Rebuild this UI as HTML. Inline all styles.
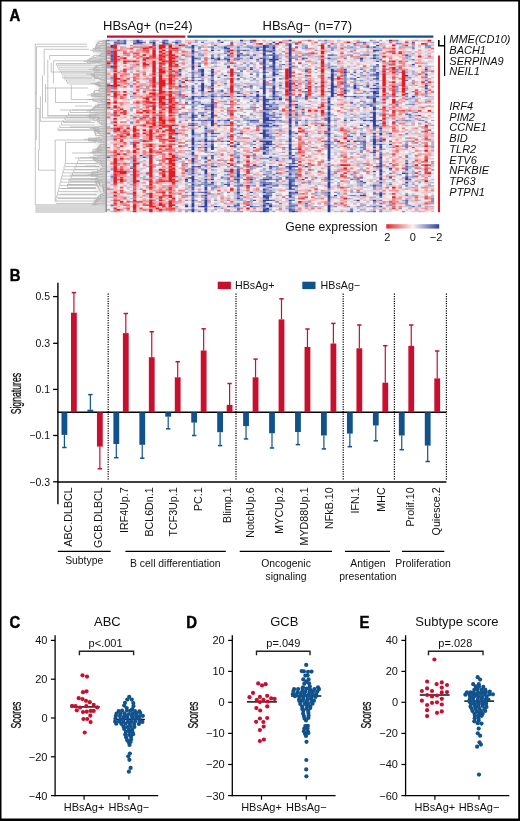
<!DOCTYPE html>
<html><head><meta charset="utf-8"><style>
html,body{margin:0;padding:0;background:#fff;}
svg{display:block;font-family:"Liberation Sans", sans-serif;will-change:transform;}
</style></head><body>
<svg width="520" height="821" viewBox="0 0 520 821">
<path d="M0 0H520V821H0Z M1.5 1.5V818.6H518.2V1.5Z" fill="#000" fill-rule="evenodd"/>
<text x="9.4" y="20.6" font-size="16" font-weight="bold" fill="#000" stroke="#000" stroke-width="0.45" transform="translate(9.4 20.6) scale(0.93 1) translate(-9.4 -20.6)">A</text>
<text x="9.7" y="281.1" font-size="16" font-weight="bold" fill="#000" stroke="#000" stroke-width="0.45" transform="translate(9.7 281.1) scale(0.93 1) translate(-9.7 -281.1)">B</text>
<text x="9.4" y="628.3" font-size="16" font-weight="bold" fill="#000" stroke="#000" stroke-width="0.45" transform="translate(9.4 628.3) scale(0.93 1) translate(-9.4 -628.3)">C</text>
<text x="186.2" y="628.0" font-size="16" font-weight="bold" fill="#000" stroke="#000" stroke-width="0.45" transform="translate(186.2 628.0) scale(0.93 1) translate(-186.2 -628.0)">D</text>
<text x="359.6" y="628.0" font-size="16" font-weight="bold" fill="#000" stroke="#000" stroke-width="0.45" transform="translate(359.6 628.0) scale(0.93 1) translate(-359.6 -628.0)">E</text>
<g stroke="#b2b2b2" stroke-width="0.75" fill="none"><path d="M35.3 44.2L35.3 204.8M36.5 46.7L36.5 93.8M36.3 93.4L36.3 140.0M44.2 49.3L44.2 75.5M42.5 75.5L42.5 117.9M49.7 55.5L49.7 59.6M47.8 59.6L47.8 116.0M53.4 60.8L53.4 83.2M51.2 63.0L51.2 72.0M40.4 96.3L40.4 121.3M39.3 108.3L39.3 150.0M55.5 88.0L55.5 102.5M71.3 85.0L71.3 99.6M55.2 140.0L55.2 202.0M65.6 142.4L65.6 163.5M38.5 150.0L38.5 170.2M45.5 84.0L45.5 102.5M34.8 44.2L87.0 44.2M36.5 46.7L87.0 46.7M44.2 49.3L89.0 49.3M49.7 55.5L90.0 55.5M53.4 60.8L91.0 60.8M56.4 63.8L91.0 63.8M71.3 99.6L91.0 99.6M55.5 102.5L88.0 102.5M47.3 115.5L91.0 115.5M47.3 117.0L91.0 117.0M42.0 117.9L91.0 117.9M40.4 121.3L91.0 121.3M55.2 140.0L96.0 140.0M65.6 142.4L96.0 142.4M38.5 170.2L55.2 170.2M67.0 184.6L96.0 184.6M62.0 188.5L96.0 188.5M60.0 194.2L96.0 194.2M58.0 198.6L96.0 198.6M56.0 203.4L96.0 203.4M35.3 204.8L98.0 204.8M45.5 88.0L88.0 88.0M35.3 93.4L36.5 93.4M36.3 108.3L39.3 108.3M38.5 150.0L39.3 150.0M58.0 130.0L94.0 130.0M70.0 127.0L94.0 127.0M60.0 110.0L92.0 110.0M75.0 106.0L92.0 106.0M72.0 153.0L96.0 153.0M75.0 158.0L96.0 158.0M70.0 175.0L96.0 175.0M68.0 180.0L96.0 180.0M85.0 166.0L96.0 166.0M51.2 72.0L92.0 72.0M62.0 78.0L92.0 78.0M56.4 63.8L95.4 63.8M56.4 63.8L56.4 65.8M57.7 65.8L97.3 65.8M57.7 65.8L57.7 67.8M58.9 67.8L96.2 67.8M58.9 67.8L58.9 69.9M60.2 69.9L97.6 69.9M60.2 69.9L60.2 71.9M61.4 71.9L97.8 71.9M61.4 71.9L61.4 73.9M62.7 73.9L94.4 73.9M62.7 73.9L62.7 75.9M64.0 75.9L94.1 75.9M64.0 75.9L64.0 77.9M65.2 77.9L99.0 77.9M65.2 77.9L65.2 80.0M66.5 80.0L95.6 80.0M66.5 80.0L66.5 82.0M67.7 82.0L95.4 82.0M67.7 82.0L67.7 84.0M69.0 84.0L100.0 84.0M56.0 201.0L96.8 201.0M56.0 201.0L56.0 197.9M56.8 197.9L99.0 197.9M56.8 197.9L56.8 194.8M57.6 194.8L96.9 194.8M57.6 194.8L57.6 191.6M58.4 191.6L97.8 191.6M58.4 191.6L58.4 188.5M59.2 188.5L94.9 188.5M59.2 188.5L59.2 185.4M60.0 185.4L97.8 185.4M60.0 185.4L60.0 182.2M60.8 182.2L99.2 182.2M60.8 182.2L60.8 179.1M61.6 179.1L97.1 179.1M61.6 179.1L61.6 176.0M62.4 176.0L98.4 176.0M62.4 176.0L62.4 172.9M63.2 172.9L98.0 172.9M63.2 172.9L63.2 169.8M64.0 169.8L94.4 169.8M64.0 169.8L64.0 166.6M64.8 166.6L98.5 166.6M64.8 166.6L64.8 163.5M65.6 163.5L97.5 163.5M67.5 187.5L95.8 187.5M67.5 187.5L67.5 184.5M68.8 184.5L94.2 184.5M68.8 184.5L68.8 181.5M70.0 181.5L99.2 181.5M70.0 181.5L70.0 178.6M71.2 178.6L96.8 178.6M71.2 178.6L71.2 175.6M72.5 175.6L98.3 175.6M72.5 175.6L72.5 172.6M73.8 172.6L99.3 172.6M73.8 172.6L73.8 169.6M75.0 169.6L98.3 169.6M75.0 169.6L75.0 166.6M76.2 166.6L99.5 166.6M76.2 166.6L76.2 163.7M77.5 163.7L96.4 163.7M77.5 163.7L77.5 160.7M78.8 160.7L98.8 160.7M78.8 160.7L78.8 157.7M80.0 157.7L96.7 157.7M58.0 130.0L99.6 130.0M58.0 130.0L58.0 127.5M59.8 127.5L99.3 127.5M59.8 127.5L59.8 125.0M61.5 125.0L94.6 125.0M61.5 125.0L61.5 122.5M63.2 122.5L94.8 122.5M63.2 122.5L63.2 120.0M65.0 120.0L95.3 120.0M65.0 120.0L65.0 117.5M66.8 117.5L99.8 117.5M66.8 117.5L66.8 115.0M68.5 115.0L96.6 115.0M68.5 115.0L68.5 112.5M70.2 112.5L97.8 112.5M70.2 112.5L70.2 110.0M72.0 110.0L95.8 110.0M103.0 40.6L103.0 42.2M103.0 40.6L105.0 40.6M103.0 42.2L105.0 42.2M98.7 41.4L98.7 43.8M98.7 41.4L103.0 41.4M98.7 43.8L105.0 43.8M97.3 42.6L97.3 45.4M97.3 42.6L98.7 42.6M97.3 45.4L105.0 45.4M96.5 44.0L96.5 47.0M96.5 44.0L97.3 44.0M96.5 47.0L105.0 47.0M95.8 45.5L95.8 48.6M95.8 45.5L96.5 45.5M95.8 48.6L105.0 48.6M95.3 47.0L95.3 50.2M95.3 47.0L95.8 47.0M95.3 50.2L105.0 50.2M93.0 48.6L93.0 51.8M93.0 48.6L95.3 48.6M93.0 51.8L105.0 51.8M89.7 50.2L93.0 50.2M94.3 49.2L100.7 45.4M94.6 49.5L100.5 47.0M93.0 50.2L101.1 50.2M101.8 53.4L101.8 55.0M101.8 53.4L105.0 53.4M101.8 55.0L105.0 55.0M100.0 54.2L100.0 56.6M100.0 54.2L101.8 54.2M100.0 56.6L105.0 56.6M93.8 55.4L93.8 58.2M93.8 55.4L100.0 55.4M93.8 58.2L105.0 58.2M91.8 56.8L91.8 59.8M91.8 56.8L93.8 56.8M91.8 59.8L105.0 59.8M89.3 58.3L89.3 61.3M89.3 58.3L91.8 58.3M89.3 61.3L105.0 61.3M87.5 59.8L87.5 62.9M87.5 59.8L89.3 59.8M87.5 62.9L105.0 62.9M83.7 61.4L87.5 61.4M88.9 60.1L101.7 55.0M89.7 61.1L101.8 59.8M88.5 61.4L102.9 61.3M87.9 61.7L100.6 62.9M102.3 64.5L102.3 66.1M102.3 64.5L105.0 64.5M102.3 66.1L105.0 66.1M96.0 65.3L96.0 67.7M96.0 65.3L102.3 65.3M96.0 67.7L105.0 67.7M95.8 66.5L95.8 69.3M95.8 66.5L96.0 66.5M95.8 69.3L105.0 69.3M93.2 67.9L93.2 70.9M93.2 67.9L95.8 67.9M93.2 70.9L105.0 70.9M88.5 69.4L93.2 69.4M94.1 68.5L101.5 64.5M94.4 69.4L99.8 69.3M93.4 69.7L100.1 70.9M103.8 80.5L103.8 78.9M103.8 80.5L105.0 80.5M103.8 78.9L105.0 78.9M100.9 79.7L100.9 77.3M100.9 79.7L103.8 79.7M100.9 77.3L105.0 77.3M94.4 78.5L94.4 75.7M94.4 78.5L100.9 78.5M94.4 75.7L105.0 75.7M94.1 77.1L94.1 74.1M94.1 77.1L94.4 77.1M94.1 74.1L105.0 74.1M93.9 75.6L93.9 72.5M93.9 75.6L94.1 75.6M93.9 72.5L105.0 72.5M86.5 74.1L93.9 74.1M91.3 75.4L102.5 80.5M90.6 74.7L99.3 77.3M91.0 74.1L100.6 74.1M99.8 86.9L99.8 85.3M99.8 86.9L105.0 86.9M99.8 85.3L105.0 85.3M98.4 86.1L98.4 83.7M98.4 86.1L99.8 86.1M98.4 83.7L105.0 83.7M97.0 84.9L97.0 82.1M97.0 84.9L98.4 84.9M97.0 82.1L105.0 82.1M90.7 83.5L97.0 83.5M94.6 84.2L101.5 86.9M94.6 83.9L101.5 85.3M95.4 83.2L100.1 82.1M99.5 88.5L99.5 90.1M99.5 88.5L105.0 88.5M99.5 90.1L105.0 90.1M99.1 89.3L99.1 91.7M99.1 89.3L99.5 89.3M99.1 91.7L105.0 91.7M94.6 90.5L94.6 93.3M94.6 90.5L99.1 90.5M94.6 93.3L105.0 93.3M93.8 91.9L93.8 94.9M93.8 91.9L94.6 91.9M93.8 94.9L105.0 94.9M91.4 93.4L91.4 96.5M91.4 93.4L93.8 93.4M91.4 96.5L105.0 96.5M87.0 94.9L91.4 94.9M92.4 94.6L99.2 93.3M92.2 94.9L102.1 94.9M90.8 95.2L99.9 96.5M101.8 102.9L101.8 101.3M101.8 102.9L105.0 102.9M101.8 101.3L105.0 101.3M101.3 102.1L101.3 99.7M101.3 102.1L101.8 102.1M101.3 99.7L105.0 99.7M92.8 100.9L92.8 98.1M92.8 100.9L101.3 100.9M92.8 98.1L105.0 98.1M87.2 99.5L92.8 99.5M92.7 100.1L100.4 102.9M90.6 99.5L101.8 99.7M97.8 104.5L97.8 106.0M97.8 104.5L105.0 104.5M97.8 106.0L105.0 106.0M95.6 105.2L95.6 107.6M95.6 105.2L97.8 105.2M95.6 107.6L105.0 107.6M93.9 106.4L93.9 109.2M93.9 106.4L95.6 106.4M93.9 109.2L105.0 109.2M92.6 107.8L92.6 110.8M92.6 107.8L93.9 107.8M92.6 110.8L105.0 110.8M90.2 109.3L90.2 112.4M90.2 109.3L92.6 109.3M90.2 112.4L105.0 112.4M86.7 110.9L90.2 110.9M92.2 109.6L100.5 104.5M91.4 109.9L99.1 106.0M91.1 110.6L100.0 109.2M102.5 125.2L102.5 123.6M102.5 125.2L105.0 125.2M102.5 123.6L105.0 123.6M101.1 124.4L101.1 122.0M101.1 124.4L102.5 124.4M101.1 122.0L105.0 122.0M99.3 123.2L99.3 120.4M99.3 123.2L101.1 123.2M99.3 120.4L105.0 120.4M97.7 121.8L97.7 118.8M97.7 121.8L99.3 121.8M97.7 118.8L105.0 118.8M93.1 120.3L93.1 117.2M93.1 120.3L97.7 120.3M93.1 117.2L105.0 117.2M89.8 118.8L89.8 115.6M89.8 118.8L93.1 118.8M89.8 115.6L105.0 115.6M89.4 117.2L89.4 114.0M89.4 117.2L89.8 117.2M89.4 114.0L105.0 114.0M85.7 115.6L89.4 115.6M88.8 116.6L100.0 120.4M89.6 116.3L100.3 118.8M90.0 115.9L99.2 117.2M89.5 115.3L99.6 114.0M102.7 136.4L102.7 134.8M102.7 136.4L105.0 136.4M102.7 134.8L105.0 134.8M95.6 135.6L95.6 133.2M95.6 135.6L102.7 135.6M95.6 133.2L105.0 133.2M95.2 134.4L95.2 131.6M95.2 134.4L95.6 134.4M95.2 131.6L105.0 131.6M95.0 133.0L95.0 130.0M95.0 133.0L95.2 133.0M95.0 130.0L105.0 130.0M93.9 131.5L93.9 128.4M93.9 131.5L95.0 131.5M93.9 128.4L105.0 128.4M93.9 129.9L93.9 126.8M93.9 129.9L93.9 129.9M93.9 126.8L105.0 126.8M89.5 128.4L93.9 128.4M95.3 129.7L101.0 134.8M93.7 129.3L100.0 133.2M94.3 129.0L100.9 131.6M93.5 128.7L99.7 130.0M103.6 142.8L103.6 141.2M103.6 142.8L105.0 142.8M103.6 141.2L105.0 141.2M101.5 142.0L101.5 139.6M101.5 142.0L103.6 142.0M101.5 139.6L105.0 139.6M88.5 140.8L88.5 138.0M88.5 140.8L101.5 140.8M88.5 138.0L105.0 138.0M84.0 139.4L88.5 139.4M87.9 140.0L101.7 142.8M88.9 139.7L100.7 141.2M87.6 139.4L101.7 139.6M88.7 139.1L100.1 138.0M99.9 144.4L99.9 146.0M99.9 144.4L105.0 144.4M99.9 146.0L105.0 146.0M99.8 145.2L99.8 147.6M99.8 145.2L99.9 145.2M99.8 147.6L105.0 147.6M98.7 146.4L98.7 149.1M98.7 146.4L99.8 146.4M98.7 149.1L105.0 149.1M97.7 147.7L97.7 150.7M97.7 147.7L98.7 147.7M97.7 150.7L105.0 150.7M92.9 149.2L92.9 152.3M92.9 149.2L97.7 149.2M92.9 152.3L105.0 152.3M92.9 150.8L92.9 153.9M92.9 150.8L92.9 150.8M92.9 153.9L105.0 153.9M89.4 152.4L92.9 152.4M94.2 151.1L100.0 146.0M95.2 151.4L101.3 147.6M93.0 151.7L101.9 149.1M94.8 152.0L102.1 150.7M92.4 152.4L101.7 152.3M102.7 166.7L102.7 165.1M102.7 166.7L105.0 166.7M102.7 165.1L105.0 165.1M101.8 165.9L101.8 163.5M101.8 165.9L102.7 165.9M101.8 163.5L105.0 163.5M101.6 164.7L101.6 161.9M101.6 164.7L101.8 164.7M101.6 161.9L105.0 161.9M100.1 163.3L100.1 160.3M100.1 163.3L101.6 163.3M100.1 160.3L105.0 160.3M100.1 161.8L100.1 158.7M100.1 161.8L100.1 161.8M100.1 158.7L105.0 158.7M97.7 160.3L97.7 157.1M97.7 160.3L100.1 160.3M97.7 157.1L105.0 157.1M93.8 158.7L93.8 155.5M93.8 158.7L97.7 158.7M93.8 155.5L105.0 155.5M89.3 157.1L93.8 157.1M92.6 158.7L100.6 165.1M92.8 158.4L99.9 163.5M92.6 158.1L102.6 161.9M92.4 157.4L99.6 158.7M94.9 157.1L100.3 157.1M100.9 168.3L100.9 169.9M100.9 168.3L105.0 168.3M100.9 169.9L105.0 169.9M100.2 169.1L100.2 171.5M100.2 169.1L100.9 169.1M100.2 171.5L105.0 171.5M97.5 170.3L97.5 173.1M97.5 170.3L100.2 170.3M97.5 173.1L105.0 173.1M92.1 171.7L92.1 174.7M92.1 171.7L97.5 171.7M92.1 174.7L105.0 174.7M91.1 173.2L91.1 176.3M91.1 173.2L92.1 173.2M91.1 176.3L105.0 176.3M87.6 174.7L91.1 174.7M91.6 174.1L100.7 171.5M91.2 174.7L102.0 174.7M103.7 192.2L103.7 190.6M103.7 192.2L105.0 192.2M103.7 190.6L105.0 190.6M103.6 191.4L103.6 189.1M103.6 191.4L103.7 191.4M103.6 189.1L105.0 189.1M103.4 190.3L103.4 187.5M103.4 190.3L103.6 190.3M103.4 187.5L105.0 187.5M103.3 188.9L103.3 185.9M103.3 188.9L103.4 188.9M103.3 185.9L105.0 185.9M102.4 187.4L102.4 184.3M102.4 187.4L103.3 187.4M102.4 184.3L105.0 184.3M99.8 185.8L99.8 182.7M99.8 185.8L102.4 185.8M99.8 182.7L105.0 182.7M99.4 184.2L99.4 181.1M99.4 184.2L99.8 184.2M99.4 181.1L105.0 181.1M97.5 182.7L97.5 179.5M97.5 182.7L99.4 182.7M97.5 179.5L105.0 179.5M96.0 181.1L96.0 177.9M96.0 181.1L97.5 181.1M96.0 177.9L105.0 177.9M90.5 179.5L96.0 179.5M95.2 182.0L100.7 192.2M94.7 181.1L99.4 187.5M95.0 180.8L101.1 185.9M96.1 179.8L102.5 181.1M95.1 179.2L99.3 177.9M102.2 193.8L102.2 195.4M102.2 193.8L105.0 193.8M102.2 195.4L105.0 195.4M100.3 194.6L100.3 197.0M100.3 194.6L102.2 194.6M100.3 197.0L105.0 197.0M98.8 195.8L98.8 198.6M98.8 195.8L100.3 195.8M98.8 198.6L105.0 198.6M97.5 197.2L97.5 200.2M97.5 197.2L98.8 197.2M97.5 200.2L105.0 200.2M96.7 198.7L96.7 201.8M96.7 198.7L97.5 198.7M96.7 201.8L105.0 201.8M95.2 200.3L95.2 203.4M95.2 200.3L96.7 200.3M95.2 203.4L105.0 203.4M94.9 201.8L94.9 205.0M94.9 201.8L95.2 201.8M94.9 205.0L105.0 205.0M94.2 203.4L94.2 206.6M94.2 203.4L94.9 203.4M94.2 206.6L105.0 206.6M91.8 205.0L91.8 208.2M91.8 205.0L94.2 205.0M91.8 208.2L105.0 208.2M88.5 206.6L91.8 206.6M92.0 204.1L101.6 193.8M93.9 204.4L102.4 195.4M93.3 205.0L101.1 198.6M93.0 206.0L100.1 203.4M93.7 206.6L99.2 206.6M92.2 206.9L102.1 208.2M94.8 211.4L94.8 209.8M94.8 211.4L105.0 211.4M94.8 209.8L105.0 209.8M89.2 210.6L94.8 210.6M94.9 210.8L99.9 211.4M94.1 210.4L100.3 209.8"/></g><defs><linearGradient id="dg" x1="0" x2="1" y1="0" y2="0"><stop offset="0" stop-color="#999" stop-opacity="0"/><stop offset="1" stop-color="#999" stop-opacity="0.4"/></linearGradient></defs><rect x="93" y="39.8" width="12.4" height="172.4" fill="url(#dg)"/><rect x="35.3" y="205.6" width="69.5" height="7" fill="#d9d9d9"/><path d="M35.3 205.8H104.6M35.3 208.4H104.6M35.3 210.6H104.6M35.3 212.5H104.6" stroke="#cfcfcf" stroke-width="0.7"/><rect x="105.4" y="39.8" width="1.6" height="172.4" fill="#8e8e8e"/>
<defs><filter id="hb" x="-2%" y="-2%" width="104%" height="104%"><feGaussianBlur stdDeviation="0.35"/></filter><clipPath id="hc"><rect x="107.0" y="39.8" width="327.2" height="172.4"/></clipPath></defs><g clip-path="url(#hc)"><g filter="url(#hb)"><g transform="translate(107.0 39.8) scale(3.23960 1.59630)"><rect x="-1" y="-1" width="103" height="110" fill="rgb(246, 232, 233)"/><path fill="#2e40a0" d="M1 3h1.06v2.1h-1.06zM1 7h1.06v1.1h-1.06zM1 16h1.06v1.1h-1.06zM1 28h1.06v1.1h-1.06zM8 2h1.06v1.1h-1.06zM9 -1h1.06v3.1h-1.06zM10 1h1.06v1.1h-1.06zM10 72h1.06v1.1h-1.06zM14 1h1.06v2.1h-1.06zM17 1h1.06v1.1h-1.06zM18 2h1.06v1.1h-1.06zM21 1h1.06v1.1h-1.06zM21 58h1.06v1.1h-1.06zM22 3h1.06v1.1h-1.06zM22 18h1.06v1.1h-1.06zM22 21h1.06v1.1h-1.06zM24 25h1.06v1.1h-1.06zM24 87h1.06v1.1h-1.06zM24 104h1.06v1.1h-1.06zM25 86h1.06v1.1h-1.06zM26 3h1.06v2.1h-1.06zM26 6h1.06v2.1h-1.06zM26 10h1.06v5.1h-1.06zM26 16h1.06v2.1h-1.06zM26 25h1.06v1.1h-1.06zM26 30h1.06v1.1h-1.06zM26 32h1.06v1.1h-1.06zM26 35h1.06v2.1h-1.06zM26 39h1.06v1.1h-1.06zM26 47h1.06v2.1h-1.06zM26 50h1.06v1.1h-1.06zM26 53h1.06v1.1h-1.06zM26 56h1.06v4.1h-1.06zM26 61h1.06v5.1h-1.06zM26 67h1.06v2.1h-1.06zM26 70h1.06v2.1h-1.06zM26 74h1.06v3.1h-1.06zM26 79h1.06v1.1h-1.06zM26 81h1.06v1.1h-1.06zM26 85h1.06v4.1h-1.06zM26 90h1.06v1.1h-1.06zM26 93h1.06v1.1h-1.06zM26 95h1.06v3.1h-1.06zM26 100h1.06v1.1h-1.06zM26 102h1.06v3.1h-1.06zM26 106h1.06v3.1h-1.06zM28 16h1.06v1.1h-1.06zM29 18h1.06v2.1h-1.06zM29 21h1.06v2.1h-1.06zM29 27h1.06v5.1h-1.06zM29 35h1.06v1.1h-1.06zM29 40h1.06v1.1h-1.06zM29 47h1.06v1.1h-1.06zM29 104h1.06v1.1h-1.06zM30 50h1.06v1.1h-1.06zM30 55h1.06v1.1h-1.06zM30 58h1.06v1.1h-1.06zM30 62h1.06v2.1h-1.06zM30 65h1.06v1.1h-1.06zM30 67h1.06v1.1h-1.06zM30 74h1.06v1.1h-1.06zM30 76h1.06v1.1h-1.06zM30 81h1.06v3.1h-1.06zM30 87h1.06v1.1h-1.06zM30 92h1.06v2.1h-1.06zM30 95h1.06v1.1h-1.06zM30 97h1.06v1.1h-1.06zM30 100h1.06v5.1h-1.06zM30 106h1.06v1.1h-1.06zM31 32h1.06v1.1h-1.06zM32 6h1.06v1.1h-1.06zM32 11h1.06v1.1h-1.06zM32 18h1.06v1.1h-1.06zM32 20h1.06v1.1h-1.06zM32 22h1.06v1.1h-1.06zM32 25h1.06v1.1h-1.06zM32 28h1.06v1.1h-1.06zM32 30h1.06v1.1h-1.06zM32 35h1.06v1.1h-1.06zM32 37h1.06v1.1h-1.06zM32 40h1.06v4.1h-1.06zM32 45h1.06v4.1h-1.06zM32 50h1.06v4.1h-1.06zM32 58h1.06v1.1h-1.06zM32 63h1.06v1.1h-1.06zM32 66h1.06v3.1h-1.06zM32 84h1.06v1.1h-1.06zM32 87h1.06v1.1h-1.06zM32 89h1.06v1.1h-1.06zM33 104h1.06v1.1h-1.06zM34 11h1.06v2.1h-1.06zM35 1h1.06v1.1h-1.06zM36 4h1.06v1.1h-1.06zM37 5h1.06v1.1h-1.06zM37 7h1.06v1.1h-1.06zM37 9h1.06v1.1h-1.06zM37 12h1.06v1.1h-1.06zM37 35h1.06v1.1h-1.06zM37 50h1.06v1.1h-1.06zM37 63h1.06v1.1h-1.06zM37 77h1.06v1.1h-1.06zM40 9h1.06v1.1h-1.06zM40 24h1.06v1.1h-1.06zM40 35h1.06v1.1h-1.06zM40 65h1.06v1.1h-1.06zM40 81h1.06v1.1h-1.06zM40 84h1.06v2.1h-1.06zM40 87h1.06v1.1h-1.06zM40 95h1.06v1.1h-1.06zM40 99h1.06v1.1h-1.06zM40 103h1.06v1.1h-1.06zM41 -1h1.06v2.1h-1.06zM41 97h1.06v1.1h-1.06zM42 35h1.06v1.1h-1.06zM44 18h1.06v1.1h-1.06zM44 87h1.06v1.1h-1.06zM44 95h1.06v1.1h-1.06zM44 104h1.06v1.1h-1.06zM45 67h1.06v1.1h-1.06zM46 5h1.06v1.1h-1.06zM46 32h1.06v1.1h-1.06zM46 34h1.06v2.1h-1.06zM47 58h1.06v1.1h-1.06zM47 63h1.06v1.1h-1.06zM48 3h1.06v4.1h-1.06zM48 8h1.06v2.1h-1.06zM48 12h1.06v3.1h-1.06zM48 16h1.06v3.1h-1.06zM48 20h1.06v1.1h-1.06zM48 22h1.06v2.1h-1.06zM48 25h1.06v9.1h-1.06zM48 35h1.06v9.1h-1.06zM48 45h1.06v7.1h-1.06zM48 53h1.06v2.1h-1.06zM48 56h1.06v5.1h-1.06zM48 63h1.06v1.1h-1.06zM48 65h1.06v1.1h-1.06zM48 67h1.06v2.1h-1.06zM48 70h1.06v2.1h-1.06zM48 87h1.06v1.1h-1.06zM48 90h1.06v2.1h-1.06zM48 93h1.06v1.1h-1.06zM48 95h1.06v1.1h-1.06zM48 97h1.06v2.1h-1.06zM48 100h1.06v1.1h-1.06zM48 103h1.06v1.1h-1.06zM48 106h1.06v3.1h-1.06zM49 4h1.06v1.1h-1.06zM49 37h1.06v1.1h-1.06zM49 40h1.06v1.1h-1.06zM49 43h1.06v1.1h-1.06zM49 46h1.06v1.1h-1.06zM49 49h1.06v2.1h-1.06zM49 53h1.06v1.1h-1.06zM49 59h1.06v1.1h-1.06zM49 63h1.06v3.1h-1.06zM49 67h1.06v1.1h-1.06zM49 87h1.06v1.1h-1.06zM49 98h1.06v1.1h-1.06zM49 100h1.06v1.1h-1.06zM49 102h1.06v1.1h-1.06zM49 105h1.06v1.1h-1.06zM50 2h1.06v1.1h-1.06zM50 7h1.06v1.1h-1.06zM50 9h1.06v1.1h-1.06zM50 12h1.06v1.1h-1.06zM50 41h1.06v1.1h-1.06zM50 50h1.06v1.1h-1.06zM50 63h1.06v1.1h-1.06zM50 65h1.06v1.1h-1.06zM50 73h1.06v1.1h-1.06zM50 79h1.06v1.1h-1.06zM50 103h1.06v2.1h-1.06zM51 1h1.06v1.1h-1.06zM51 4h1.06v2.1h-1.06zM51 8h1.06v1.1h-1.06zM51 10h1.06v5.1h-1.06zM51 16h1.06v1.1h-1.06zM51 18h1.06v1.1h-1.06zM51 20h1.06v3.1h-1.06zM51 24h1.06v2.1h-1.06zM51 29h1.06v2.1h-1.06zM51 32h1.06v2.1h-1.06zM51 35h1.06v1.1h-1.06zM51 50h1.06v1.1h-1.06zM51 53h1.06v1.1h-1.06zM52 12h1.06v1.1h-1.06zM53 37h1.06v1.1h-1.06zM55 86h1.06v1.1h-1.06zM56 -1h1.06v2.1h-1.06zM56 2h1.06v8.1h-1.06zM56 11h1.06v3.1h-1.06zM56 15h1.06v1.1h-1.06zM56 17h1.06v7.1h-1.06zM56 25h1.06v1.1h-1.06zM56 27h1.06v5.1h-1.06zM56 33h1.06v1.1h-1.06zM56 35h1.06v4.1h-1.06zM56 40h1.06v2.1h-1.06zM56 43h1.06v2.1h-1.06zM56 46h1.06v2.1h-1.06zM56 49h1.06v3.1h-1.06zM56 53h1.06v2.1h-1.06zM56 56h1.06v4.1h-1.06zM56 61h1.06v3.1h-1.06zM56 65h1.06v4.1h-1.06zM56 70h1.06v2.1h-1.06zM56 74h1.06v1.1h-1.06zM56 79h1.06v2.1h-1.06zM56 84h1.06v1.1h-1.06zM56 89h1.06v5.1h-1.06zM56 95h1.06v1.1h-1.06zM56 97h1.06v2.1h-1.06zM56 100h1.06v1.1h-1.06zM56 106h1.06v1.1h-1.06zM57 77h1.06v1.1h-1.06zM57 79h1.06v1.1h-1.06zM57 91h1.06v1.1h-1.06zM57 93h1.06v1.1h-1.06zM57 107h1.06v2.1h-1.06zM58 40h1.06v1.1h-1.06zM58 42h1.06v1.1h-1.06zM58 79h1.06v1.1h-1.06zM58 91h1.06v1.1h-1.06zM58 95h1.06v1.1h-1.06zM60 87h1.06v1.1h-1.06zM61 19h1.06v1.1h-1.06zM61 35h1.06v1.1h-1.06zM61 53h1.06v1.1h-1.06zM61 86h1.06v1.1h-1.06zM68 36h1.06v1.1h-1.06zM68 38h1.06v2.1h-1.06zM68 42h1.06v2.1h-1.06zM68 45h1.06v2.1h-1.06zM68 48h1.06v4.1h-1.06zM68 53h1.06v1.1h-1.06zM68 55h1.06v2.1h-1.06zM68 58h1.06v2.1h-1.06zM68 63h1.06v1.1h-1.06zM68 65h1.06v10.1h-1.06zM68 79h1.06v1.1h-1.06zM68 81h1.06v7.1h-1.06zM68 89h1.06v4.1h-1.06zM68 95h1.06v1.1h-1.06zM68 97h1.06v2.1h-1.06zM68 103h1.06v6.1h-1.06zM69 18h1.06v2.1h-1.06zM69 21h1.06v5.1h-1.06zM69 27h1.06v9.1h-1.06zM70 29h1.06v1.1h-1.06zM70 97h1.06v1.1h-1.06zM71 63h1.06v1.1h-1.06zM73 18h1.06v1.1h-1.06zM73 20h1.06v1.1h-1.06zM73 31h1.06v1.1h-1.06zM73 35h1.06v1.1h-1.06zM73 50h1.06v1.1h-1.06zM74 63h1.06v1.1h-1.06zM75 39h1.06v1.1h-1.06zM76 2h1.06v1.1h-1.06zM76 24h1.06v1.1h-1.06zM76 28h1.06v3.1h-1.06zM76 35h1.06v1.1h-1.06zM76 63h1.06v1.1h-1.06zM77 100h1.06v1.1h-1.06zM78 11h1.06v1.1h-1.06zM78 53h1.06v1.1h-1.06zM78 88h1.06v1.1h-1.06zM78 97h1.06v1.1h-1.06zM79 50h1.06v1.1h-1.06zM79 60h1.06v1.1h-1.06zM79 97h1.06v1.1h-1.06zM80 4h1.06v1.1h-1.06zM81 50h1.06v1.1h-1.06zM82 4h1.06v1.1h-1.06zM82 6h1.06v1.1h-1.06zM82 9h1.06v1.1h-1.06zM82 11h1.06v1.1h-1.06zM82 30h1.06v1.1h-1.06zM82 32h1.06v2.1h-1.06zM82 36h1.06v3.1h-1.06zM82 42h1.06v2.1h-1.06zM82 45h1.06v9.1h-1.06zM82 58h1.06v1.1h-1.06zM82 62h1.06v4.1h-1.06zM82 67h1.06v1.1h-1.06zM82 70h1.06v1.1h-1.06zM82 82h1.06v1.1h-1.06zM82 91h1.06v1.1h-1.06zM82 100h1.06v1.1h-1.06zM83 3h1.06v1.1h-1.06zM83 20h1.06v1.1h-1.06zM83 24h1.06v1.1h-1.06zM83 30h1.06v1.1h-1.06zM83 33h1.06v1.1h-1.06zM83 35h1.06v1.1h-1.06zM84 55h1.06v1.1h-1.06zM84 58h1.06v2.1h-1.06zM84 63h1.06v1.1h-1.06zM84 65h1.06v1.1h-1.06zM84 67h1.06v1.1h-1.06zM84 73h1.06v1.1h-1.06zM84 77h1.06v1.1h-1.06zM84 79h1.06v1.1h-1.06zM84 81h1.06v2.1h-1.06zM84 84h1.06v1.1h-1.06zM84 86h1.06v2.1h-1.06zM84 89h1.06v1.1h-1.06zM84 96h1.06v2.1h-1.06zM84 104h1.06v1.1h-1.06zM87 -1h1.06v2.1h-1.06zM87 65h1.06v1.1h-1.06zM87 80h1.06v1.1h-1.06zM91 83h1.06v1.1h-1.06zM92 9h1.06v1.1h-1.06zM92 22h1.06v1.1h-1.06zM92 46h1.06v1.1h-1.06zM92 77h1.06v1.1h-1.06zM92 86h1.06v2.1h-1.06zM92 89h1.06v1.1h-1.06zM94 15h1.06v1.1h-1.06zM94 35h1.06v1.1h-1.06zM98 18h1.06v1.1h-1.06zM98 28h1.06v1.1h-1.06zM98 30h1.06v1.1h-1.06z"/><path fill="#4555aa" d="M1 9h1.06v2.1h-1.06zM1 12h1.06v1.1h-1.06zM1 103h1.06v1.1h-1.06zM5 2h1.06v1.1h-1.06zM11 73h1.06v1.1h-1.06zM17 2h1.06v1.1h-1.06zM22 19h1.06v1.1h-1.06zM22 28h1.06v2.1h-1.06zM22 34h1.06v1.1h-1.06zM22 46h1.06v1.1h-1.06zM24 39h1.06v1.1h-1.06zM24 88h1.06v1.1h-1.06zM24 103h1.06v1.1h-1.06zM26 18h1.06v1.1h-1.06zM26 23h1.06v1.1h-1.06zM26 46h1.06v1.1h-1.06zM26 52h1.06v1.1h-1.06zM26 83h1.06v1.1h-1.06zM26 92h1.06v1.1h-1.06zM28 79h1.06v1.1h-1.06zM29 20h1.06v1.1h-1.06zM30 43h1.06v1.1h-1.06zM30 73h1.06v1.1h-1.06zM30 99h1.06v1.1h-1.06zM30 105h1.06v1.1h-1.06zM31 41h1.06v1.1h-1.06zM32 19h1.06v1.1h-1.06zM32 27h1.06v1.1h-1.06zM32 32h1.06v1.1h-1.06zM32 38h1.06v2.1h-1.06zM32 44h1.06v1.1h-1.06zM32 65h1.06v1.1h-1.06zM32 72h1.06v1.1h-1.06zM32 79h1.06v1.1h-1.06zM33 79h1.06v1.1h-1.06zM34 -1h1.06v2.1h-1.06zM36 5h1.06v1.1h-1.06zM36 22h1.06v1.1h-1.06zM36 35h1.06v1.1h-1.06zM36 90h1.06v1.1h-1.06zM37 16h1.06v1.1h-1.06zM37 90h1.06v1.1h-1.06zM37 104h1.06v1.1h-1.06zM38 2h1.06v1.1h-1.06zM39 66h1.06v1.1h-1.06zM39 87h1.06v1.1h-1.06zM40 10h1.06v1.1h-1.06zM40 22h1.06v1.1h-1.06zM40 33h1.06v1.1h-1.06zM40 42h1.06v1.1h-1.06zM40 76h1.06v1.1h-1.06zM40 82h1.06v2.1h-1.06zM41 58h1.06v1.1h-1.06zM42 6h1.06v1.1h-1.06zM42 29h1.06v1.1h-1.06zM43 9h1.06v1.1h-1.06zM44 11h1.06v1.1h-1.06zM44 50h1.06v1.1h-1.06zM45 9h1.06v1.1h-1.06zM45 50h1.06v1.1h-1.06zM45 63h1.06v1.1h-1.06zM45 100h1.06v1.1h-1.06zM46 6h1.06v1.1h-1.06zM46 38h1.06v1.1h-1.06zM47 11h1.06v1.1h-1.06zM47 53h1.06v1.1h-1.06zM48 7h1.06v1.1h-1.06zM48 15h1.06v1.1h-1.06zM48 19h1.06v1.1h-1.06zM48 61h1.06v1.1h-1.06zM48 66h1.06v1.1h-1.06zM48 101h1.06v1.1h-1.06zM48 104h1.06v1.1h-1.06zM49 48h1.06v1.1h-1.06zM49 54h1.06v1.1h-1.06zM49 60h1.06v1.1h-1.06zM49 90h1.06v1.1h-1.06zM49 97h1.06v1.1h-1.06zM49 99h1.06v1.1h-1.06zM49 106h1.06v1.1h-1.06zM50 54h1.06v1.1h-1.06zM50 86h1.06v1.1h-1.06zM50 100h1.06v1.1h-1.06zM51 6h1.06v1.1h-1.06zM51 9h1.06v1.1h-1.06zM51 15h1.06v1.1h-1.06zM51 17h1.06v1.1h-1.06zM51 31h1.06v1.1h-1.06zM51 34h1.06v1.1h-1.06zM51 37h1.06v1.1h-1.06zM51 43h1.06v1.1h-1.06zM52 21h1.06v1.1h-1.06zM52 75h1.06v1.1h-1.06zM53 36h1.06v1.1h-1.06zM55 79h1.06v1.1h-1.06zM56 10h1.06v1.1h-1.06zM56 26h1.06v1.1h-1.06zM56 39h1.06v1.1h-1.06zM56 52h1.06v1.1h-1.06zM56 73h1.06v1.1h-1.06zM56 87h1.06v2.1h-1.06zM56 96h1.06v1.1h-1.06zM57 72h1.06v1.1h-1.06zM57 88h1.06v1.1h-1.06zM58 4h1.06v1.1h-1.06zM58 51h1.06v1.1h-1.06zM58 58h1.06v1.1h-1.06zM58 86h1.06v1.1h-1.06zM60 11h1.06v1.1h-1.06zM60 43h1.06v1.1h-1.06zM61 30h1.06v1.1h-1.06zM61 36h1.06v1.1h-1.06zM61 79h1.06v1.1h-1.06zM64 36h1.06v1.1h-1.06zM68 9h1.06v1.1h-1.06zM68 11h1.06v1.1h-1.06zM68 37h1.06v1.1h-1.06zM68 41h1.06v1.1h-1.06zM68 60h1.06v1.1h-1.06zM68 75h1.06v1.1h-1.06zM68 80h1.06v1.1h-1.06zM68 96h1.06v1.1h-1.06zM68 99h1.06v2.1h-1.06zM69 9h1.06v1.1h-1.06zM69 26h1.06v1.1h-1.06zM70 19h1.06v1.1h-1.06zM73 33h1.06v1.1h-1.06zM75 107h1.06v2.1h-1.06zM76 20h1.06v1.1h-1.06zM77 23h1.06v1.1h-1.06zM78 86h1.06v1.1h-1.06zM79 89h1.06v1.1h-1.06zM80 9h1.06v1.1h-1.06zM80 29h1.06v1.1h-1.06zM80 40h1.06v1.1h-1.06zM80 53h1.06v1.1h-1.06zM81 41h1.06v1.1h-1.06zM82 24h1.06v1.1h-1.06zM82 28h1.06v1.1h-1.06zM82 54h1.06v1.1h-1.06zM82 60h1.06v1.1h-1.06zM82 69h1.06v1.1h-1.06zM83 6h1.06v1.1h-1.06zM83 13h1.06v1.1h-1.06zM83 21h1.06v1.1h-1.06zM83 27h1.06v1.1h-1.06zM83 53h1.06v1.1h-1.06zM83 79h1.06v1.1h-1.06zM84 50h1.06v1.1h-1.06zM84 66h1.06v1.1h-1.06zM84 71h1.06v1.1h-1.06zM84 74h1.06v1.1h-1.06zM84 76h1.06v1.1h-1.06zM84 78h1.06v1.1h-1.06zM84 83h1.06v1.1h-1.06zM87 58h1.06v1.1h-1.06zM87 86h1.06v1.1h-1.06zM92 3h1.06v1.1h-1.06zM92 33h1.06v1.1h-1.06zM92 81h1.06v1.1h-1.06zM94 1h1.06v1.1h-1.06zM96 47h1.06v1.1h-1.06zM98 2h1.06v1.1h-1.06zM98 21h1.06v1.1h-1.06zM98 53h1.06v1.1h-1.06z"/><path fill="#5b69b3" d="M-1 73h1.06v1.1h-1.06zM0 73h1.06v1.1h-1.06zM1 11h1.06v1.1h-1.06zM1 13h1.06v1.1h-1.06zM1 17h1.06v1.1h-1.06zM1 32h1.06v1.1h-1.06zM2 1h1.06v1.1h-1.06zM3 -1h1.06v2.1h-1.06zM3 2h1.06v1.1h-1.06zM3 10h1.06v1.1h-1.06zM4 2h1.06v1.1h-1.06zM5 -1h1.06v3.1h-1.06zM7 80h1.06v1.1h-1.06zM9 2h1.06v1.1h-1.06zM13 1h1.06v1.1h-1.06zM17 -1h1.06v2.1h-1.06zM18 -1h1.06v2.1h-1.06zM22 51h1.06v1.1h-1.06zM24 35h1.06v1.1h-1.06zM24 74h1.06v1.1h-1.06zM24 81h1.06v2.1h-1.06zM25 53h1.06v1.1h-1.06zM26 5h1.06v1.1h-1.06zM26 8h1.06v1.1h-1.06zM26 15h1.06v1.1h-1.06zM26 20h1.06v1.1h-1.06zM26 29h1.06v1.1h-1.06zM26 31h1.06v1.1h-1.06zM26 37h1.06v1.1h-1.06zM26 42h1.06v1.1h-1.06zM26 49h1.06v1.1h-1.06zM26 77h1.06v1.1h-1.06zM26 80h1.06v1.1h-1.06zM26 82h1.06v1.1h-1.06zM26 91h1.06v1.1h-1.06zM26 99h1.06v1.1h-1.06zM26 101h1.06v1.1h-1.06zM27 11h1.06v1.1h-1.06zM27 35h1.06v1.1h-1.06zM27 47h1.06v1.1h-1.06zM27 79h1.06v1.1h-1.06zM28 25h1.06v1.1h-1.06zM28 63h1.06v1.1h-1.06zM28 104h1.06v1.1h-1.06zM29 1h1.06v1.1h-1.06zM29 25h1.06v1.1h-1.06zM29 50h1.06v1.1h-1.06zM29 95h1.06v1.1h-1.06zM30 41h1.06v1.1h-1.06zM30 59h1.06v2.1h-1.06zM30 68h1.06v2.1h-1.06zM30 89h1.06v1.1h-1.06zM30 91h1.06v1.1h-1.06zM30 107h1.06v2.1h-1.06zM31 50h1.06v1.1h-1.06zM31 63h1.06v1.1h-1.06zM31 90h1.06v1.1h-1.06zM32 4h1.06v1.1h-1.06zM32 21h1.06v1.1h-1.06zM32 31h1.06v1.1h-1.06zM32 34h1.06v1.1h-1.06zM32 49h1.06v1.1h-1.06zM32 57h1.06v1.1h-1.06zM32 73h1.06v2.1h-1.06zM33 3h1.06v1.1h-1.06zM33 58h1.06v1.1h-1.06zM34 50h1.06v1.1h-1.06zM34 53h1.06v1.1h-1.06zM35 31h1.06v2.1h-1.06zM35 63h1.06v1.1h-1.06zM35 86h1.06v1.1h-1.06zM36 11h1.06v1.1h-1.06zM36 50h1.06v1.1h-1.06zM37 17h1.06v1.1h-1.06zM37 53h1.06v1.1h-1.06zM37 65h1.06v1.1h-1.06zM37 82h1.06v1.1h-1.06zM37 91h1.06v1.1h-1.06zM39 103h1.06v2.1h-1.06zM40 4h1.06v1.1h-1.06zM40 6h1.06v2.1h-1.06zM40 12h1.06v1.1h-1.06zM40 73h1.06v1.1h-1.06zM40 88h1.06v1.1h-1.06zM40 91h1.06v1.1h-1.06zM40 93h1.06v1.1h-1.06zM40 96h1.06v1.1h-1.06zM40 106h1.06v1.1h-1.06zM41 8h1.06v1.1h-1.06zM41 19h1.06v1.1h-1.06zM41 91h1.06v1.1h-1.06zM42 2h1.06v1.1h-1.06zM42 87h1.06v1.1h-1.06zM44 -1h1.06v2.1h-1.06zM44 17h1.06v1.1h-1.06zM44 21h1.06v1.1h-1.06zM44 29h1.06v1.1h-1.06zM44 38h1.06v1.1h-1.06zM46 12h1.06v1.1h-1.06zM46 50h1.06v1.1h-1.06zM47 91h1.06v1.1h-1.06zM48 11h1.06v1.1h-1.06zM48 24h1.06v1.1h-1.06zM48 52h1.06v1.1h-1.06zM48 78h1.06v1.1h-1.06zM48 89h1.06v1.1h-1.06zM48 94h1.06v1.1h-1.06zM48 105h1.06v1.1h-1.06zM49 3h1.06v1.1h-1.06zM49 38h1.06v1.1h-1.06zM49 52h1.06v1.1h-1.06zM49 56h1.06v1.1h-1.06zM49 107h1.06v2.1h-1.06zM50 16h1.06v1.1h-1.06zM50 37h1.06v1.1h-1.06zM50 43h1.06v1.1h-1.06zM50 47h1.06v1.1h-1.06zM50 52h1.06v1.1h-1.06zM50 61h1.06v1.1h-1.06zM50 64h1.06v1.1h-1.06zM50 80h1.06v1.1h-1.06zM50 92h1.06v1.1h-1.06zM50 97h1.06v1.1h-1.06zM51 3h1.06v1.1h-1.06zM51 19h1.06v1.1h-1.06zM51 39h1.06v1.1h-1.06zM51 48h1.06v1.1h-1.06zM51 91h1.06v1.1h-1.06zM52 35h1.06v1.1h-1.06zM52 43h1.06v1.1h-1.06zM52 53h1.06v1.1h-1.06zM52 83h1.06v1.1h-1.06zM52 87h1.06v1.1h-1.06zM52 91h1.06v1.1h-1.06zM53 24h1.06v1.1h-1.06zM53 28h1.06v1.1h-1.06zM53 46h1.06v1.1h-1.06zM54 15h1.06v1.1h-1.06zM55 82h1.06v1.1h-1.06zM56 14h1.06v1.1h-1.06zM56 32h1.06v1.1h-1.06zM56 34h1.06v1.1h-1.06zM56 60h1.06v1.1h-1.06zM56 69h1.06v1.1h-1.06zM56 77h1.06v1.1h-1.06zM56 81h1.06v1.1h-1.06zM56 83h1.06v1.1h-1.06zM56 86h1.06v1.1h-1.06zM56 102h1.06v1.1h-1.06zM56 104h1.06v1.1h-1.06zM56 107h1.06v2.1h-1.06zM57 74h1.06v3.1h-1.06zM57 87h1.06v1.1h-1.06zM57 106h1.06v1.1h-1.06zM58 28h1.06v1.1h-1.06zM58 46h1.06v1.1h-1.06zM58 52h1.06v1.1h-1.06zM58 103h1.06v1.1h-1.06zM60 45h1.06v1.1h-1.06zM61 22h1.06v1.1h-1.06zM61 25h1.06v1.1h-1.06zM61 32h1.06v1.1h-1.06zM61 34h1.06v1.1h-1.06zM61 102h1.06v1.1h-1.06zM64 86h1.06v1.1h-1.06zM67 49h1.06v1.1h-1.06zM67 58h1.06v1.1h-1.06zM67 63h1.06v1.1h-1.06zM67 65h1.06v1.1h-1.06zM68 3h1.06v1.1h-1.06zM68 47h1.06v1.1h-1.06zM68 52h1.06v1.1h-1.06zM68 54h1.06v1.1h-1.06zM68 61h1.06v2.1h-1.06zM68 77h1.06v1.1h-1.06zM68 88h1.06v1.1h-1.06zM68 101h1.06v1.1h-1.06zM69 20h1.06v1.1h-1.06zM70 33h1.06v1.1h-1.06zM73 19h1.06v1.1h-1.06zM73 22h1.06v1.1h-1.06zM73 26h1.06v1.1h-1.06zM73 32h1.06v1.1h-1.06zM74 60h1.06v1.1h-1.06zM75 24h1.06v1.1h-1.06zM75 50h1.06v1.1h-1.06zM75 60h1.06v1.1h-1.06zM75 87h1.06v1.1h-1.06zM75 106h1.06v1.1h-1.06zM77 63h1.06v1.1h-1.06zM78 12h1.06v1.1h-1.06zM79 1h1.06v1.1h-1.06zM79 63h1.06v2.1h-1.06zM80 28h1.06v1.1h-1.06zM80 35h1.06v2.1h-1.06zM81 30h1.06v1.1h-1.06zM81 40h1.06v1.1h-1.06zM81 48h1.06v1.1h-1.06zM82 21h1.06v1.1h-1.06zM82 39h1.06v1.1h-1.06zM82 55h1.06v1.1h-1.06zM82 61h1.06v1.1h-1.06zM82 96h1.06v1.1h-1.06zM82 104h1.06v1.1h-1.06zM82 107h1.06v2.1h-1.06zM83 15h1.06v1.1h-1.06zM83 22h1.06v1.1h-1.06zM83 32h1.06v1.1h-1.06zM84 68h1.06v1.1h-1.06zM84 72h1.06v1.1h-1.06zM84 75h1.06v1.1h-1.06zM84 95h1.06v1.1h-1.06zM84 98h1.06v1.1h-1.06zM84 102h1.06v1.1h-1.06zM87 63h1.06v1.1h-1.06zM89 40h1.06v1.1h-1.06zM92 25h1.06v1.1h-1.06zM92 79h1.06v1.1h-1.06zM92 83h1.06v1.1h-1.06zM92 85h1.06v1.1h-1.06zM92 91h1.06v1.1h-1.06zM92 97h1.06v1.1h-1.06zM92 100h1.06v1.1h-1.06zM93 87h1.06v1.1h-1.06zM94 67h1.06v1.1h-1.06zM94 104h1.06v1.1h-1.06zM98 25h1.06v1.1h-1.06zM98 29h1.06v1.1h-1.06zM98 32h1.06v1.1h-1.06zM98 51h1.06v1.1h-1.06zM99 4h1.06v1.1h-1.06z"/><path fill="#727dbd" d="M-1 -1h1.06v2.1h-1.06zM0 -1h1.06v2.1h-1.06zM1 8h1.06v1.1h-1.06zM1 23h1.06v1.1h-1.06zM1 29h1.06v1.1h-1.06zM1 85h1.06v1.1h-1.06zM2 2h1.06v1.1h-1.06zM3 1h1.06v1.1h-1.06zM7 51h1.06v1.1h-1.06zM7 101h1.06v1.1h-1.06zM10 2h1.06v1.1h-1.06zM10 93h1.06v1.1h-1.06zM11 1h1.06v1.1h-1.06zM12 96h1.06v1.1h-1.06zM18 40h1.06v1.1h-1.06zM21 2h1.06v1.1h-1.06zM21 55h1.06v1.1h-1.06zM21 73h1.06v1.1h-1.06zM22 22h1.06v1.1h-1.06zM22 25h1.06v1.1h-1.06zM22 43h1.06v1.1h-1.06zM23 36h1.06v1.1h-1.06zM23 46h1.06v1.1h-1.06zM24 46h1.06v1.1h-1.06zM24 59h1.06v1.1h-1.06zM24 77h1.06v1.1h-1.06zM25 4h1.06v1.1h-1.06zM25 106h1.06v1.1h-1.06zM26 21h1.06v2.1h-1.06zM26 24h1.06v1.1h-1.06zM26 33h1.06v1.1h-1.06zM26 41h1.06v1.1h-1.06zM26 45h1.06v1.1h-1.06zM26 66h1.06v1.1h-1.06zM26 72h1.06v1.1h-1.06zM26 89h1.06v1.1h-1.06zM26 98h1.06v1.1h-1.06zM26 105h1.06v1.1h-1.06zM27 48h1.06v1.1h-1.06zM28 14h1.06v1.1h-1.06zM28 18h1.06v2.1h-1.06zM28 36h1.06v1.1h-1.06zM28 39h1.06v1.1h-1.06zM28 50h1.06v1.1h-1.06zM28 54h1.06v1.1h-1.06zM28 67h1.06v1.1h-1.06zM28 88h1.06v1.1h-1.06zM28 95h1.06v1.1h-1.06zM28 107h1.06v2.1h-1.06zM29 9h1.06v1.1h-1.06zM29 32h1.06v1.1h-1.06zM29 81h1.06v1.1h-1.06zM29 97h1.06v1.1h-1.06zM30 35h1.06v1.1h-1.06zM30 61h1.06v1.1h-1.06zM30 78h1.06v1.1h-1.06zM30 85h1.06v1.1h-1.06zM30 88h1.06v1.1h-1.06zM30 90h1.06v1.1h-1.06zM30 94h1.06v1.1h-1.06zM30 98h1.06v1.1h-1.06zM31 29h1.06v1.1h-1.06zM31 46h1.06v1.1h-1.06zM32 9h1.06v1.1h-1.06zM32 14h1.06v1.1h-1.06zM32 26h1.06v1.1h-1.06zM32 29h1.06v1.1h-1.06zM32 56h1.06v1.1h-1.06zM32 60h1.06v1.1h-1.06zM32 90h1.06v1.1h-1.06zM33 12h1.06v1.1h-1.06zM33 35h1.06v1.1h-1.06zM33 60h1.06v1.1h-1.06zM33 63h1.06v1.1h-1.06zM33 91h1.06v1.1h-1.06zM34 23h1.06v1.1h-1.06zM34 58h1.06v1.1h-1.06zM34 104h1.06v1.1h-1.06zM35 35h1.06v1.1h-1.06zM36 8h1.06v1.1h-1.06zM36 12h1.06v1.1h-1.06zM36 27h1.06v1.1h-1.06zM36 33h1.06v1.1h-1.06zM36 53h1.06v1.1h-1.06zM36 82h1.06v1.1h-1.06zM37 6h1.06v1.1h-1.06zM37 13h1.06v1.1h-1.06zM37 60h1.06v1.1h-1.06zM37 84h1.06v1.1h-1.06zM37 86h1.06v2.1h-1.06zM37 95h1.06v1.1h-1.06zM38 1h1.06v1.1h-1.06zM39 63h1.06v1.1h-1.06zM39 79h1.06v1.1h-1.06zM39 91h1.06v1.1h-1.06zM40 32h1.06v1.1h-1.06zM40 53h1.06v1.1h-1.06zM40 58h1.06v1.1h-1.06zM40 86h1.06v1.1h-1.06zM40 89h1.06v1.1h-1.06zM40 94h1.06v1.1h-1.06zM40 102h1.06v1.1h-1.06zM40 105h1.06v1.1h-1.06zM41 9h1.06v1.1h-1.06zM41 35h1.06v1.1h-1.06zM41 47h1.06v1.1h-1.06zM42 9h1.06v1.1h-1.06zM42 14h1.06v1.1h-1.06zM43 4h1.06v1.1h-1.06zM43 6h1.06v1.1h-1.06zM43 50h1.06v1.1h-1.06zM44 1h1.06v1.1h-1.06zM44 4h1.06v1.1h-1.06zM44 14h1.06v1.1h-1.06zM44 28h1.06v1.1h-1.06zM44 33h1.06v1.1h-1.06zM44 35h1.06v1.1h-1.06zM44 46h1.06v1.1h-1.06zM44 51h1.06v1.1h-1.06zM44 79h1.06v1.1h-1.06zM44 86h1.06v1.1h-1.06zM44 89h1.06v1.1h-1.06zM45 24h1.06v1.1h-1.06zM45 36h1.06v1.1h-1.06zM45 42h1.06v1.1h-1.06zM45 65h1.06v1.1h-1.06zM45 91h1.06v1.1h-1.06zM46 4h1.06v1.1h-1.06zM46 37h1.06v1.1h-1.06zM46 51h1.06v1.1h-1.06zM46 54h1.06v1.1h-1.06zM46 79h1.06v1.1h-1.06zM47 4h1.06v1.1h-1.06zM47 30h1.06v1.1h-1.06zM47 67h1.06v2.1h-1.06zM47 89h1.06v1.1h-1.06zM47 107h1.06v2.1h-1.06zM48 10h1.06v1.1h-1.06zM48 21h1.06v1.1h-1.06zM48 64h1.06v1.1h-1.06zM48 84h1.06v1.1h-1.06zM48 102h1.06v1.1h-1.06zM49 6h1.06v2.1h-1.06zM49 9h1.06v1.1h-1.06zM49 69h1.06v1.1h-1.06zM49 74h1.06v1.1h-1.06zM49 96h1.06v1.1h-1.06zM50 13h1.06v1.1h-1.06zM50 40h1.06v1.1h-1.06zM50 60h1.06v1.1h-1.06zM50 87h1.06v1.1h-1.06zM50 89h1.06v2.1h-1.06zM50 95h1.06v1.1h-1.06zM51 28h1.06v1.1h-1.06zM51 36h1.06v1.1h-1.06zM51 45h1.06v1.1h-1.06zM51 47h1.06v1.1h-1.06zM51 65h1.06v1.1h-1.06zM51 67h1.06v1.1h-1.06zM51 79h1.06v1.1h-1.06zM51 84h1.06v1.1h-1.06zM51 95h1.06v1.1h-1.06zM51 100h1.06v1.1h-1.06zM52 18h1.06v1.1h-1.06zM52 32h1.06v1.1h-1.06zM52 40h1.06v1.1h-1.06zM52 42h1.06v1.1h-1.06zM52 48h1.06v1.1h-1.06zM52 58h1.06v1.1h-1.06zM52 88h1.06v1.1h-1.06zM53 50h1.06v1.1h-1.06zM53 86h1.06v1.1h-1.06zM53 102h1.06v1.1h-1.06zM54 7h1.06v1.1h-1.06zM56 16h1.06v1.1h-1.06zM56 42h1.06v1.1h-1.06zM56 45h1.06v1.1h-1.06zM56 48h1.06v1.1h-1.06zM56 55h1.06v1.1h-1.06zM56 64h1.06v1.1h-1.06zM56 72h1.06v1.1h-1.06zM56 103h1.06v1.1h-1.06zM56 105h1.06v1.1h-1.06zM57 16h1.06v1.1h-1.06zM57 68h1.06v1.1h-1.06zM57 81h1.06v1.1h-1.06zM57 86h1.06v1.1h-1.06zM57 95h1.06v2.1h-1.06zM57 100h1.06v1.1h-1.06zM57 103h1.06v2.1h-1.06zM58 35h1.06v1.1h-1.06zM58 38h1.06v1.1h-1.06zM58 47h1.06v1.1h-1.06zM58 77h1.06v1.1h-1.06zM58 81h1.06v1.1h-1.06zM58 84h1.06v1.1h-1.06zM58 107h1.06v2.1h-1.06zM59 50h1.06v1.1h-1.06zM60 9h1.06v1.1h-1.06zM60 32h1.06v1.1h-1.06zM61 4h1.06v1.1h-1.06zM61 11h1.06v1.1h-1.06zM61 18h1.06v1.1h-1.06zM61 37h1.06v1.1h-1.06zM61 50h1.06v1.1h-1.06zM61 58h1.06v1.1h-1.06zM61 60h1.06v1.1h-1.06zM63 67h1.06v1.1h-1.06zM64 18h1.06v1.1h-1.06zM64 27h1.06v1.1h-1.06zM64 29h1.06v1.1h-1.06zM64 53h1.06v1.1h-1.06zM66 63h1.06v1.1h-1.06zM67 -1h1.06v2.1h-1.06zM67 50h1.06v1.1h-1.06zM67 86h1.06v1.1h-1.06zM68 4h1.06v1.1h-1.06zM68 17h1.06v1.1h-1.06zM68 23h1.06v1.1h-1.06zM68 32h1.06v1.1h-1.06zM68 40h1.06v1.1h-1.06zM68 44h1.06v1.1h-1.06zM68 57h1.06v1.1h-1.06zM68 64h1.06v1.1h-1.06zM68 93h1.06v1.1h-1.06zM68 102h1.06v1.1h-1.06zM69 40h1.06v1.1h-1.06zM70 63h1.06v1.1h-1.06zM71 91h1.06v1.1h-1.06zM73 11h1.06v1.1h-1.06zM73 21h1.06v1.1h-1.06zM73 29h1.06v1.1h-1.06zM74 67h1.06v1.1h-1.06zM75 4h1.06v1.1h-1.06zM75 7h1.06v1.1h-1.06zM75 21h1.06v1.1h-1.06zM75 35h1.06v1.1h-1.06zM75 97h1.06v1.1h-1.06zM76 33h1.06v1.1h-1.06zM76 97h1.06v1.1h-1.06zM77 86h1.06v2.1h-1.06zM77 95h1.06v1.1h-1.06zM78 18h1.06v1.1h-1.06zM78 49h1.06v1.1h-1.06zM78 58h1.06v1.1h-1.06zM78 63h1.06v1.1h-1.06zM78 67h1.06v1.1h-1.06zM79 9h1.06v1.1h-1.06zM79 19h1.06v1.1h-1.06zM79 32h1.06v1.1h-1.06zM79 65h1.06v4.1h-1.06zM80 50h1.06v1.1h-1.06zM81 32h1.06v1.1h-1.06zM81 36h1.06v1.1h-1.06zM81 45h1.06v1.1h-1.06zM81 70h1.06v1.1h-1.06zM82 7h1.06v1.1h-1.06zM82 16h1.06v1.1h-1.06zM82 18h1.06v2.1h-1.06zM82 22h1.06v1.1h-1.06zM82 34h1.06v2.1h-1.06zM82 41h1.06v1.1h-1.06zM82 56h1.06v1.1h-1.06zM82 66h1.06v1.1h-1.06zM82 79h1.06v1.1h-1.06zM82 101h1.06v1.1h-1.06zM83 1h1.06v1.1h-1.06zM83 9h1.06v1.1h-1.06zM83 16h1.06v1.1h-1.06zM83 23h1.06v1.1h-1.06zM83 65h1.06v1.1h-1.06zM84 12h1.06v1.1h-1.06zM84 54h1.06v1.1h-1.06zM84 56h1.06v1.1h-1.06zM84 61h1.06v2.1h-1.06zM84 70h1.06v1.1h-1.06zM84 80h1.06v1.1h-1.06zM84 91h1.06v1.1h-1.06zM84 100h1.06v1.1h-1.06zM84 107h1.06v2.1h-1.06zM87 77h1.06v1.1h-1.06zM87 81h1.06v1.1h-1.06zM87 83h1.06v1.1h-1.06zM87 85h1.06v1.1h-1.06zM87 90h1.06v1.1h-1.06zM87 103h1.06v1.1h-1.06zM89 -1h1.06v2.1h-1.06zM89 2h1.06v1.1h-1.06zM89 19h1.06v1.1h-1.06zM89 29h1.06v1.1h-1.06zM89 35h1.06v1.1h-1.06zM89 50h1.06v1.1h-1.06zM90 2h1.06v1.1h-1.06zM92 35h1.06v1.1h-1.06zM92 37h1.06v1.1h-1.06zM92 50h1.06v1.1h-1.06zM92 58h1.06v1.1h-1.06zM92 65h1.06v3.1h-1.06zM92 72h1.06v2.1h-1.06zM92 75h1.06v1.1h-1.06zM92 80h1.06v1.1h-1.06zM92 96h1.06v1.1h-1.06zM92 101h1.06v2.1h-1.06zM93 46h1.06v2.1h-1.06zM94 5h1.06v1.1h-1.06zM94 12h1.06v1.1h-1.06zM94 32h1.06v1.1h-1.06zM94 40h1.06v1.1h-1.06zM94 63h1.06v1.1h-1.06zM95 45h1.06v1.1h-1.06zM97 50h1.06v1.1h-1.06zM98 3h1.06v1.1h-1.06zM98 19h1.06v1.1h-1.06zM98 23h1.06v1.1h-1.06zM100 81h1.06v1.1h-1.06zM101 81h1.06v1.1h-1.06z"/><path fill="#8790c6" d="M-1 2h1.06v1.1h-1.06zM-1 67h1.06v1.1h-1.06zM-1 106h1.06v1.1h-1.06zM0 2h1.06v1.1h-1.06zM0 67h1.06v1.1h-1.06zM0 106h1.06v1.1h-1.06zM1 30h1.06v1.1h-1.06zM1 55h1.06v1.1h-1.06zM1 93h1.06v1.1h-1.06zM7 28h1.06v2.1h-1.06zM7 35h1.06v1.1h-1.06zM7 64h1.06v1.1h-1.06zM7 96h1.06v1.1h-1.06zM8 -1h1.06v3.1h-1.06zM10 -1h1.06v2.1h-1.06zM10 4h1.06v1.1h-1.06zM11 87h1.06v1.1h-1.06zM14 -1h1.06v2.1h-1.06zM15 47h1.06v1.1h-1.06zM18 37h1.06v1.1h-1.06zM20 1h1.06v1.1h-1.06zM21 59h1.06v1.1h-1.06zM21 75h1.06v1.1h-1.06zM21 85h1.06v1.1h-1.06zM21 104h1.06v1.1h-1.06zM22 32h1.06v2.1h-1.06zM22 35h1.06v1.1h-1.06zM22 40h1.06v1.1h-1.06zM22 47h1.06v2.1h-1.06zM23 12h1.06v1.1h-1.06zM24 4h1.06v1.1h-1.06zM24 7h1.06v1.1h-1.06zM24 29h1.06v1.1h-1.06zM24 40h1.06v1.1h-1.06zM24 45h1.06v1.1h-1.06zM24 50h1.06v1.1h-1.06zM24 63h1.06v1.1h-1.06zM24 93h1.06v1.1h-1.06zM24 95h1.06v1.1h-1.06zM24 97h1.06v1.1h-1.06zM24 100h1.06v1.1h-1.06zM24 107h1.06v2.1h-1.06zM25 2h1.06v1.1h-1.06zM25 37h1.06v1.1h-1.06zM25 67h1.06v1.1h-1.06zM26 9h1.06v1.1h-1.06zM26 28h1.06v1.1h-1.06zM26 38h1.06v1.1h-1.06zM26 43h1.06v1.1h-1.06zM26 55h1.06v1.1h-1.06zM27 -1h1.06v2.1h-1.06zM27 27h1.06v1.1h-1.06zM27 38h1.06v1.1h-1.06zM27 50h1.06v1.1h-1.06zM27 53h1.06v1.1h-1.06zM27 87h1.06v1.1h-1.06zM27 100h1.06v1.1h-1.06zM28 4h1.06v2.1h-1.06zM28 11h1.06v1.1h-1.06zM28 23h1.06v1.1h-1.06zM28 31h1.06v1.1h-1.06zM28 35h1.06v1.1h-1.06zM28 45h1.06v1.1h-1.06zM28 59h1.06v1.1h-1.06zM28 65h1.06v1.1h-1.06zM28 84h1.06v1.1h-1.06zM28 90h1.06v2.1h-1.06zM29 33h1.06v1.1h-1.06zM29 45h1.06v2.1h-1.06zM29 90h1.06v1.1h-1.06zM30 40h1.06v1.1h-1.06zM30 42h1.06v1.1h-1.06zM30 54h1.06v1.1h-1.06zM30 56h1.06v2.1h-1.06zM30 70h1.06v1.1h-1.06zM30 79h1.06v1.1h-1.06zM30 84h1.06v1.1h-1.06zM30 96h1.06v1.1h-1.06zM31 4h1.06v1.1h-1.06zM31 22h1.06v1.1h-1.06zM31 40h1.06v1.1h-1.06zM31 43h1.06v1.1h-1.06zM31 49h1.06v1.1h-1.06zM32 5h1.06v1.1h-1.06zM32 10h1.06v1.1h-1.06zM32 23h1.06v2.1h-1.06zM32 36h1.06v1.1h-1.06zM32 64h1.06v1.1h-1.06zM32 70h1.06v1.1h-1.06zM32 77h1.06v1.1h-1.06zM32 81h1.06v1.1h-1.06zM32 85h1.06v2.1h-1.06zM32 92h1.06v2.1h-1.06zM33 84h1.06v1.1h-1.06zM33 92h1.06v1.1h-1.06zM33 100h1.06v1.1h-1.06zM34 6h1.06v1.1h-1.06zM34 9h1.06v1.1h-1.06zM34 28h1.06v1.1h-1.06zM35 61h1.06v1.1h-1.06zM35 72h1.06v1.1h-1.06zM36 38h1.06v1.1h-1.06zM36 81h1.06v1.1h-1.06zM37 3h1.06v1.1h-1.06zM37 11h1.06v1.1h-1.06zM37 20h1.06v1.1h-1.06zM37 24h1.06v1.1h-1.06zM37 40h1.06v1.1h-1.06zM37 49h1.06v1.1h-1.06zM37 79h1.06v1.1h-1.06zM37 89h1.06v1.1h-1.06zM37 100h1.06v1.1h-1.06zM37 106h1.06v1.1h-1.06zM39 11h1.06v1.1h-1.06zM39 14h1.06v1.1h-1.06zM39 16h1.06v1.1h-1.06zM39 20h1.06v1.1h-1.06zM39 32h1.06v1.1h-1.06zM39 65h1.06v1.1h-1.06zM39 67h1.06v1.1h-1.06zM39 71h1.06v1.1h-1.06zM39 73h1.06v1.1h-1.06zM39 86h1.06v1.1h-1.06zM40 8h1.06v1.1h-1.06zM40 11h1.06v1.1h-1.06zM40 18h1.06v1.1h-1.06zM40 51h1.06v1.1h-1.06zM40 64h1.06v1.1h-1.06zM40 70h1.06v1.1h-1.06zM40 79h1.06v2.1h-1.06zM40 92h1.06v1.1h-1.06zM40 97h1.06v2.1h-1.06zM41 6h1.06v1.1h-1.06zM41 11h1.06v1.1h-1.06zM41 33h1.06v1.1h-1.06zM41 90h1.06v1.1h-1.06zM41 107h1.06v2.1h-1.06zM42 18h1.06v1.1h-1.06zM42 49h1.06v1.1h-1.06zM42 104h1.06v1.1h-1.06zM43 29h1.06v1.1h-1.06zM44 5h1.06v1.1h-1.06zM44 10h1.06v1.1h-1.06zM44 42h1.06v1.1h-1.06zM44 70h1.06v1.1h-1.06zM44 80h1.06v1.1h-1.06zM45 43h1.06v1.1h-1.06zM45 51h1.06v1.1h-1.06zM45 71h1.06v1.1h-1.06zM45 74h1.06v1.1h-1.06zM45 104h1.06v1.1h-1.06zM46 21h1.06v2.1h-1.06zM46 36h1.06v1.1h-1.06zM46 42h1.06v1.1h-1.06zM46 53h1.06v1.1h-1.06zM46 104h1.06v1.1h-1.06zM47 6h1.06v1.1h-1.06zM47 35h1.06v1.1h-1.06zM47 74h1.06v1.1h-1.06zM47 79h1.06v1.1h-1.06zM47 87h1.06v1.1h-1.06zM48 34h1.06v1.1h-1.06zM48 44h1.06v1.1h-1.06zM48 74h1.06v1.1h-1.06zM48 86h1.06v1.1h-1.06zM48 88h1.06v1.1h-1.06zM48 99h1.06v1.1h-1.06zM49 20h1.06v1.1h-1.06zM49 42h1.06v1.1h-1.06zM49 44h1.06v1.1h-1.06zM49 47h1.06v1.1h-1.06zM49 51h1.06v1.1h-1.06zM49 57h1.06v1.1h-1.06zM49 71h1.06v1.1h-1.06zM49 82h1.06v1.1h-1.06zM49 85h1.06v2.1h-1.06zM49 89h1.06v1.1h-1.06zM49 93h1.06v1.1h-1.06zM49 95h1.06v1.1h-1.06zM49 103h1.06v1.1h-1.06zM50 6h1.06v1.1h-1.06zM50 17h1.06v1.1h-1.06zM50 94h1.06v1.1h-1.06zM50 96h1.06v1.1h-1.06zM50 102h1.06v1.1h-1.06zM50 106h1.06v1.1h-1.06zM51 7h1.06v1.1h-1.06zM51 26h1.06v1.1h-1.06zM51 40h1.06v1.1h-1.06zM51 42h1.06v1.1h-1.06zM51 46h1.06v1.1h-1.06zM51 51h1.06v1.1h-1.06zM51 71h1.06v1.1h-1.06zM51 87h1.06v1.1h-1.06zM52 9h1.06v3.1h-1.06zM52 50h1.06v1.1h-1.06zM52 54h1.06v1.1h-1.06zM52 74h1.06v1.1h-1.06zM52 79h1.06v1.1h-1.06zM52 90h1.06v1.1h-1.06zM52 97h1.06v1.1h-1.06zM53 18h1.06v1.1h-1.06zM53 48h1.06v1.1h-1.06zM53 56h1.06v1.1h-1.06zM53 87h1.06v1.1h-1.06zM54 51h1.06v1.1h-1.06zM54 67h1.06v1.1h-1.06zM55 2h1.06v1.1h-1.06zM56 24h1.06v1.1h-1.06zM56 78h1.06v1.1h-1.06zM56 82h1.06v1.1h-1.06zM56 101h1.06v1.1h-1.06zM57 11h1.06v1.1h-1.06zM57 90h1.06v1.1h-1.06zM57 98h1.06v1.1h-1.06zM58 12h1.06v1.1h-1.06zM58 30h1.06v1.1h-1.06zM58 41h1.06v1.1h-1.06zM58 45h1.06v1.1h-1.06zM58 50h1.06v1.1h-1.06zM58 53h1.06v1.1h-1.06zM58 68h1.06v1.1h-1.06zM58 75h1.06v1.1h-1.06zM58 83h1.06v1.1h-1.06zM58 96h1.06v1.1h-1.06zM59 35h1.06v1.1h-1.06zM60 12h1.06v1.1h-1.06zM60 46h1.06v1.1h-1.06zM60 53h1.06v1.1h-1.06zM61 3h1.06v1.1h-1.06zM61 5h1.06v1.1h-1.06zM61 65h1.06v1.1h-1.06zM61 83h1.06v1.1h-1.06zM61 103h1.06v2.1h-1.06zM62 89h1.06v1.1h-1.06zM63 81h1.06v1.1h-1.06zM63 87h1.06v1.1h-1.06zM64 6h1.06v1.1h-1.06zM64 14h1.06v1.1h-1.06zM64 50h1.06v1.1h-1.06zM64 95h1.06v1.1h-1.06zM64 97h1.06v1.1h-1.06zM65 58h1.06v1.1h-1.06zM67 53h1.06v1.1h-1.06zM67 87h1.06v1.1h-1.06zM67 95h1.06v1.1h-1.06zM68 30h1.06v1.1h-1.06zM69 5h1.06v2.1h-1.06zM69 16h1.06v1.1h-1.06zM69 67h1.06v1.1h-1.06zM69 87h1.06v1.1h-1.06zM70 9h1.06v1.1h-1.06zM70 50h1.06v1.1h-1.06zM70 60h1.06v1.1h-1.06zM70 95h1.06v1.1h-1.06zM70 104h1.06v1.1h-1.06zM71 82h1.06v1.1h-1.06zM73 23h1.06v3.1h-1.06zM73 27h1.06v2.1h-1.06zM73 30h1.06v1.1h-1.06zM74 9h1.06v1.1h-1.06zM74 28h1.06v1.1h-1.06zM74 35h1.06v1.1h-1.06zM74 59h1.06v1.1h-1.06zM74 65h1.06v1.1h-1.06zM74 82h1.06v1.1h-1.06zM74 86h1.06v1.1h-1.06zM74 104h1.06v1.1h-1.06zM74 107h1.06v2.1h-1.06zM75 9h1.06v1.1h-1.06zM75 46h1.06v1.1h-1.06zM75 58h1.06v1.1h-1.06zM75 84h1.06v1.1h-1.06zM76 6h1.06v1.1h-1.06zM76 22h1.06v1.1h-1.06zM76 27h1.06v1.1h-1.06zM76 58h1.06v1.1h-1.06zM76 86h1.06v1.1h-1.06zM77 30h1.06v1.1h-1.06zM77 61h1.06v1.1h-1.06zM77 104h1.06v1.1h-1.06zM78 1h1.06v1.1h-1.06zM78 9h1.06v1.1h-1.06zM78 20h1.06v1.1h-1.06zM78 25h1.06v1.1h-1.06zM78 28h1.06v1.1h-1.06zM78 33h1.06v1.1h-1.06zM78 35h1.06v1.1h-1.06zM78 38h1.06v1.1h-1.06zM78 59h1.06v1.1h-1.06zM78 69h1.06v2.1h-1.06zM78 91h1.06v1.1h-1.06zM78 106h1.06v1.1h-1.06zM79 22h1.06v1.1h-1.06zM79 29h1.06v1.1h-1.06zM79 42h1.06v1.1h-1.06zM79 46h1.06v1.1h-1.06zM79 58h1.06v1.1h-1.06zM79 77h1.06v1.1h-1.06zM79 96h1.06v1.1h-1.06zM79 103h1.06v1.1h-1.06zM80 3h1.06v1.1h-1.06zM80 20h1.06v1.1h-1.06zM80 33h1.06v1.1h-1.06zM80 54h1.06v1.1h-1.06zM81 -1h1.06v2.1h-1.06zM81 11h1.06v1.1h-1.06zM81 18h1.06v1.1h-1.06zM81 21h1.06v2.1h-1.06zM81 35h1.06v1.1h-1.06zM82 10h1.06v1.1h-1.06zM82 17h1.06v1.1h-1.06zM82 44h1.06v1.1h-1.06zM82 59h1.06v1.1h-1.06zM82 72h1.06v1.1h-1.06zM82 74h1.06v1.1h-1.06zM82 92h1.06v2.1h-1.06zM82 95h1.06v1.1h-1.06zM83 11h1.06v1.1h-1.06zM83 29h1.06v1.1h-1.06zM83 31h1.06v1.1h-1.06zM83 50h1.06v1.1h-1.06zM83 54h1.06v1.1h-1.06zM83 91h1.06v1.1h-1.06zM83 96h1.06v1.1h-1.06zM84 6h1.06v1.1h-1.06zM84 43h1.06v1.1h-1.06zM84 46h1.06v1.1h-1.06zM84 85h1.06v1.1h-1.06zM84 106h1.06v1.1h-1.06zM85 4h1.06v1.1h-1.06zM86 36h1.06v1.1h-1.06zM86 79h1.06v1.1h-1.06zM87 60h1.06v1.1h-1.06zM88 67h1.06v1.1h-1.06zM88 87h1.06v1.1h-1.06zM89 18h1.06v1.1h-1.06zM89 32h1.06v1.1h-1.06zM90 20h1.06v1.1h-1.06zM90 84h1.06v1.1h-1.06zM91 50h1.06v1.1h-1.06zM91 90h1.06v1.1h-1.06zM91 107h1.06v2.1h-1.06zM92 13h1.06v1.1h-1.06zM92 30h1.06v1.1h-1.06zM92 61h1.06v1.1h-1.06zM92 76h1.06v1.1h-1.06zM92 84h1.06v1.1h-1.06zM92 93h1.06v1.1h-1.06zM92 103h1.06v1.1h-1.06zM93 10h1.06v1.1h-1.06zM93 23h1.06v1.1h-1.06zM93 40h1.06v1.1h-1.06zM93 48h1.06v1.1h-1.06zM93 50h1.06v1.1h-1.06zM93 103h1.06v1.1h-1.06zM94 4h1.06v1.1h-1.06zM94 27h1.06v1.1h-1.06zM94 76h1.06v1.1h-1.06zM94 85h1.06v1.1h-1.06zM95 91h1.06v1.1h-1.06zM96 50h1.06v1.1h-1.06zM96 82h1.06v1.1h-1.06zM96 103h1.06v1.1h-1.06zM98 4h1.06v1.1h-1.06zM98 17h1.06v1.1h-1.06zM98 22h1.06v1.1h-1.06zM98 27h1.06v1.1h-1.06zM98 33h1.06v1.1h-1.06zM98 35h1.06v1.1h-1.06zM100 58h1.06v1.1h-1.06zM100 99h1.06v2.1h-1.06zM101 58h1.06v1.1h-1.06zM101 99h1.06v2.1h-1.06z"/><path fill="#9ca3cf" d="M-1 17h1.06v1.1h-1.06zM-1 54h1.06v1.1h-1.06zM-1 82h1.06v1.1h-1.06zM0 17h1.06v1.1h-1.06zM0 54h1.06v1.1h-1.06zM0 82h1.06v1.1h-1.06zM1 5h1.06v2.1h-1.06zM1 14h1.06v1.1h-1.06zM1 24h1.06v1.1h-1.06zM1 35h1.06v1.1h-1.06zM1 43h1.06v1.1h-1.06zM1 46h1.06v1.1h-1.06zM1 51h1.06v1.1h-1.06zM1 72h1.06v1.1h-1.06zM1 80h1.06v2.1h-1.06zM1 86h1.06v1.1h-1.06zM1 98h1.06v1.1h-1.06zM3 96h1.06v1.1h-1.06zM4 -1h1.06v3.1h-1.06zM5 98h1.06v1.1h-1.06zM6 96h1.06v1.1h-1.06zM7 3h1.06v1.1h-1.06zM7 43h1.06v1.1h-1.06zM7 47h1.06v1.1h-1.06zM7 52h1.06v1.1h-1.06zM7 61h1.06v1.1h-1.06zM7 73h1.06v1.1h-1.06zM7 79h1.06v1.1h-1.06zM7 84h1.06v1.1h-1.06zM7 90h1.06v1.1h-1.06zM9 48h1.06v1.1h-1.06zM10 30h1.06v1.1h-1.06zM10 62h1.06v2.1h-1.06zM10 76h1.06v1.1h-1.06zM10 86h1.06v1.1h-1.06zM12 72h1.06v1.1h-1.06zM12 84h1.06v1.1h-1.06zM13 22h1.06v1.1h-1.06zM14 67h1.06v1.1h-1.06zM14 72h1.06v1.1h-1.06zM18 1h1.06v1.1h-1.06zM18 93h1.06v1.1h-1.06zM19 2h1.06v1.1h-1.06zM21 -1h1.06v2.1h-1.06zM21 36h1.06v1.1h-1.06zM21 62h1.06v1.1h-1.06zM21 70h1.06v1.1h-1.06zM21 74h1.06v1.1h-1.06zM21 101h1.06v1.1h-1.06zM22 -1h1.06v3.1h-1.06zM22 12h1.06v1.1h-1.06zM22 27h1.06v1.1h-1.06zM23 73h1.06v1.1h-1.06zM23 76h1.06v1.1h-1.06zM24 3h1.06v1.1h-1.06zM24 10h1.06v1.1h-1.06zM24 23h1.06v2.1h-1.06zM24 28h1.06v1.1h-1.06zM24 54h1.06v1.1h-1.06zM24 65h1.06v2.1h-1.06zM24 69h1.06v1.1h-1.06zM24 86h1.06v1.1h-1.06zM24 98h1.06v1.1h-1.06zM24 106h1.06v1.1h-1.06zM25 36h1.06v1.1h-1.06zM25 40h1.06v1.1h-1.06zM25 48h1.06v1.1h-1.06zM25 69h1.06v1.1h-1.06zM25 80h1.06v1.1h-1.06zM25 84h1.06v1.1h-1.06zM25 89h1.06v1.1h-1.06zM25 91h1.06v1.1h-1.06zM25 97h1.06v1.1h-1.06zM26 19h1.06v1.1h-1.06zM26 40h1.06v1.1h-1.06zM26 44h1.06v1.1h-1.06zM26 54h1.06v1.1h-1.06zM26 60h1.06v1.1h-1.06zM26 84h1.06v1.1h-1.06zM26 94h1.06v1.1h-1.06zM27 1h1.06v1.1h-1.06zM27 3h1.06v1.1h-1.06zM27 20h1.06v1.1h-1.06zM27 23h1.06v1.1h-1.06zM27 41h1.06v1.1h-1.06zM27 43h1.06v1.1h-1.06zM27 59h1.06v1.1h-1.06zM27 63h1.06v1.1h-1.06zM27 74h1.06v1.1h-1.06zM27 91h1.06v1.1h-1.06zM27 95h1.06v1.1h-1.06zM27 97h1.06v1.1h-1.06zM27 106h1.06v1.1h-1.06zM28 8h1.06v2.1h-1.06zM28 12h1.06v1.1h-1.06zM28 15h1.06v1.1h-1.06zM28 20h1.06v1.1h-1.06zM28 29h1.06v1.1h-1.06zM28 46h1.06v1.1h-1.06zM28 80h1.06v1.1h-1.06zM28 93h1.06v1.1h-1.06zM29 4h1.06v1.1h-1.06zM29 13h1.06v1.1h-1.06zM29 24h1.06v1.1h-1.06zM29 34h1.06v1.1h-1.06zM29 42h1.06v1.1h-1.06zM29 51h1.06v1.1h-1.06zM29 58h1.06v1.1h-1.06zM29 63h1.06v1.1h-1.06zM29 67h1.06v1.1h-1.06zM29 73h1.06v1.1h-1.06zM29 89h1.06v1.1h-1.06zM29 100h1.06v1.1h-1.06zM30 45h1.06v1.1h-1.06zM30 47h1.06v1.1h-1.06zM30 64h1.06v1.1h-1.06zM31 56h1.06v1.1h-1.06zM31 91h1.06v1.1h-1.06zM31 95h1.06v1.1h-1.06zM31 100h1.06v1.1h-1.06zM32 62h1.06v1.1h-1.06zM32 78h1.06v1.1h-1.06zM32 96h1.06v1.1h-1.06zM32 103h1.06v1.1h-1.06zM33 11h1.06v1.1h-1.06zM33 14h1.06v1.1h-1.06zM33 16h1.06v1.1h-1.06zM33 40h1.06v1.1h-1.06zM33 42h1.06v1.1h-1.06zM33 67h1.06v1.1h-1.06zM33 106h1.06v1.1h-1.06zM34 32h1.06v1.1h-1.06zM34 35h1.06v1.1h-1.06zM34 54h1.06v1.1h-1.06zM34 63h1.06v1.1h-1.06zM34 77h1.06v1.1h-1.06zM35 4h1.06v1.1h-1.06zM35 12h1.06v1.1h-1.06zM35 21h1.06v1.1h-1.06zM35 34h1.06v1.1h-1.06zM35 36h1.06v1.1h-1.06zM35 38h1.06v1.1h-1.06zM35 50h1.06v1.1h-1.06zM35 53h1.06v1.1h-1.06zM35 75h1.06v1.1h-1.06zM35 89h1.06v1.1h-1.06zM35 105h1.06v1.1h-1.06zM36 6h1.06v2.1h-1.06zM36 15h1.06v1.1h-1.06zM36 24h1.06v1.1h-1.06zM36 40h1.06v1.1h-1.06zM36 51h1.06v1.1h-1.06zM36 63h1.06v1.1h-1.06zM36 75h1.06v1.1h-1.06zM36 84h1.06v1.1h-1.06zM36 86h1.06v1.1h-1.06zM36 106h1.06v1.1h-1.06zM37 4h1.06v1.1h-1.06zM37 10h1.06v1.1h-1.06zM37 14h1.06v1.1h-1.06zM37 30h1.06v1.1h-1.06zM37 42h1.06v2.1h-1.06zM37 45h1.06v2.1h-1.06zM37 58h1.06v1.1h-1.06zM37 61h1.06v1.1h-1.06zM37 107h1.06v2.1h-1.06zM38 104h1.06v1.1h-1.06zM39 35h1.06v1.1h-1.06zM39 50h1.06v1.1h-1.06zM39 55h1.06v2.1h-1.06zM39 59h1.06v1.1h-1.06zM39 69h1.06v2.1h-1.06zM39 81h1.06v1.1h-1.06zM39 83h1.06v1.1h-1.06zM39 85h1.06v1.1h-1.06zM39 89h1.06v1.1h-1.06zM39 107h1.06v2.1h-1.06zM40 5h1.06v1.1h-1.06zM40 20h1.06v2.1h-1.06zM40 28h1.06v1.1h-1.06zM40 37h1.06v2.1h-1.06zM40 40h1.06v1.1h-1.06zM40 50h1.06v1.1h-1.06zM40 54h1.06v1.1h-1.06zM40 60h1.06v1.1h-1.06zM40 68h1.06v1.1h-1.06zM40 72h1.06v1.1h-1.06zM40 74h1.06v1.1h-1.06zM40 77h1.06v1.1h-1.06zM40 90h1.06v1.1h-1.06zM40 104h1.06v1.1h-1.06zM40 107h1.06v2.1h-1.06zM41 23h1.06v1.1h-1.06zM41 30h1.06v1.1h-1.06zM41 43h1.06v1.1h-1.06zM41 48h1.06v1.1h-1.06zM41 53h1.06v1.1h-1.06zM41 86h1.06v1.1h-1.06zM41 99h1.06v2.1h-1.06zM42 4h1.06v1.1h-1.06zM42 17h1.06v1.1h-1.06zM42 24h1.06v1.1h-1.06zM42 50h1.06v1.1h-1.06zM42 79h1.06v1.1h-1.06zM42 91h1.06v1.1h-1.06zM43 3h1.06v1.1h-1.06zM43 15h1.06v2.1h-1.06zM43 43h1.06v1.1h-1.06zM43 48h1.06v1.1h-1.06zM43 52h1.06v2.1h-1.06zM44 23h1.06v1.1h-1.06zM44 30h1.06v1.1h-1.06zM44 43h1.06v1.1h-1.06zM44 65h1.06v1.1h-1.06zM44 72h1.06v1.1h-1.06zM44 81h1.06v1.1h-1.06zM44 88h1.06v1.1h-1.06zM44 91h1.06v1.1h-1.06zM44 97h1.06v1.1h-1.06zM44 100h1.06v2.1h-1.06zM45 4h1.06v1.1h-1.06zM45 19h1.06v1.1h-1.06zM45 35h1.06v1.1h-1.06zM45 40h1.06v1.1h-1.06zM45 79h1.06v1.1h-1.06zM45 86h1.06v1.1h-1.06zM46 13h1.06v1.1h-1.06zM46 20h1.06v1.1h-1.06zM46 107h1.06v2.1h-1.06zM47 15h1.06v1.1h-1.06zM47 45h1.06v1.1h-1.06zM47 82h1.06v1.1h-1.06zM47 88h1.06v1.1h-1.06zM47 90h1.06v1.1h-1.06zM48 55h1.06v1.1h-1.06zM48 62h1.06v1.1h-1.06zM48 69h1.06v1.1h-1.06zM48 80h1.06v2.1h-1.06zM49 11h1.06v2.1h-1.06zM49 17h1.06v1.1h-1.06zM49 23h1.06v1.1h-1.06zM49 27h1.06v2.1h-1.06zM49 45h1.06v1.1h-1.06zM49 58h1.06v1.1h-1.06zM49 66h1.06v1.1h-1.06zM49 68h1.06v1.1h-1.06zM49 70h1.06v1.1h-1.06zM49 84h1.06v1.1h-1.06zM49 92h1.06v1.1h-1.06zM49 94h1.06v1.1h-1.06zM50 3h1.06v3.1h-1.06zM50 25h1.06v1.1h-1.06zM50 27h1.06v1.1h-1.06zM50 30h1.06v1.1h-1.06zM50 32h1.06v1.1h-1.06zM50 35h1.06v1.1h-1.06zM50 42h1.06v1.1h-1.06zM50 44h1.06v1.1h-1.06zM50 48h1.06v1.1h-1.06zM50 58h1.06v2.1h-1.06zM50 75h1.06v1.1h-1.06zM50 82h1.06v2.1h-1.06zM51 27h1.06v1.1h-1.06zM51 54h1.06v1.1h-1.06zM51 58h1.06v1.1h-1.06zM51 60h1.06v2.1h-1.06zM51 107h1.06v2.1h-1.06zM52 19h1.06v1.1h-1.06zM52 37h1.06v1.1h-1.06zM52 80h1.06v2.1h-1.06zM52 85h1.06v1.1h-1.06zM53 11h1.06v1.1h-1.06zM53 13h1.06v1.1h-1.06zM53 15h1.06v2.1h-1.06zM53 35h1.06v1.1h-1.06zM53 51h1.06v1.1h-1.06zM53 59h1.06v1.1h-1.06zM53 106h1.06v1.1h-1.06zM54 39h1.06v1.1h-1.06zM54 70h1.06v1.1h-1.06zM54 74h1.06v1.1h-1.06zM54 90h1.06v1.1h-1.06zM55 63h1.06v1.1h-1.06zM55 72h1.06v1.1h-1.06zM55 80h1.06v1.1h-1.06zM55 85h1.06v1.1h-1.06zM55 90h1.06v1.1h-1.06zM55 93h1.06v1.1h-1.06zM55 97h1.06v1.1h-1.06zM55 99h1.06v1.1h-1.06zM55 105h1.06v1.1h-1.06zM56 85h1.06v1.1h-1.06zM57 1h1.06v1.1h-1.06zM57 48h1.06v1.1h-1.06zM57 57h1.06v2.1h-1.06zM57 60h1.06v1.1h-1.06zM57 82h1.06v1.1h-1.06zM57 89h1.06v1.1h-1.06zM57 105h1.06v1.1h-1.06zM58 1h1.06v1.1h-1.06zM58 9h1.06v1.1h-1.06zM58 11h1.06v1.1h-1.06zM58 25h1.06v1.1h-1.06zM58 36h1.06v1.1h-1.06zM58 49h1.06v1.1h-1.06zM58 61h1.06v1.1h-1.06zM58 70h1.06v2.1h-1.06zM58 85h1.06v1.1h-1.06zM58 94h1.06v1.1h-1.06zM59 41h1.06v1.1h-1.06zM60 5h1.06v1.1h-1.06zM60 36h1.06v1.1h-1.06zM60 63h1.06v1.1h-1.06zM60 79h1.06v1.1h-1.06zM61 8h1.06v2.1h-1.06zM61 13h1.06v1.1h-1.06zM61 27h1.06v3.1h-1.06zM61 33h1.06v1.1h-1.06zM61 51h1.06v1.1h-1.06zM61 59h1.06v1.1h-1.06zM61 73h1.06v1.1h-1.06zM61 89h1.06v1.1h-1.06zM62 9h1.06v1.1h-1.06zM62 40h1.06v1.1h-1.06zM62 43h1.06v1.1h-1.06zM64 32h1.06v1.1h-1.06zM64 69h1.06v1.1h-1.06zM64 91h1.06v1.1h-1.06zM64 104h1.06v1.1h-1.06zM65 -1h1.06v2.1h-1.06zM65 3h1.06v1.1h-1.06zM65 35h1.06v1.1h-1.06zM65 50h1.06v1.1h-1.06zM66 87h1.06v1.1h-1.06zM66 95h1.06v1.1h-1.06zM67 2h1.06v1.1h-1.06zM67 32h1.06v1.1h-1.06zM67 46h1.06v1.1h-1.06zM67 67h1.06v1.1h-1.06zM67 91h1.06v1.1h-1.06zM67 96h1.06v2.1h-1.06zM68 14h1.06v3.1h-1.06zM68 35h1.06v1.1h-1.06zM68 78h1.06v1.1h-1.06zM68 94h1.06v1.1h-1.06zM69 4h1.06v1.1h-1.06zM69 46h1.06v1.1h-1.06zM69 64h1.06v1.1h-1.06zM69 84h1.06v1.1h-1.06zM70 4h1.06v1.1h-1.06zM70 16h1.06v1.1h-1.06zM70 21h1.06v1.1h-1.06zM70 47h1.06v1.1h-1.06zM70 53h1.06v1.1h-1.06zM70 56h1.06v1.1h-1.06zM70 66h1.06v1.1h-1.06zM70 82h1.06v1.1h-1.06zM71 81h1.06v1.1h-1.06zM71 86h1.06v1.1h-1.06zM71 89h1.06v1.1h-1.06zM71 96h1.06v1.1h-1.06zM72 107h1.06v2.1h-1.06zM73 4h1.06v1.1h-1.06zM73 45h1.06v1.1h-1.06zM73 49h1.06v1.1h-1.06zM74 20h1.06v1.1h-1.06zM74 29h1.06v1.1h-1.06zM74 31h1.06v1.1h-1.06zM74 92h1.06v1.1h-1.06zM74 99h1.06v1.1h-1.06zM75 43h1.06v1.1h-1.06zM75 54h1.06v1.1h-1.06zM75 62h1.06v1.1h-1.06zM75 94h1.06v2.1h-1.06zM75 105h1.06v1.1h-1.06zM76 3h1.06v1.1h-1.06zM76 19h1.06v1.1h-1.06zM76 25h1.06v2.1h-1.06zM76 36h1.06v1.1h-1.06zM76 40h1.06v1.1h-1.06zM76 47h1.06v1.1h-1.06zM76 50h1.06v1.1h-1.06zM76 82h1.06v1.1h-1.06zM76 87h1.06v1.1h-1.06zM76 100h1.06v1.1h-1.06zM77 11h1.06v1.1h-1.06zM77 28h1.06v1.1h-1.06zM77 33h1.06v1.1h-1.06zM77 35h1.06v2.1h-1.06zM77 39h1.06v1.1h-1.06zM77 42h1.06v1.1h-1.06zM77 65h1.06v1.1h-1.06zM77 89h1.06v1.1h-1.06zM77 107h1.06v2.1h-1.06zM78 4h1.06v1.1h-1.06zM78 13h1.06v1.1h-1.06zM78 22h1.06v1.1h-1.06zM78 40h1.06v2.1h-1.06zM78 46h1.06v1.1h-1.06zM78 55h1.06v1.1h-1.06zM78 64h1.06v2.1h-1.06zM78 73h1.06v1.1h-1.06zM78 89h1.06v2.1h-1.06zM78 95h1.06v1.1h-1.06zM78 103h1.06v1.1h-1.06zM79 38h1.06v2.1h-1.06zM79 48h1.06v1.1h-1.06zM79 72h1.06v1.1h-1.06zM79 81h1.06v2.1h-1.06zM80 7h1.06v1.1h-1.06zM80 24h1.06v1.1h-1.06zM80 27h1.06v1.1h-1.06zM80 104h1.06v1.1h-1.06zM80 107h1.06v2.1h-1.06zM81 4h1.06v1.1h-1.06zM81 19h1.06v1.1h-1.06zM81 25h1.06v1.1h-1.06zM81 39h1.06v1.1h-1.06zM81 63h1.06v1.1h-1.06zM81 91h1.06v1.1h-1.06zM81 98h1.06v1.1h-1.06zM81 104h1.06v1.1h-1.06zM81 107h1.06v2.1h-1.06zM82 1h1.06v1.1h-1.06zM82 40h1.06v1.1h-1.06zM82 68h1.06v1.1h-1.06zM82 71h1.06v1.1h-1.06zM82 84h1.06v1.1h-1.06zM82 90h1.06v1.1h-1.06zM82 98h1.06v1.1h-1.06zM82 102h1.06v1.1h-1.06zM83 25h1.06v1.1h-1.06zM83 62h1.06v2.1h-1.06zM84 -1h1.06v2.1h-1.06zM84 57h1.06v1.1h-1.06zM84 90h1.06v1.1h-1.06zM84 93h1.06v1.1h-1.06zM85 63h1.06v1.1h-1.06zM85 68h1.06v1.1h-1.06zM86 35h1.06v1.1h-1.06zM86 53h1.06v1.1h-1.06zM86 58h1.06v1.1h-1.06zM86 103h1.06v1.1h-1.06zM87 35h1.06v1.1h-1.06zM87 54h1.06v1.1h-1.06zM87 102h1.06v1.1h-1.06zM89 30h1.06v2.1h-1.06zM89 39h1.06v1.1h-1.06zM89 53h1.06v1.1h-1.06zM90 4h1.06v1.1h-1.06zM91 86h1.06v1.1h-1.06zM91 100h1.06v1.1h-1.06zM92 10h1.06v2.1h-1.06zM92 18h1.06v1.1h-1.06zM92 20h1.06v1.1h-1.06zM92 23h1.06v1.1h-1.06zM92 29h1.06v1.1h-1.06zM92 34h1.06v1.1h-1.06zM92 40h1.06v1.1h-1.06zM92 56h1.06v1.1h-1.06zM92 63h1.06v2.1h-1.06zM92 78h1.06v1.1h-1.06zM92 99h1.06v1.1h-1.06zM93 7h1.06v1.1h-1.06zM93 36h1.06v1.1h-1.06zM93 63h1.06v1.1h-1.06zM93 79h1.06v1.1h-1.06zM94 3h1.06v1.1h-1.06zM94 8h1.06v1.1h-1.06zM94 19h1.06v1.1h-1.06zM94 25h1.06v1.1h-1.06zM94 36h1.06v1.1h-1.06zM94 45h1.06v1.1h-1.06zM94 79h1.06v1.1h-1.06zM94 82h1.06v1.1h-1.06zM94 90h1.06v1.1h-1.06zM94 92h1.06v1.1h-1.06zM94 97h1.06v1.1h-1.06zM95 -1h1.06v2.1h-1.06zM95 28h1.06v1.1h-1.06zM95 97h1.06v1.1h-1.06zM96 77h1.06v1.1h-1.06zM96 84h1.06v1.1h-1.06zM96 89h1.06v1.1h-1.06zM96 104h1.06v1.1h-1.06zM97 87h1.06v1.1h-1.06zM98 34h1.06v1.1h-1.06zM98 38h1.06v2.1h-1.06zM98 41h1.06v1.1h-1.06zM98 104h1.06v1.1h-1.06zM99 3h1.06v1.1h-1.06zM99 85h1.06v1.1h-1.06zM99 91h1.06v1.1h-1.06zM100 1h1.06v1.1h-1.06zM100 29h1.06v1.1h-1.06zM100 50h1.06v1.1h-1.06zM100 53h1.06v1.1h-1.06zM100 66h1.06v2.1h-1.06zM100 77h1.06v1.1h-1.06zM100 91h1.06v1.1h-1.06zM101 1h1.06v1.1h-1.06zM101 29h1.06v1.1h-1.06zM101 50h1.06v1.1h-1.06zM101 53h1.06v1.1h-1.06zM101 66h1.06v2.1h-1.06zM101 77h1.06v1.1h-1.06zM101 91h1.06v1.1h-1.06z"/><path fill="#b1b5d7" d="M-1 72h1.06v1.1h-1.06zM-1 89h1.06v1.1h-1.06zM-1 98h1.06v1.1h-1.06zM0 72h1.06v1.1h-1.06zM0 89h1.06v1.1h-1.06zM0 98h1.06v1.1h-1.06zM1 -1h1.06v2.1h-1.06zM1 25h1.06v1.1h-1.06zM1 47h1.06v1.1h-1.06zM1 52h1.06v1.1h-1.06zM1 59h1.06v2.1h-1.06zM1 90h1.06v1.1h-1.06zM1 100h1.06v1.1h-1.06zM1 107h1.06v2.1h-1.06zM2 -1h1.06v2.1h-1.06zM3 33h1.06v1.1h-1.06zM3 45h1.06v1.1h-1.06zM3 68h1.06v1.1h-1.06zM4 103h1.06v1.1h-1.06zM5 4h1.06v1.1h-1.06zM6 89h1.06v1.1h-1.06zM7 18h1.06v1.1h-1.06zM7 20h1.06v1.1h-1.06zM7 32h1.06v1.1h-1.06zM7 42h1.06v1.1h-1.06zM7 44h1.06v1.1h-1.06zM7 49h1.06v1.1h-1.06zM7 65h1.06v1.1h-1.06zM7 74h1.06v1.1h-1.06zM7 88h1.06v1.1h-1.06zM7 99h1.06v1.1h-1.06zM8 34h1.06v1.1h-1.06zM9 61h1.06v1.1h-1.06zM9 102h1.06v1.1h-1.06zM10 83h1.06v1.1h-1.06zM11 27h1.06v1.1h-1.06zM11 30h1.06v2.1h-1.06zM11 75h1.06v1.1h-1.06zM11 85h1.06v2.1h-1.06zM12 73h1.06v1.1h-1.06zM12 79h1.06v1.1h-1.06zM13 -1h1.06v2.1h-1.06zM13 2h1.06v1.1h-1.06zM14 86h1.06v1.1h-1.06zM15 -1h1.06v2.1h-1.06zM15 26h1.06v1.1h-1.06zM15 31h1.06v1.1h-1.06zM15 75h1.06v1.1h-1.06zM15 85h1.06v1.1h-1.06zM16 1h1.06v1.1h-1.06zM18 5h1.06v1.1h-1.06zM21 56h1.06v1.1h-1.06zM21 61h1.06v1.1h-1.06zM21 63h1.06v1.1h-1.06zM21 65h1.06v1.1h-1.06zM21 72h1.06v1.1h-1.06zM21 91h1.06v2.1h-1.06zM21 96h1.06v1.1h-1.06zM21 102h1.06v1.1h-1.06zM22 4h1.06v3.1h-1.06zM22 11h1.06v1.1h-1.06zM22 14h1.06v1.1h-1.06zM22 16h1.06v1.1h-1.06zM22 20h1.06v1.1h-1.06zM22 26h1.06v1.1h-1.06zM22 30h1.06v2.1h-1.06zM22 36h1.06v3.1h-1.06zM22 76h1.06v1.1h-1.06zM22 99h1.06v1.1h-1.06zM23 18h1.06v1.1h-1.06zM24 9h1.06v1.1h-1.06zM24 30h1.06v1.1h-1.06zM24 37h1.06v1.1h-1.06zM24 60h1.06v1.1h-1.06zM24 79h1.06v1.1h-1.06zM24 90h1.06v1.1h-1.06zM25 20h1.06v1.1h-1.06zM25 45h1.06v1.1h-1.06zM25 63h1.06v1.1h-1.06zM25 71h1.06v1.1h-1.06zM25 82h1.06v2.1h-1.06zM26 26h1.06v1.1h-1.06zM26 51h1.06v1.1h-1.06zM26 69h1.06v1.1h-1.06zM26 73h1.06v1.1h-1.06zM26 78h1.06v1.1h-1.06zM27 12h1.06v1.1h-1.06zM27 25h1.06v1.1h-1.06zM27 40h1.06v1.1h-1.06zM27 58h1.06v1.1h-1.06zM27 65h1.06v1.1h-1.06zM27 83h1.06v1.1h-1.06zM27 90h1.06v1.1h-1.06zM27 98h1.06v1.1h-1.06zM28 21h1.06v2.1h-1.06zM28 28h1.06v1.1h-1.06zM28 38h1.06v1.1h-1.06zM28 40h1.06v1.1h-1.06zM28 49h1.06v1.1h-1.06zM28 60h1.06v1.1h-1.06zM28 75h1.06v1.1h-1.06zM29 3h1.06v1.1h-1.06zM29 6h1.06v1.1h-1.06zM29 14h1.06v1.1h-1.06zM29 23h1.06v1.1h-1.06zM29 26h1.06v1.1h-1.06zM29 48h1.06v1.1h-1.06zM29 52h1.06v2.1h-1.06zM29 74h1.06v1.1h-1.06zM29 80h1.06v1.1h-1.06zM30 -1h1.06v2.1h-1.06zM30 28h1.06v2.1h-1.06zM30 36h1.06v1.1h-1.06zM30 51h1.06v1.1h-1.06zM30 53h1.06v1.1h-1.06zM30 66h1.06v1.1h-1.06zM30 86h1.06v1.1h-1.06zM31 7h1.06v1.1h-1.06zM31 24h1.06v1.1h-1.06zM31 34h1.06v2.1h-1.06zM31 48h1.06v1.1h-1.06zM31 66h1.06v1.1h-1.06zM31 70h1.06v1.1h-1.06zM31 104h1.06v1.1h-1.06zM32 1h1.06v2.1h-1.06zM32 33h1.06v1.1h-1.06zM32 54h1.06v1.1h-1.06zM32 59h1.06v1.1h-1.06zM32 91h1.06v1.1h-1.06zM32 107h1.06v2.1h-1.06zM33 13h1.06v1.1h-1.06zM33 27h1.06v1.1h-1.06zM33 33h1.06v2.1h-1.06zM33 71h1.06v1.1h-1.06zM33 81h1.06v1.1h-1.06zM33 85h1.06v1.1h-1.06zM34 1h1.06v1.1h-1.06zM34 4h1.06v1.1h-1.06zM34 10h1.06v1.1h-1.06zM34 31h1.06v1.1h-1.06zM34 38h1.06v1.1h-1.06zM34 48h1.06v1.1h-1.06zM34 51h1.06v1.1h-1.06zM34 79h1.06v1.1h-1.06zM34 91h1.06v1.1h-1.06zM35 5h1.06v1.1h-1.06zM35 46h1.06v1.1h-1.06zM35 85h1.06v1.1h-1.06zM35 90h1.06v2.1h-1.06zM35 95h1.06v1.1h-1.06zM36 -1h1.06v2.1h-1.06zM36 14h1.06v1.1h-1.06zM36 47h1.06v1.1h-1.06zM36 52h1.06v1.1h-1.06zM36 87h1.06v1.1h-1.06zM36 107h1.06v2.1h-1.06zM37 19h1.06v1.1h-1.06zM37 31h1.06v1.1h-1.06zM37 33h1.06v1.1h-1.06zM37 37h1.06v1.1h-1.06zM37 51h1.06v1.1h-1.06zM37 70h1.06v1.1h-1.06zM37 81h1.06v1.1h-1.06zM37 88h1.06v1.1h-1.06zM39 6h1.06v1.1h-1.06zM39 24h1.06v1.1h-1.06zM39 27h1.06v2.1h-1.06zM39 72h1.06v1.1h-1.06zM39 77h1.06v1.1h-1.06zM39 82h1.06v1.1h-1.06zM39 95h1.06v2.1h-1.06zM39 99h1.06v1.1h-1.06zM40 17h1.06v1.1h-1.06zM40 29h1.06v1.1h-1.06zM40 46h1.06v1.1h-1.06zM40 56h1.06v1.1h-1.06zM40 63h1.06v1.1h-1.06zM40 75h1.06v1.1h-1.06zM40 100h1.06v1.1h-1.06zM41 1h1.06v1.1h-1.06zM41 3h1.06v1.1h-1.06zM41 15h1.06v1.1h-1.06zM41 17h1.06v2.1h-1.06zM41 28h1.06v1.1h-1.06zM41 31h1.06v1.1h-1.06zM41 59h1.06v1.1h-1.06zM41 63h1.06v1.1h-1.06zM41 67h1.06v1.1h-1.06zM41 76h1.06v1.1h-1.06zM41 84h1.06v1.1h-1.06zM42 27h1.06v1.1h-1.06zM42 36h1.06v1.1h-1.06zM42 45h1.06v1.1h-1.06zM42 47h1.06v1.1h-1.06zM42 63h1.06v1.1h-1.06zM42 67h1.06v1.1h-1.06zM42 100h1.06v1.1h-1.06zM43 11h1.06v1.1h-1.06zM43 35h1.06v2.1h-1.06zM43 39h1.06v1.1h-1.06zM43 49h1.06v1.1h-1.06zM44 3h1.06v1.1h-1.06zM44 25h1.06v1.1h-1.06zM44 32h1.06v1.1h-1.06zM44 37h1.06v1.1h-1.06zM44 41h1.06v1.1h-1.06zM44 57h1.06v1.1h-1.06zM44 59h1.06v1.1h-1.06zM44 64h1.06v1.1h-1.06zM44 66h1.06v1.1h-1.06zM44 77h1.06v1.1h-1.06zM44 83h1.06v1.1h-1.06zM44 99h1.06v1.1h-1.06zM44 102h1.06v2.1h-1.06zM44 107h1.06v2.1h-1.06zM45 1h1.06v1.1h-1.06zM45 5h1.06v2.1h-1.06zM45 15h1.06v1.1h-1.06zM45 32h1.06v1.1h-1.06zM45 47h1.06v1.1h-1.06zM45 84h1.06v1.1h-1.06zM45 87h1.06v1.1h-1.06zM46 19h1.06v1.1h-1.06zM46 23h1.06v1.1h-1.06zM46 25h1.06v1.1h-1.06zM46 28h1.06v1.1h-1.06zM46 33h1.06v1.1h-1.06zM46 45h1.06v1.1h-1.06zM46 61h1.06v1.1h-1.06zM47 29h1.06v1.1h-1.06zM47 49h1.06v1.1h-1.06zM47 54h1.06v1.1h-1.06zM47 77h1.06v1.1h-1.06zM47 103h1.06v2.1h-1.06zM48 76h1.06v2.1h-1.06zM48 96h1.06v1.1h-1.06zM49 10h1.06v1.1h-1.06zM49 15h1.06v1.1h-1.06zM49 30h1.06v1.1h-1.06zM49 39h1.06v1.1h-1.06zM49 61h1.06v2.1h-1.06zM49 83h1.06v1.1h-1.06zM49 91h1.06v1.1h-1.06zM50 11h1.06v1.1h-1.06zM50 23h1.06v1.1h-1.06zM50 46h1.06v1.1h-1.06zM50 49h1.06v1.1h-1.06zM50 51h1.06v1.1h-1.06zM50 56h1.06v2.1h-1.06zM50 66h1.06v1.1h-1.06zM50 69h1.06v1.1h-1.06zM50 74h1.06v1.1h-1.06zM50 77h1.06v1.1h-1.06zM50 81h1.06v1.1h-1.06zM50 85h1.06v1.1h-1.06zM50 91h1.06v1.1h-1.06zM50 98h1.06v1.1h-1.06zM51 41h1.06v1.1h-1.06zM51 62h1.06v1.1h-1.06zM51 68h1.06v1.1h-1.06zM51 73h1.06v2.1h-1.06zM51 81h1.06v1.1h-1.06zM51 89h1.06v2.1h-1.06zM51 93h1.06v1.1h-1.06zM51 104h1.06v1.1h-1.06zM52 34h1.06v1.1h-1.06zM52 36h1.06v1.1h-1.06zM52 41h1.06v1.1h-1.06zM52 46h1.06v1.1h-1.06zM52 49h1.06v1.1h-1.06zM52 73h1.06v1.1h-1.06zM52 86h1.06v1.1h-1.06zM52 104h1.06v1.1h-1.06zM52 106h1.06v1.1h-1.06zM53 8h1.06v2.1h-1.06zM53 17h1.06v1.1h-1.06zM53 20h1.06v1.1h-1.06zM53 22h1.06v1.1h-1.06zM53 26h1.06v2.1h-1.06zM53 29h1.06v2.1h-1.06zM53 32h1.06v1.1h-1.06zM53 44h1.06v1.1h-1.06zM53 53h1.06v1.1h-1.06zM53 63h1.06v1.1h-1.06zM53 67h1.06v1.1h-1.06zM53 97h1.06v1.1h-1.06zM54 -1h1.06v2.1h-1.06zM54 24h1.06v1.1h-1.06zM54 30h1.06v1.1h-1.06zM54 58h1.06v1.1h-1.06zM55 67h1.06v1.1h-1.06zM55 77h1.06v1.1h-1.06zM55 87h1.06v1.1h-1.06zM55 91h1.06v1.1h-1.06zM55 104h1.06v1.1h-1.06zM57 50h1.06v1.1h-1.06zM57 63h1.06v1.1h-1.06zM57 80h1.06v1.1h-1.06zM57 83h1.06v2.1h-1.06zM57 99h1.06v1.1h-1.06zM57 102h1.06v1.1h-1.06zM58 5h1.06v1.1h-1.06zM58 7h1.06v1.1h-1.06zM58 10h1.06v1.1h-1.06zM58 16h1.06v2.1h-1.06zM58 29h1.06v1.1h-1.06zM58 43h1.06v2.1h-1.06zM58 48h1.06v1.1h-1.06zM58 67h1.06v1.1h-1.06zM58 74h1.06v1.1h-1.06zM58 82h1.06v1.1h-1.06zM58 92h1.06v1.1h-1.06zM58 104h1.06v1.1h-1.06zM58 106h1.06v1.1h-1.06zM59 42h1.06v2.1h-1.06zM59 90h1.06v1.1h-1.06zM60 2h1.06v3.1h-1.06zM60 47h1.06v1.1h-1.06zM61 -1h1.06v2.1h-1.06zM61 15h1.06v1.1h-1.06zM61 17h1.06v1.1h-1.06zM61 20h1.06v1.1h-1.06zM61 23h1.06v1.1h-1.06zM61 40h1.06v1.1h-1.06zM61 42h1.06v1.1h-1.06zM61 47h1.06v1.1h-1.06zM61 52h1.06v1.1h-1.06zM61 55h1.06v1.1h-1.06zM61 62h1.06v1.1h-1.06zM61 77h1.06v1.1h-1.06zM61 82h1.06v1.1h-1.06zM61 101h1.06v1.1h-1.06zM62 63h1.06v1.1h-1.06zM62 90h1.06v1.1h-1.06zM62 100h1.06v1.1h-1.06zM63 7h1.06v1.1h-1.06zM63 33h1.06v1.1h-1.06zM63 35h1.06v2.1h-1.06zM63 50h1.06v1.1h-1.06zM63 86h1.06v1.1h-1.06zM63 104h1.06v1.1h-1.06zM64 10h1.06v1.1h-1.06zM64 20h1.06v1.1h-1.06zM64 30h1.06v1.1h-1.06zM64 43h1.06v1.1h-1.06zM64 46h1.06v3.1h-1.06zM64 51h1.06v1.1h-1.06zM64 56h1.06v1.1h-1.06zM64 96h1.06v1.1h-1.06zM65 12h1.06v1.1h-1.06zM65 54h1.06v1.1h-1.06zM65 90h1.06v1.1h-1.06zM65 97h1.06v1.1h-1.06zM67 1h1.06v1.1h-1.06zM67 7h1.06v1.1h-1.06zM67 11h1.06v1.1h-1.06zM67 16h1.06v1.1h-1.06zM67 29h1.06v1.1h-1.06zM67 37h1.06v1.1h-1.06zM67 43h1.06v1.1h-1.06zM67 45h1.06v1.1h-1.06zM67 48h1.06v1.1h-1.06zM67 59h1.06v1.1h-1.06zM68 12h1.06v1.1h-1.06zM68 24h1.06v1.1h-1.06zM68 28h1.06v1.1h-1.06zM69 11h1.06v2.1h-1.06zM69 43h1.06v1.1h-1.06zM69 50h1.06v1.1h-1.06zM69 58h1.06v1.1h-1.06zM69 65h1.06v1.1h-1.06zM69 74h1.06v1.1h-1.06zM69 89h1.06v1.1h-1.06zM69 103h1.06v2.1h-1.06zM70 3h1.06v1.1h-1.06zM70 5h1.06v1.1h-1.06zM70 11h1.06v2.1h-1.06zM70 22h1.06v1.1h-1.06zM70 28h1.06v1.1h-1.06zM70 31h1.06v1.1h-1.06zM70 35h1.06v1.1h-1.06zM70 49h1.06v1.1h-1.06zM70 54h1.06v1.1h-1.06zM70 59h1.06v1.1h-1.06zM70 86h1.06v1.1h-1.06zM70 98h1.06v1.1h-1.06zM70 107h1.06v2.1h-1.06zM71 -1h1.06v2.1h-1.06zM71 14h1.06v1.1h-1.06zM71 56h1.06v1.1h-1.06zM71 60h1.06v1.1h-1.06zM71 67h1.06v1.1h-1.06zM71 90h1.06v1.1h-1.06zM71 95h1.06v1.1h-1.06zM71 103h1.06v1.1h-1.06zM73 9h1.06v1.1h-1.06zM73 36h1.06v1.1h-1.06zM73 43h1.06v1.1h-1.06zM73 46h1.06v1.1h-1.06zM73 51h1.06v1.1h-1.06zM73 53h1.06v1.1h-1.06zM74 3h1.06v3.1h-1.06zM74 7h1.06v1.1h-1.06zM74 16h1.06v1.1h-1.06zM74 24h1.06v1.1h-1.06zM74 32h1.06v1.1h-1.06zM74 89h1.06v1.1h-1.06zM74 97h1.06v1.1h-1.06zM75 29h1.06v1.1h-1.06zM75 48h1.06v1.1h-1.06zM75 65h1.06v1.1h-1.06zM75 70h1.06v2.1h-1.06zM75 91h1.06v1.1h-1.06zM75 99h1.06v1.1h-1.06zM76 4h1.06v2.1h-1.06zM76 11h1.06v1.1h-1.06zM76 16h1.06v1.1h-1.06zM76 18h1.06v1.1h-1.06zM76 31h1.06v2.1h-1.06zM76 48h1.06v1.1h-1.06zM76 70h1.06v1.1h-1.06zM76 84h1.06v1.1h-1.06zM76 93h1.06v1.1h-1.06zM77 -1h1.06v2.1h-1.06zM77 25h1.06v1.1h-1.06zM77 55h1.06v1.1h-1.06zM77 62h1.06v1.1h-1.06zM77 77h1.06v1.1h-1.06zM77 81h1.06v1.1h-1.06zM77 83h1.06v1.1h-1.06zM77 90h1.06v2.1h-1.06zM77 105h1.06v1.1h-1.06zM78 3h1.06v1.1h-1.06zM78 17h1.06v1.1h-1.06zM78 21h1.06v1.1h-1.06zM78 52h1.06v1.1h-1.06zM78 56h1.06v1.1h-1.06zM78 61h1.06v1.1h-1.06zM78 77h1.06v1.1h-1.06zM78 80h1.06v1.1h-1.06zM78 102h1.06v1.1h-1.06zM78 104h1.06v1.1h-1.06zM79 11h1.06v1.1h-1.06zM79 40h1.06v2.1h-1.06zM79 49h1.06v1.1h-1.06zM79 54h1.06v1.1h-1.06zM79 59h1.06v1.1h-1.06zM79 62h1.06v1.1h-1.06zM79 73h1.06v1.1h-1.06zM79 106h1.06v1.1h-1.06zM80 26h1.06v1.1h-1.06zM81 16h1.06v1.1h-1.06zM81 51h1.06v1.1h-1.06zM81 58h1.06v1.1h-1.06zM81 62h1.06v1.1h-1.06zM81 100h1.06v1.1h-1.06zM82 2h1.06v1.1h-1.06zM82 27h1.06v1.1h-1.06zM82 31h1.06v1.1h-1.06zM82 105h1.06v2.1h-1.06zM83 4h1.06v2.1h-1.06zM83 7h1.06v1.1h-1.06zM83 12h1.06v1.1h-1.06zM83 18h1.06v1.1h-1.06zM83 28h1.06v1.1h-1.06zM83 34h1.06v1.1h-1.06zM83 38h1.06v3.1h-1.06zM83 42h1.06v2.1h-1.06zM83 77h1.06v1.1h-1.06zM83 90h1.06v1.1h-1.06zM83 100h1.06v1.1h-1.06zM83 103h1.06v2.1h-1.06zM84 3h1.06v1.1h-1.06zM84 5h1.06v1.1h-1.06zM84 30h1.06v1.1h-1.06zM84 35h1.06v1.1h-1.06zM84 39h1.06v1.1h-1.06zM84 52h1.06v1.1h-1.06zM84 69h1.06v1.1h-1.06zM84 88h1.06v1.1h-1.06zM84 92h1.06v1.1h-1.06zM85 65h1.06v1.1h-1.06zM85 82h1.06v1.1h-1.06zM86 15h1.06v1.1h-1.06zM86 20h1.06v1.1h-1.06zM86 29h1.06v1.1h-1.06zM86 48h1.06v1.1h-1.06zM87 43h1.06v1.1h-1.06zM87 59h1.06v1.1h-1.06zM87 67h1.06v1.1h-1.06zM87 71h1.06v1.1h-1.06zM87 89h1.06v1.1h-1.06zM87 96h1.06v1.1h-1.06zM87 106h1.06v1.1h-1.06zM89 1h1.06v1.1h-1.06zM89 16h1.06v1.1h-1.06zM89 20h1.06v1.1h-1.06zM89 23h1.06v1.1h-1.06zM89 28h1.06v1.1h-1.06zM89 51h1.06v1.1h-1.06zM89 84h1.06v1.1h-1.06zM90 32h1.06v1.1h-1.06zM90 50h1.06v1.1h-1.06zM91 59h1.06v1.1h-1.06zM91 68h1.06v1.1h-1.06zM92 4h1.06v1.1h-1.06zM92 7h1.06v1.1h-1.06zM92 19h1.06v1.1h-1.06zM92 31h1.06v1.1h-1.06zM92 43h1.06v1.1h-1.06zM92 51h1.06v1.1h-1.06zM92 53h1.06v1.1h-1.06zM92 59h1.06v1.1h-1.06zM92 68h1.06v1.1h-1.06zM92 88h1.06v1.1h-1.06zM92 90h1.06v1.1h-1.06zM93 4h1.06v1.1h-1.06zM93 9h1.06v1.1h-1.06zM93 12h1.06v1.1h-1.06zM93 24h1.06v1.1h-1.06zM93 37h1.06v1.1h-1.06zM93 43h1.06v1.1h-1.06zM93 71h1.06v1.1h-1.06zM93 80h1.06v1.1h-1.06zM93 85h1.06v2.1h-1.06zM93 88h1.06v1.1h-1.06zM93 104h1.06v1.1h-1.06zM94 16h1.06v1.1h-1.06zM94 20h1.06v2.1h-1.06zM94 39h1.06v1.1h-1.06zM94 48h1.06v1.1h-1.06zM94 53h1.06v1.1h-1.06zM94 70h1.06v1.1h-1.06zM94 83h1.06v2.1h-1.06zM94 86h1.06v1.1h-1.06zM94 89h1.06v1.1h-1.06zM95 22h1.06v1.1h-1.06zM95 35h1.06v1.1h-1.06zM96 9h1.06v1.1h-1.06zM96 36h1.06v1.1h-1.06zM96 42h1.06v1.1h-1.06zM96 49h1.06v1.1h-1.06zM96 54h1.06v1.1h-1.06zM96 60h1.06v1.1h-1.06zM96 63h1.06v1.1h-1.06zM96 65h1.06v1.1h-1.06zM96 88h1.06v1.1h-1.06zM96 100h1.06v1.1h-1.06zM96 107h1.06v2.1h-1.06zM97 55h1.06v1.1h-1.06zM98 11h1.06v1.1h-1.06zM98 14h1.06v1.1h-1.06zM98 16h1.06v1.1h-1.06zM98 24h1.06v1.1h-1.06zM98 31h1.06v1.1h-1.06zM98 37h1.06v1.1h-1.06zM98 48h1.06v1.1h-1.06zM99 1h1.06v1.1h-1.06zM99 16h1.06v1.1h-1.06zM99 28h1.06v1.1h-1.06zM99 35h1.06v1.1h-1.06zM99 82h1.06v1.1h-1.06zM99 90h1.06v1.1h-1.06zM99 104h1.06v1.1h-1.06zM100 7h1.06v1.1h-1.06zM100 41h1.06v1.1h-1.06zM100 45h1.06v1.1h-1.06zM100 63h1.06v3.1h-1.06zM100 87h1.06v1.1h-1.06zM100 89h1.06v1.1h-1.06zM100 97h1.06v2.1h-1.06zM100 104h1.06v1.1h-1.06zM101 7h1.06v1.1h-1.06zM101 41h1.06v1.1h-1.06zM101 45h1.06v1.1h-1.06zM101 63h1.06v3.1h-1.06zM101 87h1.06v1.1h-1.06zM101 89h1.06v1.1h-1.06zM101 97h1.06v2.1h-1.06zM101 104h1.06v1.1h-1.06z"/><path fill="#c5c7e0" d="M-1 43h1.06v1.1h-1.06zM-1 60h1.06v1.1h-1.06zM-1 92h1.06v1.1h-1.06zM-1 96h1.06v1.1h-1.06zM0 43h1.06v1.1h-1.06zM0 60h1.06v1.1h-1.06zM0 92h1.06v1.1h-1.06zM0 96h1.06v1.1h-1.06zM1 18h1.06v2.1h-1.06zM1 22h1.06v1.1h-1.06zM1 26h1.06v1.1h-1.06zM1 31h1.06v1.1h-1.06zM1 42h1.06v1.1h-1.06zM1 49h1.06v1.1h-1.06zM1 56h1.06v1.1h-1.06zM1 61h1.06v1.1h-1.06zM1 64h1.06v1.1h-1.06zM1 73h1.06v1.1h-1.06zM1 84h1.06v1.1h-1.06zM1 87h1.06v2.1h-1.06zM1 96h1.06v1.1h-1.06zM1 104h1.06v1.1h-1.06zM3 16h1.06v1.1h-1.06zM3 72h1.06v1.1h-1.06zM6 10h1.06v1.1h-1.06zM6 12h1.06v1.1h-1.06zM6 83h1.06v1.1h-1.06zM6 85h1.06v1.1h-1.06zM6 93h1.06v1.1h-1.06zM7 -1h1.06v2.1h-1.06zM7 16h1.06v1.1h-1.06zM7 19h1.06v1.1h-1.06zM7 23h1.06v1.1h-1.06zM7 26h1.06v1.1h-1.06zM7 40h1.06v1.1h-1.06zM7 75h1.06v3.1h-1.06zM7 86h1.06v2.1h-1.06zM7 94h1.06v1.1h-1.06zM7 107h1.06v2.1h-1.06zM8 17h1.06v1.1h-1.06zM8 38h1.06v1.1h-1.06zM9 16h1.06v1.1h-1.06zM9 75h1.06v1.1h-1.06zM9 90h1.06v1.1h-1.06zM10 73h1.06v1.1h-1.06zM10 80h1.06v1.1h-1.06zM10 89h1.06v1.1h-1.06zM11 2h1.06v1.1h-1.06zM11 72h1.06v1.1h-1.06zM11 77h1.06v1.1h-1.06zM11 80h1.06v1.1h-1.06zM12 26h1.06v1.1h-1.06zM12 98h1.06v1.1h-1.06zM13 16h1.06v1.1h-1.06zM13 36h1.06v1.1h-1.06zM13 43h1.06v1.1h-1.06zM14 62h1.06v1.1h-1.06zM14 73h1.06v1.1h-1.06zM14 81h1.06v1.1h-1.06zM15 14h1.06v1.1h-1.06zM15 20h1.06v1.1h-1.06zM15 36h1.06v1.1h-1.06zM15 41h1.06v1.1h-1.06zM15 49h1.06v1.1h-1.06zM15 72h1.06v1.1h-1.06zM15 81h1.06v1.1h-1.06zM15 102h1.06v1.1h-1.06zM18 17h1.06v1.1h-1.06zM18 104h1.06v1.1h-1.06zM21 47h1.06v1.1h-1.06zM21 57h1.06v1.1h-1.06zM21 60h1.06v1.1h-1.06zM21 67h1.06v1.1h-1.06zM21 79h1.06v1.1h-1.06zM21 86h1.06v1.1h-1.06zM21 95h1.06v1.1h-1.06zM22 8h1.06v1.1h-1.06zM22 10h1.06v1.1h-1.06zM22 23h1.06v1.1h-1.06zM22 50h1.06v1.1h-1.06zM22 72h1.06v1.1h-1.06zM22 86h1.06v1.1h-1.06zM22 88h1.06v1.1h-1.06zM23 2h1.06v1.1h-1.06zM23 32h1.06v1.1h-1.06zM23 50h1.06v1.1h-1.06zM23 75h1.06v1.1h-1.06zM24 -1h1.06v2.1h-1.06zM24 17h1.06v1.1h-1.06zM24 19h1.06v1.1h-1.06zM24 21h1.06v1.1h-1.06zM24 31h1.06v1.1h-1.06zM24 36h1.06v1.1h-1.06zM24 38h1.06v1.1h-1.06zM24 47h1.06v3.1h-1.06zM24 71h1.06v1.1h-1.06zM24 73h1.06v1.1h-1.06zM24 83h1.06v2.1h-1.06zM24 89h1.06v1.1h-1.06zM24 91h1.06v2.1h-1.06zM24 102h1.06v1.1h-1.06zM25 5h1.06v1.1h-1.06zM25 9h1.06v1.1h-1.06zM25 23h1.06v1.1h-1.06zM25 29h1.06v1.1h-1.06zM25 31h1.06v1.1h-1.06zM25 43h1.06v1.1h-1.06zM25 49h1.06v1.1h-1.06zM25 77h1.06v1.1h-1.06zM25 94h1.06v1.1h-1.06zM25 104h1.06v1.1h-1.06zM26 1h1.06v1.1h-1.06zM26 34h1.06v1.1h-1.06zM27 19h1.06v1.1h-1.06zM27 36h1.06v1.1h-1.06zM27 39h1.06v1.1h-1.06zM27 46h1.06v1.1h-1.06zM27 60h1.06v1.1h-1.06zM27 66h1.06v2.1h-1.06zM27 77h1.06v1.1h-1.06zM27 82h1.06v1.1h-1.06zM27 89h1.06v1.1h-1.06zM27 103h1.06v1.1h-1.06zM28 -1h1.06v2.1h-1.06zM28 6h1.06v2.1h-1.06zM28 10h1.06v1.1h-1.06zM28 32h1.06v1.1h-1.06zM28 53h1.06v1.1h-1.06zM28 58h1.06v1.1h-1.06zM28 62h1.06v1.1h-1.06zM28 77h1.06v1.1h-1.06zM28 86h1.06v1.1h-1.06zM28 97h1.06v1.1h-1.06zM28 103h1.06v1.1h-1.06zM28 106h1.06v1.1h-1.06zM29 -1h1.06v2.1h-1.06zM29 8h1.06v1.1h-1.06zM29 10h1.06v1.1h-1.06zM29 36h1.06v1.1h-1.06zM29 39h1.06v1.1h-1.06zM29 72h1.06v1.1h-1.06zM29 84h1.06v1.1h-1.06zM29 86h1.06v2.1h-1.06zM29 101h1.06v1.1h-1.06zM29 103h1.06v1.1h-1.06zM30 72h1.06v1.1h-1.06zM30 77h1.06v1.1h-1.06zM31 11h1.06v1.1h-1.06zM31 17h1.06v1.1h-1.06zM31 19h1.06v1.1h-1.06zM31 25h1.06v1.1h-1.06zM31 36h1.06v1.1h-1.06zM31 39h1.06v1.1h-1.06zM31 44h1.06v1.1h-1.06zM31 55h1.06v1.1h-1.06zM31 58h1.06v1.1h-1.06zM31 60h1.06v1.1h-1.06zM31 65h1.06v1.1h-1.06zM31 67h1.06v1.1h-1.06zM31 89h1.06v1.1h-1.06zM32 3h1.06v1.1h-1.06zM32 7h1.06v1.1h-1.06zM32 12h1.06v2.1h-1.06zM32 16h1.06v2.1h-1.06zM32 61h1.06v1.1h-1.06zM32 75h1.06v2.1h-1.06zM32 83h1.06v1.1h-1.06zM32 88h1.06v1.1h-1.06zM32 94h1.06v1.1h-1.06zM32 97h1.06v2.1h-1.06zM32 104h1.06v1.1h-1.06zM32 106h1.06v1.1h-1.06zM33 5h1.06v1.1h-1.06zM33 21h1.06v1.1h-1.06zM33 50h1.06v1.1h-1.06zM33 72h1.06v1.1h-1.06zM33 76h1.06v2.1h-1.06zM33 89h1.06v1.1h-1.06zM33 93h1.06v1.1h-1.06zM33 96h1.06v2.1h-1.06zM33 99h1.06v1.1h-1.06zM33 105h1.06v1.1h-1.06zM34 8h1.06v1.1h-1.06zM34 16h1.06v1.1h-1.06zM34 22h1.06v1.1h-1.06zM34 25h1.06v1.1h-1.06zM34 42h1.06v1.1h-1.06zM34 45h1.06v1.1h-1.06zM34 70h1.06v1.1h-1.06zM34 73h1.06v1.1h-1.06zM34 87h1.06v1.1h-1.06zM35 8h1.06v1.1h-1.06zM35 24h1.06v1.1h-1.06zM35 49h1.06v1.1h-1.06zM35 65h1.06v1.1h-1.06zM35 96h1.06v1.1h-1.06zM35 100h1.06v1.1h-1.06zM35 104h1.06v1.1h-1.06zM36 3h1.06v1.1h-1.06zM36 10h1.06v1.1h-1.06zM36 25h1.06v2.1h-1.06zM36 28h1.06v1.1h-1.06zM36 30h1.06v1.1h-1.06zM36 39h1.06v1.1h-1.06zM36 43h1.06v1.1h-1.06zM36 67h1.06v1.1h-1.06zM36 100h1.06v1.1h-1.06zM37 -1h1.06v2.1h-1.06zM37 8h1.06v1.1h-1.06zM37 22h1.06v1.1h-1.06zM37 32h1.06v1.1h-1.06zM37 34h1.06v1.1h-1.06zM37 59h1.06v1.1h-1.06zM37 66h1.06v1.1h-1.06zM37 72h1.06v1.1h-1.06zM37 83h1.06v1.1h-1.06zM37 97h1.06v1.1h-1.06zM37 102h1.06v2.1h-1.06zM39 4h1.06v2.1h-1.06zM39 7h1.06v1.1h-1.06zM39 15h1.06v1.1h-1.06zM39 29h1.06v1.1h-1.06zM39 53h1.06v1.1h-1.06zM39 58h1.06v1.1h-1.06zM39 74h1.06v1.1h-1.06zM39 76h1.06v1.1h-1.06zM39 84h1.06v1.1h-1.06zM39 88h1.06v1.1h-1.06zM39 97h1.06v2.1h-1.06zM39 100h1.06v1.1h-1.06zM39 102h1.06v1.1h-1.06zM40 3h1.06v1.1h-1.06zM40 25h1.06v1.1h-1.06zM40 27h1.06v1.1h-1.06zM40 30h1.06v1.1h-1.06zM40 67h1.06v1.1h-1.06zM40 71h1.06v1.1h-1.06zM41 2h1.06v1.1h-1.06zM41 4h1.06v1.1h-1.06zM41 12h1.06v1.1h-1.06zM41 20h1.06v3.1h-1.06zM41 26h1.06v1.1h-1.06zM41 32h1.06v1.1h-1.06zM41 42h1.06v1.1h-1.06zM41 66h1.06v1.1h-1.06zM41 71h1.06v1.1h-1.06zM41 85h1.06v1.1h-1.06zM41 95h1.06v1.1h-1.06zM42 10h1.06v1.1h-1.06zM42 12h1.06v1.1h-1.06zM42 23h1.06v1.1h-1.06zM42 43h1.06v1.1h-1.06zM42 48h1.06v1.1h-1.06zM42 82h1.06v1.1h-1.06zM42 85h1.06v1.1h-1.06zM42 94h1.06v1.1h-1.06zM43 -1h1.06v2.1h-1.06zM43 7h1.06v1.1h-1.06zM43 12h1.06v2.1h-1.06zM43 24h1.06v1.1h-1.06zM43 28h1.06v1.1h-1.06zM43 51h1.06v1.1h-1.06zM43 58h1.06v1.1h-1.06zM43 95h1.06v1.1h-1.06zM44 7h1.06v1.1h-1.06zM44 9h1.06v1.1h-1.06zM44 20h1.06v1.1h-1.06zM44 27h1.06v1.1h-1.06zM44 40h1.06v1.1h-1.06zM44 47h1.06v1.1h-1.06zM44 53h1.06v1.1h-1.06zM44 90h1.06v1.1h-1.06zM45 2h1.06v1.1h-1.06zM45 7h1.06v1.1h-1.06zM45 16h1.06v1.1h-1.06zM45 20h1.06v1.1h-1.06zM45 25h1.06v1.1h-1.06zM45 27h1.06v2.1h-1.06zM45 48h1.06v1.1h-1.06zM45 60h1.06v1.1h-1.06zM45 89h1.06v2.1h-1.06zM45 95h1.06v2.1h-1.06zM45 102h1.06v1.1h-1.06zM46 3h1.06v1.1h-1.06zM46 7h1.06v1.1h-1.06zM46 9h1.06v1.1h-1.06zM46 11h1.06v1.1h-1.06zM46 18h1.06v1.1h-1.06zM46 26h1.06v2.1h-1.06zM46 39h1.06v1.1h-1.06zM46 49h1.06v1.1h-1.06zM46 58h1.06v1.1h-1.06zM46 73h1.06v2.1h-1.06zM46 86h1.06v1.1h-1.06zM46 97h1.06v1.1h-1.06zM47 3h1.06v1.1h-1.06zM47 13h1.06v1.1h-1.06zM47 20h1.06v1.1h-1.06zM47 24h1.06v1.1h-1.06zM47 56h1.06v1.1h-1.06zM47 65h1.06v1.1h-1.06zM47 73h1.06v1.1h-1.06zM47 81h1.06v1.1h-1.06zM47 85h1.06v1.1h-1.06zM47 94h1.06v2.1h-1.06zM47 100h1.06v1.1h-1.06zM48 73h1.06v1.1h-1.06zM48 82h1.06v2.1h-1.06zM48 92h1.06v1.1h-1.06zM49 5h1.06v1.1h-1.06zM49 14h1.06v1.1h-1.06zM49 36h1.06v1.1h-1.06zM49 41h1.06v1.1h-1.06zM49 55h1.06v1.1h-1.06zM50 15h1.06v1.1h-1.06zM50 18h1.06v2.1h-1.06zM50 34h1.06v1.1h-1.06zM50 39h1.06v1.1h-1.06zM50 53h1.06v1.1h-1.06zM50 55h1.06v1.1h-1.06zM50 62h1.06v1.1h-1.06zM50 68h1.06v1.1h-1.06zM50 84h1.06v1.1h-1.06zM50 93h1.06v1.1h-1.06zM50 105h1.06v1.1h-1.06zM51 23h1.06v1.1h-1.06zM51 52h1.06v1.1h-1.06zM51 56h1.06v2.1h-1.06zM51 63h1.06v1.1h-1.06zM51 77h1.06v1.1h-1.06zM51 94h1.06v1.1h-1.06zM51 103h1.06v1.1h-1.06zM52 4h1.06v1.1h-1.06zM52 14h1.06v1.1h-1.06zM52 16h1.06v2.1h-1.06zM52 20h1.06v1.1h-1.06zM52 22h1.06v1.1h-1.06zM52 33h1.06v1.1h-1.06zM52 51h1.06v1.1h-1.06zM52 71h1.06v1.1h-1.06zM52 82h1.06v1.1h-1.06zM52 89h1.06v1.1h-1.06zM52 93h1.06v1.1h-1.06zM52 99h1.06v1.1h-1.06zM52 103h1.06v1.1h-1.06zM53 33h1.06v1.1h-1.06zM53 39h1.06v2.1h-1.06zM53 47h1.06v1.1h-1.06zM53 55h1.06v1.1h-1.06zM53 58h1.06v1.1h-1.06zM53 70h1.06v1.1h-1.06zM53 72h1.06v1.1h-1.06zM53 90h1.06v1.1h-1.06zM53 100h1.06v1.1h-1.06zM53 103h1.06v2.1h-1.06zM54 4h1.06v1.1h-1.06zM54 9h1.06v1.1h-1.06zM54 18h1.06v1.1h-1.06zM54 36h1.06v1.1h-1.06zM54 50h1.06v1.1h-1.06zM54 60h1.06v1.1h-1.06zM54 62h1.06v1.1h-1.06zM54 65h1.06v1.1h-1.06zM54 76h1.06v1.1h-1.06zM54 81h1.06v2.1h-1.06zM54 85h1.06v1.1h-1.06zM54 107h1.06v2.1h-1.06zM55 11h1.06v1.1h-1.06zM55 50h1.06v1.1h-1.06zM55 65h1.06v1.1h-1.06zM55 74h1.06v1.1h-1.06zM55 100h1.06v1.1h-1.06zM56 94h1.06v1.1h-1.06zM56 99h1.06v1.1h-1.06zM57 7h1.06v1.1h-1.06zM57 54h1.06v1.1h-1.06zM57 65h1.06v1.1h-1.06zM57 73h1.06v1.1h-1.06zM57 78h1.06v1.1h-1.06zM57 97h1.06v1.1h-1.06zM58 21h1.06v1.1h-1.06zM58 23h1.06v1.1h-1.06zM58 32h1.06v1.1h-1.06zM58 37h1.06v1.1h-1.06zM58 54h1.06v1.1h-1.06zM58 59h1.06v1.1h-1.06zM58 73h1.06v1.1h-1.06zM58 87h1.06v2.1h-1.06zM58 93h1.06v1.1h-1.06zM58 99h1.06v1.1h-1.06zM58 102h1.06v1.1h-1.06zM59 12h1.06v1.1h-1.06zM59 23h1.06v1.1h-1.06zM59 36h1.06v1.1h-1.06zM59 39h1.06v1.1h-1.06zM59 48h1.06v1.1h-1.06zM59 53h1.06v1.1h-1.06zM60 15h1.06v2.1h-1.06zM60 18h1.06v1.1h-1.06zM60 23h1.06v1.1h-1.06zM60 41h1.06v1.1h-1.06zM60 50h1.06v1.1h-1.06zM60 52h1.06v1.1h-1.06zM60 67h1.06v1.1h-1.06zM60 103h1.06v1.1h-1.06zM61 6h1.06v1.1h-1.06zM61 21h1.06v1.1h-1.06zM61 24h1.06v1.1h-1.06zM61 26h1.06v1.1h-1.06zM61 49h1.06v1.1h-1.06zM61 67h1.06v1.1h-1.06zM61 84h1.06v1.1h-1.06zM61 93h1.06v1.1h-1.06zM62 50h1.06v1.1h-1.06zM62 59h1.06v1.1h-1.06zM62 67h1.06v1.1h-1.06zM62 80h1.06v1.1h-1.06zM62 104h1.06v1.1h-1.06zM63 -1h1.06v2.1h-1.06zM63 9h1.06v2.1h-1.06zM63 13h1.06v1.1h-1.06zM63 26h1.06v1.1h-1.06zM63 65h1.06v1.1h-1.06zM63 71h1.06v1.1h-1.06zM64 16h1.06v2.1h-1.06zM64 35h1.06v1.1h-1.06zM64 39h1.06v1.1h-1.06zM64 45h1.06v1.1h-1.06zM64 58h1.06v1.1h-1.06zM64 63h1.06v2.1h-1.06zM65 11h1.06v1.1h-1.06zM65 40h1.06v1.1h-1.06zM65 89h1.06v1.1h-1.06zM65 95h1.06v1.1h-1.06zM65 98h1.06v1.1h-1.06zM65 104h1.06v1.1h-1.06zM66 104h1.06v1.1h-1.06zM67 35h1.06v1.1h-1.06zM67 60h1.06v1.1h-1.06zM67 68h1.06v1.1h-1.06zM67 79h1.06v1.1h-1.06zM68 1h1.06v1.1h-1.06zM68 6h1.06v2.1h-1.06zM68 18h1.06v1.1h-1.06zM68 76h1.06v1.1h-1.06zM69 13h1.06v1.1h-1.06zM69 17h1.06v1.1h-1.06zM69 47h1.06v1.1h-1.06zM69 63h1.06v1.1h-1.06zM69 82h1.06v1.1h-1.06zM69 85h1.06v1.1h-1.06zM69 99h1.06v1.1h-1.06zM70 14h1.06v1.1h-1.06zM70 17h1.06v2.1h-1.06zM70 51h1.06v1.1h-1.06zM70 65h1.06v1.1h-1.06zM70 70h1.06v2.1h-1.06zM70 79h1.06v1.1h-1.06zM70 81h1.06v1.1h-1.06zM70 88h1.06v1.1h-1.06zM70 91h1.06v1.1h-1.06zM71 15h1.06v1.1h-1.06zM71 57h1.06v1.1h-1.06zM71 65h1.06v1.1h-1.06zM71 73h1.06v1.1h-1.06zM71 79h1.06v1.1h-1.06zM71 99h1.06v1.1h-1.06zM71 107h1.06v2.1h-1.06zM72 4h1.06v1.1h-1.06zM72 71h1.06v1.1h-1.06zM72 97h1.06v1.1h-1.06zM72 106h1.06v1.1h-1.06zM73 34h1.06v1.1h-1.06zM73 38h1.06v1.1h-1.06zM73 48h1.06v1.1h-1.06zM74 13h1.06v1.1h-1.06zM74 17h1.06v1.1h-1.06zM74 19h1.06v1.1h-1.06zM74 27h1.06v1.1h-1.06zM74 43h1.06v2.1h-1.06zM74 47h1.06v1.1h-1.06zM74 51h1.06v1.1h-1.06zM74 55h1.06v2.1h-1.06zM74 66h1.06v1.1h-1.06zM74 77h1.06v1.1h-1.06zM74 91h1.06v1.1h-1.06zM75 5h1.06v1.1h-1.06zM75 14h1.06v1.1h-1.06zM75 23h1.06v1.1h-1.06zM75 38h1.06v1.1h-1.06zM75 41h1.06v1.1h-1.06zM75 49h1.06v1.1h-1.06zM75 67h1.06v1.1h-1.06zM75 74h1.06v1.1h-1.06zM75 82h1.06v1.1h-1.06zM75 86h1.06v1.1h-1.06zM75 93h1.06v1.1h-1.06zM75 101h1.06v1.1h-1.06zM76 41h1.06v1.1h-1.06zM76 43h1.06v1.1h-1.06zM76 46h1.06v1.1h-1.06zM76 59h1.06v1.1h-1.06zM76 67h1.06v2.1h-1.06zM76 95h1.06v1.1h-1.06zM77 5h1.06v1.1h-1.06zM77 18h1.06v1.1h-1.06zM77 21h1.06v1.1h-1.06zM77 27h1.06v1.1h-1.06zM77 29h1.06v1.1h-1.06zM77 47h1.06v2.1h-1.06zM77 60h1.06v1.1h-1.06zM77 67h1.06v1.1h-1.06zM77 73h1.06v1.1h-1.06zM77 76h1.06v1.1h-1.06zM77 79h1.06v1.1h-1.06zM77 93h1.06v1.1h-1.06zM77 97h1.06v1.1h-1.06zM78 7h1.06v1.1h-1.06zM78 23h1.06v1.1h-1.06zM78 26h1.06v1.1h-1.06zM78 48h1.06v1.1h-1.06zM78 50h1.06v1.1h-1.06zM78 66h1.06v1.1h-1.06zM78 68h1.06v1.1h-1.06zM78 72h1.06v1.1h-1.06zM78 76h1.06v1.1h-1.06zM78 79h1.06v1.1h-1.06zM78 84h1.06v1.1h-1.06zM78 96h1.06v1.1h-1.06zM79 18h1.06v1.1h-1.06zM79 23h1.06v1.1h-1.06zM79 25h1.06v1.1h-1.06zM79 33h1.06v1.1h-1.06zM79 35h1.06v1.1h-1.06zM79 43h1.06v1.1h-1.06zM79 52h1.06v1.1h-1.06zM79 61h1.06v1.1h-1.06zM79 71h1.06v1.1h-1.06zM79 74h1.06v1.1h-1.06zM79 92h1.06v1.1h-1.06zM79 100h1.06v1.1h-1.06zM79 105h1.06v1.1h-1.06zM79 107h1.06v2.1h-1.06zM80 1h1.06v1.1h-1.06zM80 5h1.06v2.1h-1.06zM80 17h1.06v1.1h-1.06zM80 21h1.06v2.1h-1.06zM80 32h1.06v1.1h-1.06zM80 39h1.06v1.1h-1.06zM80 42h1.06v1.1h-1.06zM80 46h1.06v3.1h-1.06zM80 91h1.06v1.1h-1.06zM81 7h1.06v1.1h-1.06zM81 24h1.06v1.1h-1.06zM81 37h1.06v1.1h-1.06zM81 46h1.06v1.1h-1.06zM81 60h1.06v1.1h-1.06zM81 65h1.06v1.1h-1.06zM81 87h1.06v1.1h-1.06zM81 90h1.06v1.1h-1.06zM81 103h1.06v1.1h-1.06zM82 5h1.06v1.1h-1.06zM82 12h1.06v2.1h-1.06zM82 20h1.06v1.1h-1.06zM82 73h1.06v1.1h-1.06zM82 75h1.06v1.1h-1.06zM82 77h1.06v1.1h-1.06zM82 85h1.06v1.1h-1.06zM82 87h1.06v1.1h-1.06zM82 89h1.06v1.1h-1.06zM82 103h1.06v1.1h-1.06zM83 10h1.06v1.1h-1.06zM83 17h1.06v1.1h-1.06zM83 26h1.06v1.1h-1.06zM83 36h1.06v1.1h-1.06zM83 45h1.06v2.1h-1.06zM83 51h1.06v1.1h-1.06zM83 58h1.06v1.1h-1.06zM83 86h1.06v1.1h-1.06zM83 89h1.06v1.1h-1.06zM83 97h1.06v1.1h-1.06zM84 9h1.06v1.1h-1.06zM84 11h1.06v1.1h-1.06zM84 13h1.06v1.1h-1.06zM84 19h1.06v1.1h-1.06zM84 21h1.06v1.1h-1.06zM84 25h1.06v1.1h-1.06zM84 29h1.06v1.1h-1.06zM84 37h1.06v1.1h-1.06zM84 45h1.06v1.1h-1.06zM84 53h1.06v1.1h-1.06zM84 60h1.06v1.1h-1.06zM84 103h1.06v1.1h-1.06zM85 2h1.06v1.1h-1.06zM85 79h1.06v1.1h-1.06zM85 89h1.06v1.1h-1.06zM86 41h1.06v1.1h-1.06zM86 49h1.06v1.1h-1.06zM86 51h1.06v1.1h-1.06zM86 59h1.06v1.1h-1.06zM86 70h1.06v2.1h-1.06zM86 84h1.06v1.1h-1.06zM86 87h1.06v1.1h-1.06zM86 90h1.06v2.1h-1.06zM86 104h1.06v1.1h-1.06zM86 107h1.06v2.1h-1.06zM87 46h1.06v1.1h-1.06zM87 48h1.06v1.1h-1.06zM87 73h1.06v1.1h-1.06zM87 79h1.06v1.1h-1.06zM87 91h1.06v1.1h-1.06zM87 100h1.06v1.1h-1.06zM89 12h1.06v1.1h-1.06zM89 17h1.06v1.1h-1.06zM89 27h1.06v1.1h-1.06zM89 33h1.06v1.1h-1.06zM89 48h1.06v1.1h-1.06zM89 67h1.06v1.1h-1.06zM90 26h1.06v1.1h-1.06zM90 35h1.06v1.1h-1.06zM90 87h1.06v1.1h-1.06zM90 96h1.06v1.1h-1.06zM91 2h1.06v1.1h-1.06zM91 48h1.06v1.1h-1.06zM91 63h1.06v1.1h-1.06zM91 65h1.06v1.1h-1.06zM91 82h1.06v1.1h-1.06zM91 93h1.06v1.1h-1.06zM91 104h1.06v1.1h-1.06zM92 12h1.06v1.1h-1.06zM92 21h1.06v1.1h-1.06zM92 36h1.06v1.1h-1.06zM92 45h1.06v1.1h-1.06zM92 82h1.06v1.1h-1.06zM92 104h1.06v1.1h-1.06zM92 106h1.06v1.1h-1.06zM93 11h1.06v1.1h-1.06zM93 15h1.06v1.1h-1.06zM93 28h1.06v1.1h-1.06zM93 38h1.06v2.1h-1.06zM93 51h1.06v1.1h-1.06zM93 53h1.06v1.1h-1.06zM93 74h1.06v1.1h-1.06zM93 77h1.06v1.1h-1.06zM93 83h1.06v1.1h-1.06zM93 97h1.06v1.1h-1.06zM93 100h1.06v1.1h-1.06zM94 9h1.06v1.1h-1.06zM94 28h1.06v1.1h-1.06zM94 34h1.06v1.1h-1.06zM94 38h1.06v1.1h-1.06zM94 47h1.06v1.1h-1.06zM94 50h1.06v2.1h-1.06zM94 56h1.06v1.1h-1.06zM94 58h1.06v1.1h-1.06zM94 77h1.06v1.1h-1.06zM94 81h1.06v1.1h-1.06zM94 96h1.06v1.1h-1.06zM94 98h1.06v1.1h-1.06zM94 100h1.06v1.1h-1.06zM94 107h1.06v2.1h-1.06zM95 20h1.06v1.1h-1.06zM95 40h1.06v1.1h-1.06zM95 104h1.06v1.1h-1.06zM96 4h1.06v1.1h-1.06zM96 33h1.06v1.1h-1.06zM96 58h1.06v1.1h-1.06zM96 79h1.06v1.1h-1.06zM96 87h1.06v1.1h-1.06zM97 59h1.06v1.1h-1.06zM97 69h1.06v1.1h-1.06zM97 80h1.06v2.1h-1.06zM98 5h1.06v1.1h-1.06zM98 7h1.06v1.1h-1.06zM98 9h1.06v1.1h-1.06zM98 20h1.06v1.1h-1.06zM98 45h1.06v1.1h-1.06zM98 49h1.06v1.1h-1.06zM99 9h1.06v1.1h-1.06zM99 11h1.06v1.1h-1.06zM99 63h1.06v1.1h-1.06zM99 76h1.06v1.1h-1.06zM99 89h1.06v1.1h-1.06zM99 95h1.06v1.1h-1.06zM100 11h1.06v1.1h-1.06zM100 16h1.06v1.1h-1.06zM100 20h1.06v1.1h-1.06zM100 23h1.06v1.1h-1.06zM100 35h1.06v2.1h-1.06zM100 39h1.06v1.1h-1.06zM100 59h1.06v1.1h-1.06zM100 68h1.06v1.1h-1.06zM100 72h1.06v1.1h-1.06zM100 74h1.06v1.1h-1.06zM100 79h1.06v1.1h-1.06zM100 107h1.06v2.1h-1.06zM101 11h1.06v1.1h-1.06zM101 16h1.06v1.1h-1.06zM101 20h1.06v1.1h-1.06zM101 23h1.06v1.1h-1.06zM101 35h1.06v2.1h-1.06zM101 39h1.06v1.1h-1.06zM101 59h1.06v1.1h-1.06zM101 68h1.06v1.1h-1.06zM101 72h1.06v1.1h-1.06zM101 74h1.06v1.1h-1.06zM101 79h1.06v1.1h-1.06zM101 107h1.06v2.1h-1.06z"/><path fill="#d7d8e8" d="M-1 26h1.06v1.1h-1.06zM-1 57h1.06v1.1h-1.06zM-1 61h1.06v1.1h-1.06zM-1 75h1.06v1.1h-1.06zM-1 79h1.06v1.1h-1.06zM-1 81h1.06v1.1h-1.06zM-1 85h1.06v1.1h-1.06zM-1 88h1.06v1.1h-1.06zM-1 94h1.06v1.1h-1.06zM-1 97h1.06v1.1h-1.06zM0 26h1.06v1.1h-1.06zM0 57h1.06v1.1h-1.06zM0 61h1.06v1.1h-1.06zM0 75h1.06v1.1h-1.06zM0 79h1.06v1.1h-1.06zM0 81h1.06v1.1h-1.06zM0 85h1.06v1.1h-1.06zM0 88h1.06v1.1h-1.06zM0 94h1.06v1.1h-1.06zM0 97h1.06v1.1h-1.06zM1 15h1.06v1.1h-1.06zM1 57h1.06v1.1h-1.06zM1 69h1.06v1.1h-1.06zM1 71h1.06v1.1h-1.06zM1 91h1.06v1.1h-1.06zM3 21h1.06v1.1h-1.06zM3 49h1.06v1.1h-1.06zM3 73h1.06v1.1h-1.06zM3 86h1.06v1.1h-1.06zM4 91h1.06v1.1h-1.06zM4 96h1.06v1.1h-1.06zM5 37h1.06v1.1h-1.06zM5 76h1.06v1.1h-1.06zM6 -1h1.06v2.1h-1.06zM6 17h1.06v1.1h-1.06zM6 22h1.06v1.1h-1.06zM6 25h1.06v1.1h-1.06zM6 31h1.06v1.1h-1.06zM6 43h1.06v1.1h-1.06zM6 47h1.06v1.1h-1.06zM6 63h1.06v1.1h-1.06zM6 66h1.06v1.1h-1.06zM6 68h1.06v1.1h-1.06zM6 75h1.06v1.1h-1.06zM6 88h1.06v1.1h-1.06zM6 107h1.06v2.1h-1.06zM7 8h1.06v1.1h-1.06zM7 12h1.06v1.1h-1.06zM7 27h1.06v1.1h-1.06zM7 33h1.06v1.1h-1.06zM7 36h1.06v2.1h-1.06zM7 48h1.06v1.1h-1.06zM7 63h1.06v1.1h-1.06zM7 89h1.06v1.1h-1.06zM7 92h1.06v1.1h-1.06zM8 18h1.06v1.1h-1.06zM9 5h1.06v1.1h-1.06zM9 25h1.06v1.1h-1.06zM9 73h1.06v1.1h-1.06zM9 100h1.06v1.1h-1.06zM10 11h1.06v2.1h-1.06zM10 16h1.06v1.1h-1.06zM10 19h1.06v1.1h-1.06zM10 23h1.06v1.1h-1.06zM10 34h1.06v1.1h-1.06zM10 41h1.06v1.1h-1.06zM10 70h1.06v1.1h-1.06zM10 74h1.06v1.1h-1.06zM10 84h1.06v1.1h-1.06zM10 87h1.06v1.1h-1.06zM10 107h1.06v2.1h-1.06zM11 79h1.06v1.1h-1.06zM11 84h1.06v1.1h-1.06zM12 2h1.06v1.1h-1.06zM12 25h1.06v1.1h-1.06zM12 74h1.06v1.1h-1.06zM12 82h1.06v1.1h-1.06zM12 93h1.06v1.1h-1.06zM12 107h1.06v2.1h-1.06zM14 59h1.06v1.1h-1.06zM14 74h1.06v1.1h-1.06zM14 77h1.06v1.1h-1.06zM14 84h1.06v1.1h-1.06zM14 99h1.06v1.1h-1.06zM15 2h1.06v4.1h-1.06zM15 9h1.06v1.1h-1.06zM15 12h1.06v1.1h-1.06zM15 17h1.06v1.1h-1.06zM15 21h1.06v2.1h-1.06zM15 40h1.06v1.1h-1.06zM15 52h1.06v1.1h-1.06zM15 68h1.06v1.1h-1.06zM16 76h1.06v1.1h-1.06zM18 8h1.06v1.1h-1.06zM18 11h1.06v1.1h-1.06zM18 30h1.06v1.1h-1.06zM18 38h1.06v1.1h-1.06zM18 57h1.06v1.1h-1.06zM18 78h1.06v1.1h-1.06zM19 1h1.06v1.1h-1.06zM21 12h1.06v1.1h-1.06zM21 31h1.06v1.1h-1.06zM21 54h1.06v1.1h-1.06zM21 64h1.06v1.1h-1.06zM21 68h1.06v1.1h-1.06zM21 76h1.06v1.1h-1.06zM21 81h1.06v1.1h-1.06zM21 90h1.06v1.1h-1.06zM21 107h1.06v2.1h-1.06zM22 42h1.06v1.1h-1.06zM22 49h1.06v1.1h-1.06zM22 52h1.06v1.1h-1.06zM22 85h1.06v1.1h-1.06zM22 90h1.06v1.1h-1.06zM22 97h1.06v1.1h-1.06zM22 105h1.06v1.1h-1.06zM23 62h1.06v1.1h-1.06zM24 5h1.06v1.1h-1.06zM24 12h1.06v2.1h-1.06zM24 16h1.06v1.1h-1.06zM24 22h1.06v1.1h-1.06zM24 27h1.06v1.1h-1.06zM24 43h1.06v1.1h-1.06zM24 52h1.06v2.1h-1.06zM24 72h1.06v1.1h-1.06zM24 75h1.06v1.1h-1.06zM24 80h1.06v1.1h-1.06zM24 85h1.06v1.1h-1.06zM25 13h1.06v1.1h-1.06zM25 15h1.06v1.1h-1.06zM25 35h1.06v1.1h-1.06zM25 54h1.06v1.1h-1.06zM25 73h1.06v1.1h-1.06zM25 93h1.06v1.1h-1.06zM25 95h1.06v1.1h-1.06zM25 103h1.06v1.1h-1.06zM25 107h1.06v2.1h-1.06zM27 4h1.06v1.1h-1.06zM27 9h1.06v2.1h-1.06zM27 30h1.06v1.1h-1.06zM27 44h1.06v1.1h-1.06zM27 61h1.06v2.1h-1.06zM27 69h1.06v1.1h-1.06zM27 84h1.06v1.1h-1.06zM27 96h1.06v1.1h-1.06zM28 17h1.06v1.1h-1.06zM28 30h1.06v1.1h-1.06zM28 37h1.06v1.1h-1.06zM28 42h1.06v1.1h-1.06zM28 52h1.06v1.1h-1.06zM28 61h1.06v1.1h-1.06zM28 70h1.06v1.1h-1.06zM28 76h1.06v1.1h-1.06zM28 87h1.06v1.1h-1.06zM29 7h1.06v1.1h-1.06zM29 11h1.06v1.1h-1.06zM29 17h1.06v1.1h-1.06zM29 37h1.06v1.1h-1.06zM29 43h1.06v1.1h-1.06zM29 61h1.06v1.1h-1.06zM29 79h1.06v1.1h-1.06zM29 88h1.06v1.1h-1.06zM29 99h1.06v1.1h-1.06zM30 3h1.06v1.1h-1.06zM30 21h1.06v1.1h-1.06zM30 39h1.06v1.1h-1.06zM30 46h1.06v1.1h-1.06zM30 75h1.06v1.1h-1.06zM30 80h1.06v1.1h-1.06zM31 1h1.06v2.1h-1.06zM31 12h1.06v1.1h-1.06zM31 21h1.06v1.1h-1.06zM31 26h1.06v1.1h-1.06zM31 28h1.06v1.1h-1.06zM31 51h1.06v2.1h-1.06zM31 54h1.06v1.1h-1.06zM31 62h1.06v1.1h-1.06zM31 64h1.06v1.1h-1.06zM31 69h1.06v1.1h-1.06zM31 86h1.06v1.1h-1.06zM31 97h1.06v2.1h-1.06zM32 8h1.06v1.1h-1.06zM32 71h1.06v1.1h-1.06zM32 80h1.06v1.1h-1.06zM32 82h1.06v1.1h-1.06zM33 4h1.06v1.1h-1.06zM33 6h1.06v1.1h-1.06zM33 8h1.06v1.1h-1.06zM33 15h1.06v1.1h-1.06zM33 25h1.06v1.1h-1.06zM33 36h1.06v1.1h-1.06zM33 46h1.06v1.1h-1.06zM33 48h1.06v1.1h-1.06zM33 59h1.06v1.1h-1.06zM33 82h1.06v2.1h-1.06zM33 88h1.06v1.1h-1.06zM33 90h1.06v1.1h-1.06zM33 103h1.06v1.1h-1.06zM34 2h1.06v2.1h-1.06zM34 5h1.06v1.1h-1.06zM34 59h1.06v1.1h-1.06zM34 65h1.06v1.1h-1.06zM34 68h1.06v1.1h-1.06zM34 72h1.06v1.1h-1.06zM34 97h1.06v1.1h-1.06zM34 100h1.06v1.1h-1.06zM34 102h1.06v1.1h-1.06zM34 107h1.06v2.1h-1.06zM35 -1h1.06v2.1h-1.06zM35 3h1.06v1.1h-1.06zM35 9h1.06v1.1h-1.06zM35 20h1.06v1.1h-1.06zM35 22h1.06v1.1h-1.06zM35 25h1.06v1.1h-1.06zM35 27h1.06v2.1h-1.06zM35 33h1.06v1.1h-1.06zM35 40h1.06v1.1h-1.06zM35 43h1.06v1.1h-1.06zM35 82h1.06v1.1h-1.06zM35 87h1.06v1.1h-1.06zM35 92h1.06v1.1h-1.06zM36 17h1.06v1.1h-1.06zM36 29h1.06v1.1h-1.06zM36 32h1.06v1.1h-1.06zM36 45h1.06v1.1h-1.06zM36 58h1.06v2.1h-1.06zM36 61h1.06v1.1h-1.06zM36 65h1.06v1.1h-1.06zM36 68h1.06v1.1h-1.06zM36 85h1.06v1.1h-1.06zM36 89h1.06v1.1h-1.06zM36 93h1.06v1.1h-1.06zM36 98h1.06v1.1h-1.06zM37 15h1.06v1.1h-1.06zM37 21h1.06v1.1h-1.06zM37 23h1.06v1.1h-1.06zM37 27h1.06v1.1h-1.06zM37 29h1.06v1.1h-1.06zM37 36h1.06v1.1h-1.06zM37 38h1.06v1.1h-1.06zM37 57h1.06v1.1h-1.06zM37 80h1.06v1.1h-1.06zM37 85h1.06v1.1h-1.06zM38 11h1.06v1.1h-1.06zM38 86h1.06v1.1h-1.06zM38 97h1.06v1.1h-1.06zM39 1h1.06v1.1h-1.06zM39 3h1.06v1.1h-1.06zM39 18h1.06v1.1h-1.06zM39 31h1.06v1.1h-1.06zM39 33h1.06v1.1h-1.06zM39 90h1.06v1.1h-1.06zM39 93h1.06v1.1h-1.06zM39 101h1.06v1.1h-1.06zM40 13h1.06v1.1h-1.06zM40 15h1.06v1.1h-1.06zM40 31h1.06v1.1h-1.06zM40 43h1.06v1.1h-1.06zM40 62h1.06v1.1h-1.06zM40 101h1.06v1.1h-1.06zM41 5h1.06v1.1h-1.06zM41 10h1.06v1.1h-1.06zM41 16h1.06v1.1h-1.06zM41 27h1.06v1.1h-1.06zM41 34h1.06v1.1h-1.06zM41 39h1.06v1.1h-1.06zM41 50h1.06v3.1h-1.06zM41 60h1.06v1.1h-1.06zM41 74h1.06v1.1h-1.06zM41 77h1.06v1.1h-1.06zM41 82h1.06v1.1h-1.06zM41 89h1.06v1.1h-1.06zM41 93h1.06v1.1h-1.06zM41 98h1.06v1.1h-1.06zM42 7h1.06v1.1h-1.06zM42 11h1.06v1.1h-1.06zM42 13h1.06v1.1h-1.06zM42 16h1.06v1.1h-1.06zM42 32h1.06v2.1h-1.06zM42 37h1.06v1.1h-1.06zM42 52h1.06v1.1h-1.06zM42 74h1.06v1.1h-1.06zM42 103h1.06v1.1h-1.06zM43 5h1.06v1.1h-1.06zM43 18h1.06v1.1h-1.06zM43 26h1.06v1.1h-1.06zM43 37h1.06v1.1h-1.06zM43 59h1.06v1.1h-1.06zM43 63h1.06v1.1h-1.06zM43 65h1.06v1.1h-1.06zM44 6h1.06v1.1h-1.06zM44 12h1.06v1.1h-1.06zM44 15h1.06v1.1h-1.06zM44 19h1.06v1.1h-1.06zM44 24h1.06v1.1h-1.06zM44 31h1.06v1.1h-1.06zM44 34h1.06v1.1h-1.06zM44 36h1.06v1.1h-1.06zM44 45h1.06v1.1h-1.06zM44 49h1.06v1.1h-1.06zM44 61h1.06v3.1h-1.06zM44 68h1.06v1.1h-1.06zM44 71h1.06v1.1h-1.06zM44 73h1.06v1.1h-1.06zM44 76h1.06v1.1h-1.06zM44 106h1.06v1.1h-1.06zM45 10h1.06v2.1h-1.06zM45 18h1.06v1.1h-1.06zM45 33h1.06v1.1h-1.06zM45 37h1.06v2.1h-1.06zM45 45h1.06v1.1h-1.06zM45 49h1.06v1.1h-1.06zM45 54h1.06v1.1h-1.06zM45 58h1.06v1.1h-1.06zM45 62h1.06v1.1h-1.06zM45 83h1.06v1.1h-1.06zM45 97h1.06v1.1h-1.06zM45 103h1.06v1.1h-1.06zM46 10h1.06v1.1h-1.06zM46 29h1.06v1.1h-1.06zM46 60h1.06v1.1h-1.06zM46 77h1.06v1.1h-1.06zM46 85h1.06v1.1h-1.06zM46 95h1.06v2.1h-1.06zM47 5h1.06v1.1h-1.06zM47 12h1.06v1.1h-1.06zM47 27h1.06v2.1h-1.06zM47 40h1.06v1.1h-1.06zM47 46h1.06v1.1h-1.06zM47 64h1.06v1.1h-1.06zM47 76h1.06v1.1h-1.06zM47 98h1.06v1.1h-1.06zM47 102h1.06v1.1h-1.06zM48 1h1.06v1.1h-1.06zM49 1h1.06v1.1h-1.06zM49 13h1.06v1.1h-1.06zM49 16h1.06v1.1h-1.06zM49 19h1.06v1.1h-1.06zM49 22h1.06v1.1h-1.06zM49 73h1.06v1.1h-1.06zM49 76h1.06v2.1h-1.06zM49 80h1.06v1.1h-1.06zM49 88h1.06v1.1h-1.06zM49 104h1.06v1.1h-1.06zM50 21h1.06v1.1h-1.06zM50 36h1.06v1.1h-1.06zM50 45h1.06v1.1h-1.06zM50 70h1.06v3.1h-1.06zM50 107h1.06v2.1h-1.06zM51 38h1.06v1.1h-1.06zM51 69h1.06v1.1h-1.06zM51 80h1.06v1.1h-1.06zM51 85h1.06v2.1h-1.06zM51 99h1.06v1.1h-1.06zM52 -1h1.06v2.1h-1.06zM52 3h1.06v1.1h-1.06zM52 7h1.06v1.1h-1.06zM52 27h1.06v3.1h-1.06zM52 45h1.06v1.1h-1.06zM52 62h1.06v2.1h-1.06zM52 65h1.06v1.1h-1.06zM52 67h1.06v1.1h-1.06zM52 70h1.06v1.1h-1.06zM52 76h1.06v1.1h-1.06zM52 78h1.06v1.1h-1.06zM52 84h1.06v1.1h-1.06zM52 94h1.06v1.1h-1.06zM52 96h1.06v1.1h-1.06zM52 100h1.06v1.1h-1.06zM53 5h1.06v1.1h-1.06zM53 12h1.06v1.1h-1.06zM53 14h1.06v1.1h-1.06zM53 38h1.06v1.1h-1.06zM53 41h1.06v1.1h-1.06zM53 45h1.06v1.1h-1.06zM53 74h1.06v1.1h-1.06zM53 107h1.06v2.1h-1.06zM54 3h1.06v1.1h-1.06zM54 12h1.06v1.1h-1.06zM54 20h1.06v1.1h-1.06zM54 22h1.06v1.1h-1.06zM54 27h1.06v1.1h-1.06zM54 53h1.06v1.1h-1.06zM54 55h1.06v1.1h-1.06zM54 63h1.06v1.1h-1.06zM54 79h1.06v1.1h-1.06zM55 58h1.06v1.1h-1.06zM55 69h1.06v1.1h-1.06zM55 75h1.06v2.1h-1.06zM55 83h1.06v2.1h-1.06zM55 88h1.06v2.1h-1.06zM55 92h1.06v1.1h-1.06zM55 103h1.06v1.1h-1.06zM56 75h1.06v1.1h-1.06zM57 2h1.06v1.1h-1.06zM57 8h1.06v1.1h-1.06zM57 42h1.06v1.1h-1.06zM57 49h1.06v1.1h-1.06zM57 59h1.06v1.1h-1.06zM57 66h1.06v1.1h-1.06zM57 70h1.06v1.1h-1.06zM57 85h1.06v1.1h-1.06zM57 94h1.06v1.1h-1.06zM58 63h1.06v1.1h-1.06zM58 72h1.06v1.1h-1.06zM58 89h1.06v1.1h-1.06zM58 97h1.06v1.1h-1.06zM58 101h1.06v1.1h-1.06zM58 105h1.06v1.1h-1.06zM59 2h1.06v1.1h-1.06zM59 4h1.06v1.1h-1.06zM59 15h1.06v1.1h-1.06zM59 30h1.06v1.1h-1.06zM59 37h1.06v1.1h-1.06zM59 40h1.06v1.1h-1.06zM59 86h1.06v1.1h-1.06zM59 89h1.06v1.1h-1.06zM60 10h1.06v1.1h-1.06zM60 21h1.06v1.1h-1.06zM60 25h1.06v1.1h-1.06zM60 27h1.06v1.1h-1.06zM60 33h1.06v1.1h-1.06zM60 39h1.06v2.1h-1.06zM60 54h1.06v1.1h-1.06zM60 86h1.06v1.1h-1.06zM60 104h1.06v1.1h-1.06zM61 12h1.06v1.1h-1.06zM61 45h1.06v1.1h-1.06zM61 91h1.06v1.1h-1.06zM61 97h1.06v1.1h-1.06zM61 100h1.06v1.1h-1.06zM61 107h1.06v2.1h-1.06zM62 55h1.06v1.1h-1.06zM62 74h1.06v1.1h-1.06zM62 84h1.06v1.1h-1.06zM63 29h1.06v1.1h-1.06zM63 38h1.06v1.1h-1.06zM63 59h1.06v1.1h-1.06zM63 61h1.06v1.1h-1.06zM63 63h1.06v1.1h-1.06zM63 69h1.06v1.1h-1.06zM63 72h1.06v1.1h-1.06zM63 84h1.06v1.1h-1.06zM63 88h1.06v1.1h-1.06zM63 90h1.06v1.1h-1.06zM63 103h1.06v1.1h-1.06zM63 106h1.06v1.1h-1.06zM64 3h1.06v3.1h-1.06zM64 11h1.06v3.1h-1.06zM64 24h1.06v1.1h-1.06zM64 34h1.06v1.1h-1.06zM64 38h1.06v1.1h-1.06zM64 41h1.06v1.1h-1.06zM64 80h1.06v1.1h-1.06zM64 87h1.06v1.1h-1.06zM64 89h1.06v2.1h-1.06zM64 100h1.06v1.1h-1.06zM64 107h1.06v2.1h-1.06zM65 6h1.06v1.1h-1.06zM65 9h1.06v1.1h-1.06zM65 15h1.06v1.1h-1.06zM65 26h1.06v1.1h-1.06zM65 41h1.06v1.1h-1.06zM65 47h1.06v2.1h-1.06zM65 53h1.06v1.1h-1.06zM65 56h1.06v1.1h-1.06zM65 59h1.06v1.1h-1.06zM65 67h1.06v1.1h-1.06zM65 71h1.06v1.1h-1.06zM65 86h1.06v1.1h-1.06zM65 93h1.06v1.1h-1.06zM65 96h1.06v1.1h-1.06zM66 1h1.06v1.1h-1.06zM66 84h1.06v1.1h-1.06zM67 4h1.06v1.1h-1.06zM67 21h1.06v1.1h-1.06zM67 23h1.06v2.1h-1.06zM67 27h1.06v1.1h-1.06zM67 42h1.06v1.1h-1.06zM67 54h1.06v1.1h-1.06zM67 62h1.06v1.1h-1.06zM67 75h1.06v1.1h-1.06zM67 77h1.06v1.1h-1.06zM67 92h1.06v1.1h-1.06zM67 106h1.06v1.1h-1.06zM68 5h1.06v1.1h-1.06zM68 10h1.06v1.1h-1.06zM68 13h1.06v1.1h-1.06zM68 19h1.06v1.1h-1.06zM68 31h1.06v1.1h-1.06zM69 10h1.06v1.1h-1.06zM69 37h1.06v1.1h-1.06zM69 53h1.06v1.1h-1.06zM69 56h1.06v1.1h-1.06zM69 68h1.06v1.1h-1.06zM69 70h1.06v1.1h-1.06zM69 91h1.06v1.1h-1.06zM70 10h1.06v1.1h-1.06zM70 20h1.06v1.1h-1.06zM70 32h1.06v1.1h-1.06zM70 40h1.06v1.1h-1.06zM70 52h1.06v1.1h-1.06zM70 55h1.06v1.1h-1.06zM70 68h1.06v2.1h-1.06zM70 72h1.06v1.1h-1.06zM70 76h1.06v1.1h-1.06zM70 84h1.06v2.1h-1.06zM70 92h1.06v1.1h-1.06zM70 99h1.06v1.1h-1.06zM70 103h1.06v1.1h-1.06zM71 4h1.06v1.1h-1.06zM71 39h1.06v1.1h-1.06zM71 41h1.06v1.1h-1.06zM71 46h1.06v1.1h-1.06zM71 53h1.06v1.1h-1.06zM71 59h1.06v1.1h-1.06zM71 70h1.06v1.1h-1.06zM71 72h1.06v1.1h-1.06zM71 84h1.06v1.1h-1.06zM71 87h1.06v1.1h-1.06zM71 97h1.06v1.1h-1.06zM71 101h1.06v1.1h-1.06zM72 6h1.06v1.1h-1.06zM72 69h1.06v1.1h-1.06zM72 79h1.06v1.1h-1.06zM72 95h1.06v1.1h-1.06zM72 104h1.06v1.1h-1.06zM73 2h1.06v1.1h-1.06zM73 5h1.06v1.1h-1.06zM73 14h1.06v1.1h-1.06zM73 37h1.06v1.1h-1.06zM73 47h1.06v1.1h-1.06zM73 65h1.06v1.1h-1.06zM73 84h1.06v1.1h-1.06zM74 25h1.06v1.1h-1.06zM74 38h1.06v1.1h-1.06zM74 48h1.06v2.1h-1.06zM74 54h1.06v1.1h-1.06zM74 64h1.06v1.1h-1.06zM74 70h1.06v1.1h-1.06zM74 80h1.06v1.1h-1.06zM74 90h1.06v1.1h-1.06zM74 100h1.06v1.1h-1.06zM74 106h1.06v1.1h-1.06zM75 2h1.06v1.1h-1.06zM75 12h1.06v1.1h-1.06zM75 16h1.06v1.1h-1.06zM75 18h1.06v1.1h-1.06zM75 30h1.06v1.1h-1.06zM75 40h1.06v1.1h-1.06zM75 42h1.06v1.1h-1.06zM75 53h1.06v1.1h-1.06zM75 57h1.06v1.1h-1.06zM75 61h1.06v1.1h-1.06zM75 90h1.06v1.1h-1.06zM76 7h1.06v1.1h-1.06zM76 39h1.06v1.1h-1.06zM76 42h1.06v1.1h-1.06zM76 52h1.06v1.1h-1.06zM76 61h1.06v1.1h-1.06zM76 65h1.06v1.1h-1.06zM76 76h1.06v1.1h-1.06zM76 88h1.06v1.1h-1.06zM76 91h1.06v1.1h-1.06zM76 104h1.06v1.1h-1.06zM77 46h1.06v1.1h-1.06zM77 49h1.06v1.1h-1.06zM77 53h1.06v1.1h-1.06zM77 56h1.06v1.1h-1.06zM77 69h1.06v1.1h-1.06zM77 75h1.06v1.1h-1.06zM78 2h1.06v1.1h-1.06zM78 15h1.06v1.1h-1.06zM78 32h1.06v1.1h-1.06zM78 36h1.06v1.1h-1.06zM78 45h1.06v1.1h-1.06zM78 57h1.06v1.1h-1.06zM78 107h1.06v2.1h-1.06zM79 24h1.06v1.1h-1.06zM79 26h1.06v1.1h-1.06zM79 28h1.06v1.1h-1.06zM79 31h1.06v1.1h-1.06zM79 36h1.06v1.1h-1.06zM79 45h1.06v1.1h-1.06zM79 47h1.06v1.1h-1.06zM79 51h1.06v1.1h-1.06zM79 55h1.06v1.1h-1.06zM79 69h1.06v1.1h-1.06zM79 79h1.06v1.1h-1.06zM79 86h1.06v1.1h-1.06zM79 88h1.06v1.1h-1.06zM79 90h1.06v1.1h-1.06zM79 94h1.06v1.1h-1.06zM79 99h1.06v1.1h-1.06zM79 104h1.06v1.1h-1.06zM80 11h1.06v2.1h-1.06zM80 19h1.06v1.1h-1.06zM80 30h1.06v1.1h-1.06zM80 41h1.06v1.1h-1.06zM80 45h1.06v1.1h-1.06zM80 57h1.06v2.1h-1.06zM80 74h1.06v1.1h-1.06zM80 84h1.06v1.1h-1.06zM80 87h1.06v1.1h-1.06zM80 94h1.06v1.1h-1.06zM80 97h1.06v1.1h-1.06zM80 100h1.06v1.1h-1.06zM81 1h1.06v1.1h-1.06zM81 8h1.06v1.1h-1.06zM81 15h1.06v1.1h-1.06zM81 28h1.06v1.1h-1.06zM81 31h1.06v1.1h-1.06zM81 34h1.06v1.1h-1.06zM81 53h1.06v1.1h-1.06zM81 61h1.06v1.1h-1.06zM81 84h1.06v1.1h-1.06zM81 94h1.06v1.1h-1.06zM82 8h1.06v1.1h-1.06zM82 25h1.06v2.1h-1.06zM82 29h1.06v1.1h-1.06zM82 57h1.06v1.1h-1.06zM82 81h1.06v1.1h-1.06zM82 83h1.06v1.1h-1.06zM82 86h1.06v1.1h-1.06zM82 94h1.06v1.1h-1.06zM82 97h1.06v1.1h-1.06zM82 99h1.06v1.1h-1.06zM83 19h1.06v1.1h-1.06zM83 48h1.06v1.1h-1.06zM83 66h1.06v1.1h-1.06zM83 73h1.06v1.1h-1.06zM84 10h1.06v1.1h-1.06zM84 28h1.06v1.1h-1.06zM84 36h1.06v1.1h-1.06zM84 38h1.06v1.1h-1.06zM84 40h1.06v1.1h-1.06zM84 64h1.06v1.1h-1.06zM84 94h1.06v1.1h-1.06zM84 105h1.06v1.1h-1.06zM85 1h1.06v1.1h-1.06zM85 64h1.06v1.1h-1.06zM85 95h1.06v1.1h-1.06zM85 106h1.06v3.1h-1.06zM86 6h1.06v1.1h-1.06zM86 9h1.06v1.1h-1.06zM86 13h1.06v1.1h-1.06zM86 30h1.06v2.1h-1.06zM86 37h1.06v1.1h-1.06zM86 42h1.06v2.1h-1.06zM86 50h1.06v1.1h-1.06zM86 61h1.06v1.1h-1.06zM86 65h1.06v3.1h-1.06zM86 75h1.06v1.1h-1.06zM86 86h1.06v1.1h-1.06zM86 89h1.06v1.1h-1.06zM87 9h1.06v1.1h-1.06zM87 16h1.06v1.1h-1.06zM87 49h1.06v1.1h-1.06zM87 66h1.06v1.1h-1.06zM87 69h1.06v1.1h-1.06zM87 84h1.06v1.1h-1.06zM87 87h1.06v1.1h-1.06zM87 104h1.06v1.1h-1.06zM87 107h1.06v2.1h-1.06zM88 2h1.06v1.1h-1.06zM88 58h1.06v1.1h-1.06zM89 22h1.06v1.1h-1.06zM89 46h1.06v1.1h-1.06zM89 71h1.06v1.1h-1.06zM89 82h1.06v1.1h-1.06zM89 103h1.06v2.1h-1.06zM90 1h1.06v1.1h-1.06zM90 3h1.06v1.1h-1.06zM90 23h1.06v1.1h-1.06zM90 100h1.06v1.1h-1.06zM91 60h1.06v1.1h-1.06zM91 79h1.06v1.1h-1.06zM91 89h1.06v1.1h-1.06zM91 94h1.06v1.1h-1.06zM92 5h1.06v1.1h-1.06zM92 16h1.06v1.1h-1.06zM92 28h1.06v1.1h-1.06zM92 41h1.06v1.1h-1.06zM92 47h1.06v2.1h-1.06zM92 54h1.06v1.1h-1.06zM92 71h1.06v1.1h-1.06zM92 74h1.06v1.1h-1.06zM92 92h1.06v1.1h-1.06zM92 98h1.06v1.1h-1.06zM93 2h1.06v1.1h-1.06zM93 20h1.06v1.1h-1.06zM93 22h1.06v1.1h-1.06zM93 32h1.06v1.1h-1.06zM93 49h1.06v1.1h-1.06zM93 58h1.06v1.1h-1.06zM93 69h1.06v2.1h-1.06zM93 73h1.06v1.1h-1.06zM93 81h1.06v2.1h-1.06zM93 90h1.06v1.1h-1.06zM94 6h1.06v1.1h-1.06zM94 13h1.06v1.1h-1.06zM94 22h1.06v2.1h-1.06zM94 37h1.06v1.1h-1.06zM94 42h1.06v2.1h-1.06zM94 46h1.06v1.1h-1.06zM94 49h1.06v1.1h-1.06zM94 59h1.06v1.1h-1.06zM94 65h1.06v1.1h-1.06zM94 74h1.06v1.1h-1.06zM94 103h1.06v1.1h-1.06zM95 36h1.06v1.1h-1.06zM95 39h1.06v1.1h-1.06zM95 50h1.06v1.1h-1.06zM95 61h1.06v1.1h-1.06zM96 43h1.06v1.1h-1.06zM96 53h1.06v1.1h-1.06zM96 56h1.06v1.1h-1.06zM96 97h1.06v2.1h-1.06zM96 102h1.06v1.1h-1.06zM96 106h1.06v1.1h-1.06zM97 61h1.06v1.1h-1.06zM98 15h1.06v1.1h-1.06zM98 26h1.06v1.1h-1.06zM98 42h1.06v1.1h-1.06zM98 50h1.06v1.1h-1.06zM99 22h1.06v1.1h-1.06zM99 25h1.06v1.1h-1.06zM99 36h1.06v1.1h-1.06zM99 73h1.06v1.1h-1.06zM100 21h1.06v1.1h-1.06zM100 33h1.06v1.1h-1.06zM100 48h1.06v1.1h-1.06zM100 55h1.06v1.1h-1.06zM100 57h1.06v1.1h-1.06zM100 83h1.06v1.1h-1.06zM100 92h1.06v1.1h-1.06zM100 106h1.06v1.1h-1.06zM101 21h1.06v1.1h-1.06zM101 33h1.06v1.1h-1.06zM101 48h1.06v1.1h-1.06zM101 55h1.06v1.1h-1.06zM101 57h1.06v1.1h-1.06zM101 83h1.06v1.1h-1.06zM101 92h1.06v1.1h-1.06zM101 106h1.06v1.1h-1.06z"/><path fill="#e9e7ef" d="M-1 1h1.06v1.1h-1.06zM-1 59h1.06v1.1h-1.06zM-1 63h1.06v1.1h-1.06zM-1 66h1.06v1.1h-1.06zM-1 77h1.06v2.1h-1.06zM-1 80h1.06v1.1h-1.06zM-1 83h1.06v1.1h-1.06zM-1 90h1.06v1.1h-1.06zM-1 99h1.06v1.1h-1.06zM-1 107h1.06v2.1h-1.06zM0 1h1.06v1.1h-1.06zM0 59h1.06v1.1h-1.06zM0 63h1.06v1.1h-1.06zM0 66h1.06v1.1h-1.06zM0 77h1.06v2.1h-1.06zM0 80h1.06v1.1h-1.06zM0 83h1.06v1.1h-1.06zM0 90h1.06v1.1h-1.06zM0 99h1.06v1.1h-1.06zM0 107h1.06v2.1h-1.06zM1 21h1.06v1.1h-1.06zM1 33h1.06v1.1h-1.06zM1 40h1.06v2.1h-1.06zM1 45h1.06v1.1h-1.06zM1 48h1.06v1.1h-1.06zM1 63h1.06v1.1h-1.06zM1 101h1.06v1.1h-1.06zM1 105h1.06v1.1h-1.06zM2 59h1.06v1.1h-1.06zM3 8h1.06v1.1h-1.06zM3 18h1.06v1.1h-1.06zM3 37h1.06v1.1h-1.06zM3 79h1.06v1.1h-1.06zM3 93h1.06v1.1h-1.06zM4 7h1.06v1.1h-1.06zM4 16h1.06v1.1h-1.06zM4 90h1.06v1.1h-1.06zM5 41h1.06v1.1h-1.06zM5 63h1.06v1.1h-1.06zM5 67h1.06v2.1h-1.06zM5 94h1.06v1.1h-1.06zM5 96h1.06v1.1h-1.06zM5 100h1.06v1.1h-1.06zM6 6h1.06v2.1h-1.06zM6 29h1.06v1.1h-1.06zM6 32h1.06v1.1h-1.06zM6 38h1.06v1.1h-1.06zM6 46h1.06v1.1h-1.06zM6 60h1.06v1.1h-1.06zM6 79h1.06v1.1h-1.06zM6 97h1.06v1.1h-1.06zM7 1h1.06v1.1h-1.06zM7 14h1.06v1.1h-1.06zM7 25h1.06v1.1h-1.06zM7 31h1.06v1.1h-1.06zM7 46h1.06v1.1h-1.06zM7 53h1.06v1.1h-1.06zM7 62h1.06v1.1h-1.06zM7 67h1.06v1.1h-1.06zM7 78h1.06v1.1h-1.06zM7 81h1.06v1.1h-1.06zM7 83h1.06v1.1h-1.06zM7 97h1.06v2.1h-1.06zM7 102h1.06v1.1h-1.06zM7 106h1.06v1.1h-1.06zM8 32h1.06v1.1h-1.06zM9 37h1.06v1.1h-1.06zM9 57h1.06v1.1h-1.06zM9 67h1.06v1.1h-1.06zM9 95h1.06v1.1h-1.06zM9 105h1.06v1.1h-1.06zM10 18h1.06v1.1h-1.06zM10 21h1.06v2.1h-1.06zM10 58h1.06v1.1h-1.06zM10 64h1.06v1.1h-1.06zM10 66h1.06v1.1h-1.06zM10 77h1.06v1.1h-1.06zM10 82h1.06v1.1h-1.06zM10 88h1.06v1.1h-1.06zM10 91h1.06v1.1h-1.06zM10 94h1.06v1.1h-1.06zM10 96h1.06v1.1h-1.06zM10 102h1.06v1.1h-1.06zM11 29h1.06v1.1h-1.06zM11 74h1.06v1.1h-1.06zM11 88h1.06v1.1h-1.06zM11 90h1.06v1.1h-1.06zM11 92h1.06v2.1h-1.06zM12 49h1.06v1.1h-1.06zM12 67h1.06v1.1h-1.06zM12 85h1.06v2.1h-1.06zM12 94h1.06v1.1h-1.06zM14 71h1.06v1.1h-1.06zM14 75h1.06v2.1h-1.06zM14 83h1.06v1.1h-1.06zM14 87h1.06v1.1h-1.06zM14 93h1.06v1.1h-1.06zM15 6h1.06v1.1h-1.06zM15 15h1.06v1.1h-1.06zM15 24h1.06v2.1h-1.06zM15 28h1.06v1.1h-1.06zM15 73h1.06v1.1h-1.06zM18 4h1.06v1.1h-1.06zM18 16h1.06v1.1h-1.06zM18 18h1.06v1.1h-1.06zM18 45h1.06v1.1h-1.06zM18 67h1.06v1.1h-1.06zM18 73h1.06v1.1h-1.06zM18 90h1.06v1.1h-1.06zM19 -1h1.06v2.1h-1.06zM20 -1h1.06v2.1h-1.06zM20 2h1.06v1.1h-1.06zM20 54h1.06v1.1h-1.06zM21 46h1.06v1.1h-1.06zM21 52h1.06v1.1h-1.06zM21 69h1.06v1.1h-1.06zM21 78h1.06v1.1h-1.06zM21 94h1.06v1.1h-1.06zM22 65h1.06v1.1h-1.06zM22 91h1.06v1.1h-1.06zM22 104h1.06v1.1h-1.06zM23 1h1.06v1.1h-1.06zM23 20h1.06v1.1h-1.06zM23 37h1.06v1.1h-1.06zM23 86h1.06v1.1h-1.06zM23 88h1.06v1.1h-1.06zM23 93h1.06v1.1h-1.06zM23 105h1.06v1.1h-1.06zM24 18h1.06v1.1h-1.06zM24 20h1.06v1.1h-1.06zM24 55h1.06v1.1h-1.06zM24 58h1.06v1.1h-1.06zM24 62h1.06v1.1h-1.06zM24 67h1.06v1.1h-1.06zM24 94h1.06v1.1h-1.06zM24 99h1.06v1.1h-1.06zM25 3h1.06v1.1h-1.06zM25 12h1.06v1.1h-1.06zM25 21h1.06v1.1h-1.06zM25 27h1.06v2.1h-1.06zM25 30h1.06v1.1h-1.06zM25 33h1.06v1.1h-1.06zM25 38h1.06v1.1h-1.06zM25 58h1.06v1.1h-1.06zM25 60h1.06v1.1h-1.06zM25 74h1.06v1.1h-1.06zM25 79h1.06v1.1h-1.06zM25 99h1.06v1.1h-1.06zM25 102h1.06v1.1h-1.06zM26 27h1.06v1.1h-1.06zM27 2h1.06v1.1h-1.06zM27 5h1.06v1.1h-1.06zM27 22h1.06v1.1h-1.06zM27 24h1.06v1.1h-1.06zM27 28h1.06v2.1h-1.06zM27 32h1.06v1.1h-1.06zM27 34h1.06v1.1h-1.06zM27 57h1.06v1.1h-1.06zM27 68h1.06v1.1h-1.06zM27 78h1.06v1.1h-1.06zM27 104h1.06v2.1h-1.06zM28 3h1.06v1.1h-1.06zM28 24h1.06v1.1h-1.06zM28 33h1.06v1.1h-1.06zM28 43h1.06v1.1h-1.06zM28 56h1.06v1.1h-1.06zM28 64h1.06v1.1h-1.06zM28 81h1.06v2.1h-1.06zM28 92h1.06v1.1h-1.06zM28 96h1.06v1.1h-1.06zM28 102h1.06v1.1h-1.06zM29 2h1.06v1.1h-1.06zM29 41h1.06v1.1h-1.06zM29 44h1.06v1.1h-1.06zM29 54h1.06v4.1h-1.06zM29 59h1.06v2.1h-1.06zM29 75h1.06v3.1h-1.06zM29 82h1.06v1.1h-1.06zM29 91h1.06v2.1h-1.06zM30 1h1.06v1.1h-1.06zM30 19h1.06v1.1h-1.06zM30 27h1.06v1.1h-1.06zM30 38h1.06v1.1h-1.06zM31 -1h1.06v2.1h-1.06zM31 6h1.06v1.1h-1.06zM31 8h1.06v2.1h-1.06zM31 37h1.06v2.1h-1.06zM31 47h1.06v1.1h-1.06zM31 53h1.06v1.1h-1.06zM31 59h1.06v1.1h-1.06zM31 61h1.06v1.1h-1.06zM31 73h1.06v1.1h-1.06zM31 88h1.06v1.1h-1.06zM31 93h1.06v1.1h-1.06zM31 103h1.06v1.1h-1.06zM32 55h1.06v1.1h-1.06zM32 100h1.06v1.1h-1.06zM32 102h1.06v1.1h-1.06zM33 10h1.06v1.1h-1.06zM33 22h1.06v1.1h-1.06zM33 38h1.06v1.1h-1.06zM33 43h1.06v1.1h-1.06zM33 54h1.06v1.1h-1.06zM33 57h1.06v1.1h-1.06zM33 62h1.06v1.1h-1.06zM33 68h1.06v1.1h-1.06zM33 73h1.06v1.1h-1.06zM33 87h1.06v1.1h-1.06zM33 94h1.06v1.1h-1.06zM34 13h1.06v1.1h-1.06zM34 17h1.06v2.1h-1.06zM34 24h1.06v1.1h-1.06zM34 27h1.06v1.1h-1.06zM34 34h1.06v1.1h-1.06zM34 36h1.06v1.1h-1.06zM34 41h1.06v1.1h-1.06zM34 43h1.06v1.1h-1.06zM34 47h1.06v1.1h-1.06zM34 49h1.06v1.1h-1.06zM34 56h1.06v1.1h-1.06zM34 81h1.06v1.1h-1.06zM34 86h1.06v1.1h-1.06zM34 89h1.06v1.1h-1.06zM34 93h1.06v1.1h-1.06zM34 101h1.06v1.1h-1.06zM34 103h1.06v1.1h-1.06zM35 6h1.06v1.1h-1.06zM35 11h1.06v1.1h-1.06zM35 16h1.06v2.1h-1.06zM35 29h1.06v1.1h-1.06zM35 48h1.06v1.1h-1.06zM35 51h1.06v1.1h-1.06zM35 54h1.06v2.1h-1.06zM35 58h1.06v1.1h-1.06zM35 73h1.06v1.1h-1.06zM35 79h1.06v1.1h-1.06zM35 81h1.06v1.1h-1.06zM35 83h1.06v1.1h-1.06zM35 88h1.06v1.1h-1.06zM35 94h1.06v1.1h-1.06zM36 9h1.06v1.1h-1.06zM36 13h1.06v1.1h-1.06zM36 16h1.06v1.1h-1.06zM36 20h1.06v1.1h-1.06zM36 48h1.06v1.1h-1.06zM36 62h1.06v1.1h-1.06zM36 71h1.06v1.1h-1.06zM36 83h1.06v1.1h-1.06zM36 88h1.06v1.1h-1.06zM36 91h1.06v1.1h-1.06zM36 95h1.06v1.1h-1.06zM37 18h1.06v1.1h-1.06zM37 28h1.06v1.1h-1.06zM37 39h1.06v1.1h-1.06zM37 48h1.06v1.1h-1.06zM37 64h1.06v1.1h-1.06zM37 67h1.06v2.1h-1.06zM37 92h1.06v1.1h-1.06zM38 63h1.06v1.1h-1.06zM39 25h1.06v1.1h-1.06zM39 47h1.06v1.1h-1.06zM39 49h1.06v1.1h-1.06zM39 57h1.06v1.1h-1.06zM39 60h1.06v1.1h-1.06zM39 62h1.06v1.1h-1.06zM39 80h1.06v1.1h-1.06zM39 106h1.06v1.1h-1.06zM40 23h1.06v1.1h-1.06zM40 26h1.06v1.1h-1.06zM40 34h1.06v1.1h-1.06zM40 39h1.06v1.1h-1.06zM40 41h1.06v1.1h-1.06zM40 48h1.06v1.1h-1.06zM40 55h1.06v1.1h-1.06zM40 57h1.06v1.1h-1.06zM40 59h1.06v1.1h-1.06zM40 66h1.06v1.1h-1.06zM40 69h1.06v1.1h-1.06zM41 7h1.06v1.1h-1.06zM41 37h1.06v1.1h-1.06zM41 55h1.06v1.1h-1.06zM41 79h1.06v1.1h-1.06zM41 81h1.06v1.1h-1.06zM41 96h1.06v1.1h-1.06zM41 103h1.06v2.1h-1.06zM41 106h1.06v1.1h-1.06zM42 1h1.06v1.1h-1.06zM42 3h1.06v1.1h-1.06zM42 5h1.06v1.1h-1.06zM42 15h1.06v1.1h-1.06zM42 21h1.06v2.1h-1.06zM42 25h1.06v2.1h-1.06zM42 30h1.06v1.1h-1.06zM42 42h1.06v1.1h-1.06zM42 53h1.06v1.1h-1.06zM42 62h1.06v1.1h-1.06zM42 86h1.06v1.1h-1.06zM42 97h1.06v1.1h-1.06zM43 2h1.06v1.1h-1.06zM43 33h1.06v1.1h-1.06zM43 38h1.06v1.1h-1.06zM43 44h1.06v1.1h-1.06zM43 47h1.06v1.1h-1.06zM43 100h1.06v1.1h-1.06zM44 2h1.06v1.1h-1.06zM44 13h1.06v1.1h-1.06zM44 22h1.06v1.1h-1.06zM44 26h1.06v1.1h-1.06zM44 39h1.06v1.1h-1.06zM44 52h1.06v1.1h-1.06zM44 54h1.06v1.1h-1.06zM44 60h1.06v1.1h-1.06zM44 69h1.06v1.1h-1.06zM44 74h1.06v2.1h-1.06zM44 78h1.06v1.1h-1.06zM44 96h1.06v1.1h-1.06zM44 98h1.06v1.1h-1.06zM44 105h1.06v1.1h-1.06zM45 26h1.06v1.1h-1.06zM45 34h1.06v1.1h-1.06zM45 53h1.06v1.1h-1.06zM45 82h1.06v1.1h-1.06zM46 1h1.06v1.1h-1.06zM46 15h1.06v1.1h-1.06zM46 17h1.06v1.1h-1.06zM46 40h1.06v1.1h-1.06zM46 65h1.06v1.1h-1.06zM46 67h1.06v1.1h-1.06zM46 89h1.06v1.1h-1.06zM46 103h1.06v1.1h-1.06zM46 106h1.06v1.1h-1.06zM47 -1h1.06v2.1h-1.06zM47 10h1.06v1.1h-1.06zM47 33h1.06v1.1h-1.06zM47 36h1.06v1.1h-1.06zM47 57h1.06v1.1h-1.06zM47 60h1.06v1.1h-1.06zM47 86h1.06v1.1h-1.06zM47 96h1.06v1.1h-1.06zM47 106h1.06v1.1h-1.06zM48 75h1.06v1.1h-1.06zM48 79h1.06v1.1h-1.06zM49 -1h1.06v2.1h-1.06zM49 24h1.06v2.1h-1.06zM49 29h1.06v1.1h-1.06zM49 31h1.06v3.1h-1.06zM49 35h1.06v1.1h-1.06zM49 81h1.06v1.1h-1.06zM49 101h1.06v1.1h-1.06zM50 29h1.06v1.1h-1.06zM50 38h1.06v1.1h-1.06zM50 67h1.06v1.1h-1.06zM50 88h1.06v1.1h-1.06zM51 -1h1.06v2.1h-1.06zM51 55h1.06v1.1h-1.06zM51 59h1.06v1.1h-1.06zM51 64h1.06v1.1h-1.06zM51 66h1.06v1.1h-1.06zM51 72h1.06v1.1h-1.06zM51 92h1.06v1.1h-1.06zM51 106h1.06v1.1h-1.06zM52 8h1.06v1.1h-1.06zM52 15h1.06v1.1h-1.06zM52 23h1.06v2.1h-1.06zM52 38h1.06v1.1h-1.06zM52 44h1.06v1.1h-1.06zM52 47h1.06v1.1h-1.06zM52 52h1.06v1.1h-1.06zM52 55h1.06v1.1h-1.06zM52 69h1.06v1.1h-1.06zM52 72h1.06v1.1h-1.06zM52 77h1.06v1.1h-1.06zM53 3h1.06v1.1h-1.06zM53 21h1.06v1.1h-1.06zM53 31h1.06v1.1h-1.06zM53 34h1.06v1.1h-1.06zM53 42h1.06v1.1h-1.06zM53 85h1.06v1.1h-1.06zM53 91h1.06v1.1h-1.06zM53 95h1.06v1.1h-1.06zM54 16h1.06v1.1h-1.06zM54 28h1.06v1.1h-1.06zM54 31h1.06v3.1h-1.06zM54 35h1.06v1.1h-1.06zM54 41h1.06v1.1h-1.06zM54 47h1.06v1.1h-1.06zM54 73h1.06v1.1h-1.06zM54 87h1.06v1.1h-1.06zM54 97h1.06v1.1h-1.06zM54 105h1.06v1.1h-1.06zM55 4h1.06v1.1h-1.06zM55 43h1.06v1.1h-1.06zM55 53h1.06v1.1h-1.06zM55 56h1.06v1.1h-1.06zM55 59h1.06v3.1h-1.06zM55 68h1.06v1.1h-1.06zM55 71h1.06v1.1h-1.06zM55 102h1.06v1.1h-1.06zM56 1h1.06v1.1h-1.06zM56 76h1.06v1.1h-1.06zM57 36h1.06v1.1h-1.06zM57 55h1.06v1.1h-1.06zM58 13h1.06v1.1h-1.06zM58 18h1.06v1.1h-1.06zM58 22h1.06v1.1h-1.06zM58 24h1.06v1.1h-1.06zM58 27h1.06v1.1h-1.06zM58 31h1.06v1.1h-1.06zM58 39h1.06v1.1h-1.06zM58 64h1.06v1.1h-1.06zM58 69h1.06v1.1h-1.06zM58 76h1.06v1.1h-1.06zM58 90h1.06v1.1h-1.06zM58 100h1.06v1.1h-1.06zM59 19h1.06v1.1h-1.06zM60 6h1.06v1.1h-1.06zM60 14h1.06v1.1h-1.06zM60 17h1.06v1.1h-1.06zM60 20h1.06v1.1h-1.06zM60 35h1.06v1.1h-1.06zM60 38h1.06v1.1h-1.06zM60 59h1.06v1.1h-1.06zM60 61h1.06v1.1h-1.06zM60 83h1.06v1.1h-1.06zM60 92h1.06v1.1h-1.06zM60 106h1.06v1.1h-1.06zM61 16h1.06v1.1h-1.06zM61 43h1.06v2.1h-1.06zM61 48h1.06v1.1h-1.06zM61 61h1.06v1.1h-1.06zM61 70h1.06v1.1h-1.06zM61 76h1.06v1.1h-1.06zM61 85h1.06v1.1h-1.06zM61 90h1.06v1.1h-1.06zM61 92h1.06v1.1h-1.06zM62 7h1.06v1.1h-1.06zM62 17h1.06v1.1h-1.06zM62 49h1.06v1.1h-1.06zM62 87h1.06v1.1h-1.06zM62 91h1.06v1.1h-1.06zM62 93h1.06v1.1h-1.06zM62 97h1.06v1.1h-1.06zM63 6h1.06v1.1h-1.06zM63 12h1.06v1.1h-1.06zM63 30h1.06v2.1h-1.06zM63 66h1.06v1.1h-1.06zM63 80h1.06v1.1h-1.06zM63 82h1.06v1.1h-1.06zM63 93h1.06v3.1h-1.06zM64 2h1.06v1.1h-1.06zM64 7h1.06v1.1h-1.06zM64 15h1.06v1.1h-1.06zM64 21h1.06v2.1h-1.06zM64 33h1.06v1.1h-1.06zM64 60h1.06v1.1h-1.06zM64 65h1.06v1.1h-1.06zM64 70h1.06v1.1h-1.06zM64 81h1.06v1.1h-1.06zM64 101h1.06v1.1h-1.06zM65 2h1.06v1.1h-1.06zM65 25h1.06v1.1h-1.06zM65 27h1.06v2.1h-1.06zM65 38h1.06v1.1h-1.06zM65 43h1.06v1.1h-1.06zM65 51h1.06v1.1h-1.06zM65 79h1.06v3.1h-1.06zM65 103h1.06v1.1h-1.06zM66 51h1.06v1.1h-1.06zM66 59h1.06v1.1h-1.06zM66 73h1.06v2.1h-1.06zM66 79h1.06v1.1h-1.06zM66 89h1.06v1.1h-1.06zM66 97h1.06v1.1h-1.06zM66 100h1.06v1.1h-1.06zM66 106h1.06v3.1h-1.06zM67 12h1.06v1.1h-1.06zM67 20h1.06v1.1h-1.06zM67 36h1.06v1.1h-1.06zM67 38h1.06v1.1h-1.06zM67 40h1.06v1.1h-1.06zM67 71h1.06v3.1h-1.06zM67 81h1.06v1.1h-1.06zM67 84h1.06v1.1h-1.06zM67 93h1.06v1.1h-1.06zM67 104h1.06v1.1h-1.06zM68 22h1.06v1.1h-1.06zM68 33h1.06v1.1h-1.06zM69 3h1.06v1.1h-1.06zM69 14h1.06v1.1h-1.06zM69 41h1.06v2.1h-1.06zM69 45h1.06v1.1h-1.06zM69 48h1.06v2.1h-1.06zM69 55h1.06v1.1h-1.06zM69 59h1.06v2.1h-1.06zM69 69h1.06v1.1h-1.06zM69 73h1.06v1.1h-1.06zM69 76h1.06v1.1h-1.06zM69 79h1.06v3.1h-1.06zM69 88h1.06v1.1h-1.06zM69 95h1.06v1.1h-1.06zM69 105h1.06v1.1h-1.06zM69 107h1.06v2.1h-1.06zM70 1h1.06v1.1h-1.06zM70 7h1.06v1.1h-1.06zM70 23h1.06v1.1h-1.06zM70 36h1.06v1.1h-1.06zM70 58h1.06v1.1h-1.06zM70 61h1.06v1.1h-1.06zM70 67h1.06v1.1h-1.06zM70 90h1.06v1.1h-1.06zM70 100h1.06v1.1h-1.06zM71 2h1.06v2.1h-1.06zM71 7h1.06v2.1h-1.06zM71 12h1.06v1.1h-1.06zM71 33h1.06v1.1h-1.06zM71 38h1.06v1.1h-1.06zM71 42h1.06v1.1h-1.06zM71 47h1.06v1.1h-1.06zM71 51h1.06v1.1h-1.06zM71 61h1.06v1.1h-1.06zM71 68h1.06v1.1h-1.06zM71 74h1.06v2.1h-1.06zM71 83h1.06v1.1h-1.06zM71 85h1.06v1.1h-1.06zM71 93h1.06v1.1h-1.06zM71 98h1.06v1.1h-1.06zM71 100h1.06v1.1h-1.06zM71 104h1.06v1.1h-1.06zM71 106h1.06v1.1h-1.06zM72 28h1.06v1.1h-1.06zM72 50h1.06v1.1h-1.06zM72 52h1.06v1.1h-1.06zM72 91h1.06v1.1h-1.06zM73 -1h1.06v2.1h-1.06zM73 8h1.06v1.1h-1.06zM73 15h1.06v2.1h-1.06zM73 44h1.06v1.1h-1.06zM74 12h1.06v1.1h-1.06zM74 14h1.06v1.1h-1.06zM74 18h1.06v1.1h-1.06zM74 23h1.06v1.1h-1.06zM74 30h1.06v1.1h-1.06zM74 37h1.06v1.1h-1.06zM74 40h1.06v1.1h-1.06zM74 50h1.06v1.1h-1.06zM74 52h1.06v1.1h-1.06zM74 58h1.06v1.1h-1.06zM74 61h1.06v1.1h-1.06zM74 69h1.06v1.1h-1.06zM74 71h1.06v1.1h-1.06zM74 87h1.06v1.1h-1.06zM74 96h1.06v1.1h-1.06zM74 98h1.06v1.1h-1.06zM74 105h1.06v1.1h-1.06zM75 3h1.06v1.1h-1.06zM75 11h1.06v1.1h-1.06zM75 22h1.06v1.1h-1.06zM75 31h1.06v1.1h-1.06zM75 59h1.06v1.1h-1.06zM75 69h1.06v1.1h-1.06zM75 72h1.06v1.1h-1.06zM75 75h1.06v1.1h-1.06zM75 77h1.06v1.1h-1.06zM75 85h1.06v1.1h-1.06zM75 98h1.06v1.1h-1.06zM75 100h1.06v1.1h-1.06zM75 104h1.06v1.1h-1.06zM76 1h1.06v1.1h-1.06zM76 14h1.06v1.1h-1.06zM76 21h1.06v1.1h-1.06zM76 37h1.06v1.1h-1.06zM76 53h1.06v1.1h-1.06zM76 69h1.06v1.1h-1.06zM76 71h1.06v1.1h-1.06zM76 80h1.06v1.1h-1.06zM76 89h1.06v1.1h-1.06zM76 96h1.06v1.1h-1.06zM76 99h1.06v1.1h-1.06zM76 103h1.06v1.1h-1.06zM76 105h1.06v2.1h-1.06zM77 4h1.06v1.1h-1.06zM77 9h1.06v1.1h-1.06zM77 19h1.06v1.1h-1.06zM77 32h1.06v1.1h-1.06zM77 38h1.06v1.1h-1.06zM77 51h1.06v1.1h-1.06zM77 54h1.06v1.1h-1.06zM77 68h1.06v1.1h-1.06zM77 96h1.06v1.1h-1.06zM77 106h1.06v1.1h-1.06zM78 -1h1.06v2.1h-1.06zM78 6h1.06v1.1h-1.06zM78 8h1.06v1.1h-1.06zM78 14h1.06v1.1h-1.06zM78 29h1.06v1.1h-1.06zM78 39h1.06v1.1h-1.06zM78 47h1.06v1.1h-1.06zM78 51h1.06v1.1h-1.06zM78 100h1.06v1.1h-1.06zM79 5h1.06v1.1h-1.06zM79 30h1.06v1.1h-1.06zM79 34h1.06v1.1h-1.06zM79 53h1.06v1.1h-1.06zM79 57h1.06v1.1h-1.06zM79 76h1.06v1.1h-1.06zM79 80h1.06v1.1h-1.06zM79 84h1.06v1.1h-1.06zM79 91h1.06v1.1h-1.06zM80 10h1.06v1.1h-1.06zM80 18h1.06v1.1h-1.06zM80 49h1.06v1.1h-1.06zM80 51h1.06v1.1h-1.06zM80 63h1.06v1.1h-1.06zM80 90h1.06v1.1h-1.06zM80 95h1.06v1.1h-1.06zM81 10h1.06v1.1h-1.06zM81 17h1.06v1.1h-1.06zM81 20h1.06v1.1h-1.06zM81 26h1.06v1.1h-1.06zM81 43h1.06v1.1h-1.06zM81 47h1.06v1.1h-1.06zM81 55h1.06v1.1h-1.06zM81 59h1.06v1.1h-1.06zM81 64h1.06v1.1h-1.06zM81 68h1.06v1.1h-1.06zM81 71h1.06v1.1h-1.06zM81 74h1.06v1.1h-1.06zM81 83h1.06v1.1h-1.06zM81 89h1.06v1.1h-1.06zM81 93h1.06v1.1h-1.06zM81 95h1.06v1.1h-1.06zM82 14h1.06v2.1h-1.06zM82 23h1.06v1.1h-1.06zM83 -1h1.06v2.1h-1.06zM83 2h1.06v1.1h-1.06zM83 70h1.06v3.1h-1.06zM83 75h1.06v1.1h-1.06zM83 83h1.06v1.1h-1.06zM83 98h1.06v1.1h-1.06zM84 14h1.06v1.1h-1.06zM84 16h1.06v1.1h-1.06zM84 18h1.06v1.1h-1.06zM84 22h1.06v1.1h-1.06zM84 31h1.06v3.1h-1.06zM84 51h1.06v1.1h-1.06zM84 99h1.06v1.1h-1.06zM85 60h1.06v1.1h-1.06zM85 67h1.06v1.1h-1.06zM85 77h1.06v1.1h-1.06zM85 81h1.06v1.1h-1.06zM85 97h1.06v1.1h-1.06zM85 104h1.06v1.1h-1.06zM86 4h1.06v1.1h-1.06zM86 8h1.06v1.1h-1.06zM86 40h1.06v1.1h-1.06zM86 45h1.06v1.1h-1.06zM86 64h1.06v1.1h-1.06zM86 68h1.06v1.1h-1.06zM86 77h1.06v1.1h-1.06zM86 82h1.06v1.1h-1.06zM86 96h1.06v2.1h-1.06zM86 102h1.06v1.1h-1.06zM87 32h1.06v1.1h-1.06zM87 39h1.06v1.1h-1.06zM87 50h1.06v1.1h-1.06zM87 53h1.06v1.1h-1.06zM87 57h1.06v1.1h-1.06zM87 62h1.06v1.1h-1.06zM87 72h1.06v1.1h-1.06zM87 74h1.06v1.1h-1.06zM87 76h1.06v1.1h-1.06zM87 97h1.06v1.1h-1.06zM87 99h1.06v1.1h-1.06zM88 1h1.06v1.1h-1.06zM88 63h1.06v1.1h-1.06zM88 89h1.06v1.1h-1.06zM89 3h1.06v4.1h-1.06zM89 24h1.06v2.1h-1.06zM89 58h1.06v1.1h-1.06zM89 73h1.06v1.1h-1.06zM89 85h1.06v2.1h-1.06zM89 88h1.06v1.1h-1.06zM90 11h1.06v1.1h-1.06zM90 21h1.06v2.1h-1.06zM90 25h1.06v1.1h-1.06zM90 33h1.06v1.1h-1.06zM90 55h1.06v1.1h-1.06zM90 67h1.06v1.1h-1.06zM90 82h1.06v1.1h-1.06zM90 85h1.06v2.1h-1.06zM90 95h1.06v1.1h-1.06zM90 97h1.06v1.1h-1.06zM90 107h1.06v2.1h-1.06zM91 42h1.06v1.1h-1.06zM91 64h1.06v1.1h-1.06zM91 70h1.06v1.1h-1.06zM91 73h1.06v1.1h-1.06zM91 77h1.06v1.1h-1.06zM91 81h1.06v1.1h-1.06zM91 85h1.06v1.1h-1.06zM91 95h1.06v1.1h-1.06zM92 6h1.06v1.1h-1.06zM92 17h1.06v1.1h-1.06zM92 27h1.06v1.1h-1.06zM92 38h1.06v1.1h-1.06zM92 69h1.06v1.1h-1.06zM92 95h1.06v1.1h-1.06zM92 105h1.06v1.1h-1.06zM92 107h1.06v2.1h-1.06zM93 13h1.06v1.1h-1.06zM93 35h1.06v1.1h-1.06zM93 55h1.06v1.1h-1.06zM93 60h1.06v1.1h-1.06zM93 72h1.06v1.1h-1.06zM93 75h1.06v2.1h-1.06zM93 96h1.06v1.1h-1.06zM93 106h1.06v1.1h-1.06zM94 7h1.06v1.1h-1.06zM94 11h1.06v1.1h-1.06zM94 24h1.06v1.1h-1.06zM94 57h1.06v1.1h-1.06zM94 60h1.06v1.1h-1.06zM94 62h1.06v1.1h-1.06zM94 71h1.06v1.1h-1.06zM94 80h1.06v1.1h-1.06zM94 91h1.06v1.1h-1.06zM94 95h1.06v1.1h-1.06zM95 11h1.06v1.1h-1.06zM95 16h1.06v1.1h-1.06zM95 25h1.06v1.1h-1.06zM95 30h1.06v1.1h-1.06zM95 41h1.06v1.1h-1.06zM95 48h1.06v1.1h-1.06zM95 51h1.06v1.1h-1.06zM95 87h1.06v1.1h-1.06zM95 95h1.06v1.1h-1.06zM95 101h1.06v1.1h-1.06zM96 15h1.06v1.1h-1.06zM96 18h1.06v1.1h-1.06zM96 20h1.06v1.1h-1.06zM96 31h1.06v1.1h-1.06zM96 37h1.06v1.1h-1.06zM96 45h1.06v1.1h-1.06zM96 67h1.06v1.1h-1.06zM96 85h1.06v2.1h-1.06zM96 90h1.06v1.1h-1.06zM96 93h1.06v1.1h-1.06zM96 95h1.06v1.1h-1.06zM97 5h1.06v2.1h-1.06zM97 12h1.06v1.1h-1.06zM97 17h1.06v1.1h-1.06zM97 30h1.06v1.1h-1.06zM97 37h1.06v1.1h-1.06zM97 46h1.06v1.1h-1.06zM97 51h1.06v1.1h-1.06zM97 58h1.06v1.1h-1.06zM97 65h1.06v1.1h-1.06zM97 67h1.06v1.1h-1.06zM97 79h1.06v1.1h-1.06zM97 82h1.06v1.1h-1.06zM97 91h1.06v1.1h-1.06zM97 96h1.06v1.1h-1.06zM98 6h1.06v1.1h-1.06zM98 8h1.06v1.1h-1.06zM98 10h1.06v1.1h-1.06zM98 13h1.06v1.1h-1.06zM98 36h1.06v1.1h-1.06zM98 46h1.06v1.1h-1.06zM98 90h1.06v1.1h-1.06zM99 14h1.06v1.1h-1.06zM99 61h1.06v1.1h-1.06zM99 77h1.06v1.1h-1.06zM99 87h1.06v1.1h-1.06zM99 103h1.06v1.1h-1.06zM100 -1h1.06v2.1h-1.06zM100 4h1.06v1.1h-1.06zM100 24h1.06v1.1h-1.06zM100 34h1.06v1.1h-1.06zM100 43h1.06v1.1h-1.06zM100 54h1.06v1.1h-1.06zM100 80h1.06v1.1h-1.06zM100 85h1.06v1.1h-1.06zM100 88h1.06v1.1h-1.06zM100 95h1.06v1.1h-1.06zM101 -1h1.06v2.1h-1.06zM101 4h1.06v1.1h-1.06zM101 24h1.06v1.1h-1.06zM101 34h1.06v1.1h-1.06zM101 43h1.06v1.1h-1.06zM101 54h1.06v1.1h-1.06zM101 80h1.06v1.1h-1.06zM101 85h1.06v1.1h-1.06zM101 88h1.06v1.1h-1.06zM101 95h1.06v1.1h-1.06z"/><path fill="#f7f4f5" d="M-1 25h1.06v1.1h-1.06zM-1 36h1.06v1.1h-1.06zM-1 51h1.06v1.1h-1.06zM-1 64h1.06v1.1h-1.06zM-1 84h1.06v1.1h-1.06zM-1 86h1.06v1.1h-1.06zM-1 102h1.06v1.1h-1.06zM-1 104h1.06v2.1h-1.06zM0 25h1.06v1.1h-1.06zM0 36h1.06v1.1h-1.06zM0 51h1.06v1.1h-1.06zM0 64h1.06v1.1h-1.06zM0 84h1.06v1.1h-1.06zM0 86h1.06v1.1h-1.06zM0 102h1.06v1.1h-1.06zM0 104h1.06v2.1h-1.06zM1 2h1.06v1.1h-1.06zM1 27h1.06v1.1h-1.06zM1 34h1.06v1.1h-1.06zM1 36h1.06v3.1h-1.06zM1 44h1.06v1.1h-1.06zM1 53h1.06v1.1h-1.06zM1 58h1.06v1.1h-1.06zM1 66h1.06v1.1h-1.06zM1 68h1.06v1.1h-1.06zM1 82h1.06v1.1h-1.06zM1 92h1.06v1.1h-1.06zM1 106h1.06v1.1h-1.06zM3 5h1.06v1.1h-1.06zM3 14h1.06v1.1h-1.06zM3 25h1.06v1.1h-1.06zM3 48h1.06v1.1h-1.06zM3 51h1.06v1.1h-1.06zM3 88h1.06v1.1h-1.06zM3 101h1.06v1.1h-1.06zM4 3h1.06v1.1h-1.06zM4 50h1.06v1.1h-1.06zM4 52h1.06v1.1h-1.06zM4 68h1.06v1.1h-1.06zM5 17h1.06v1.1h-1.06zM5 28h1.06v1.1h-1.06zM5 47h1.06v1.1h-1.06zM5 50h1.06v1.1h-1.06zM5 70h1.06v1.1h-1.06zM5 89h1.06v1.1h-1.06zM5 92h1.06v2.1h-1.06zM5 101h1.06v1.1h-1.06zM6 1h1.06v1.1h-1.06zM6 4h1.06v1.1h-1.06zM6 19h1.06v1.1h-1.06zM6 30h1.06v1.1h-1.06zM6 34h1.06v3.1h-1.06zM6 48h1.06v1.1h-1.06zM6 51h1.06v2.1h-1.06zM6 67h1.06v1.1h-1.06zM6 76h1.06v1.1h-1.06zM6 84h1.06v1.1h-1.06zM6 94h1.06v1.1h-1.06zM7 2h1.06v1.1h-1.06zM7 24h1.06v1.1h-1.06zM7 38h1.06v2.1h-1.06zM7 54h1.06v1.1h-1.06zM7 58h1.06v1.1h-1.06zM7 66h1.06v1.1h-1.06zM7 68h1.06v1.1h-1.06zM7 100h1.06v1.1h-1.06zM7 105h1.06v1.1h-1.06zM8 26h1.06v1.1h-1.06zM8 37h1.06v1.1h-1.06zM8 43h1.06v2.1h-1.06zM9 46h1.06v1.1h-1.06zM9 49h1.06v1.1h-1.06zM9 52h1.06v1.1h-1.06zM9 54h1.06v1.1h-1.06zM9 65h1.06v1.1h-1.06zM9 78h1.06v1.1h-1.06zM9 86h1.06v1.1h-1.06zM9 94h1.06v1.1h-1.06zM9 99h1.06v1.1h-1.06zM10 15h1.06v1.1h-1.06zM10 32h1.06v1.1h-1.06zM10 37h1.06v1.1h-1.06zM10 40h1.06v1.1h-1.06zM10 44h1.06v1.1h-1.06zM10 51h1.06v2.1h-1.06zM10 61h1.06v1.1h-1.06zM10 78h1.06v1.1h-1.06zM10 85h1.06v1.1h-1.06zM11 98h1.06v1.1h-1.06zM12 1h1.06v1.1h-1.06zM12 21h1.06v1.1h-1.06zM12 46h1.06v1.1h-1.06zM12 80h1.06v1.1h-1.06zM12 89h1.06v1.1h-1.06zM13 42h1.06v1.1h-1.06zM13 64h1.06v1.1h-1.06zM14 90h1.06v1.1h-1.06zM15 1h1.06v1.1h-1.06zM15 7h1.06v2.1h-1.06zM15 19h1.06v1.1h-1.06zM15 30h1.06v1.1h-1.06zM15 32h1.06v1.1h-1.06zM15 42h1.06v2.1h-1.06zM15 62h1.06v2.1h-1.06zM15 67h1.06v1.1h-1.06zM15 76h1.06v2.1h-1.06zM15 79h1.06v2.1h-1.06zM15 84h1.06v1.1h-1.06zM15 100h1.06v1.1h-1.06zM16 2h1.06v1.1h-1.06zM16 72h1.06v1.1h-1.06zM16 79h1.06v1.1h-1.06zM17 90h1.06v1.1h-1.06zM17 93h1.06v1.1h-1.06zM18 6h1.06v1.1h-1.06zM18 15h1.06v1.1h-1.06zM18 29h1.06v1.1h-1.06zM18 43h1.06v1.1h-1.06zM18 46h1.06v2.1h-1.06zM18 51h1.06v1.1h-1.06zM18 61h1.06v1.1h-1.06zM18 64h1.06v1.1h-1.06zM18 81h1.06v1.1h-1.06zM18 96h1.06v1.1h-1.06zM18 98h1.06v1.1h-1.06zM18 100h1.06v1.1h-1.06zM21 28h1.06v1.1h-1.06zM21 37h1.06v1.1h-1.06zM21 50h1.06v2.1h-1.06zM21 66h1.06v1.1h-1.06zM21 80h1.06v1.1h-1.06zM21 87h1.06v1.1h-1.06zM21 93h1.06v1.1h-1.06zM21 99h1.06v2.1h-1.06zM22 7h1.06v1.1h-1.06zM22 13h1.06v1.1h-1.06zM22 15h1.06v1.1h-1.06zM22 45h1.06v1.1h-1.06zM22 68h1.06v1.1h-1.06zM22 71h1.06v1.1h-1.06zM22 77h1.06v3.1h-1.06zM22 81h1.06v2.1h-1.06zM22 92h1.06v1.1h-1.06zM23 16h1.06v1.1h-1.06zM23 33h1.06v1.1h-1.06zM23 39h1.06v1.1h-1.06zM23 44h1.06v1.1h-1.06zM23 65h1.06v1.1h-1.06zM23 74h1.06v1.1h-1.06zM23 91h1.06v1.1h-1.06zM23 96h1.06v1.1h-1.06zM23 104h1.06v1.1h-1.06zM23 107h1.06v2.1h-1.06zM24 26h1.06v1.1h-1.06zM24 41h1.06v2.1h-1.06zM24 44h1.06v1.1h-1.06zM24 64h1.06v1.1h-1.06zM24 76h1.06v1.1h-1.06zM25 11h1.06v1.1h-1.06zM25 18h1.06v2.1h-1.06zM25 24h1.06v1.1h-1.06zM25 32h1.06v1.1h-1.06zM25 39h1.06v1.1h-1.06zM25 41h1.06v2.1h-1.06zM25 59h1.06v1.1h-1.06zM25 61h1.06v1.1h-1.06zM25 64h1.06v1.1h-1.06zM25 78h1.06v1.1h-1.06zM25 85h1.06v1.1h-1.06zM25 88h1.06v1.1h-1.06zM25 90h1.06v1.1h-1.06zM25 96h1.06v1.1h-1.06zM25 101h1.06v1.1h-1.06zM27 6h1.06v1.1h-1.06zM27 13h1.06v1.1h-1.06zM27 37h1.06v1.1h-1.06zM27 42h1.06v1.1h-1.06zM27 49h1.06v1.1h-1.06zM27 51h1.06v1.1h-1.06zM27 70h1.06v1.1h-1.06zM27 86h1.06v1.1h-1.06zM27 94h1.06v1.1h-1.06zM27 99h1.06v1.1h-1.06zM27 102h1.06v1.1h-1.06zM28 1h1.06v1.1h-1.06zM28 13h1.06v1.1h-1.06zM28 41h1.06v1.1h-1.06zM28 47h1.06v1.1h-1.06zM28 85h1.06v1.1h-1.06zM28 99h1.06v2.1h-1.06zM29 5h1.06v1.1h-1.06zM29 15h1.06v2.1h-1.06zM29 38h1.06v1.1h-1.06zM29 70h1.06v2.1h-1.06zM29 94h1.06v1.1h-1.06zM29 107h1.06v2.1h-1.06zM30 18h1.06v1.1h-1.06zM30 20h1.06v1.1h-1.06zM30 25h1.06v2.1h-1.06zM30 31h1.06v1.1h-1.06zM30 37h1.06v1.1h-1.06zM30 71h1.06v1.1h-1.06zM31 3h1.06v1.1h-1.06zM31 5h1.06v1.1h-1.06zM31 10h1.06v1.1h-1.06zM31 13h1.06v1.1h-1.06zM31 18h1.06v1.1h-1.06zM31 20h1.06v1.1h-1.06zM31 45h1.06v1.1h-1.06zM31 76h1.06v1.1h-1.06zM31 82h1.06v1.1h-1.06zM31 92h1.06v1.1h-1.06zM32 15h1.06v1.1h-1.06zM32 69h1.06v1.1h-1.06zM32 95h1.06v1.1h-1.06zM32 101h1.06v1.1h-1.06zM32 105h1.06v1.1h-1.06zM33 24h1.06v1.1h-1.06zM33 28h1.06v1.1h-1.06zM33 30h1.06v1.1h-1.06zM33 61h1.06v1.1h-1.06zM33 65h1.06v2.1h-1.06zM33 69h1.06v1.1h-1.06zM33 86h1.06v1.1h-1.06zM33 107h1.06v2.1h-1.06zM34 15h1.06v1.1h-1.06zM34 30h1.06v1.1h-1.06zM34 52h1.06v1.1h-1.06zM34 74h1.06v1.1h-1.06zM34 82h1.06v1.1h-1.06zM34 84h1.06v2.1h-1.06zM34 90h1.06v1.1h-1.06zM34 99h1.06v1.1h-1.06zM34 106h1.06v1.1h-1.06zM35 2h1.06v1.1h-1.06zM35 7h1.06v1.1h-1.06zM35 10h1.06v1.1h-1.06zM35 14h1.06v1.1h-1.06zM35 19h1.06v1.1h-1.06zM35 30h1.06v1.1h-1.06zM35 66h1.06v1.1h-1.06zM35 102h1.06v1.1h-1.06zM36 1h1.06v2.1h-1.06zM36 19h1.06v1.1h-1.06zM36 31h1.06v1.1h-1.06zM36 36h1.06v1.1h-1.06zM36 41h1.06v1.1h-1.06zM36 44h1.06v1.1h-1.06zM36 46h1.06v1.1h-1.06zM36 64h1.06v1.1h-1.06zM36 66h1.06v1.1h-1.06zM36 70h1.06v1.1h-1.06zM36 79h1.06v1.1h-1.06zM36 96h1.06v2.1h-1.06zM36 103h1.06v1.1h-1.06zM37 1h1.06v1.1h-1.06zM37 25h1.06v1.1h-1.06zM37 41h1.06v1.1h-1.06zM37 55h1.06v1.1h-1.06zM37 76h1.06v1.1h-1.06zM37 105h1.06v1.1h-1.06zM38 17h1.06v1.1h-1.06zM38 50h1.06v1.1h-1.06zM38 58h1.06v1.1h-1.06zM38 73h1.06v1.1h-1.06zM38 91h1.06v1.1h-1.06zM38 98h1.06v1.1h-1.06zM39 13h1.06v1.1h-1.06zM39 30h1.06v1.1h-1.06zM39 38h1.06v1.1h-1.06zM39 41h1.06v1.1h-1.06zM39 45h1.06v2.1h-1.06zM39 51h1.06v1.1h-1.06zM39 54h1.06v1.1h-1.06zM39 61h1.06v1.1h-1.06zM39 68h1.06v1.1h-1.06zM40 14h1.06v1.1h-1.06zM40 19h1.06v1.1h-1.06zM40 36h1.06v1.1h-1.06zM40 45h1.06v1.1h-1.06zM40 47h1.06v1.1h-1.06zM40 52h1.06v1.1h-1.06zM40 78h1.06v1.1h-1.06zM41 36h1.06v1.1h-1.06zM41 38h1.06v1.1h-1.06zM41 45h1.06v1.1h-1.06zM41 54h1.06v1.1h-1.06zM41 68h1.06v1.1h-1.06zM41 78h1.06v1.1h-1.06zM41 83h1.06v1.1h-1.06zM41 88h1.06v1.1h-1.06zM42 8h1.06v1.1h-1.06zM42 19h1.06v2.1h-1.06zM42 38h1.06v2.1h-1.06zM42 41h1.06v1.1h-1.06zM42 46h1.06v1.1h-1.06zM42 51h1.06v1.1h-1.06zM42 59h1.06v2.1h-1.06zM42 66h1.06v1.1h-1.06zM43 25h1.06v1.1h-1.06zM43 31h1.06v1.1h-1.06zM43 41h1.06v1.1h-1.06zM43 45h1.06v2.1h-1.06zM43 54h1.06v1.1h-1.06zM43 60h1.06v1.1h-1.06zM43 66h1.06v1.1h-1.06zM43 104h1.06v1.1h-1.06zM44 8h1.06v1.1h-1.06zM44 16h1.06v1.1h-1.06zM44 44h1.06v1.1h-1.06zM44 67h1.06v1.1h-1.06zM44 84h1.06v1.1h-1.06zM44 94h1.06v1.1h-1.06zM45 13h1.06v1.1h-1.06zM45 21h1.06v1.1h-1.06zM45 29h1.06v2.1h-1.06zM45 55h1.06v1.1h-1.06zM45 66h1.06v1.1h-1.06zM45 81h1.06v1.1h-1.06zM45 99h1.06v1.1h-1.06zM45 101h1.06v1.1h-1.06zM46 14h1.06v1.1h-1.06zM46 31h1.06v1.1h-1.06zM46 41h1.06v1.1h-1.06zM46 43h1.06v1.1h-1.06zM46 48h1.06v1.1h-1.06zM46 63h1.06v1.1h-1.06zM46 80h1.06v2.1h-1.06zM46 87h1.06v1.1h-1.06zM46 91h1.06v1.1h-1.06zM47 1h1.06v1.1h-1.06zM47 7h1.06v1.1h-1.06zM47 19h1.06v1.1h-1.06zM47 21h1.06v3.1h-1.06zM47 31h1.06v2.1h-1.06zM47 50h1.06v1.1h-1.06zM47 80h1.06v1.1h-1.06zM47 83h1.06v1.1h-1.06zM47 93h1.06v1.1h-1.06zM47 97h1.06v1.1h-1.06zM48 2h1.06v1.1h-1.06zM48 72h1.06v1.1h-1.06zM48 85h1.06v1.1h-1.06zM49 8h1.06v1.1h-1.06zM49 21h1.06v1.1h-1.06zM49 34h1.06v1.1h-1.06zM49 75h1.06v1.1h-1.06zM49 78h1.06v1.1h-1.06zM50 1h1.06v1.1h-1.06zM50 8h1.06v1.1h-1.06zM50 10h1.06v1.1h-1.06zM50 14h1.06v1.1h-1.06zM50 20h1.06v1.1h-1.06zM50 24h1.06v1.1h-1.06zM50 26h1.06v1.1h-1.06zM50 101h1.06v1.1h-1.06zM51 78h1.06v1.1h-1.06zM51 88h1.06v1.1h-1.06zM51 96h1.06v1.1h-1.06zM51 98h1.06v1.1h-1.06zM51 102h1.06v1.1h-1.06zM51 105h1.06v1.1h-1.06zM52 5h1.06v1.1h-1.06zM52 13h1.06v1.1h-1.06zM52 25h1.06v1.1h-1.06zM52 30h1.06v1.1h-1.06zM52 61h1.06v1.1h-1.06zM52 92h1.06v1.1h-1.06zM52 107h1.06v2.1h-1.06zM53 -1h1.06v2.1h-1.06zM53 4h1.06v1.1h-1.06zM53 23h1.06v1.1h-1.06zM53 25h1.06v1.1h-1.06zM53 68h1.06v2.1h-1.06zM53 79h1.06v1.1h-1.06zM53 82h1.06v1.1h-1.06zM53 92h1.06v1.1h-1.06zM54 5h1.06v1.1h-1.06zM54 8h1.06v1.1h-1.06zM54 11h1.06v1.1h-1.06zM54 13h1.06v2.1h-1.06zM54 19h1.06v1.1h-1.06zM54 38h1.06v1.1h-1.06zM54 48h1.06v2.1h-1.06zM54 52h1.06v1.1h-1.06zM54 54h1.06v1.1h-1.06zM54 59h1.06v1.1h-1.06zM54 64h1.06v1.1h-1.06zM54 71h1.06v1.1h-1.06zM54 86h1.06v1.1h-1.06zM54 95h1.06v2.1h-1.06zM54 100h1.06v1.1h-1.06zM55 39h1.06v1.1h-1.06zM55 54h1.06v1.1h-1.06zM55 66h1.06v1.1h-1.06zM55 78h1.06v1.1h-1.06zM55 96h1.06v1.1h-1.06zM55 98h1.06v1.1h-1.06zM57 3h1.06v2.1h-1.06zM57 12h1.06v2.1h-1.06zM57 56h1.06v1.1h-1.06zM57 61h1.06v1.1h-1.06zM57 67h1.06v1.1h-1.06zM57 69h1.06v1.1h-1.06zM57 101h1.06v1.1h-1.06zM58 3h1.06v1.1h-1.06zM58 14h1.06v2.1h-1.06zM58 19h1.06v2.1h-1.06zM58 55h1.06v2.1h-1.06zM58 62h1.06v1.1h-1.06zM58 80h1.06v1.1h-1.06zM58 98h1.06v1.1h-1.06zM59 16h1.06v1.1h-1.06zM59 20h1.06v1.1h-1.06zM59 38h1.06v1.1h-1.06zM59 51h1.06v1.1h-1.06zM59 59h1.06v1.1h-1.06zM59 103h1.06v1.1h-1.06zM60 1h1.06v1.1h-1.06zM60 13h1.06v1.1h-1.06zM60 24h1.06v1.1h-1.06zM60 29h1.06v1.1h-1.06zM60 34h1.06v1.1h-1.06zM60 49h1.06v1.1h-1.06zM60 73h1.06v1.1h-1.06zM60 97h1.06v1.1h-1.06zM61 1h1.06v1.1h-1.06zM61 31h1.06v1.1h-1.06zM61 41h1.06v1.1h-1.06zM61 54h1.06v1.1h-1.06zM61 66h1.06v1.1h-1.06zM61 72h1.06v1.1h-1.06zM61 81h1.06v1.1h-1.06zM61 87h1.06v1.1h-1.06zM61 106h1.06v1.1h-1.06zM62 2h1.06v1.1h-1.06zM62 4h1.06v1.1h-1.06zM62 15h1.06v1.1h-1.06zM62 39h1.06v1.1h-1.06zM62 46h1.06v1.1h-1.06zM62 70h1.06v2.1h-1.06zM62 96h1.06v1.1h-1.06zM62 98h1.06v1.1h-1.06zM63 17h1.06v2.1h-1.06zM63 21h1.06v1.1h-1.06zM63 34h1.06v1.1h-1.06zM63 37h1.06v1.1h-1.06zM63 49h1.06v1.1h-1.06zM63 53h1.06v3.1h-1.06zM63 60h1.06v1.1h-1.06zM63 64h1.06v1.1h-1.06zM63 79h1.06v1.1h-1.06zM63 107h1.06v2.1h-1.06zM64 -1h1.06v2.1h-1.06zM64 19h1.06v1.1h-1.06zM64 23h1.06v1.1h-1.06zM64 25h1.06v1.1h-1.06zM64 28h1.06v1.1h-1.06zM64 40h1.06v1.1h-1.06zM64 42h1.06v1.1h-1.06zM64 57h1.06v1.1h-1.06zM64 68h1.06v1.1h-1.06zM64 72h1.06v1.1h-1.06zM64 75h1.06v1.1h-1.06zM64 77h1.06v1.1h-1.06zM64 82h1.06v1.1h-1.06zM64 84h1.06v1.1h-1.06zM64 98h1.06v1.1h-1.06zM64 102h1.06v2.1h-1.06zM65 1h1.06v1.1h-1.06zM65 4h1.06v1.1h-1.06zM65 13h1.06v1.1h-1.06zM65 18h1.06v1.1h-1.06zM65 20h1.06v1.1h-1.06zM65 33h1.06v1.1h-1.06zM65 36h1.06v2.1h-1.06zM65 46h1.06v1.1h-1.06zM65 49h1.06v1.1h-1.06zM65 66h1.06v1.1h-1.06zM65 73h1.06v1.1h-1.06zM65 88h1.06v1.1h-1.06zM65 92h1.06v1.1h-1.06zM66 67h1.06v1.1h-1.06zM66 81h1.06v1.1h-1.06zM66 92h1.06v2.1h-1.06zM67 3h1.06v1.1h-1.06zM67 9h1.06v1.1h-1.06zM67 13h1.06v1.1h-1.06zM67 19h1.06v1.1h-1.06zM67 44h1.06v1.1h-1.06zM67 51h1.06v1.1h-1.06zM67 69h1.06v2.1h-1.06zM67 74h1.06v1.1h-1.06zM67 82h1.06v1.1h-1.06zM67 99h1.06v1.1h-1.06zM67 105h1.06v1.1h-1.06zM68 8h1.06v1.1h-1.06zM68 20h1.06v1.1h-1.06zM68 25h1.06v1.1h-1.06zM69 7h1.06v1.1h-1.06zM69 39h1.06v1.1h-1.06zM69 44h1.06v1.1h-1.06zM69 52h1.06v1.1h-1.06zM69 62h1.06v1.1h-1.06zM69 66h1.06v1.1h-1.06zM69 71h1.06v1.1h-1.06zM69 75h1.06v1.1h-1.06zM69 77h1.06v1.1h-1.06zM69 90h1.06v1.1h-1.06zM69 94h1.06v1.1h-1.06zM69 96h1.06v1.1h-1.06zM69 102h1.06v1.1h-1.06zM70 8h1.06v1.1h-1.06zM70 15h1.06v1.1h-1.06zM70 26h1.06v1.1h-1.06zM70 38h1.06v1.1h-1.06zM70 42h1.06v1.1h-1.06zM70 45h1.06v2.1h-1.06zM70 57h1.06v1.1h-1.06zM70 77h1.06v1.1h-1.06zM70 87h1.06v1.1h-1.06zM70 89h1.06v1.1h-1.06zM70 96h1.06v1.1h-1.06zM70 101h1.06v1.1h-1.06zM71 36h1.06v1.1h-1.06zM71 43h1.06v1.1h-1.06zM71 48h1.06v1.1h-1.06zM71 58h1.06v1.1h-1.06zM71 76h1.06v1.1h-1.06zM71 88h1.06v1.1h-1.06zM72 46h1.06v1.1h-1.06zM72 48h1.06v2.1h-1.06zM72 59h1.06v1.1h-1.06zM72 68h1.06v1.1h-1.06zM73 7h1.06v1.1h-1.06zM73 13h1.06v1.1h-1.06zM73 63h1.06v1.1h-1.06zM73 87h1.06v1.1h-1.06zM73 90h1.06v1.1h-1.06zM74 2h1.06v1.1h-1.06zM74 6h1.06v1.1h-1.06zM74 10h1.06v1.1h-1.06zM74 21h1.06v2.1h-1.06zM74 26h1.06v1.1h-1.06zM74 33h1.06v2.1h-1.06zM74 36h1.06v1.1h-1.06zM74 53h1.06v1.1h-1.06zM74 72h1.06v1.1h-1.06zM74 85h1.06v1.1h-1.06zM74 93h1.06v1.1h-1.06zM74 95h1.06v1.1h-1.06zM75 -1h1.06v2.1h-1.06zM75 19h1.06v1.1h-1.06zM75 25h1.06v1.1h-1.06zM75 28h1.06v1.1h-1.06zM75 33h1.06v2.1h-1.06zM75 55h1.06v1.1h-1.06zM75 88h1.06v2.1h-1.06zM75 103h1.06v1.1h-1.06zM76 9h1.06v1.1h-1.06zM76 23h1.06v1.1h-1.06zM76 51h1.06v1.1h-1.06zM76 72h1.06v1.1h-1.06zM76 94h1.06v1.1h-1.06zM77 7h1.06v1.1h-1.06zM77 13h1.06v1.1h-1.06zM77 22h1.06v1.1h-1.06zM77 24h1.06v1.1h-1.06zM77 37h1.06v1.1h-1.06zM77 57h1.06v1.1h-1.06zM77 59h1.06v1.1h-1.06zM77 64h1.06v1.1h-1.06zM77 66h1.06v1.1h-1.06zM77 72h1.06v1.1h-1.06zM77 74h1.06v1.1h-1.06zM77 80h1.06v1.1h-1.06zM77 99h1.06v1.1h-1.06zM77 102h1.06v1.1h-1.06zM78 16h1.06v1.1h-1.06zM78 30h1.06v1.1h-1.06zM78 42h1.06v2.1h-1.06zM78 54h1.06v1.1h-1.06zM78 83h1.06v1.1h-1.06zM79 -1h1.06v2.1h-1.06zM79 56h1.06v1.1h-1.06zM79 70h1.06v1.1h-1.06zM79 83h1.06v1.1h-1.06zM79 93h1.06v1.1h-1.06zM79 101h1.06v1.1h-1.06zM80 -1h1.06v2.1h-1.06zM80 15h1.06v1.1h-1.06zM80 37h1.06v1.1h-1.06zM80 60h1.06v1.1h-1.06zM80 62h1.06v1.1h-1.06zM80 67h1.06v1.1h-1.06zM80 79h1.06v1.1h-1.06zM80 86h1.06v1.1h-1.06zM80 89h1.06v1.1h-1.06zM80 93h1.06v1.1h-1.06zM80 103h1.06v1.1h-1.06zM80 106h1.06v1.1h-1.06zM81 2h1.06v2.1h-1.06zM81 33h1.06v1.1h-1.06zM81 42h1.06v1.1h-1.06zM81 52h1.06v1.1h-1.06zM81 67h1.06v1.1h-1.06zM81 76h1.06v1.1h-1.06zM81 80h1.06v1.1h-1.06zM81 85h1.06v2.1h-1.06zM81 96h1.06v2.1h-1.06zM81 101h1.06v1.1h-1.06zM81 105h1.06v1.1h-1.06zM82 3h1.06v1.1h-1.06zM82 78h1.06v1.1h-1.06zM83 14h1.06v1.1h-1.06zM83 37h1.06v1.1h-1.06zM83 41h1.06v1.1h-1.06zM83 44h1.06v1.1h-1.06zM83 56h1.06v1.1h-1.06zM83 59h1.06v1.1h-1.06zM83 76h1.06v1.1h-1.06zM83 82h1.06v1.1h-1.06zM83 84h1.06v1.1h-1.06zM83 107h1.06v2.1h-1.06zM84 24h1.06v1.1h-1.06zM84 48h1.06v2.1h-1.06zM85 -1h1.06v2.1h-1.06zM85 12h1.06v1.1h-1.06zM85 66h1.06v1.1h-1.06zM85 74h1.06v1.1h-1.06zM85 84h1.06v1.1h-1.06zM85 86h1.06v1.1h-1.06zM85 91h1.06v1.1h-1.06zM85 103h1.06v1.1h-1.06zM86 1h1.06v1.1h-1.06zM86 3h1.06v1.1h-1.06zM86 11h1.06v2.1h-1.06zM86 17h1.06v1.1h-1.06zM86 19h1.06v1.1h-1.06zM86 22h1.06v1.1h-1.06zM86 24h1.06v1.1h-1.06zM86 28h1.06v1.1h-1.06zM86 32h1.06v1.1h-1.06zM86 47h1.06v1.1h-1.06zM86 69h1.06v1.1h-1.06zM86 81h1.06v1.1h-1.06zM86 83h1.06v1.1h-1.06zM86 94h1.06v1.1h-1.06zM86 98h1.06v1.1h-1.06zM87 25h1.06v1.1h-1.06zM87 33h1.06v1.1h-1.06zM87 41h1.06v1.1h-1.06zM87 44h1.06v2.1h-1.06zM87 51h1.06v1.1h-1.06zM87 56h1.06v1.1h-1.06zM87 75h1.06v1.1h-1.06zM87 82h1.06v1.1h-1.06zM87 93h1.06v1.1h-1.06zM87 95h1.06v1.1h-1.06zM87 98h1.06v1.1h-1.06zM88 106h1.06v1.1h-1.06zM89 11h1.06v1.1h-1.06zM89 36h1.06v2.1h-1.06zM89 45h1.06v1.1h-1.06zM89 52h1.06v1.1h-1.06zM89 65h1.06v1.1h-1.06zM89 79h1.06v1.1h-1.06zM89 87h1.06v1.1h-1.06zM89 90h1.06v1.1h-1.06zM89 107h1.06v2.1h-1.06zM90 9h1.06v1.1h-1.06zM90 29h1.06v1.1h-1.06zM90 53h1.06v1.1h-1.06zM90 56h1.06v1.1h-1.06zM90 58h1.06v1.1h-1.06zM90 65h1.06v1.1h-1.06zM90 70h1.06v1.1h-1.06zM90 72h1.06v1.1h-1.06zM90 89h1.06v1.1h-1.06zM90 106h1.06v1.1h-1.06zM91 -1h1.06v2.1h-1.06zM91 40h1.06v1.1h-1.06zM91 46h1.06v1.1h-1.06zM91 54h1.06v1.1h-1.06zM91 58h1.06v1.1h-1.06zM91 62h1.06v1.1h-1.06zM91 84h1.06v1.1h-1.06zM91 91h1.06v1.1h-1.06zM91 96h1.06v1.1h-1.06zM91 99h1.06v1.1h-1.06zM91 105h1.06v1.1h-1.06zM92 32h1.06v1.1h-1.06zM92 42h1.06v1.1h-1.06zM92 55h1.06v1.1h-1.06zM92 57h1.06v1.1h-1.06zM92 60h1.06v1.1h-1.06zM92 70h1.06v1.1h-1.06zM92 94h1.06v1.1h-1.06zM93 1h1.06v1.1h-1.06zM93 6h1.06v1.1h-1.06zM93 14h1.06v1.1h-1.06zM93 17h1.06v1.1h-1.06zM93 25h1.06v1.1h-1.06zM93 29h1.06v1.1h-1.06zM93 45h1.06v1.1h-1.06zM93 65h1.06v1.1h-1.06zM93 95h1.06v1.1h-1.06zM93 102h1.06v1.1h-1.06zM94 31h1.06v1.1h-1.06zM94 33h1.06v1.1h-1.06zM94 69h1.06v1.1h-1.06zM94 106h1.06v1.1h-1.06zM95 1h1.06v1.1h-1.06zM95 6h1.06v1.1h-1.06zM95 15h1.06v1.1h-1.06zM95 18h1.06v1.1h-1.06zM95 24h1.06v1.1h-1.06zM95 29h1.06v1.1h-1.06zM95 52h1.06v2.1h-1.06zM95 65h1.06v1.1h-1.06zM95 67h1.06v1.1h-1.06zM95 81h1.06v1.1h-1.06zM95 89h1.06v1.1h-1.06zM96 17h1.06v1.1h-1.06zM96 30h1.06v1.1h-1.06zM96 35h1.06v1.1h-1.06zM96 55h1.06v1.1h-1.06zM96 57h1.06v1.1h-1.06zM96 68h1.06v1.1h-1.06zM96 73h1.06v1.1h-1.06zM96 78h1.06v1.1h-1.06zM97 4h1.06v1.1h-1.06zM97 28h1.06v1.1h-1.06zM97 36h1.06v1.1h-1.06zM97 40h1.06v1.1h-1.06zM97 49h1.06v1.1h-1.06zM97 53h1.06v1.1h-1.06zM97 68h1.06v1.1h-1.06zM97 70h1.06v1.1h-1.06zM97 72h1.06v1.1h-1.06zM97 77h1.06v1.1h-1.06zM97 86h1.06v1.1h-1.06zM97 93h1.06v1.1h-1.06zM97 106h1.06v1.1h-1.06zM98 12h1.06v1.1h-1.06zM98 40h1.06v1.1h-1.06zM98 43h1.06v1.1h-1.06zM98 47h1.06v1.1h-1.06zM98 100h1.06v1.1h-1.06zM99 15h1.06v1.1h-1.06zM99 20h1.06v1.1h-1.06zM99 23h1.06v1.1h-1.06zM99 29h1.06v1.1h-1.06zM99 40h1.06v1.1h-1.06zM99 42h1.06v1.1h-1.06zM99 46h1.06v1.1h-1.06zM99 50h1.06v2.1h-1.06zM99 54h1.06v1.1h-1.06zM99 57h1.06v1.1h-1.06zM99 64h1.06v2.1h-1.06zM99 75h1.06v1.1h-1.06zM99 81h1.06v1.1h-1.06zM99 96h1.06v2.1h-1.06zM99 107h1.06v2.1h-1.06zM100 6h1.06v1.1h-1.06zM100 15h1.06v1.1h-1.06zM100 27h1.06v1.1h-1.06zM100 40h1.06v1.1h-1.06zM100 47h1.06v1.1h-1.06zM100 49h1.06v1.1h-1.06zM100 51h1.06v1.1h-1.06zM100 56h1.06v1.1h-1.06zM100 73h1.06v1.1h-1.06zM100 82h1.06v1.1h-1.06zM100 84h1.06v1.1h-1.06zM100 90h1.06v1.1h-1.06zM100 103h1.06v1.1h-1.06zM101 6h1.06v1.1h-1.06zM101 15h1.06v1.1h-1.06zM101 27h1.06v1.1h-1.06zM101 40h1.06v1.1h-1.06zM101 47h1.06v1.1h-1.06zM101 49h1.06v1.1h-1.06zM101 51h1.06v1.1h-1.06zM101 56h1.06v1.1h-1.06zM101 73h1.06v1.1h-1.06zM101 82h1.06v1.1h-1.06zM101 84h1.06v1.1h-1.06zM101 90h1.06v1.1h-1.06zM101 103h1.06v1.1h-1.06z"/><path fill="#f6e8e9" d="M-1 12h1.06v1.1h-1.06zM-1 18h1.06v1.1h-1.06zM-1 38h1.06v1.1h-1.06zM-1 44h1.06v1.1h-1.06zM-1 50h1.06v1.1h-1.06zM-1 53h1.06v1.1h-1.06zM-1 76h1.06v1.1h-1.06zM-1 100h1.06v1.1h-1.06zM0 12h1.06v1.1h-1.06zM0 18h1.06v1.1h-1.06zM0 38h1.06v1.1h-1.06zM0 44h1.06v1.1h-1.06zM0 50h1.06v1.1h-1.06zM0 53h1.06v1.1h-1.06zM0 76h1.06v1.1h-1.06zM0 100h1.06v1.1h-1.06zM1 1h1.06v1.1h-1.06zM1 54h1.06v1.1h-1.06zM1 65h1.06v1.1h-1.06zM1 67h1.06v1.1h-1.06zM1 75h1.06v1.1h-1.06zM1 83h1.06v1.1h-1.06zM1 99h1.06v1.1h-1.06zM1 102h1.06v1.1h-1.06zM2 43h1.06v1.1h-1.06zM3 4h1.06v1.1h-1.06zM3 7h1.06v1.1h-1.06zM3 15h1.06v1.1h-1.06zM3 17h1.06v1.1h-1.06zM3 22h1.06v2.1h-1.06zM3 29h1.06v3.1h-1.06zM3 38h1.06v1.1h-1.06zM3 50h1.06v1.1h-1.06zM3 52h1.06v1.1h-1.06zM3 66h1.06v1.1h-1.06zM3 76h1.06v1.1h-1.06zM3 90h1.06v3.1h-1.06zM3 95h1.06v1.1h-1.06zM4 17h1.06v1.1h-1.06zM4 30h1.06v2.1h-1.06zM4 33h1.06v1.1h-1.06zM4 37h1.06v2.1h-1.06zM4 47h1.06v1.1h-1.06zM4 93h1.06v1.1h-1.06zM4 104h1.06v1.1h-1.06zM5 3h1.06v1.1h-1.06zM5 10h1.06v1.1h-1.06zM5 31h1.06v1.1h-1.06zM5 33h1.06v1.1h-1.06zM5 43h1.06v1.1h-1.06zM5 49h1.06v1.1h-1.06zM5 52h1.06v1.1h-1.06zM5 62h1.06v1.1h-1.06zM5 75h1.06v1.1h-1.06zM5 106h1.06v3.1h-1.06zM6 2h1.06v2.1h-1.06zM6 11h1.06v1.1h-1.06zM6 15h1.06v1.1h-1.06zM6 20h1.06v1.1h-1.06zM6 44h1.06v1.1h-1.06zM6 99h1.06v1.1h-1.06zM6 102h1.06v1.1h-1.06zM7 10h1.06v1.1h-1.06zM7 21h1.06v2.1h-1.06zM7 30h1.06v1.1h-1.06zM7 41h1.06v1.1h-1.06zM7 45h1.06v1.1h-1.06zM7 50h1.06v1.1h-1.06zM7 57h1.06v1.1h-1.06zM7 93h1.06v1.1h-1.06zM7 103h1.06v1.1h-1.06zM8 5h1.06v1.1h-1.06zM8 20h1.06v1.1h-1.06zM8 41h1.06v1.1h-1.06zM8 45h1.06v1.1h-1.06zM10 17h1.06v1.1h-1.06zM10 25h1.06v2.1h-1.06zM10 31h1.06v1.1h-1.06zM10 33h1.06v1.1h-1.06zM10 42h1.06v1.1h-1.06zM10 46h1.06v1.1h-1.06zM10 54h1.06v1.1h-1.06zM10 56h1.06v2.1h-1.06zM10 67h1.06v1.1h-1.06zM10 75h1.06v1.1h-1.06zM10 79h1.06v1.1h-1.06zM10 99h1.06v1.1h-1.06zM10 104h1.06v1.1h-1.06zM11 23h1.06v1.1h-1.06zM11 26h1.06v1.1h-1.06zM11 59h1.06v1.1h-1.06zM11 68h1.06v1.1h-1.06zM11 81h1.06v2.1h-1.06zM11 104h1.06v1.1h-1.06zM12 -1h1.06v2.1h-1.06zM12 20h1.06v1.1h-1.06zM12 55h1.06v1.1h-1.06zM12 69h1.06v1.1h-1.06zM12 75h1.06v1.1h-1.06zM12 81h1.06v1.1h-1.06zM12 88h1.06v1.1h-1.06zM12 90h1.06v1.1h-1.06zM12 95h1.06v1.1h-1.06zM12 99h1.06v1.1h-1.06zM12 104h1.06v1.1h-1.06zM13 3h1.06v1.1h-1.06zM13 6h1.06v2.1h-1.06zM13 18h1.06v1.1h-1.06zM13 20h1.06v1.1h-1.06zM13 23h1.06v1.1h-1.06zM13 30h1.06v1.1h-1.06zM14 57h1.06v1.1h-1.06zM14 64h1.06v1.1h-1.06zM14 80h1.06v1.1h-1.06zM14 95h1.06v1.1h-1.06zM15 16h1.06v1.1h-1.06zM15 23h1.06v1.1h-1.06zM15 38h1.06v1.1h-1.06zM15 45h1.06v1.1h-1.06zM15 50h1.06v1.1h-1.06zM15 59h1.06v1.1h-1.06zM15 64h1.06v1.1h-1.06zM15 83h1.06v1.1h-1.06zM15 86h1.06v1.1h-1.06zM16 -1h1.06v2.1h-1.06zM16 64h1.06v1.1h-1.06zM16 74h1.06v1.1h-1.06zM16 96h1.06v1.1h-1.06zM17 7h1.06v1.1h-1.06zM17 23h1.06v1.1h-1.06zM17 55h1.06v1.1h-1.06zM17 70h1.06v1.1h-1.06zM17 99h1.06v1.1h-1.06zM17 107h1.06v2.1h-1.06zM18 23h1.06v1.1h-1.06zM18 26h1.06v1.1h-1.06zM18 28h1.06v1.1h-1.06zM18 31h1.06v1.1h-1.06zM18 41h1.06v1.1h-1.06zM18 60h1.06v1.1h-1.06zM18 70h1.06v1.1h-1.06zM18 75h1.06v2.1h-1.06zM18 83h1.06v1.1h-1.06zM18 95h1.06v1.1h-1.06zM18 107h1.06v2.1h-1.06zM19 99h1.06v1.1h-1.06zM20 34h1.06v1.1h-1.06zM20 60h1.06v1.1h-1.06zM21 14h1.06v1.1h-1.06zM21 23h1.06v1.1h-1.06zM21 25h1.06v1.1h-1.06zM21 38h1.06v1.1h-1.06zM21 48h1.06v1.1h-1.06zM21 83h1.06v2.1h-1.06zM21 97h1.06v2.1h-1.06zM21 103h1.06v1.1h-1.06zM22 17h1.06v1.1h-1.06zM22 41h1.06v1.1h-1.06zM22 44h1.06v1.1h-1.06zM22 55h1.06v1.1h-1.06zM22 59h1.06v1.1h-1.06zM22 61h1.06v1.1h-1.06zM22 75h1.06v1.1h-1.06zM22 103h1.06v1.1h-1.06zM23 -1h1.06v2.1h-1.06zM23 5h1.06v1.1h-1.06zM23 10h1.06v1.1h-1.06zM23 21h1.06v1.1h-1.06zM23 23h1.06v1.1h-1.06zM23 38h1.06v1.1h-1.06zM23 43h1.06v1.1h-1.06zM23 51h1.06v1.1h-1.06zM23 60h1.06v1.1h-1.06zM23 63h1.06v1.1h-1.06zM23 68h1.06v1.1h-1.06zM23 89h1.06v1.1h-1.06zM24 15h1.06v1.1h-1.06zM24 32h1.06v1.1h-1.06zM24 51h1.06v1.1h-1.06zM24 57h1.06v1.1h-1.06zM24 61h1.06v1.1h-1.06zM24 68h1.06v1.1h-1.06zM24 70h1.06v1.1h-1.06zM24 101h1.06v1.1h-1.06zM24 105h1.06v1.1h-1.06zM25 6h1.06v1.1h-1.06zM25 14h1.06v1.1h-1.06zM25 17h1.06v1.1h-1.06zM25 22h1.06v1.1h-1.06zM25 34h1.06v1.1h-1.06zM25 50h1.06v2.1h-1.06zM25 56h1.06v2.1h-1.06zM25 66h1.06v1.1h-1.06zM25 68h1.06v1.1h-1.06zM25 105h1.06v1.1h-1.06zM26 2h1.06v1.1h-1.06zM27 18h1.06v1.1h-1.06zM27 26h1.06v1.1h-1.06zM27 31h1.06v1.1h-1.06zM27 45h1.06v1.1h-1.06zM27 54h1.06v1.1h-1.06zM27 56h1.06v1.1h-1.06zM27 71h1.06v1.1h-1.06zM27 92h1.06v1.1h-1.06zM28 27h1.06v1.1h-1.06zM28 44h1.06v1.1h-1.06zM28 48h1.06v1.1h-1.06zM28 51h1.06v1.1h-1.06zM28 55h1.06v1.1h-1.06zM28 57h1.06v1.1h-1.06zM28 66h1.06v1.1h-1.06zM28 71h1.06v1.1h-1.06zM28 73h1.06v2.1h-1.06zM28 105h1.06v1.1h-1.06zM29 12h1.06v1.1h-1.06zM29 83h1.06v1.1h-1.06zM29 105h1.06v1.1h-1.06zM30 22h1.06v1.1h-1.06zM30 24h1.06v1.1h-1.06zM31 16h1.06v1.1h-1.06zM31 23h1.06v1.1h-1.06zM31 27h1.06v1.1h-1.06zM31 31h1.06v1.1h-1.06zM31 68h1.06v1.1h-1.06zM31 74h1.06v1.1h-1.06zM31 81h1.06v1.1h-1.06zM31 105h1.06v1.1h-1.06zM31 107h1.06v2.1h-1.06zM32 -1h1.06v2.1h-1.06zM32 99h1.06v1.1h-1.06zM33 -1h1.06v3.1h-1.06zM33 7h1.06v1.1h-1.06zM33 23h1.06v1.1h-1.06zM33 49h1.06v1.1h-1.06zM33 64h1.06v1.1h-1.06zM33 74h1.06v1.1h-1.06zM33 80h1.06v1.1h-1.06zM33 95h1.06v1.1h-1.06zM33 101h1.06v1.1h-1.06zM34 7h1.06v1.1h-1.06zM34 20h1.06v2.1h-1.06zM34 40h1.06v1.1h-1.06zM34 44h1.06v1.1h-1.06zM34 46h1.06v1.1h-1.06zM34 55h1.06v1.1h-1.06zM34 57h1.06v1.1h-1.06zM34 60h1.06v1.1h-1.06zM34 64h1.06v1.1h-1.06zM34 76h1.06v1.1h-1.06zM34 80h1.06v1.1h-1.06zM34 98h1.06v1.1h-1.06zM35 15h1.06v1.1h-1.06zM35 23h1.06v1.1h-1.06zM35 45h1.06v1.1h-1.06zM35 47h1.06v1.1h-1.06zM35 56h1.06v1.1h-1.06zM35 59h1.06v1.1h-1.06zM35 67h1.06v1.1h-1.06zM35 70h1.06v1.1h-1.06zM35 76h1.06v1.1h-1.06zM35 84h1.06v1.1h-1.06zM35 103h1.06v1.1h-1.06zM35 106h1.06v3.1h-1.06zM36 18h1.06v1.1h-1.06zM36 21h1.06v1.1h-1.06zM36 23h1.06v1.1h-1.06zM36 72h1.06v1.1h-1.06zM36 74h1.06v1.1h-1.06zM37 2h1.06v1.1h-1.06zM37 26h1.06v1.1h-1.06zM37 54h1.06v1.1h-1.06zM37 62h1.06v1.1h-1.06zM37 73h1.06v2.1h-1.06zM37 93h1.06v1.1h-1.06zM37 101h1.06v1.1h-1.06zM38 5h1.06v1.1h-1.06zM38 65h1.06v1.1h-1.06zM38 67h1.06v1.1h-1.06zM38 79h1.06v1.1h-1.06zM38 95h1.06v2.1h-1.06zM38 103h1.06v1.1h-1.06zM39 -1h1.06v2.1h-1.06zM39 2h1.06v1.1h-1.06zM39 22h1.06v2.1h-1.06zM39 26h1.06v1.1h-1.06zM39 42h1.06v1.1h-1.06zM39 75h1.06v1.1h-1.06zM39 92h1.06v1.1h-1.06zM41 24h1.06v2.1h-1.06zM41 41h1.06v1.1h-1.06zM41 46h1.06v1.1h-1.06zM41 49h1.06v1.1h-1.06zM41 64h1.06v2.1h-1.06zM41 69h1.06v1.1h-1.06zM41 72h1.06v1.1h-1.06zM41 75h1.06v1.1h-1.06zM41 87h1.06v1.1h-1.06zM41 92h1.06v1.1h-1.06zM41 101h1.06v1.1h-1.06zM42 28h1.06v1.1h-1.06zM42 44h1.06v1.1h-1.06zM42 54h1.06v1.1h-1.06zM42 70h1.06v1.1h-1.06zM42 73h1.06v1.1h-1.06zM42 77h1.06v1.1h-1.06zM42 80h1.06v1.1h-1.06zM42 95h1.06v1.1h-1.06zM42 105h1.06v1.1h-1.06zM42 107h1.06v2.1h-1.06zM43 1h1.06v1.1h-1.06zM43 20h1.06v4.1h-1.06zM43 30h1.06v1.1h-1.06zM43 40h1.06v1.1h-1.06zM43 71h1.06v1.1h-1.06zM43 107h1.06v2.1h-1.06zM44 48h1.06v1.1h-1.06zM44 55h1.06v1.1h-1.06zM44 92h1.06v2.1h-1.06zM45 23h1.06v1.1h-1.06zM45 64h1.06v1.1h-1.06zM45 70h1.06v1.1h-1.06zM45 92h1.06v1.1h-1.06zM46 16h1.06v1.1h-1.06zM46 24h1.06v1.1h-1.06zM46 59h1.06v1.1h-1.06zM46 70h1.06v2.1h-1.06zM46 76h1.06v1.1h-1.06zM46 82h1.06v1.1h-1.06zM46 99h1.06v1.1h-1.06zM46 101h1.06v1.1h-1.06zM46 105h1.06v1.1h-1.06zM47 9h1.06v1.1h-1.06zM47 16h1.06v1.1h-1.06zM47 18h1.06v1.1h-1.06zM47 25h1.06v2.1h-1.06zM47 38h1.06v2.1h-1.06zM47 42h1.06v2.1h-1.06zM47 59h1.06v1.1h-1.06zM47 70h1.06v1.1h-1.06zM47 92h1.06v1.1h-1.06zM49 72h1.06v1.1h-1.06zM50 33h1.06v1.1h-1.06zM50 99h1.06v1.1h-1.06zM51 49h1.06v1.1h-1.06zM51 82h1.06v1.1h-1.06zM51 97h1.06v1.1h-1.06zM52 1h1.06v1.1h-1.06zM52 31h1.06v1.1h-1.06zM52 68h1.06v1.1h-1.06zM52 95h1.06v1.1h-1.06zM52 102h1.06v1.1h-1.06zM52 105h1.06v1.1h-1.06zM53 2h1.06v1.1h-1.06zM53 7h1.06v1.1h-1.06zM53 19h1.06v1.1h-1.06zM53 43h1.06v1.1h-1.06zM53 49h1.06v1.1h-1.06zM53 52h1.06v1.1h-1.06zM53 61h1.06v1.1h-1.06zM53 71h1.06v1.1h-1.06zM53 88h1.06v1.1h-1.06zM53 98h1.06v1.1h-1.06zM54 2h1.06v1.1h-1.06zM54 6h1.06v1.1h-1.06zM54 21h1.06v1.1h-1.06zM54 25h1.06v1.1h-1.06zM54 37h1.06v1.1h-1.06zM54 42h1.06v1.1h-1.06zM54 61h1.06v1.1h-1.06zM54 66h1.06v1.1h-1.06zM54 77h1.06v1.1h-1.06zM54 92h1.06v2.1h-1.06zM54 99h1.06v1.1h-1.06zM55 17h1.06v1.1h-1.06zM55 94h1.06v2.1h-1.06zM57 9h1.06v1.1h-1.06zM57 18h1.06v1.1h-1.06zM57 35h1.06v1.1h-1.06zM57 39h1.06v1.1h-1.06zM57 52h1.06v1.1h-1.06zM57 62h1.06v1.1h-1.06zM57 64h1.06v1.1h-1.06zM57 71h1.06v1.1h-1.06zM58 -1h1.06v2.1h-1.06zM58 33h1.06v1.1h-1.06zM59 5h1.06v2.1h-1.06zM59 9h1.06v1.1h-1.06zM59 11h1.06v1.1h-1.06zM59 17h1.06v1.1h-1.06zM59 22h1.06v1.1h-1.06zM59 52h1.06v1.1h-1.06zM59 58h1.06v1.1h-1.06zM59 77h1.06v1.1h-1.06zM59 93h1.06v1.1h-1.06zM59 100h1.06v1.1h-1.06zM60 7h1.06v1.1h-1.06zM60 28h1.06v1.1h-1.06zM60 31h1.06v1.1h-1.06zM60 48h1.06v1.1h-1.06zM60 76h1.06v2.1h-1.06zM60 84h1.06v1.1h-1.06zM60 90h1.06v1.1h-1.06zM60 95h1.06v1.1h-1.06zM60 100h1.06v1.1h-1.06zM60 105h1.06v1.1h-1.06zM61 7h1.06v1.1h-1.06zM61 38h1.06v2.1h-1.06zM61 46h1.06v1.1h-1.06zM61 63h1.06v1.1h-1.06zM61 78h1.06v1.1h-1.06zM62 1h1.06v1.1h-1.06zM62 3h1.06v1.1h-1.06zM62 37h1.06v1.1h-1.06zM62 41h1.06v1.1h-1.06zM62 53h1.06v1.1h-1.06zM62 56h1.06v1.1h-1.06zM62 58h1.06v1.1h-1.06zM62 86h1.06v1.1h-1.06zM62 95h1.06v1.1h-1.06zM62 99h1.06v1.1h-1.06zM62 107h1.06v2.1h-1.06zM63 4h1.06v1.1h-1.06zM63 16h1.06v1.1h-1.06zM63 20h1.06v1.1h-1.06zM63 22h1.06v1.1h-1.06zM63 27h1.06v1.1h-1.06zM63 40h1.06v1.1h-1.06zM63 42h1.06v1.1h-1.06zM63 47h1.06v1.1h-1.06zM63 56h1.06v1.1h-1.06zM63 68h1.06v1.1h-1.06zM63 74h1.06v1.1h-1.06zM63 77h1.06v1.1h-1.06zM63 83h1.06v1.1h-1.06zM63 91h1.06v1.1h-1.06zM63 97h1.06v1.1h-1.06zM63 101h1.06v1.1h-1.06zM64 55h1.06v1.1h-1.06zM64 59h1.06v1.1h-1.06zM64 76h1.06v1.1h-1.06zM64 88h1.06v1.1h-1.06zM64 106h1.06v1.1h-1.06zM65 5h1.06v1.1h-1.06zM65 8h1.06v1.1h-1.06zM65 16h1.06v1.1h-1.06zM65 21h1.06v1.1h-1.06zM65 24h1.06v1.1h-1.06zM65 30h1.06v1.1h-1.06zM65 39h1.06v1.1h-1.06zM65 60h1.06v1.1h-1.06zM65 65h1.06v1.1h-1.06zM65 72h1.06v1.1h-1.06zM65 74h1.06v2.1h-1.06zM65 85h1.06v1.1h-1.06zM65 87h1.06v1.1h-1.06zM65 91h1.06v1.1h-1.06zM65 94h1.06v1.1h-1.06zM65 100h1.06v1.1h-1.06zM65 106h1.06v1.1h-1.06zM66 54h1.06v1.1h-1.06zM66 62h1.06v1.1h-1.06zM66 70h1.06v1.1h-1.06zM66 102h1.06v2.1h-1.06zM67 10h1.06v1.1h-1.06zM67 14h1.06v1.1h-1.06zM67 22h1.06v1.1h-1.06zM67 30h1.06v2.1h-1.06zM67 61h1.06v1.1h-1.06zM67 76h1.06v1.1h-1.06zM67 89h1.06v1.1h-1.06zM67 107h1.06v2.1h-1.06zM68 2h1.06v1.1h-1.06zM68 29h1.06v1.1h-1.06zM68 34h1.06v1.1h-1.06zM69 15h1.06v1.1h-1.06zM69 38h1.06v1.1h-1.06zM69 51h1.06v1.1h-1.06zM69 57h1.06v1.1h-1.06zM69 86h1.06v1.1h-1.06zM69 97h1.06v1.1h-1.06zM70 -1h1.06v2.1h-1.06zM70 13h1.06v1.1h-1.06zM70 37h1.06v1.1h-1.06zM70 43h1.06v1.1h-1.06zM70 64h1.06v1.1h-1.06zM70 73h1.06v2.1h-1.06zM70 80h1.06v1.1h-1.06zM70 93h1.06v2.1h-1.06zM70 105h1.06v2.1h-1.06zM71 21h1.06v1.1h-1.06zM71 35h1.06v1.1h-1.06zM71 54h1.06v1.1h-1.06zM71 71h1.06v1.1h-1.06zM71 105h1.06v1.1h-1.06zM72 1h1.06v1.1h-1.06zM72 12h1.06v1.1h-1.06zM72 36h1.06v1.1h-1.06zM72 41h1.06v1.1h-1.06zM72 43h1.06v1.1h-1.06zM72 62h1.06v2.1h-1.06zM72 67h1.06v1.1h-1.06zM72 74h1.06v1.1h-1.06zM72 87h1.06v1.1h-1.06zM72 89h1.06v1.1h-1.06zM72 105h1.06v1.1h-1.06zM73 3h1.06v1.1h-1.06zM73 40h1.06v1.1h-1.06zM73 97h1.06v1.1h-1.06zM73 105h1.06v1.1h-1.06zM74 -1h1.06v2.1h-1.06zM74 11h1.06v1.1h-1.06zM74 15h1.06v1.1h-1.06zM74 42h1.06v1.1h-1.06zM74 75h1.06v2.1h-1.06zM74 101h1.06v2.1h-1.06zM75 8h1.06v1.1h-1.06zM75 20h1.06v1.1h-1.06zM75 27h1.06v1.1h-1.06zM75 32h1.06v1.1h-1.06zM75 47h1.06v1.1h-1.06zM75 51h1.06v2.1h-1.06zM75 66h1.06v1.1h-1.06zM75 96h1.06v1.1h-1.06zM75 102h1.06v1.1h-1.06zM76 15h1.06v1.1h-1.06zM76 17h1.06v1.1h-1.06zM76 38h1.06v1.1h-1.06zM76 44h1.06v1.1h-1.06zM76 49h1.06v1.1h-1.06zM76 62h1.06v1.1h-1.06zM76 81h1.06v1.1h-1.06zM76 92h1.06v1.1h-1.06zM76 101h1.06v1.1h-1.06zM76 107h1.06v2.1h-1.06zM77 6h1.06v1.1h-1.06zM77 16h1.06v1.1h-1.06zM77 20h1.06v1.1h-1.06zM77 41h1.06v1.1h-1.06zM77 45h1.06v1.1h-1.06zM77 84h1.06v1.1h-1.06zM77 103h1.06v1.1h-1.06zM78 19h1.06v1.1h-1.06zM78 27h1.06v1.1h-1.06zM78 34h1.06v1.1h-1.06zM78 44h1.06v1.1h-1.06zM78 74h1.06v1.1h-1.06zM78 87h1.06v1.1h-1.06zM78 94h1.06v1.1h-1.06zM78 101h1.06v1.1h-1.06zM79 6h1.06v1.1h-1.06zM79 14h1.06v1.1h-1.06zM79 85h1.06v1.1h-1.06zM79 87h1.06v1.1h-1.06zM80 13h1.06v1.1h-1.06zM80 16h1.06v1.1h-1.06zM80 31h1.06v1.1h-1.06zM80 38h1.06v1.1h-1.06zM80 61h1.06v1.1h-1.06zM80 73h1.06v1.1h-1.06zM80 81h1.06v1.1h-1.06zM80 85h1.06v1.1h-1.06zM80 96h1.06v1.1h-1.06zM80 99h1.06v1.1h-1.06zM80 105h1.06v1.1h-1.06zM81 6h1.06v1.1h-1.06zM81 49h1.06v1.1h-1.06zM81 72h1.06v2.1h-1.06zM81 92h1.06v1.1h-1.06zM81 102h1.06v1.1h-1.06zM82 88h1.06v1.1h-1.06zM83 8h1.06v1.1h-1.06zM83 47h1.06v1.1h-1.06zM83 49h1.06v1.1h-1.06zM83 52h1.06v1.1h-1.06zM83 67h1.06v1.1h-1.06zM83 85h1.06v1.1h-1.06zM83 87h1.06v1.1h-1.06zM83 102h1.06v1.1h-1.06zM83 106h1.06v1.1h-1.06zM84 1h1.06v1.1h-1.06zM84 15h1.06v1.1h-1.06zM84 17h1.06v1.1h-1.06zM84 26h1.06v2.1h-1.06zM84 34h1.06v1.1h-1.06zM84 42h1.06v1.1h-1.06zM85 56h1.06v1.1h-1.06zM85 69h1.06v2.1h-1.06zM85 73h1.06v1.1h-1.06zM85 75h1.06v1.1h-1.06zM85 80h1.06v1.1h-1.06zM85 93h1.06v1.1h-1.06zM85 100h1.06v1.1h-1.06zM86 38h1.06v2.1h-1.06zM86 56h1.06v1.1h-1.06zM86 62h1.06v2.1h-1.06zM86 73h1.06v1.1h-1.06zM86 78h1.06v1.1h-1.06zM86 88h1.06v1.1h-1.06zM86 95h1.06v1.1h-1.06zM86 100h1.06v1.1h-1.06zM86 105h1.06v1.1h-1.06zM87 3h1.06v1.1h-1.06zM87 24h1.06v1.1h-1.06zM87 36h1.06v1.1h-1.06zM87 38h1.06v1.1h-1.06zM87 52h1.06v1.1h-1.06zM87 61h1.06v1.1h-1.06zM87 68h1.06v1.1h-1.06zM87 70h1.06v1.1h-1.06zM87 88h1.06v1.1h-1.06zM87 92h1.06v1.1h-1.06zM88 9h1.06v1.1h-1.06zM88 11h1.06v1.1h-1.06zM88 36h1.06v1.1h-1.06zM88 81h1.06v1.1h-1.06zM88 84h1.06v1.1h-1.06zM88 86h1.06v1.1h-1.06zM88 97h1.06v1.1h-1.06zM88 107h1.06v2.1h-1.06zM89 7h1.06v1.1h-1.06zM89 10h1.06v1.1h-1.06zM89 15h1.06v1.1h-1.06zM89 26h1.06v1.1h-1.06zM89 34h1.06v1.1h-1.06zM89 42h1.06v1.1h-1.06zM89 93h1.06v1.1h-1.06zM89 96h1.06v1.1h-1.06zM89 98h1.06v1.1h-1.06zM90 6h1.06v1.1h-1.06zM90 12h1.06v1.1h-1.06zM90 31h1.06v1.1h-1.06zM90 36h1.06v1.1h-1.06zM90 54h1.06v1.1h-1.06zM90 63h1.06v1.1h-1.06zM90 75h1.06v1.1h-1.06zM90 77h1.06v1.1h-1.06zM90 79h1.06v1.1h-1.06zM90 81h1.06v1.1h-1.06zM90 83h1.06v1.1h-1.06zM90 88h1.06v1.1h-1.06zM90 103h1.06v1.1h-1.06zM91 17h1.06v1.1h-1.06zM91 39h1.06v1.1h-1.06zM91 61h1.06v1.1h-1.06zM91 67h1.06v1.1h-1.06zM91 92h1.06v1.1h-1.06zM91 103h1.06v1.1h-1.06zM91 106h1.06v1.1h-1.06zM92 14h1.06v1.1h-1.06zM92 26h1.06v1.1h-1.06zM92 39h1.06v1.1h-1.06zM92 49h1.06v1.1h-1.06zM93 3h1.06v1.1h-1.06zM93 34h1.06v1.1h-1.06zM93 41h1.06v1.1h-1.06zM93 52h1.06v1.1h-1.06zM93 54h1.06v1.1h-1.06zM93 64h1.06v1.1h-1.06zM93 67h1.06v2.1h-1.06zM93 84h1.06v1.1h-1.06zM93 94h1.06v1.1h-1.06zM93 107h1.06v2.1h-1.06zM94 10h1.06v1.1h-1.06zM94 18h1.06v1.1h-1.06zM94 54h1.06v1.1h-1.06zM94 72h1.06v2.1h-1.06zM94 75h1.06v1.1h-1.06zM94 87h1.06v1.1h-1.06zM94 102h1.06v1.1h-1.06zM95 2h1.06v4.1h-1.06zM95 8h1.06v1.1h-1.06zM95 46h1.06v1.1h-1.06zM95 54h1.06v1.1h-1.06zM95 60h1.06v1.1h-1.06zM95 63h1.06v1.1h-1.06zM95 70h1.06v2.1h-1.06zM95 77h1.06v1.1h-1.06zM95 82h1.06v1.1h-1.06zM95 84h1.06v1.1h-1.06zM95 96h1.06v1.1h-1.06zM96 1h1.06v2.1h-1.06zM96 5h1.06v1.1h-1.06zM96 22h1.06v2.1h-1.06zM96 25h1.06v1.1h-1.06zM96 28h1.06v1.1h-1.06zM96 40h1.06v1.1h-1.06zM96 48h1.06v1.1h-1.06zM96 51h1.06v1.1h-1.06zM96 61h1.06v2.1h-1.06zM96 64h1.06v1.1h-1.06zM96 81h1.06v1.1h-1.06zM96 91h1.06v2.1h-1.06zM96 96h1.06v1.1h-1.06zM96 99h1.06v1.1h-1.06zM96 101h1.06v1.1h-1.06zM97 1h1.06v1.1h-1.06zM97 3h1.06v1.1h-1.06zM97 9h1.06v1.1h-1.06zM97 32h1.06v1.1h-1.06zM97 56h1.06v1.1h-1.06zM97 63h1.06v1.1h-1.06zM97 73h1.06v1.1h-1.06zM97 83h1.06v1.1h-1.06zM97 89h1.06v2.1h-1.06zM97 94h1.06v1.1h-1.06zM97 97h1.06v1.1h-1.06zM97 99h1.06v2.1h-1.06zM97 104h1.06v1.1h-1.06zM98 44h1.06v1.1h-1.06zM98 63h1.06v1.1h-1.06zM99 2h1.06v1.1h-1.06zM99 7h1.06v1.1h-1.06zM99 12h1.06v1.1h-1.06zM99 32h1.06v1.1h-1.06zM99 43h1.06v1.1h-1.06zM99 55h1.06v1.1h-1.06zM99 86h1.06v1.1h-1.06zM99 93h1.06v1.1h-1.06zM100 8h1.06v2.1h-1.06zM100 14h1.06v1.1h-1.06zM100 17h1.06v2.1h-1.06zM100 22h1.06v1.1h-1.06zM100 25h1.06v1.1h-1.06zM100 30h1.06v1.1h-1.06zM100 38h1.06v1.1h-1.06zM100 52h1.06v1.1h-1.06zM100 75h1.06v1.1h-1.06zM100 86h1.06v1.1h-1.06zM101 8h1.06v2.1h-1.06zM101 14h1.06v1.1h-1.06zM101 17h1.06v2.1h-1.06zM101 22h1.06v1.1h-1.06zM101 25h1.06v1.1h-1.06zM101 30h1.06v1.1h-1.06zM101 38h1.06v1.1h-1.06zM101 52h1.06v1.1h-1.06zM101 75h1.06v1.1h-1.06zM101 86h1.06v1.1h-1.06z"/><path fill="#f4d7d9" d="M-1 10h1.06v1.1h-1.06zM-1 19h1.06v1.1h-1.06zM-1 41h1.06v1.1h-1.06zM-1 49h1.06v1.1h-1.06zM-1 52h1.06v1.1h-1.06zM-1 65h1.06v1.1h-1.06zM-1 68h1.06v1.1h-1.06zM-1 71h1.06v1.1h-1.06zM-1 74h1.06v1.1h-1.06zM-1 87h1.06v1.1h-1.06zM-1 91h1.06v1.1h-1.06zM-1 95h1.06v1.1h-1.06zM-1 101h1.06v1.1h-1.06zM-1 103h1.06v1.1h-1.06zM0 10h1.06v1.1h-1.06zM0 19h1.06v1.1h-1.06zM0 41h1.06v1.1h-1.06zM0 49h1.06v1.1h-1.06zM0 52h1.06v1.1h-1.06zM0 65h1.06v1.1h-1.06zM0 68h1.06v1.1h-1.06zM0 71h1.06v1.1h-1.06zM0 74h1.06v1.1h-1.06zM0 87h1.06v1.1h-1.06zM0 91h1.06v1.1h-1.06zM0 95h1.06v1.1h-1.06zM0 101h1.06v1.1h-1.06zM0 103h1.06v1.1h-1.06zM1 20h1.06v1.1h-1.06zM1 50h1.06v1.1h-1.06zM1 74h1.06v1.1h-1.06zM1 78h1.06v1.1h-1.06zM1 89h1.06v1.1h-1.06zM1 94h1.06v1.1h-1.06zM1 97h1.06v1.1h-1.06zM2 40h1.06v1.1h-1.06zM3 9h1.06v1.1h-1.06zM3 19h1.06v1.1h-1.06zM3 27h1.06v1.1h-1.06zM3 40h1.06v1.1h-1.06zM3 58h1.06v1.1h-1.06zM3 62h1.06v1.1h-1.06zM3 99h1.06v1.1h-1.06zM3 103h1.06v1.1h-1.06zM3 105h1.06v1.1h-1.06zM4 8h1.06v2.1h-1.06zM4 13h1.06v3.1h-1.06zM4 18h1.06v1.1h-1.06zM4 44h1.06v1.1h-1.06zM4 67h1.06v1.1h-1.06zM4 72h1.06v1.1h-1.06zM4 107h1.06v2.1h-1.06zM5 15h1.06v1.1h-1.06zM5 30h1.06v1.1h-1.06zM5 42h1.06v1.1h-1.06zM5 54h1.06v2.1h-1.06zM5 59h1.06v1.1h-1.06zM5 73h1.06v1.1h-1.06zM5 86h1.06v1.1h-1.06zM5 90h1.06v1.1h-1.06zM5 97h1.06v1.1h-1.06zM5 104h1.06v1.1h-1.06zM6 16h1.06v1.1h-1.06zM6 26h1.06v1.1h-1.06zM6 40h1.06v3.1h-1.06zM6 49h1.06v1.1h-1.06zM6 56h1.06v1.1h-1.06zM6 62h1.06v1.1h-1.06zM6 64h1.06v2.1h-1.06zM6 73h1.06v1.1h-1.06zM6 90h1.06v2.1h-1.06zM7 9h1.06v1.1h-1.06zM7 11h1.06v1.1h-1.06zM7 55h1.06v1.1h-1.06zM7 69h1.06v1.1h-1.06zM7 71h1.06v1.1h-1.06zM7 95h1.06v1.1h-1.06zM8 6h1.06v1.1h-1.06zM8 11h1.06v2.1h-1.06zM8 19h1.06v1.1h-1.06zM9 20h1.06v1.1h-1.06zM9 33h1.06v1.1h-1.06zM9 36h1.06v1.1h-1.06zM9 55h1.06v1.1h-1.06zM9 69h1.06v1.1h-1.06zM9 72h1.06v1.1h-1.06zM9 79h1.06v2.1h-1.06zM9 87h1.06v1.1h-1.06zM9 92h1.06v2.1h-1.06zM9 96h1.06v1.1h-1.06zM9 98h1.06v1.1h-1.06zM9 106h1.06v1.1h-1.06zM10 8h1.06v2.1h-1.06zM10 13h1.06v2.1h-1.06zM10 47h1.06v1.1h-1.06zM10 60h1.06v1.1h-1.06zM10 65h1.06v1.1h-1.06zM10 68h1.06v2.1h-1.06zM10 71h1.06v1.1h-1.06zM10 90h1.06v1.1h-1.06zM10 92h1.06v1.1h-1.06zM10 95h1.06v1.1h-1.06zM10 97h1.06v1.1h-1.06zM10 103h1.06v1.1h-1.06zM11 -1h1.06v2.1h-1.06zM11 25h1.06v1.1h-1.06zM11 41h1.06v1.1h-1.06zM11 43h1.06v1.1h-1.06zM11 51h1.06v1.1h-1.06zM11 55h1.06v1.1h-1.06zM11 96h1.06v1.1h-1.06zM11 107h1.06v2.1h-1.06zM12 18h1.06v2.1h-1.06zM12 32h1.06v2.1h-1.06zM12 68h1.06v1.1h-1.06zM12 76h1.06v3.1h-1.06zM12 102h1.06v1.1h-1.06zM13 8h1.06v1.1h-1.06zM13 17h1.06v1.1h-1.06zM13 19h1.06v1.1h-1.06zM13 32h1.06v1.1h-1.06zM13 37h1.06v1.1h-1.06zM14 12h1.06v1.1h-1.06zM14 61h1.06v1.1h-1.06zM14 63h1.06v1.1h-1.06zM14 88h1.06v1.1h-1.06zM14 101h1.06v1.1h-1.06zM14 103h1.06v1.1h-1.06zM15 18h1.06v1.1h-1.06zM15 29h1.06v1.1h-1.06zM15 44h1.06v1.1h-1.06zM15 90h1.06v4.1h-1.06zM15 96h1.06v1.1h-1.06zM15 98h1.06v1.1h-1.06zM17 16h1.06v1.1h-1.06zM17 58h1.06v1.1h-1.06zM17 61h1.06v1.1h-1.06zM17 67h1.06v1.1h-1.06zM17 101h1.06v1.1h-1.06zM18 12h1.06v1.1h-1.06zM18 20h1.06v2.1h-1.06zM18 35h1.06v2.1h-1.06zM18 55h1.06v1.1h-1.06zM18 59h1.06v1.1h-1.06zM18 79h1.06v1.1h-1.06zM18 103h1.06v1.1h-1.06zM20 7h1.06v1.1h-1.06zM20 31h1.06v1.1h-1.06zM20 64h1.06v1.1h-1.06zM20 66h1.06v1.1h-1.06zM20 104h1.06v1.1h-1.06zM21 9h1.06v1.1h-1.06zM21 26h1.06v1.1h-1.06zM21 41h1.06v1.1h-1.06zM21 49h1.06v1.1h-1.06zM21 82h1.06v1.1h-1.06zM21 106h1.06v1.1h-1.06zM22 9h1.06v1.1h-1.06zM22 24h1.06v1.1h-1.06zM22 54h1.06v1.1h-1.06zM22 60h1.06v1.1h-1.06zM22 83h1.06v2.1h-1.06zM22 93h1.06v1.1h-1.06zM22 98h1.06v1.1h-1.06zM23 11h1.06v1.1h-1.06zM23 19h1.06v1.1h-1.06zM23 22h1.06v1.1h-1.06zM23 25h1.06v1.1h-1.06zM23 27h1.06v2.1h-1.06zM23 30h1.06v1.1h-1.06zM23 41h1.06v1.1h-1.06zM23 49h1.06v1.1h-1.06zM23 67h1.06v1.1h-1.06zM23 71h1.06v2.1h-1.06zM23 90h1.06v1.1h-1.06zM23 92h1.06v1.1h-1.06zM23 100h1.06v1.1h-1.06zM23 102h1.06v1.1h-1.06zM24 2h1.06v1.1h-1.06zM24 6h1.06v1.1h-1.06zM24 33h1.06v1.1h-1.06zM25 26h1.06v1.1h-1.06zM25 46h1.06v2.1h-1.06zM25 65h1.06v1.1h-1.06zM25 70h1.06v1.1h-1.06zM25 72h1.06v1.1h-1.06zM25 87h1.06v1.1h-1.06zM25 98h1.06v1.1h-1.06zM27 8h1.06v1.1h-1.06zM27 15h1.06v1.1h-1.06zM27 17h1.06v1.1h-1.06zM27 64h1.06v1.1h-1.06zM27 93h1.06v1.1h-1.06zM28 2h1.06v1.1h-1.06zM28 26h1.06v1.1h-1.06zM28 34h1.06v1.1h-1.06zM28 72h1.06v1.1h-1.06zM28 89h1.06v1.1h-1.06zM28 98h1.06v1.1h-1.06zM29 49h1.06v1.1h-1.06zM29 64h1.06v1.1h-1.06zM29 68h1.06v1.1h-1.06zM29 85h1.06v1.1h-1.06zM29 93h1.06v1.1h-1.06zM29 96h1.06v1.1h-1.06zM29 106h1.06v1.1h-1.06zM30 5h1.06v1.1h-1.06zM30 7h1.06v1.1h-1.06zM30 10h1.06v1.1h-1.06zM30 16h1.06v2.1h-1.06zM30 30h1.06v1.1h-1.06zM30 34h1.06v1.1h-1.06zM31 15h1.06v1.1h-1.06zM31 33h1.06v1.1h-1.06zM31 71h1.06v1.1h-1.06zM31 79h1.06v1.1h-1.06zM31 106h1.06v1.1h-1.06zM33 9h1.06v1.1h-1.06zM33 17h1.06v3.1h-1.06zM33 29h1.06v1.1h-1.06zM33 31h1.06v1.1h-1.06zM33 45h1.06v1.1h-1.06zM33 51h1.06v1.1h-1.06zM33 75h1.06v1.1h-1.06zM33 78h1.06v1.1h-1.06zM34 26h1.06v1.1h-1.06zM34 29h1.06v1.1h-1.06zM34 37h1.06v1.1h-1.06zM34 66h1.06v2.1h-1.06zM34 83h1.06v1.1h-1.06zM34 88h1.06v1.1h-1.06zM34 95h1.06v1.1h-1.06zM35 13h1.06v1.1h-1.06zM35 18h1.06v1.1h-1.06zM35 37h1.06v1.1h-1.06zM35 41h1.06v1.1h-1.06zM35 52h1.06v1.1h-1.06zM35 60h1.06v1.1h-1.06zM35 64h1.06v1.1h-1.06zM35 80h1.06v1.1h-1.06zM35 93h1.06v1.1h-1.06zM36 37h1.06v1.1h-1.06zM36 42h1.06v1.1h-1.06zM36 49h1.06v1.1h-1.06zM36 54h1.06v1.1h-1.06zM36 56h1.06v2.1h-1.06zM36 73h1.06v1.1h-1.06zM36 80h1.06v1.1h-1.06zM36 92h1.06v1.1h-1.06zM36 101h1.06v1.1h-1.06zM36 104h1.06v1.1h-1.06zM37 56h1.06v1.1h-1.06zM37 69h1.06v1.1h-1.06zM37 78h1.06v1.1h-1.06zM37 94h1.06v1.1h-1.06zM37 96h1.06v1.1h-1.06zM38 7h1.06v1.1h-1.06zM38 15h1.06v2.1h-1.06zM38 70h1.06v1.1h-1.06zM38 89h1.06v1.1h-1.06zM38 99h1.06v1.1h-1.06zM38 105h1.06v2.1h-1.06zM39 8h1.06v1.1h-1.06zM39 10h1.06v1.1h-1.06zM39 17h1.06v1.1h-1.06zM39 19h1.06v1.1h-1.06zM39 34h1.06v1.1h-1.06zM39 36h1.06v1.1h-1.06zM39 43h1.06v1.1h-1.06zM39 64h1.06v1.1h-1.06zM40 -1h1.06v3.1h-1.06zM40 49h1.06v1.1h-1.06zM41 14h1.06v1.1h-1.06zM41 29h1.06v1.1h-1.06zM41 40h1.06v1.1h-1.06zM41 62h1.06v1.1h-1.06zM41 70h1.06v1.1h-1.06zM41 73h1.06v1.1h-1.06zM42 31h1.06v1.1h-1.06zM42 40h1.06v1.1h-1.06zM42 56h1.06v1.1h-1.06zM42 76h1.06v1.1h-1.06zM42 83h1.06v1.1h-1.06zM42 88h1.06v1.1h-1.06zM42 92h1.06v2.1h-1.06zM42 96h1.06v1.1h-1.06zM42 99h1.06v1.1h-1.06zM42 106h1.06v1.1h-1.06zM43 10h1.06v1.1h-1.06zM43 14h1.06v1.1h-1.06zM43 17h1.06v1.1h-1.06zM43 42h1.06v1.1h-1.06zM43 57h1.06v1.1h-1.06zM43 62h1.06v1.1h-1.06zM44 56h1.06v1.1h-1.06zM44 58h1.06v1.1h-1.06zM44 82h1.06v1.1h-1.06zM45 12h1.06v1.1h-1.06zM45 22h1.06v1.1h-1.06zM45 31h1.06v1.1h-1.06zM45 46h1.06v1.1h-1.06zM45 61h1.06v1.1h-1.06zM45 75h1.06v1.1h-1.06zM45 85h1.06v1.1h-1.06zM46 30h1.06v1.1h-1.06zM46 44h1.06v1.1h-1.06zM46 46h1.06v2.1h-1.06zM46 52h1.06v1.1h-1.06zM46 57h1.06v1.1h-1.06zM46 66h1.06v1.1h-1.06zM46 90h1.06v1.1h-1.06zM46 100h1.06v1.1h-1.06zM47 34h1.06v1.1h-1.06zM47 48h1.06v1.1h-1.06zM47 51h1.06v1.1h-1.06zM47 55h1.06v1.1h-1.06zM47 61h1.06v1.1h-1.06zM47 71h1.06v1.1h-1.06zM47 75h1.06v1.1h-1.06zM47 78h1.06v1.1h-1.06zM49 79h1.06v1.1h-1.06zM50 76h1.06v1.1h-1.06zM50 78h1.06v1.1h-1.06zM51 44h1.06v1.1h-1.06zM51 70h1.06v1.1h-1.06zM51 83h1.06v1.1h-1.06zM51 101h1.06v1.1h-1.06zM52 6h1.06v1.1h-1.06zM52 26h1.06v1.1h-1.06zM52 39h1.06v1.1h-1.06zM52 57h1.06v1.1h-1.06zM52 59h1.06v1.1h-1.06zM52 98h1.06v1.1h-1.06zM53 64h1.06v1.1h-1.06zM53 66h1.06v1.1h-1.06zM53 73h1.06v1.1h-1.06zM53 99h1.06v1.1h-1.06zM53 101h1.06v1.1h-1.06zM54 10h1.06v1.1h-1.06zM54 17h1.06v1.1h-1.06zM54 26h1.06v1.1h-1.06zM54 29h1.06v1.1h-1.06zM54 45h1.06v1.1h-1.06zM54 69h1.06v1.1h-1.06zM54 84h1.06v1.1h-1.06zM54 89h1.06v1.1h-1.06zM54 102h1.06v3.1h-1.06zM54 106h1.06v1.1h-1.06zM55 7h1.06v1.1h-1.06zM55 12h1.06v1.1h-1.06zM55 14h1.06v1.1h-1.06zM55 49h1.06v1.1h-1.06zM55 62h1.06v1.1h-1.06zM55 64h1.06v1.1h-1.06zM55 70h1.06v1.1h-1.06zM55 73h1.06v1.1h-1.06zM55 81h1.06v1.1h-1.06zM55 107h1.06v2.1h-1.06zM57 -1h1.06v2.1h-1.06zM57 15h1.06v1.1h-1.06zM57 21h1.06v1.1h-1.06zM57 23h1.06v1.1h-1.06zM57 43h1.06v1.1h-1.06zM57 51h1.06v1.1h-1.06zM57 53h1.06v1.1h-1.06zM57 92h1.06v1.1h-1.06zM58 6h1.06v1.1h-1.06zM58 34h1.06v1.1h-1.06zM58 57h1.06v1.1h-1.06zM58 60h1.06v1.1h-1.06zM58 66h1.06v1.1h-1.06zM58 78h1.06v1.1h-1.06zM59 -1h1.06v2.1h-1.06zM59 3h1.06v1.1h-1.06zM59 13h1.06v1.1h-1.06zM59 33h1.06v1.1h-1.06zM59 44h1.06v1.1h-1.06zM59 54h1.06v1.1h-1.06zM59 79h1.06v1.1h-1.06zM59 92h1.06v1.1h-1.06zM59 95h1.06v1.1h-1.06zM59 104h1.06v1.1h-1.06zM60 22h1.06v1.1h-1.06zM60 37h1.06v1.1h-1.06zM60 68h1.06v1.1h-1.06zM60 80h1.06v1.1h-1.06zM60 82h1.06v1.1h-1.06zM60 88h1.06v1.1h-1.06zM60 91h1.06v1.1h-1.06zM60 93h1.06v1.1h-1.06zM60 107h1.06v2.1h-1.06zM61 2h1.06v1.1h-1.06zM61 10h1.06v1.1h-1.06zM61 14h1.06v1.1h-1.06zM61 56h1.06v1.1h-1.06zM61 71h1.06v1.1h-1.06zM61 74h1.06v2.1h-1.06zM61 80h1.06v1.1h-1.06zM62 6h1.06v1.1h-1.06zM62 11h1.06v2.1h-1.06zM62 14h1.06v1.1h-1.06zM62 21h1.06v1.1h-1.06zM62 23h1.06v1.1h-1.06zM62 48h1.06v1.1h-1.06zM62 51h1.06v2.1h-1.06zM62 62h1.06v1.1h-1.06zM62 65h1.06v1.1h-1.06zM62 76h1.06v1.1h-1.06zM62 82h1.06v1.1h-1.06zM62 102h1.06v1.1h-1.06zM63 3h1.06v1.1h-1.06zM63 19h1.06v1.1h-1.06zM63 23h1.06v1.1h-1.06zM63 73h1.06v1.1h-1.06zM64 9h1.06v1.1h-1.06zM64 37h1.06v1.1h-1.06zM64 54h1.06v1.1h-1.06zM64 62h1.06v1.1h-1.06zM64 66h1.06v1.1h-1.06zM64 73h1.06v1.1h-1.06zM64 79h1.06v1.1h-1.06zM64 83h1.06v1.1h-1.06zM64 85h1.06v1.1h-1.06zM64 105h1.06v1.1h-1.06zM65 7h1.06v1.1h-1.06zM65 14h1.06v1.1h-1.06zM65 32h1.06v1.1h-1.06zM65 45h1.06v1.1h-1.06zM65 101h1.06v1.1h-1.06zM65 107h1.06v2.1h-1.06zM66 48h1.06v1.1h-1.06zM66 56h1.06v1.1h-1.06zM66 64h1.06v2.1h-1.06zM66 69h1.06v1.1h-1.06zM66 72h1.06v1.1h-1.06zM66 77h1.06v2.1h-1.06zM66 85h1.06v1.1h-1.06zM66 91h1.06v1.1h-1.06zM67 8h1.06v1.1h-1.06zM67 33h1.06v1.1h-1.06zM67 56h1.06v1.1h-1.06zM67 80h1.06v1.1h-1.06zM67 100h1.06v1.1h-1.06zM68 21h1.06v1.1h-1.06zM68 26h1.06v2.1h-1.06zM69 36h1.06v1.1h-1.06zM69 72h1.06v1.1h-1.06zM69 100h1.06v2.1h-1.06zM70 6h1.06v1.1h-1.06zM70 27h1.06v1.1h-1.06zM70 34h1.06v1.1h-1.06zM70 39h1.06v1.1h-1.06zM70 41h1.06v1.1h-1.06zM70 44h1.06v1.1h-1.06zM70 48h1.06v1.1h-1.06zM70 75h1.06v1.1h-1.06zM71 5h1.06v1.1h-1.06zM71 9h1.06v1.1h-1.06zM71 16h1.06v2.1h-1.06zM71 31h1.06v1.1h-1.06zM71 45h1.06v1.1h-1.06zM71 50h1.06v1.1h-1.06zM71 52h1.06v1.1h-1.06zM71 62h1.06v1.1h-1.06zM71 77h1.06v1.1h-1.06zM71 94h1.06v1.1h-1.06zM72 -1h1.06v2.1h-1.06zM72 15h1.06v1.1h-1.06zM72 23h1.06v1.1h-1.06zM72 29h1.06v1.1h-1.06zM72 44h1.06v1.1h-1.06zM72 47h1.06v1.1h-1.06zM72 53h1.06v1.1h-1.06zM72 58h1.06v1.1h-1.06zM72 83h1.06v1.1h-1.06zM73 41h1.06v2.1h-1.06zM73 54h1.06v1.1h-1.06zM73 69h1.06v1.1h-1.06zM73 82h1.06v1.1h-1.06zM73 91h1.06v1.1h-1.06zM73 102h1.06v1.1h-1.06zM73 106h1.06v1.1h-1.06zM74 8h1.06v1.1h-1.06zM74 45h1.06v2.1h-1.06zM74 73h1.06v1.1h-1.06zM74 79h1.06v1.1h-1.06zM74 84h1.06v1.1h-1.06zM74 103h1.06v1.1h-1.06zM75 13h1.06v1.1h-1.06zM75 15h1.06v1.1h-1.06zM75 17h1.06v1.1h-1.06zM75 36h1.06v1.1h-1.06zM75 45h1.06v1.1h-1.06zM75 63h1.06v1.1h-1.06zM75 79h1.06v1.1h-1.06zM75 81h1.06v1.1h-1.06zM76 13h1.06v1.1h-1.06zM76 34h1.06v1.1h-1.06zM76 45h1.06v1.1h-1.06zM76 56h1.06v1.1h-1.06zM76 60h1.06v1.1h-1.06zM76 79h1.06v1.1h-1.06zM76 90h1.06v1.1h-1.06zM76 98h1.06v1.1h-1.06zM77 12h1.06v1.1h-1.06zM77 17h1.06v1.1h-1.06zM77 26h1.06v1.1h-1.06zM77 34h1.06v1.1h-1.06zM77 40h1.06v1.1h-1.06zM77 50h1.06v1.1h-1.06zM77 52h1.06v1.1h-1.06zM77 58h1.06v1.1h-1.06zM77 70h1.06v1.1h-1.06zM77 85h1.06v1.1h-1.06zM77 92h1.06v1.1h-1.06zM78 5h1.06v1.1h-1.06zM78 24h1.06v1.1h-1.06zM78 71h1.06v1.1h-1.06zM78 75h1.06v1.1h-1.06zM78 78h1.06v1.1h-1.06zM78 82h1.06v1.1h-1.06zM78 105h1.06v1.1h-1.06zM79 12h1.06v1.1h-1.06zM79 15h1.06v1.1h-1.06zM79 20h1.06v2.1h-1.06zM79 37h1.06v1.1h-1.06zM79 75h1.06v1.1h-1.06zM80 14h1.06v1.1h-1.06zM80 25h1.06v1.1h-1.06zM80 34h1.06v1.1h-1.06zM80 43h1.06v2.1h-1.06zM80 52h1.06v1.1h-1.06zM80 59h1.06v1.1h-1.06zM80 65h1.06v2.1h-1.06zM80 71h1.06v1.1h-1.06zM80 88h1.06v1.1h-1.06zM80 98h1.06v1.1h-1.06zM80 102h1.06v1.1h-1.06zM81 12h1.06v3.1h-1.06zM81 23h1.06v1.1h-1.06zM81 27h1.06v1.1h-1.06zM81 29h1.06v1.1h-1.06zM81 54h1.06v1.1h-1.06zM81 66h1.06v1.1h-1.06zM81 69h1.06v1.1h-1.06zM81 75h1.06v1.1h-1.06zM81 77h1.06v1.1h-1.06zM81 79h1.06v1.1h-1.06zM81 81h1.06v1.1h-1.06zM83 68h1.06v1.1h-1.06zM83 95h1.06v1.1h-1.06zM84 7h1.06v1.1h-1.06zM84 23h1.06v1.1h-1.06zM84 41h1.06v1.1h-1.06zM84 44h1.06v1.1h-1.06zM85 6h1.06v2.1h-1.06zM85 9h1.06v1.1h-1.06zM85 40h1.06v1.1h-1.06zM85 58h1.06v1.1h-1.06zM85 83h1.06v1.1h-1.06zM85 90h1.06v1.1h-1.06zM85 98h1.06v2.1h-1.06zM86 2h1.06v1.1h-1.06zM86 23h1.06v1.1h-1.06zM86 52h1.06v1.1h-1.06zM86 60h1.06v1.1h-1.06zM86 72h1.06v1.1h-1.06zM86 93h1.06v1.1h-1.06zM86 99h1.06v1.1h-1.06zM86 106h1.06v1.1h-1.06zM87 2h1.06v1.1h-1.06zM87 8h1.06v1.1h-1.06zM87 22h1.06v1.1h-1.06zM87 27h1.06v1.1h-1.06zM87 37h1.06v1.1h-1.06zM87 55h1.06v1.1h-1.06zM87 78h1.06v1.1h-1.06zM88 10h1.06v1.1h-1.06zM88 12h1.06v1.1h-1.06zM88 50h1.06v1.1h-1.06zM88 61h1.06v2.1h-1.06zM88 68h1.06v1.1h-1.06zM88 73h1.06v1.1h-1.06zM88 90h1.06v1.1h-1.06zM88 95h1.06v1.1h-1.06zM89 14h1.06v1.1h-1.06zM89 49h1.06v1.1h-1.06zM89 59h1.06v3.1h-1.06zM89 72h1.06v1.1h-1.06zM89 76h1.06v1.1h-1.06zM89 89h1.06v1.1h-1.06zM89 91h1.06v1.1h-1.06zM89 97h1.06v1.1h-1.06zM89 105h1.06v1.1h-1.06zM90 -1h1.06v2.1h-1.06zM90 15h1.06v1.1h-1.06zM90 34h1.06v1.1h-1.06zM90 40h1.06v2.1h-1.06zM90 48h1.06v1.1h-1.06zM90 62h1.06v1.1h-1.06zM90 69h1.06v1.1h-1.06zM90 71h1.06v1.1h-1.06zM90 74h1.06v1.1h-1.06zM90 78h1.06v1.1h-1.06zM90 80h1.06v1.1h-1.06zM90 90h1.06v1.1h-1.06zM90 93h1.06v2.1h-1.06zM90 101h1.06v1.1h-1.06zM91 1h1.06v1.1h-1.06zM91 41h1.06v1.1h-1.06zM91 47h1.06v1.1h-1.06zM91 56h1.06v1.1h-1.06zM91 69h1.06v1.1h-1.06zM91 71h1.06v2.1h-1.06zM91 75h1.06v2.1h-1.06zM91 88h1.06v1.1h-1.06zM91 98h1.06v1.1h-1.06zM92 8h1.06v1.1h-1.06zM92 15h1.06v1.1h-1.06zM92 52h1.06v1.1h-1.06zM92 62h1.06v1.1h-1.06zM93 -1h1.06v2.1h-1.06zM93 5h1.06v1.1h-1.06zM93 18h1.06v1.1h-1.06zM93 21h1.06v1.1h-1.06zM93 26h1.06v1.1h-1.06zM93 30h1.06v2.1h-1.06zM93 33h1.06v1.1h-1.06zM93 56h1.06v1.1h-1.06zM93 59h1.06v1.1h-1.06zM93 62h1.06v1.1h-1.06zM93 78h1.06v1.1h-1.06zM93 89h1.06v1.1h-1.06zM93 91h1.06v1.1h-1.06zM93 101h1.06v1.1h-1.06zM94 14h1.06v1.1h-1.06zM94 17h1.06v1.1h-1.06zM94 29h1.06v2.1h-1.06zM94 68h1.06v1.1h-1.06zM94 88h1.06v1.1h-1.06zM94 99h1.06v1.1h-1.06zM94 105h1.06v1.1h-1.06zM95 9h1.06v1.1h-1.06zM95 13h1.06v1.1h-1.06zM95 17h1.06v1.1h-1.06zM95 19h1.06v1.1h-1.06zM95 23h1.06v1.1h-1.06zM95 27h1.06v1.1h-1.06zM95 42h1.06v1.1h-1.06zM95 56h1.06v1.1h-1.06zM95 59h1.06v1.1h-1.06zM95 90h1.06v1.1h-1.06zM95 103h1.06v1.1h-1.06zM96 7h1.06v1.1h-1.06zM96 11h1.06v1.1h-1.06zM96 19h1.06v1.1h-1.06zM96 24h1.06v1.1h-1.06zM96 26h1.06v2.1h-1.06zM96 38h1.06v1.1h-1.06zM96 46h1.06v1.1h-1.06zM96 70h1.06v1.1h-1.06zM96 94h1.06v1.1h-1.06zM96 105h1.06v1.1h-1.06zM97 7h1.06v2.1h-1.06zM97 11h1.06v1.1h-1.06zM97 13h1.06v1.1h-1.06zM97 15h1.06v2.1h-1.06zM97 35h1.06v1.1h-1.06zM97 38h1.06v1.1h-1.06zM97 41h1.06v1.1h-1.06zM97 43h1.06v2.1h-1.06zM97 47h1.06v1.1h-1.06zM97 52h1.06v1.1h-1.06zM97 74h1.06v2.1h-1.06zM97 101h1.06v1.1h-1.06zM98 52h1.06v1.1h-1.06zM98 77h1.06v1.1h-1.06zM98 107h1.06v2.1h-1.06zM99 21h1.06v1.1h-1.06zM99 34h1.06v1.1h-1.06zM99 45h1.06v1.1h-1.06zM99 48h1.06v2.1h-1.06zM99 67h1.06v2.1h-1.06zM99 79h1.06v1.1h-1.06zM99 100h1.06v1.1h-1.06zM100 12h1.06v2.1h-1.06zM100 28h1.06v1.1h-1.06zM100 31h1.06v1.1h-1.06zM100 42h1.06v1.1h-1.06zM100 44h1.06v1.1h-1.06zM100 46h1.06v1.1h-1.06zM100 61h1.06v1.1h-1.06zM100 70h1.06v2.1h-1.06zM100 96h1.06v1.1h-1.06zM101 12h1.06v2.1h-1.06zM101 28h1.06v1.1h-1.06zM101 31h1.06v1.1h-1.06zM101 42h1.06v1.1h-1.06zM101 44h1.06v1.1h-1.06zM101 46h1.06v1.1h-1.06zM101 61h1.06v1.1h-1.06zM101 70h1.06v2.1h-1.06zM101 96h1.06v1.1h-1.06z"/><path fill="#f3c4c7" d="M-1 3h1.06v1.1h-1.06zM-1 20h1.06v1.1h-1.06zM-1 22h1.06v2.1h-1.06zM-1 35h1.06v1.1h-1.06zM-1 47h1.06v1.1h-1.06zM-1 56h1.06v1.1h-1.06zM-1 62h1.06v1.1h-1.06zM0 3h1.06v1.1h-1.06zM0 20h1.06v1.1h-1.06zM0 22h1.06v2.1h-1.06zM0 35h1.06v1.1h-1.06zM0 47h1.06v1.1h-1.06zM0 56h1.06v1.1h-1.06zM0 62h1.06v1.1h-1.06zM1 62h1.06v1.1h-1.06zM1 79h1.06v1.1h-1.06zM2 48h1.06v1.1h-1.06zM2 54h1.06v1.1h-1.06zM2 58h1.06v1.1h-1.06zM2 64h1.06v1.1h-1.06zM2 93h1.06v1.1h-1.06zM2 104h1.06v1.1h-1.06zM3 3h1.06v1.1h-1.06zM3 35h1.06v2.1h-1.06zM3 41h1.06v1.1h-1.06zM3 63h1.06v1.1h-1.06zM3 69h1.06v1.1h-1.06zM3 102h1.06v1.1h-1.06zM4 20h1.06v1.1h-1.06zM4 32h1.06v1.1h-1.06zM4 41h1.06v2.1h-1.06zM4 48h1.06v2.1h-1.06zM4 56h1.06v1.1h-1.06zM4 65h1.06v1.1h-1.06zM4 78h1.06v1.1h-1.06zM4 97h1.06v1.1h-1.06zM4 105h1.06v1.1h-1.06zM5 23h1.06v2.1h-1.06zM5 38h1.06v1.1h-1.06zM5 40h1.06v1.1h-1.06zM5 66h1.06v1.1h-1.06zM5 80h1.06v1.1h-1.06zM6 14h1.06v1.1h-1.06zM6 23h1.06v1.1h-1.06zM6 28h1.06v1.1h-1.06zM6 33h1.06v1.1h-1.06zM6 45h1.06v1.1h-1.06zM6 61h1.06v1.1h-1.06zM6 71h1.06v1.1h-1.06zM6 80h1.06v1.1h-1.06zM6 86h1.06v2.1h-1.06zM6 95h1.06v1.1h-1.06zM6 98h1.06v1.1h-1.06zM7 4h1.06v1.1h-1.06zM7 6h1.06v1.1h-1.06zM7 34h1.06v1.1h-1.06zM7 59h1.06v1.1h-1.06zM7 72h1.06v1.1h-1.06zM7 85h1.06v1.1h-1.06zM7 91h1.06v1.1h-1.06zM7 104h1.06v1.1h-1.06zM8 3h1.06v1.1h-1.06zM8 7h1.06v1.1h-1.06zM8 14h1.06v1.1h-1.06zM8 28h1.06v4.1h-1.06zM8 40h1.06v1.1h-1.06zM8 46h1.06v2.1h-1.06zM8 50h1.06v1.1h-1.06zM8 52h1.06v1.1h-1.06zM8 62h1.06v1.1h-1.06zM8 71h1.06v1.1h-1.06zM9 3h1.06v1.1h-1.06zM9 10h1.06v1.1h-1.06zM9 12h1.06v1.1h-1.06zM9 17h1.06v2.1h-1.06zM9 27h1.06v1.1h-1.06zM9 83h1.06v1.1h-1.06zM9 97h1.06v1.1h-1.06zM9 107h1.06v2.1h-1.06zM10 24h1.06v1.1h-1.06zM10 36h1.06v1.1h-1.06zM10 55h1.06v1.1h-1.06zM10 59h1.06v1.1h-1.06zM10 81h1.06v1.1h-1.06zM10 100h1.06v1.1h-1.06zM11 8h1.06v1.1h-1.06zM11 10h1.06v1.1h-1.06zM11 18h1.06v1.1h-1.06zM11 33h1.06v3.1h-1.06zM11 46h1.06v1.1h-1.06zM11 64h1.06v1.1h-1.06zM11 76h1.06v1.1h-1.06zM11 83h1.06v1.1h-1.06zM11 101h1.06v1.1h-1.06zM11 105h1.06v1.1h-1.06zM12 3h1.06v1.1h-1.06zM12 9h1.06v2.1h-1.06zM12 12h1.06v1.1h-1.06zM12 14h1.06v1.1h-1.06zM12 17h1.06v1.1h-1.06zM12 22h1.06v1.1h-1.06zM12 27h1.06v1.1h-1.06zM12 53h1.06v1.1h-1.06zM12 56h1.06v1.1h-1.06zM12 64h1.06v1.1h-1.06zM12 97h1.06v1.1h-1.06zM12 105h1.06v1.1h-1.06zM13 15h1.06v1.1h-1.06zM13 40h1.06v1.1h-1.06zM13 46h1.06v2.1h-1.06zM13 53h1.06v1.1h-1.06zM14 68h1.06v1.1h-1.06zM14 85h1.06v1.1h-1.06zM14 106h1.06v3.1h-1.06zM15 10h1.06v1.1h-1.06zM15 13h1.06v1.1h-1.06zM15 48h1.06v1.1h-1.06zM15 55h1.06v1.1h-1.06zM15 65h1.06v2.1h-1.06zM15 74h1.06v1.1h-1.06zM16 54h1.06v1.1h-1.06zM16 56h1.06v1.1h-1.06zM16 73h1.06v1.1h-1.06zM16 82h1.06v1.1h-1.06zM16 85h1.06v1.1h-1.06zM16 91h1.06v1.1h-1.06zM16 101h1.06v1.1h-1.06zM16 104h1.06v1.1h-1.06zM17 30h1.06v1.1h-1.06zM17 44h1.06v1.1h-1.06zM17 68h1.06v1.1h-1.06zM17 77h1.06v2.1h-1.06zM18 10h1.06v1.1h-1.06zM18 44h1.06v1.1h-1.06zM18 49h1.06v1.1h-1.06zM18 52h1.06v1.1h-1.06zM18 58h1.06v1.1h-1.06zM18 71h1.06v2.1h-1.06zM18 84h1.06v1.1h-1.06zM18 89h1.06v1.1h-1.06zM19 31h1.06v1.1h-1.06zM19 52h1.06v1.1h-1.06zM19 90h1.06v1.1h-1.06zM20 4h1.06v1.1h-1.06zM20 18h1.06v1.1h-1.06zM20 30h1.06v1.1h-1.06zM20 67h1.06v1.1h-1.06zM21 18h1.06v1.1h-1.06zM21 27h1.06v1.1h-1.06zM21 77h1.06v1.1h-1.06zM21 89h1.06v1.1h-1.06zM22 53h1.06v1.1h-1.06zM22 57h1.06v1.1h-1.06zM22 63h1.06v1.1h-1.06zM22 67h1.06v1.1h-1.06zM22 89h1.06v1.1h-1.06zM22 102h1.06v1.1h-1.06zM23 4h1.06v1.1h-1.06zM23 8h1.06v1.1h-1.06zM23 13h1.06v1.1h-1.06zM23 47h1.06v1.1h-1.06zM23 52h1.06v1.1h-1.06zM23 55h1.06v1.1h-1.06zM23 57h1.06v1.1h-1.06zM23 61h1.06v1.1h-1.06zM23 87h1.06v1.1h-1.06zM23 95h1.06v1.1h-1.06zM23 99h1.06v1.1h-1.06zM23 101h1.06v1.1h-1.06zM23 103h1.06v1.1h-1.06zM23 106h1.06v1.1h-1.06zM24 1h1.06v1.1h-1.06zM24 11h1.06v1.1h-1.06zM24 14h1.06v1.1h-1.06zM24 34h1.06v1.1h-1.06zM24 96h1.06v1.1h-1.06zM25 -1h1.06v2.1h-1.06zM25 7h1.06v1.1h-1.06zM25 16h1.06v1.1h-1.06zM25 44h1.06v1.1h-1.06zM25 62h1.06v1.1h-1.06zM25 76h1.06v1.1h-1.06zM25 100h1.06v1.1h-1.06zM26 -1h1.06v2.1h-1.06zM27 80h1.06v1.1h-1.06zM27 85h1.06v1.1h-1.06zM27 88h1.06v1.1h-1.06zM27 101h1.06v1.1h-1.06zM27 107h1.06v2.1h-1.06zM28 78h1.06v1.1h-1.06zM28 83h1.06v1.1h-1.06zM29 65h1.06v1.1h-1.06zM30 9h1.06v1.1h-1.06zM30 23h1.06v1.1h-1.06zM30 32h1.06v1.1h-1.06zM30 48h1.06v2.1h-1.06zM31 14h1.06v1.1h-1.06zM31 83h1.06v1.1h-1.06zM31 94h1.06v1.1h-1.06zM31 99h1.06v1.1h-1.06zM31 102h1.06v1.1h-1.06zM33 2h1.06v1.1h-1.06zM33 32h1.06v1.1h-1.06zM33 37h1.06v1.1h-1.06zM33 44h1.06v1.1h-1.06zM33 53h1.06v1.1h-1.06zM33 55h1.06v1.1h-1.06zM33 70h1.06v1.1h-1.06zM33 98h1.06v1.1h-1.06zM34 14h1.06v1.1h-1.06zM34 39h1.06v1.1h-1.06zM34 61h1.06v1.1h-1.06zM34 69h1.06v1.1h-1.06zM34 71h1.06v1.1h-1.06zM34 105h1.06v1.1h-1.06zM35 39h1.06v1.1h-1.06zM35 57h1.06v1.1h-1.06zM35 62h1.06v1.1h-1.06zM35 68h1.06v1.1h-1.06zM36 55h1.06v1.1h-1.06zM36 60h1.06v1.1h-1.06zM36 77h1.06v1.1h-1.06zM36 99h1.06v1.1h-1.06zM36 105h1.06v1.1h-1.06zM37 47h1.06v1.1h-1.06zM37 52h1.06v1.1h-1.06zM37 71h1.06v1.1h-1.06zM37 98h1.06v1.1h-1.06zM38 -1h1.06v2.1h-1.06zM38 68h1.06v2.1h-1.06zM38 76h1.06v1.1h-1.06zM38 87h1.06v1.1h-1.06zM38 90h1.06v1.1h-1.06zM38 100h1.06v1.1h-1.06zM39 9h1.06v1.1h-1.06zM39 94h1.06v1.1h-1.06zM39 105h1.06v1.1h-1.06zM40 2h1.06v1.1h-1.06zM40 16h1.06v1.1h-1.06zM40 44h1.06v1.1h-1.06zM41 13h1.06v1.1h-1.06zM41 94h1.06v1.1h-1.06zM41 102h1.06v1.1h-1.06zM42 58h1.06v1.1h-1.06zM42 64h1.06v1.1h-1.06zM42 68h1.06v1.1h-1.06zM42 71h1.06v1.1h-1.06zM42 90h1.06v1.1h-1.06zM43 34h1.06v1.1h-1.06zM43 56h1.06v1.1h-1.06zM43 67h1.06v2.1h-1.06zM43 74h1.06v1.1h-1.06zM43 80h1.06v1.1h-1.06zM43 84h1.06v1.1h-1.06zM43 90h1.06v1.1h-1.06zM45 3h1.06v1.1h-1.06zM45 8h1.06v1.1h-1.06zM45 14h1.06v1.1h-1.06zM45 57h1.06v1.1h-1.06zM45 59h1.06v1.1h-1.06zM45 68h1.06v1.1h-1.06zM45 77h1.06v1.1h-1.06zM45 88h1.06v1.1h-1.06zM45 106h1.06v1.1h-1.06zM46 -1h1.06v2.1h-1.06zM46 8h1.06v1.1h-1.06zM46 64h1.06v1.1h-1.06zM46 72h1.06v1.1h-1.06zM46 83h1.06v1.1h-1.06zM46 98h1.06v1.1h-1.06zM46 102h1.06v1.1h-1.06zM47 41h1.06v1.1h-1.06zM47 69h1.06v1.1h-1.06zM47 72h1.06v1.1h-1.06zM47 84h1.06v1.1h-1.06zM47 99h1.06v1.1h-1.06zM47 105h1.06v1.1h-1.06zM50 -1h1.06v2.1h-1.06zM50 22h1.06v1.1h-1.06zM51 2h1.06v1.1h-1.06zM51 75h1.06v2.1h-1.06zM52 64h1.06v1.1h-1.06zM53 6h1.06v1.1h-1.06zM53 10h1.06v1.1h-1.06zM53 54h1.06v1.1h-1.06zM53 60h1.06v1.1h-1.06zM53 75h1.06v1.1h-1.06zM53 77h1.06v1.1h-1.06zM53 93h1.06v1.1h-1.06zM53 96h1.06v1.1h-1.06zM54 23h1.06v1.1h-1.06zM54 40h1.06v1.1h-1.06zM54 46h1.06v1.1h-1.06zM54 56h1.06v1.1h-1.06zM54 91h1.06v1.1h-1.06zM54 101h1.06v1.1h-1.06zM55 6h1.06v1.1h-1.06zM55 9h1.06v1.1h-1.06zM55 16h1.06v1.1h-1.06zM55 36h1.06v1.1h-1.06zM55 38h1.06v1.1h-1.06zM55 52h1.06v1.1h-1.06zM55 55h1.06v1.1h-1.06zM55 57h1.06v1.1h-1.06zM55 101h1.06v1.1h-1.06zM55 106h1.06v1.1h-1.06zM57 19h1.06v1.1h-1.06zM57 24h1.06v1.1h-1.06zM57 28h1.06v1.1h-1.06zM57 32h1.06v1.1h-1.06zM57 37h1.06v1.1h-1.06zM57 41h1.06v1.1h-1.06zM58 65h1.06v1.1h-1.06zM59 28h1.06v1.1h-1.06zM59 45h1.06v2.1h-1.06zM59 49h1.06v1.1h-1.06zM59 72h1.06v1.1h-1.06zM59 91h1.06v1.1h-1.06zM59 97h1.06v1.1h-1.06zM60 30h1.06v1.1h-1.06zM60 51h1.06v1.1h-1.06zM60 55h1.06v1.1h-1.06zM60 62h1.06v1.1h-1.06zM60 71h1.06v1.1h-1.06zM60 74h1.06v1.1h-1.06zM60 85h1.06v1.1h-1.06zM61 64h1.06v1.1h-1.06zM61 69h1.06v1.1h-1.06zM61 88h1.06v1.1h-1.06zM61 99h1.06v1.1h-1.06zM62 45h1.06v1.1h-1.06zM62 60h1.06v1.1h-1.06zM62 68h1.06v1.1h-1.06zM62 85h1.06v1.1h-1.06zM62 92h1.06v1.1h-1.06zM62 105h1.06v1.1h-1.06zM63 1h1.06v1.1h-1.06zM63 11h1.06v1.1h-1.06zM63 15h1.06v1.1h-1.06zM63 24h1.06v1.1h-1.06zM63 32h1.06v1.1h-1.06zM63 39h1.06v1.1h-1.06zM63 41h1.06v1.1h-1.06zM63 45h1.06v2.1h-1.06zM63 51h1.06v1.1h-1.06zM63 57h1.06v2.1h-1.06zM63 62h1.06v1.1h-1.06zM63 70h1.06v1.1h-1.06zM63 76h1.06v1.1h-1.06zM63 89h1.06v1.1h-1.06zM63 99h1.06v1.1h-1.06zM64 26h1.06v1.1h-1.06zM64 49h1.06v1.1h-1.06zM64 78h1.06v1.1h-1.06zM64 92h1.06v1.1h-1.06zM65 19h1.06v1.1h-1.06zM65 31h1.06v1.1h-1.06zM65 34h1.06v1.1h-1.06zM65 44h1.06v1.1h-1.06zM65 61h1.06v1.1h-1.06zM65 63h1.06v2.1h-1.06zM65 68h1.06v1.1h-1.06zM65 83h1.06v1.1h-1.06zM66 36h1.06v1.1h-1.06zM66 38h1.06v1.1h-1.06zM66 50h1.06v1.1h-1.06zM66 55h1.06v1.1h-1.06zM66 58h1.06v1.1h-1.06zM66 60h1.06v1.1h-1.06zM66 86h1.06v1.1h-1.06zM66 88h1.06v1.1h-1.06zM66 90h1.06v1.1h-1.06zM66 98h1.06v1.1h-1.06zM66 105h1.06v1.1h-1.06zM67 5h1.06v1.1h-1.06zM67 17h1.06v1.1h-1.06zM67 25h1.06v1.1h-1.06zM67 28h1.06v1.1h-1.06zM67 34h1.06v1.1h-1.06zM67 52h1.06v1.1h-1.06zM67 55h1.06v1.1h-1.06zM67 83h1.06v1.1h-1.06zM67 85h1.06v1.1h-1.06zM67 90h1.06v1.1h-1.06zM67 98h1.06v1.1h-1.06zM69 -1h1.06v3.1h-1.06zM69 8h1.06v1.1h-1.06zM69 61h1.06v1.1h-1.06zM69 83h1.06v1.1h-1.06zM69 93h1.06v1.1h-1.06zM69 106h1.06v1.1h-1.06zM70 25h1.06v1.1h-1.06zM70 30h1.06v1.1h-1.06zM70 78h1.06v1.1h-1.06zM71 1h1.06v1.1h-1.06zM71 6h1.06v1.1h-1.06zM71 10h1.06v1.1h-1.06zM71 30h1.06v1.1h-1.06zM71 55h1.06v1.1h-1.06zM71 66h1.06v1.1h-1.06zM71 69h1.06v1.1h-1.06zM71 80h1.06v1.1h-1.06zM72 9h1.06v1.1h-1.06zM72 11h1.06v1.1h-1.06zM72 13h1.06v1.1h-1.06zM72 38h1.06v2.1h-1.06zM72 51h1.06v1.1h-1.06zM72 54h1.06v1.1h-1.06zM72 61h1.06v1.1h-1.06zM72 77h1.06v1.1h-1.06zM72 86h1.06v1.1h-1.06zM72 90h1.06v1.1h-1.06zM72 93h1.06v2.1h-1.06zM72 96h1.06v1.1h-1.06zM72 101h1.06v1.1h-1.06zM73 6h1.06v1.1h-1.06zM73 12h1.06v1.1h-1.06zM73 17h1.06v1.1h-1.06zM73 55h1.06v1.1h-1.06zM73 67h1.06v2.1h-1.06zM73 77h1.06v1.1h-1.06zM73 89h1.06v1.1h-1.06zM73 93h1.06v1.1h-1.06zM73 100h1.06v1.1h-1.06zM73 107h1.06v2.1h-1.06zM74 39h1.06v1.1h-1.06zM74 41h1.06v1.1h-1.06zM74 83h1.06v1.1h-1.06zM74 94h1.06v1.1h-1.06zM75 1h1.06v1.1h-1.06zM75 37h1.06v1.1h-1.06zM75 56h1.06v1.1h-1.06zM75 64h1.06v1.1h-1.06zM75 83h1.06v1.1h-1.06zM75 92h1.06v1.1h-1.06zM76 -1h1.06v2.1h-1.06zM76 12h1.06v1.1h-1.06zM76 73h1.06v3.1h-1.06zM76 77h1.06v2.1h-1.06zM77 2h1.06v1.1h-1.06zM77 14h1.06v1.1h-1.06zM77 44h1.06v1.1h-1.06zM78 10h1.06v1.1h-1.06zM78 31h1.06v1.1h-1.06zM78 37h1.06v1.1h-1.06zM78 62h1.06v1.1h-1.06zM78 92h1.06v1.1h-1.06zM78 98h1.06v1.1h-1.06zM79 7h1.06v1.1h-1.06zM79 10h1.06v1.1h-1.06zM79 13h1.06v1.1h-1.06zM79 27h1.06v1.1h-1.06zM79 44h1.06v1.1h-1.06zM79 95h1.06v1.1h-1.06zM79 102h1.06v1.1h-1.06zM80 2h1.06v1.1h-1.06zM80 23h1.06v1.1h-1.06zM80 56h1.06v1.1h-1.06zM80 64h1.06v1.1h-1.06zM80 68h1.06v1.1h-1.06zM80 70h1.06v1.1h-1.06zM80 72h1.06v1.1h-1.06zM80 75h1.06v1.1h-1.06zM80 92h1.06v1.1h-1.06zM81 9h1.06v1.1h-1.06zM81 38h1.06v1.1h-1.06zM81 44h1.06v1.1h-1.06zM81 82h1.06v1.1h-1.06zM81 106h1.06v1.1h-1.06zM82 76h1.06v1.1h-1.06zM82 80h1.06v1.1h-1.06zM83 55h1.06v1.1h-1.06zM83 61h1.06v1.1h-1.06zM83 64h1.06v1.1h-1.06zM83 81h1.06v1.1h-1.06zM83 92h1.06v1.1h-1.06zM83 94h1.06v1.1h-1.06zM83 99h1.06v1.1h-1.06zM83 105h1.06v1.1h-1.06zM84 4h1.06v1.1h-1.06zM84 20h1.06v1.1h-1.06zM84 101h1.06v1.1h-1.06zM85 11h1.06v1.1h-1.06zM85 55h1.06v1.1h-1.06zM85 59h1.06v1.1h-1.06zM85 72h1.06v1.1h-1.06zM85 76h1.06v1.1h-1.06zM85 85h1.06v1.1h-1.06zM85 88h1.06v1.1h-1.06zM85 92h1.06v1.1h-1.06zM86 -1h1.06v2.1h-1.06zM86 16h1.06v1.1h-1.06zM86 25h1.06v3.1h-1.06zM86 34h1.06v1.1h-1.06zM86 55h1.06v1.1h-1.06zM86 74h1.06v1.1h-1.06zM86 80h1.06v1.1h-1.06zM87 4h1.06v1.1h-1.06zM87 21h1.06v1.1h-1.06zM87 23h1.06v1.1h-1.06zM87 29h1.06v1.1h-1.06zM87 64h1.06v1.1h-1.06zM88 4h1.06v1.1h-1.06zM88 16h1.06v1.1h-1.06zM88 25h1.06v1.1h-1.06zM88 59h1.06v1.1h-1.06zM88 65h1.06v1.1h-1.06zM88 70h1.06v1.1h-1.06zM88 74h1.06v1.1h-1.06zM88 77h1.06v1.1h-1.06zM88 80h1.06v1.1h-1.06zM88 91h1.06v1.1h-1.06zM89 8h1.06v2.1h-1.06zM89 13h1.06v1.1h-1.06zM89 47h1.06v1.1h-1.06zM89 54h1.06v2.1h-1.06zM89 63h1.06v2.1h-1.06zM89 75h1.06v1.1h-1.06zM89 83h1.06v1.1h-1.06zM89 92h1.06v1.1h-1.06zM89 100h1.06v1.1h-1.06zM89 102h1.06v1.1h-1.06zM90 19h1.06v1.1h-1.06zM90 30h1.06v1.1h-1.06zM90 38h1.06v1.1h-1.06zM90 43h1.06v1.1h-1.06zM90 47h1.06v1.1h-1.06zM90 51h1.06v1.1h-1.06zM90 57h1.06v1.1h-1.06zM90 60h1.06v2.1h-1.06zM90 76h1.06v1.1h-1.06zM91 6h1.06v1.1h-1.06zM91 10h1.06v1.1h-1.06zM91 35h1.06v1.1h-1.06zM91 37h1.06v1.1h-1.06zM91 43h1.06v1.1h-1.06zM91 51h1.06v1.1h-1.06zM91 74h1.06v1.1h-1.06zM91 87h1.06v1.1h-1.06zM91 97h1.06v1.1h-1.06zM91 101h1.06v1.1h-1.06zM92 -1h1.06v2.1h-1.06zM92 2h1.06v1.1h-1.06zM93 8h1.06v1.1h-1.06zM93 19h1.06v1.1h-1.06zM93 27h1.06v1.1h-1.06zM93 93h1.06v1.1h-1.06zM94 41h1.06v1.1h-1.06zM94 66h1.06v1.1h-1.06zM94 93h1.06v1.1h-1.06zM94 101h1.06v1.1h-1.06zM95 10h1.06v1.1h-1.06zM95 12h1.06v1.1h-1.06zM95 43h1.06v1.1h-1.06zM95 57h1.06v1.1h-1.06zM95 68h1.06v1.1h-1.06zM95 73h1.06v2.1h-1.06zM95 86h1.06v1.1h-1.06zM95 102h1.06v1.1h-1.06zM95 107h1.06v2.1h-1.06zM96 -1h1.06v2.1h-1.06zM96 29h1.06v1.1h-1.06zM96 41h1.06v1.1h-1.06zM96 59h1.06v1.1h-1.06zM96 66h1.06v1.1h-1.06zM96 74h1.06v1.1h-1.06zM96 83h1.06v1.1h-1.06zM97 10h1.06v1.1h-1.06zM97 18h1.06v1.1h-1.06zM97 21h1.06v2.1h-1.06zM97 24h1.06v2.1h-1.06zM97 31h1.06v1.1h-1.06zM97 39h1.06v1.1h-1.06zM97 45h1.06v1.1h-1.06zM97 60h1.06v1.1h-1.06zM97 88h1.06v1.1h-1.06zM97 95h1.06v1.1h-1.06zM97 98h1.06v1.1h-1.06zM97 102h1.06v2.1h-1.06zM98 1h1.06v1.1h-1.06zM98 70h1.06v1.1h-1.06zM98 85h1.06v1.1h-1.06zM98 95h1.06v2.1h-1.06zM98 101h1.06v1.1h-1.06zM98 103h1.06v1.1h-1.06zM99 5h1.06v1.1h-1.06zM99 13h1.06v1.1h-1.06zM99 17h1.06v2.1h-1.06zM99 27h1.06v1.1h-1.06zM99 30h1.06v1.1h-1.06zM99 39h1.06v1.1h-1.06zM99 58h1.06v1.1h-1.06zM99 60h1.06v1.1h-1.06zM99 69h1.06v1.1h-1.06zM99 74h1.06v1.1h-1.06zM99 88h1.06v1.1h-1.06zM99 92h1.06v1.1h-1.06zM99 94h1.06v1.1h-1.06zM99 105h1.06v2.1h-1.06zM100 2h1.06v1.1h-1.06zM100 10h1.06v1.1h-1.06zM100 37h1.06v1.1h-1.06zM100 62h1.06v1.1h-1.06zM101 2h1.06v1.1h-1.06zM101 10h1.06v1.1h-1.06zM101 37h1.06v1.1h-1.06zM101 62h1.06v1.1h-1.06z"/><path fill="#f1afb3" d="M-1 24h1.06v1.1h-1.06zM-1 33h1.06v1.1h-1.06zM-1 45h1.06v2.1h-1.06zM-1 69h1.06v1.1h-1.06zM0 24h1.06v1.1h-1.06zM0 33h1.06v1.1h-1.06zM0 45h1.06v2.1h-1.06zM0 69h1.06v1.1h-1.06zM1 39h1.06v1.1h-1.06zM1 76h1.06v1.1h-1.06zM1 95h1.06v1.1h-1.06zM2 31h1.06v1.1h-1.06zM2 52h1.06v1.1h-1.06zM2 63h1.06v1.1h-1.06zM2 67h1.06v2.1h-1.06zM2 92h1.06v1.1h-1.06zM2 94h1.06v1.1h-1.06zM2 96h1.06v1.1h-1.06zM3 13h1.06v1.1h-1.06zM3 46h1.06v1.1h-1.06zM3 53h1.06v2.1h-1.06zM3 64h1.06v2.1h-1.06zM3 70h1.06v1.1h-1.06zM3 74h1.06v1.1h-1.06zM3 80h1.06v1.1h-1.06zM3 89h1.06v1.1h-1.06zM3 94h1.06v1.1h-1.06zM3 97h1.06v2.1h-1.06zM3 104h1.06v1.1h-1.06zM3 107h1.06v2.1h-1.06zM4 10h1.06v1.1h-1.06zM4 12h1.06v1.1h-1.06zM4 23h1.06v1.1h-1.06zM4 27h1.06v1.1h-1.06zM4 29h1.06v1.1h-1.06zM4 34h1.06v1.1h-1.06zM4 46h1.06v1.1h-1.06zM4 61h1.06v1.1h-1.06zM4 70h1.06v1.1h-1.06zM4 76h1.06v1.1h-1.06zM4 99h1.06v2.1h-1.06zM5 5h1.06v1.1h-1.06zM5 39h1.06v1.1h-1.06zM5 69h1.06v1.1h-1.06zM5 72h1.06v1.1h-1.06zM5 79h1.06v1.1h-1.06zM5 81h1.06v1.1h-1.06zM5 91h1.06v1.1h-1.06zM6 37h1.06v1.1h-1.06zM6 39h1.06v1.1h-1.06zM6 50h1.06v1.1h-1.06zM6 72h1.06v1.1h-1.06zM6 78h1.06v1.1h-1.06zM6 92h1.06v1.1h-1.06zM6 100h1.06v1.1h-1.06zM7 15h1.06v1.1h-1.06zM7 56h1.06v1.1h-1.06zM7 60h1.06v1.1h-1.06zM7 70h1.06v1.1h-1.06zM8 9h1.06v1.1h-1.06zM8 22h1.06v1.1h-1.06zM8 36h1.06v1.1h-1.06zM8 49h1.06v1.1h-1.06zM8 51h1.06v1.1h-1.06zM8 53h1.06v1.1h-1.06zM9 7h1.06v1.1h-1.06zM9 14h1.06v1.1h-1.06zM9 23h1.06v1.1h-1.06zM9 28h1.06v1.1h-1.06zM9 30h1.06v1.1h-1.06zM9 34h1.06v1.1h-1.06zM9 40h1.06v2.1h-1.06zM9 43h1.06v1.1h-1.06zM9 62h1.06v1.1h-1.06zM9 66h1.06v1.1h-1.06zM9 71h1.06v1.1h-1.06zM9 74h1.06v1.1h-1.06zM9 76h1.06v1.1h-1.06zM9 81h1.06v1.1h-1.06zM9 89h1.06v1.1h-1.06zM9 91h1.06v1.1h-1.06zM9 103h1.06v2.1h-1.06zM10 3h1.06v1.1h-1.06zM10 7h1.06v1.1h-1.06zM10 20h1.06v1.1h-1.06zM10 27h1.06v1.1h-1.06zM10 29h1.06v1.1h-1.06zM10 38h1.06v1.1h-1.06zM10 98h1.06v1.1h-1.06zM10 106h1.06v1.1h-1.06zM11 3h1.06v1.1h-1.06zM11 19h1.06v1.1h-1.06zM11 37h1.06v1.1h-1.06zM11 52h1.06v1.1h-1.06zM11 54h1.06v1.1h-1.06zM11 57h1.06v1.1h-1.06zM11 61h1.06v1.1h-1.06zM11 66h1.06v1.1h-1.06zM11 91h1.06v1.1h-1.06zM11 99h1.06v1.1h-1.06zM12 16h1.06v1.1h-1.06zM12 23h1.06v1.1h-1.06zM12 28h1.06v1.1h-1.06zM12 31h1.06v1.1h-1.06zM12 71h1.06v1.1h-1.06zM12 100h1.06v1.1h-1.06zM13 12h1.06v2.1h-1.06zM13 21h1.06v1.1h-1.06zM13 29h1.06v1.1h-1.06zM13 48h1.06v1.1h-1.06zM13 67h1.06v1.1h-1.06zM13 94h1.06v1.1h-1.06zM14 56h1.06v1.1h-1.06zM14 82h1.06v1.1h-1.06zM14 96h1.06v3.1h-1.06zM14 105h1.06v1.1h-1.06zM15 11h1.06v1.1h-1.06zM15 37h1.06v1.1h-1.06zM15 39h1.06v1.1h-1.06zM15 58h1.06v1.1h-1.06zM15 71h1.06v1.1h-1.06zM15 82h1.06v1.1h-1.06zM15 101h1.06v1.1h-1.06zM15 104h1.06v1.1h-1.06zM15 106h1.06v3.1h-1.06zM16 57h1.06v2.1h-1.06zM16 65h1.06v1.1h-1.06zM16 67h1.06v1.1h-1.06zM16 69h1.06v1.1h-1.06zM16 80h1.06v1.1h-1.06zM16 90h1.06v1.1h-1.06zM16 92h1.06v1.1h-1.06zM16 97h1.06v1.1h-1.06zM17 21h1.06v2.1h-1.06zM17 31h1.06v1.1h-1.06zM17 56h1.06v1.1h-1.06zM17 65h1.06v1.1h-1.06zM17 80h1.06v1.1h-1.06zM17 86h1.06v1.1h-1.06zM17 89h1.06v1.1h-1.06zM17 105h1.06v1.1h-1.06zM18 14h1.06v1.1h-1.06zM18 25h1.06v1.1h-1.06zM18 33h1.06v1.1h-1.06zM18 39h1.06v1.1h-1.06zM18 48h1.06v1.1h-1.06zM18 63h1.06v1.1h-1.06zM18 80h1.06v1.1h-1.06zM18 85h1.06v3.1h-1.06zM18 91h1.06v2.1h-1.06zM18 101h1.06v1.1h-1.06zM19 64h1.06v1.1h-1.06zM19 89h1.06v1.1h-1.06zM20 3h1.06v1.1h-1.06zM20 8h1.06v1.1h-1.06zM20 17h1.06v1.1h-1.06zM20 20h1.06v1.1h-1.06zM20 46h1.06v1.1h-1.06zM20 55h1.06v1.1h-1.06zM20 70h1.06v2.1h-1.06zM20 86h1.06v1.1h-1.06zM20 93h1.06v1.1h-1.06zM20 95h1.06v1.1h-1.06zM20 97h1.06v1.1h-1.06zM20 102h1.06v1.1h-1.06zM20 107h1.06v2.1h-1.06zM21 3h1.06v1.1h-1.06zM21 8h1.06v1.1h-1.06zM21 11h1.06v1.1h-1.06zM21 17h1.06v1.1h-1.06zM21 35h1.06v1.1h-1.06zM21 71h1.06v1.1h-1.06zM21 105h1.06v1.1h-1.06zM22 39h1.06v1.1h-1.06zM22 62h1.06v1.1h-1.06zM22 73h1.06v1.1h-1.06zM22 80h1.06v1.1h-1.06zM22 95h1.06v1.1h-1.06zM23 6h1.06v1.1h-1.06zM23 31h1.06v1.1h-1.06zM23 48h1.06v1.1h-1.06zM23 53h1.06v1.1h-1.06zM23 59h1.06v1.1h-1.06zM23 69h1.06v2.1h-1.06zM23 82h1.06v1.1h-1.06zM23 84h1.06v1.1h-1.06zM24 8h1.06v1.1h-1.06zM24 56h1.06v1.1h-1.06zM25 8h1.06v1.1h-1.06zM25 55h1.06v1.1h-1.06zM27 14h1.06v1.1h-1.06zM27 16h1.06v1.1h-1.06zM27 21h1.06v1.1h-1.06zM27 33h1.06v1.1h-1.06zM27 55h1.06v1.1h-1.06zM27 75h1.06v1.1h-1.06zM27 81h1.06v1.1h-1.06zM28 68h1.06v2.1h-1.06zM28 94h1.06v1.1h-1.06zM29 62h1.06v1.1h-1.06zM29 66h1.06v1.1h-1.06zM29 102h1.06v1.1h-1.06zM30 2h1.06v1.1h-1.06zM30 4h1.06v1.1h-1.06zM30 8h1.06v1.1h-1.06zM30 33h1.06v1.1h-1.06zM30 44h1.06v1.1h-1.06zM31 42h1.06v1.1h-1.06zM31 72h1.06v1.1h-1.06zM31 77h1.06v1.1h-1.06zM31 80h1.06v1.1h-1.06zM31 84h1.06v2.1h-1.06zM33 20h1.06v1.1h-1.06zM33 56h1.06v1.1h-1.06zM33 102h1.06v1.1h-1.06zM34 19h1.06v1.1h-1.06zM34 33h1.06v1.1h-1.06zM34 78h1.06v1.1h-1.06zM35 26h1.06v1.1h-1.06zM35 69h1.06v1.1h-1.06zM35 74h1.06v1.1h-1.06zM35 77h1.06v2.1h-1.06zM35 97h1.06v1.1h-1.06zM36 34h1.06v1.1h-1.06zM36 69h1.06v1.1h-1.06zM36 78h1.06v1.1h-1.06zM36 94h1.06v1.1h-1.06zM37 75h1.06v1.1h-1.06zM38 4h1.06v1.1h-1.06zM38 12h1.06v2.1h-1.06zM38 37h1.06v1.1h-1.06zM38 54h1.06v1.1h-1.06zM38 71h1.06v1.1h-1.06zM38 92h1.06v1.1h-1.06zM38 102h1.06v1.1h-1.06zM38 107h1.06v2.1h-1.06zM39 21h1.06v1.1h-1.06zM39 48h1.06v1.1h-1.06zM39 52h1.06v1.1h-1.06zM39 78h1.06v1.1h-1.06zM41 44h1.06v1.1h-1.06zM41 56h1.06v1.1h-1.06zM42 57h1.06v1.1h-1.06zM42 65h1.06v1.1h-1.06zM42 75h1.06v1.1h-1.06zM42 89h1.06v1.1h-1.06zM43 8h1.06v1.1h-1.06zM43 19h1.06v1.1h-1.06zM43 32h1.06v1.1h-1.06zM43 88h1.06v1.1h-1.06zM43 96h1.06v4.1h-1.06zM45 17h1.06v1.1h-1.06zM45 39h1.06v1.1h-1.06zM45 41h1.06v1.1h-1.06zM45 52h1.06v1.1h-1.06zM45 56h1.06v1.1h-1.06zM45 76h1.06v1.1h-1.06zM45 93h1.06v2.1h-1.06zM46 75h1.06v1.1h-1.06zM46 78h1.06v1.1h-1.06zM46 84h1.06v1.1h-1.06zM46 88h1.06v1.1h-1.06zM46 92h1.06v1.1h-1.06zM47 8h1.06v1.1h-1.06zM47 47h1.06v1.1h-1.06zM47 52h1.06v1.1h-1.06zM47 66h1.06v1.1h-1.06zM47 101h1.06v1.1h-1.06zM48 -1h1.06v2.1h-1.06zM49 2h1.06v1.1h-1.06zM49 18h1.06v1.1h-1.06zM52 60h1.06v1.1h-1.06zM53 62h1.06v1.1h-1.06zM53 76h1.06v1.1h-1.06zM53 84h1.06v1.1h-1.06zM53 89h1.06v1.1h-1.06zM54 34h1.06v1.1h-1.06zM54 57h1.06v1.1h-1.06zM54 72h1.06v1.1h-1.06zM54 75h1.06v1.1h-1.06zM54 78h1.06v1.1h-1.06zM54 80h1.06v1.1h-1.06zM54 83h1.06v1.1h-1.06zM55 1h1.06v1.1h-1.06zM55 15h1.06v1.1h-1.06zM55 40h1.06v2.1h-1.06zM55 47h1.06v2.1h-1.06zM57 17h1.06v1.1h-1.06zM57 30h1.06v1.1h-1.06zM57 45h1.06v3.1h-1.06zM58 8h1.06v1.1h-1.06zM59 7h1.06v1.1h-1.06zM59 18h1.06v1.1h-1.06zM59 24h1.06v3.1h-1.06zM59 29h1.06v1.1h-1.06zM59 32h1.06v1.1h-1.06zM59 56h1.06v1.1h-1.06zM59 73h1.06v1.1h-1.06zM59 75h1.06v1.1h-1.06zM59 88h1.06v1.1h-1.06zM59 94h1.06v1.1h-1.06zM59 98h1.06v1.1h-1.06zM59 107h1.06v2.1h-1.06zM60 -1h1.06v2.1h-1.06zM60 8h1.06v1.1h-1.06zM60 19h1.06v1.1h-1.06zM60 42h1.06v1.1h-1.06zM60 58h1.06v1.1h-1.06zM60 60h1.06v1.1h-1.06zM60 66h1.06v1.1h-1.06zM60 81h1.06v1.1h-1.06zM60 94h1.06v1.1h-1.06zM60 102h1.06v1.1h-1.06zM61 94h1.06v1.1h-1.06zM62 10h1.06v1.1h-1.06zM62 16h1.06v1.1h-1.06zM62 28h1.06v1.1h-1.06zM62 36h1.06v1.1h-1.06zM62 42h1.06v1.1h-1.06zM62 54h1.06v1.1h-1.06zM62 57h1.06v1.1h-1.06zM62 61h1.06v1.1h-1.06zM62 66h1.06v1.1h-1.06zM62 69h1.06v1.1h-1.06zM62 83h1.06v1.1h-1.06zM62 106h1.06v1.1h-1.06zM63 2h1.06v1.1h-1.06zM63 14h1.06v1.1h-1.06zM63 25h1.06v1.1h-1.06zM63 28h1.06v1.1h-1.06zM63 43h1.06v2.1h-1.06zM63 48h1.06v1.1h-1.06zM63 75h1.06v1.1h-1.06zM63 85h1.06v1.1h-1.06zM63 100h1.06v1.1h-1.06zM63 102h1.06v1.1h-1.06zM64 31h1.06v1.1h-1.06zM64 61h1.06v1.1h-1.06zM64 71h1.06v1.1h-1.06zM64 74h1.06v1.1h-1.06zM64 94h1.06v1.1h-1.06zM65 23h1.06v1.1h-1.06zM65 55h1.06v1.1h-1.06zM65 70h1.06v1.1h-1.06zM65 84h1.06v1.1h-1.06zM65 99h1.06v1.1h-1.06zM66 -1h1.06v2.1h-1.06zM66 57h1.06v1.1h-1.06zM66 82h1.06v1.1h-1.06zM66 101h1.06v1.1h-1.06zM67 6h1.06v1.1h-1.06zM67 15h1.06v1.1h-1.06zM67 18h1.06v1.1h-1.06zM67 41h1.06v1.1h-1.06zM67 47h1.06v1.1h-1.06zM67 64h1.06v1.1h-1.06zM67 78h1.06v1.1h-1.06zM67 94h1.06v1.1h-1.06zM67 103h1.06v1.1h-1.06zM68 -1h1.06v2.1h-1.06zM69 54h1.06v1.1h-1.06zM69 92h1.06v1.1h-1.06zM70 2h1.06v1.1h-1.06zM71 11h1.06v1.1h-1.06zM71 20h1.06v1.1h-1.06zM71 22h1.06v1.1h-1.06zM71 25h1.06v1.1h-1.06zM71 32h1.06v1.1h-1.06zM71 102h1.06v1.1h-1.06zM72 2h1.06v1.1h-1.06zM72 7h1.06v1.1h-1.06zM72 14h1.06v1.1h-1.06zM72 16h1.06v1.1h-1.06zM72 25h1.06v1.1h-1.06zM72 37h1.06v1.1h-1.06zM72 57h1.06v1.1h-1.06zM72 60h1.06v1.1h-1.06zM72 65h1.06v1.1h-1.06zM72 73h1.06v1.1h-1.06zM72 76h1.06v1.1h-1.06zM72 80h1.06v1.1h-1.06zM72 82h1.06v1.1h-1.06zM72 99h1.06v1.1h-1.06zM72 103h1.06v1.1h-1.06zM73 10h1.06v1.1h-1.06zM73 52h1.06v1.1h-1.06zM73 70h1.06v1.1h-1.06zM73 74h1.06v1.1h-1.06zM73 79h1.06v1.1h-1.06zM73 95h1.06v1.1h-1.06zM73 98h1.06v1.1h-1.06zM74 62h1.06v1.1h-1.06zM74 68h1.06v1.1h-1.06zM74 88h1.06v1.1h-1.06zM75 6h1.06v1.1h-1.06zM75 76h1.06v1.1h-1.06zM75 78h1.06v1.1h-1.06zM76 54h1.06v1.1h-1.06zM76 57h1.06v1.1h-1.06zM76 64h1.06v1.1h-1.06zM76 102h1.06v1.1h-1.06zM77 15h1.06v1.1h-1.06zM77 43h1.06v1.1h-1.06zM77 82h1.06v1.1h-1.06zM77 98h1.06v1.1h-1.06zM77 101h1.06v1.1h-1.06zM78 60h1.06v1.1h-1.06zM78 93h1.06v1.1h-1.06zM78 99h1.06v1.1h-1.06zM79 3h1.06v1.1h-1.06zM79 8h1.06v1.1h-1.06zM79 17h1.06v1.1h-1.06zM79 78h1.06v1.1h-1.06zM79 98h1.06v1.1h-1.06zM80 8h1.06v1.1h-1.06zM80 55h1.06v1.1h-1.06zM80 76h1.06v1.1h-1.06zM80 101h1.06v1.1h-1.06zM81 5h1.06v1.1h-1.06zM81 57h1.06v1.1h-1.06zM81 88h1.06v1.1h-1.06zM81 99h1.06v1.1h-1.06zM82 -1h1.06v2.1h-1.06zM83 57h1.06v1.1h-1.06zM83 60h1.06v1.1h-1.06zM83 78h1.06v1.1h-1.06zM83 93h1.06v1.1h-1.06zM83 101h1.06v1.1h-1.06zM84 8h1.06v1.1h-1.06zM85 3h1.06v1.1h-1.06zM85 15h1.06v1.1h-1.06zM85 61h1.06v1.1h-1.06zM85 71h1.06v1.1h-1.06zM86 10h1.06v1.1h-1.06zM86 21h1.06v1.1h-1.06zM86 54h1.06v1.1h-1.06zM86 57h1.06v1.1h-1.06zM86 76h1.06v1.1h-1.06zM86 101h1.06v1.1h-1.06zM87 6h1.06v1.1h-1.06zM87 10h1.06v1.1h-1.06zM87 12h1.06v1.1h-1.06zM87 14h1.06v1.1h-1.06zM87 20h1.06v1.1h-1.06zM87 105h1.06v1.1h-1.06zM88 40h1.06v1.1h-1.06zM88 43h1.06v1.1h-1.06zM88 60h1.06v1.1h-1.06zM88 88h1.06v1.1h-1.06zM89 43h1.06v1.1h-1.06zM89 74h1.06v1.1h-1.06zM89 95h1.06v1.1h-1.06zM89 106h1.06v1.1h-1.06zM90 10h1.06v1.1h-1.06zM90 27h1.06v1.1h-1.06zM90 49h1.06v1.1h-1.06zM90 66h1.06v1.1h-1.06zM90 68h1.06v1.1h-1.06zM90 91h1.06v1.1h-1.06zM91 5h1.06v1.1h-1.06zM91 7h1.06v2.1h-1.06zM91 12h1.06v1.1h-1.06zM91 53h1.06v1.1h-1.06zM91 57h1.06v1.1h-1.06zM91 78h1.06v1.1h-1.06zM92 24h1.06v1.1h-1.06zM93 16h1.06v1.1h-1.06zM93 42h1.06v1.1h-1.06zM93 57h1.06v1.1h-1.06zM93 92h1.06v1.1h-1.06zM93 98h1.06v2.1h-1.06zM94 -1h1.06v2.1h-1.06zM94 55h1.06v1.1h-1.06zM94 78h1.06v1.1h-1.06zM94 94h1.06v1.1h-1.06zM95 7h1.06v1.1h-1.06zM95 21h1.06v1.1h-1.06zM95 26h1.06v1.1h-1.06zM95 44h1.06v1.1h-1.06zM95 58h1.06v1.1h-1.06zM95 66h1.06v1.1h-1.06zM95 76h1.06v1.1h-1.06zM95 92h1.06v1.1h-1.06zM95 105h1.06v1.1h-1.06zM96 3h1.06v1.1h-1.06zM96 8h1.06v1.1h-1.06zM96 12h1.06v2.1h-1.06zM96 34h1.06v1.1h-1.06zM96 69h1.06v1.1h-1.06zM96 72h1.06v1.1h-1.06zM96 75h1.06v2.1h-1.06zM97 -1h1.06v2.1h-1.06zM97 19h1.06v1.1h-1.06zM97 33h1.06v1.1h-1.06zM97 62h1.06v1.1h-1.06zM97 66h1.06v1.1h-1.06zM97 71h1.06v1.1h-1.06zM97 84h1.06v1.1h-1.06zM97 107h1.06v2.1h-1.06zM98 -1h1.06v2.1h-1.06zM98 67h1.06v1.1h-1.06zM98 71h1.06v1.1h-1.06zM98 84h1.06v1.1h-1.06zM98 89h1.06v1.1h-1.06zM98 91h1.06v1.1h-1.06zM98 93h1.06v1.1h-1.06zM98 106h1.06v1.1h-1.06zM99 6h1.06v1.1h-1.06zM99 8h1.06v1.1h-1.06zM99 33h1.06v1.1h-1.06zM99 37h1.06v1.1h-1.06zM99 47h1.06v1.1h-1.06zM99 53h1.06v1.1h-1.06zM99 59h1.06v1.1h-1.06zM99 70h1.06v1.1h-1.06zM99 72h1.06v1.1h-1.06zM99 84h1.06v1.1h-1.06zM100 3h1.06v1.1h-1.06zM100 26h1.06v1.1h-1.06zM100 60h1.06v1.1h-1.06zM100 78h1.06v1.1h-1.06zM100 93h1.06v1.1h-1.06zM100 105h1.06v1.1h-1.06zM101 3h1.06v1.1h-1.06zM101 26h1.06v1.1h-1.06zM101 60h1.06v1.1h-1.06zM101 78h1.06v1.1h-1.06zM101 93h1.06v1.1h-1.06zM101 105h1.06v1.1h-1.06z"/><path fill="#ef999d" d="M-1 5h1.06v1.1h-1.06zM-1 11h1.06v1.1h-1.06zM-1 21h1.06v1.1h-1.06zM-1 27h1.06v1.1h-1.06zM-1 55h1.06v1.1h-1.06zM-1 70h1.06v1.1h-1.06zM0 5h1.06v1.1h-1.06zM0 11h1.06v1.1h-1.06zM0 21h1.06v1.1h-1.06zM0 27h1.06v1.1h-1.06zM0 55h1.06v1.1h-1.06zM0 70h1.06v1.1h-1.06zM2 20h1.06v1.1h-1.06zM2 50h1.06v1.1h-1.06zM2 66h1.06v1.1h-1.06zM2 91h1.06v1.1h-1.06zM2 98h1.06v1.1h-1.06zM3 11h1.06v1.1h-1.06zM3 39h1.06v1.1h-1.06zM3 43h1.06v1.1h-1.06zM3 60h1.06v1.1h-1.06zM3 75h1.06v1.1h-1.06zM3 78h1.06v1.1h-1.06zM4 4h1.06v3.1h-1.06zM4 19h1.06v1.1h-1.06zM4 21h1.06v1.1h-1.06zM4 28h1.06v1.1h-1.06zM4 53h1.06v1.1h-1.06zM4 64h1.06v1.1h-1.06zM4 71h1.06v1.1h-1.06zM4 75h1.06v1.1h-1.06zM4 77h1.06v1.1h-1.06zM4 85h1.06v1.1h-1.06zM4 98h1.06v1.1h-1.06zM5 6h1.06v1.1h-1.06zM5 9h1.06v1.1h-1.06zM5 12h1.06v1.1h-1.06zM5 16h1.06v1.1h-1.06zM5 22h1.06v1.1h-1.06zM5 35h1.06v2.1h-1.06zM5 48h1.06v1.1h-1.06zM5 53h1.06v1.1h-1.06zM5 61h1.06v1.1h-1.06zM5 74h1.06v1.1h-1.06zM5 78h1.06v1.1h-1.06zM5 84h1.06v2.1h-1.06zM5 105h1.06v1.1h-1.06zM6 5h1.06v1.1h-1.06zM6 18h1.06v1.1h-1.06zM6 53h1.06v2.1h-1.06zM6 81h1.06v1.1h-1.06zM6 104h1.06v1.1h-1.06zM7 82h1.06v1.1h-1.06zM8 15h1.06v2.1h-1.06zM8 35h1.06v1.1h-1.06zM8 68h1.06v1.1h-1.06zM9 32h1.06v1.1h-1.06zM9 35h1.06v1.1h-1.06zM9 42h1.06v1.1h-1.06zM9 47h1.06v1.1h-1.06zM9 63h1.06v1.1h-1.06zM9 70h1.06v1.1h-1.06zM10 5h1.06v2.1h-1.06zM10 39h1.06v1.1h-1.06zM10 50h1.06v1.1h-1.06zM11 13h1.06v1.1h-1.06zM11 22h1.06v1.1h-1.06zM11 24h1.06v1.1h-1.06zM11 28h1.06v1.1h-1.06zM11 42h1.06v1.1h-1.06zM11 45h1.06v1.1h-1.06zM11 50h1.06v1.1h-1.06zM11 60h1.06v1.1h-1.06zM11 62h1.06v1.1h-1.06zM11 89h1.06v1.1h-1.06zM12 8h1.06v1.1h-1.06zM12 13h1.06v1.1h-1.06zM12 34h1.06v1.1h-1.06zM12 40h1.06v1.1h-1.06zM12 43h1.06v1.1h-1.06zM12 54h1.06v1.1h-1.06zM12 57h1.06v2.1h-1.06zM12 60h1.06v3.1h-1.06zM12 70h1.06v1.1h-1.06zM12 91h1.06v2.1h-1.06zM12 101h1.06v1.1h-1.06zM12 106h1.06v1.1h-1.06zM13 5h1.06v1.1h-1.06zM13 9h1.06v1.1h-1.06zM13 14h1.06v1.1h-1.06zM13 27h1.06v1.1h-1.06zM13 34h1.06v1.1h-1.06zM13 45h1.06v1.1h-1.06zM13 51h1.06v1.1h-1.06zM13 95h1.06v1.1h-1.06zM13 99h1.06v1.1h-1.06zM14 38h1.06v1.1h-1.06zM14 60h1.06v1.1h-1.06zM14 66h1.06v1.1h-1.06zM14 89h1.06v1.1h-1.06zM14 91h1.06v1.1h-1.06zM14 94h1.06v1.1h-1.06zM15 27h1.06v1.1h-1.06zM15 33h1.06v1.1h-1.06zM15 35h1.06v1.1h-1.06zM15 46h1.06v1.1h-1.06zM15 51h1.06v1.1h-1.06zM15 53h1.06v2.1h-1.06zM15 69h1.06v1.1h-1.06zM15 78h1.06v1.1h-1.06zM15 87h1.06v1.1h-1.06zM15 94h1.06v1.1h-1.06zM15 97h1.06v1.1h-1.06zM15 99h1.06v1.1h-1.06zM15 103h1.06v1.1h-1.06zM16 13h1.06v1.1h-1.06zM16 43h1.06v1.1h-1.06zM16 46h1.06v1.1h-1.06zM16 71h1.06v1.1h-1.06zM16 84h1.06v1.1h-1.06zM16 89h1.06v1.1h-1.06zM16 105h1.06v1.1h-1.06zM17 41h1.06v1.1h-1.06zM17 46h1.06v1.1h-1.06zM17 60h1.06v1.1h-1.06zM17 91h1.06v1.1h-1.06zM18 3h1.06v1.1h-1.06zM18 19h1.06v1.1h-1.06zM18 22h1.06v1.1h-1.06zM18 24h1.06v1.1h-1.06zM18 32h1.06v1.1h-1.06zM18 65h1.06v1.1h-1.06zM18 94h1.06v1.1h-1.06zM18 99h1.06v1.1h-1.06zM18 102h1.06v1.1h-1.06zM19 46h1.06v1.1h-1.06zM19 62h1.06v1.1h-1.06zM19 73h1.06v1.1h-1.06zM19 107h1.06v2.1h-1.06zM20 26h1.06v1.1h-1.06zM20 44h1.06v1.1h-1.06zM20 52h1.06v1.1h-1.06zM20 91h1.06v2.1h-1.06zM20 98h1.06v1.1h-1.06zM21 4h1.06v1.1h-1.06zM21 33h1.06v1.1h-1.06zM21 40h1.06v1.1h-1.06zM21 42h1.06v1.1h-1.06zM21 44h1.06v1.1h-1.06zM22 2h1.06v1.1h-1.06zM22 56h1.06v1.1h-1.06zM22 69h1.06v2.1h-1.06zM22 87h1.06v1.1h-1.06zM22 101h1.06v1.1h-1.06zM22 106h1.06v3.1h-1.06zM23 15h1.06v1.1h-1.06zM23 17h1.06v1.1h-1.06zM23 45h1.06v1.1h-1.06zM23 58h1.06v1.1h-1.06zM23 79h1.06v1.1h-1.06zM23 85h1.06v1.1h-1.06zM24 78h1.06v1.1h-1.06zM25 1h1.06v1.1h-1.06zM25 10h1.06v1.1h-1.06zM25 75h1.06v1.1h-1.06zM25 92h1.06v1.1h-1.06zM27 73h1.06v1.1h-1.06zM27 76h1.06v1.1h-1.06zM28 101h1.06v1.1h-1.06zM29 69h1.06v1.1h-1.06zM29 98h1.06v1.1h-1.06zM30 13h1.06v1.1h-1.06zM30 52h1.06v1.1h-1.06zM31 30h1.06v1.1h-1.06zM31 78h1.06v1.1h-1.06zM31 101h1.06v1.1h-1.06zM33 26h1.06v1.1h-1.06zM34 92h1.06v1.1h-1.06zM35 42h1.06v1.1h-1.06zM35 44h1.06v1.1h-1.06zM35 98h1.06v1.1h-1.06zM35 101h1.06v1.1h-1.06zM36 76h1.06v1.1h-1.06zM36 102h1.06v1.1h-1.06zM37 99h1.06v1.1h-1.06zM38 23h1.06v1.1h-1.06zM38 36h1.06v1.1h-1.06zM38 41h1.06v1.1h-1.06zM38 43h1.06v1.1h-1.06zM38 48h1.06v1.1h-1.06zM38 80h1.06v1.1h-1.06zM38 84h1.06v1.1h-1.06zM39 37h1.06v1.1h-1.06zM39 39h1.06v2.1h-1.06zM40 61h1.06v1.1h-1.06zM41 61h1.06v1.1h-1.06zM42 -1h1.06v2.1h-1.06zM42 55h1.06v1.1h-1.06zM42 69h1.06v1.1h-1.06zM42 81h1.06v1.1h-1.06zM42 101h1.06v1.1h-1.06zM43 27h1.06v1.1h-1.06zM43 64h1.06v1.1h-1.06zM43 69h1.06v2.1h-1.06zM43 85h1.06v1.1h-1.06zM43 93h1.06v1.1h-1.06zM43 106h1.06v1.1h-1.06zM44 85h1.06v1.1h-1.06zM45 44h1.06v1.1h-1.06zM45 73h1.06v1.1h-1.06zM45 80h1.06v1.1h-1.06zM45 107h1.06v2.1h-1.06zM46 62h1.06v1.1h-1.06zM46 94h1.06v1.1h-1.06zM47 17h1.06v1.1h-1.06zM47 37h1.06v1.1h-1.06zM47 44h1.06v1.1h-1.06zM47 62h1.06v1.1h-1.06zM50 28h1.06v1.1h-1.06zM50 31h1.06v1.1h-1.06zM52 56h1.06v1.1h-1.06zM53 57h1.06v1.1h-1.06zM53 65h1.06v1.1h-1.06zM53 80h1.06v2.1h-1.06zM53 94h1.06v1.1h-1.06zM54 1h1.06v1.1h-1.06zM54 88h1.06v1.1h-1.06zM54 94h1.06v1.1h-1.06zM55 -1h1.06v2.1h-1.06zM55 5h1.06v1.1h-1.06zM55 13h1.06v1.1h-1.06zM55 35h1.06v1.1h-1.06zM55 44h1.06v3.1h-1.06zM55 51h1.06v1.1h-1.06zM57 10h1.06v1.1h-1.06zM57 14h1.06v1.1h-1.06zM57 25h1.06v1.1h-1.06zM57 29h1.06v1.1h-1.06zM57 33h1.06v1.1h-1.06zM58 26h1.06v1.1h-1.06zM59 8h1.06v1.1h-1.06zM59 47h1.06v1.1h-1.06zM59 63h1.06v1.1h-1.06zM59 71h1.06v1.1h-1.06zM59 83h1.06v1.1h-1.06zM59 87h1.06v1.1h-1.06zM59 96h1.06v1.1h-1.06zM59 106h1.06v1.1h-1.06zM60 26h1.06v1.1h-1.06zM60 44h1.06v1.1h-1.06zM60 65h1.06v1.1h-1.06zM60 75h1.06v1.1h-1.06zM60 78h1.06v1.1h-1.06zM60 98h1.06v1.1h-1.06zM60 101h1.06v1.1h-1.06zM61 57h1.06v1.1h-1.06zM61 68h1.06v1.1h-1.06zM61 95h1.06v2.1h-1.06zM61 105h1.06v1.1h-1.06zM62 24h1.06v1.1h-1.06zM62 35h1.06v1.1h-1.06zM62 38h1.06v1.1h-1.06zM62 64h1.06v1.1h-1.06zM62 72h1.06v2.1h-1.06zM62 75h1.06v1.1h-1.06zM62 79h1.06v1.1h-1.06zM62 103h1.06v1.1h-1.06zM63 5h1.06v1.1h-1.06zM63 52h1.06v1.1h-1.06zM63 92h1.06v1.1h-1.06zM64 99h1.06v1.1h-1.06zM65 10h1.06v1.1h-1.06zM65 17h1.06v1.1h-1.06zM65 22h1.06v1.1h-1.06zM65 29h1.06v1.1h-1.06zM65 102h1.06v1.1h-1.06zM66 9h1.06v1.1h-1.06zM66 11h1.06v1.1h-1.06zM66 42h1.06v2.1h-1.06zM66 49h1.06v1.1h-1.06zM66 61h1.06v1.1h-1.06zM66 66h1.06v1.1h-1.06zM66 68h1.06v1.1h-1.06zM66 71h1.06v1.1h-1.06zM66 75h1.06v1.1h-1.06zM66 80h1.06v1.1h-1.06zM66 83h1.06v1.1h-1.06zM66 96h1.06v1.1h-1.06zM67 26h1.06v1.1h-1.06zM67 39h1.06v1.1h-1.06zM67 88h1.06v1.1h-1.06zM67 101h1.06v1.1h-1.06zM69 98h1.06v1.1h-1.06zM71 37h1.06v1.1h-1.06zM71 40h1.06v1.1h-1.06zM71 49h1.06v1.1h-1.06zM71 64h1.06v1.1h-1.06zM71 78h1.06v1.1h-1.06zM71 92h1.06v1.1h-1.06zM72 3h1.06v1.1h-1.06zM72 21h1.06v1.1h-1.06zM72 31h1.06v1.1h-1.06zM72 35h1.06v1.1h-1.06zM72 45h1.06v1.1h-1.06zM72 66h1.06v1.1h-1.06zM72 70h1.06v1.1h-1.06zM72 100h1.06v1.1h-1.06zM73 1h1.06v1.1h-1.06zM73 39h1.06v1.1h-1.06zM73 59h1.06v2.1h-1.06zM73 62h1.06v1.1h-1.06zM73 64h1.06v1.1h-1.06zM73 71h1.06v2.1h-1.06zM73 88h1.06v1.1h-1.06zM73 101h1.06v1.1h-1.06zM73 104h1.06v1.1h-1.06zM74 74h1.06v1.1h-1.06zM74 81h1.06v1.1h-1.06zM75 26h1.06v1.1h-1.06zM75 68h1.06v1.1h-1.06zM76 8h1.06v1.1h-1.06zM76 10h1.06v1.1h-1.06zM77 3h1.06v1.1h-1.06zM77 8h1.06v1.1h-1.06zM77 71h1.06v1.1h-1.06zM77 78h1.06v1.1h-1.06zM78 81h1.06v1.1h-1.06zM78 85h1.06v1.1h-1.06zM79 4h1.06v1.1h-1.06zM81 56h1.06v1.1h-1.06zM81 78h1.06v1.1h-1.06zM83 80h1.06v1.1h-1.06zM83 88h1.06v1.1h-1.06zM84 2h1.06v1.1h-1.06zM84 47h1.06v1.1h-1.06zM85 5h1.06v1.1h-1.06zM85 14h1.06v1.1h-1.06zM85 36h1.06v1.1h-1.06zM85 38h1.06v1.1h-1.06zM85 41h1.06v1.1h-1.06zM85 54h1.06v1.1h-1.06zM85 57h1.06v1.1h-1.06zM85 87h1.06v1.1h-1.06zM85 102h1.06v1.1h-1.06zM86 5h1.06v1.1h-1.06zM86 14h1.06v1.1h-1.06zM86 46h1.06v1.1h-1.06zM86 85h1.06v1.1h-1.06zM87 5h1.06v1.1h-1.06zM87 18h1.06v1.1h-1.06zM87 31h1.06v1.1h-1.06zM87 34h1.06v1.1h-1.06zM87 42h1.06v1.1h-1.06zM87 94h1.06v1.1h-1.06zM88 21h1.06v2.1h-1.06zM88 27h1.06v1.1h-1.06zM88 48h1.06v1.1h-1.06zM88 53h1.06v1.1h-1.06zM88 64h1.06v1.1h-1.06zM88 66h1.06v1.1h-1.06zM88 69h1.06v1.1h-1.06zM88 76h1.06v1.1h-1.06zM88 79h1.06v1.1h-1.06zM88 82h1.06v2.1h-1.06zM88 85h1.06v1.1h-1.06zM88 93h1.06v2.1h-1.06zM88 101h1.06v1.1h-1.06zM88 103h1.06v1.1h-1.06zM89 21h1.06v1.1h-1.06zM89 44h1.06v1.1h-1.06zM89 56h1.06v1.1h-1.06zM89 62h1.06v1.1h-1.06zM89 68h1.06v1.1h-1.06zM89 70h1.06v1.1h-1.06zM89 77h1.06v1.1h-1.06zM89 99h1.06v1.1h-1.06zM90 5h1.06v1.1h-1.06zM90 37h1.06v1.1h-1.06zM90 39h1.06v1.1h-1.06zM90 42h1.06v1.1h-1.06zM90 45h1.06v1.1h-1.06zM90 64h1.06v1.1h-1.06zM90 73h1.06v1.1h-1.06zM90 98h1.06v2.1h-1.06zM90 102h1.06v1.1h-1.06zM91 4h1.06v1.1h-1.06zM91 11h1.06v1.1h-1.06zM91 13h1.06v1.1h-1.06zM91 15h1.06v2.1h-1.06zM91 38h1.06v1.1h-1.06zM91 45h1.06v1.1h-1.06zM91 49h1.06v1.1h-1.06zM91 102h1.06v1.1h-1.06zM92 44h1.06v1.1h-1.06zM93 66h1.06v1.1h-1.06zM93 105h1.06v1.1h-1.06zM94 44h1.06v1.1h-1.06zM94 52h1.06v1.1h-1.06zM94 61h1.06v1.1h-1.06zM94 64h1.06v1.1h-1.06zM95 79h1.06v1.1h-1.06zM95 88h1.06v1.1h-1.06zM95 93h1.06v1.1h-1.06zM95 99h1.06v1.1h-1.06zM95 106h1.06v1.1h-1.06zM96 6h1.06v1.1h-1.06zM96 14h1.06v1.1h-1.06zM96 32h1.06v1.1h-1.06zM96 39h1.06v1.1h-1.06zM96 71h1.06v1.1h-1.06zM97 14h1.06v1.1h-1.06zM97 27h1.06v1.1h-1.06zM97 29h1.06v1.1h-1.06zM97 54h1.06v1.1h-1.06zM97 64h1.06v1.1h-1.06zM97 85h1.06v1.1h-1.06zM97 105h1.06v1.1h-1.06zM98 58h1.06v2.1h-1.06zM98 68h1.06v1.1h-1.06zM98 87h1.06v1.1h-1.06zM98 94h1.06v1.1h-1.06zM98 97h1.06v1.1h-1.06zM99 19h1.06v1.1h-1.06zM99 24h1.06v1.1h-1.06zM99 41h1.06v1.1h-1.06zM99 52h1.06v1.1h-1.06zM99 66h1.06v1.1h-1.06zM99 71h1.06v1.1h-1.06zM99 98h1.06v2.1h-1.06zM99 101h1.06v1.1h-1.06zM100 69h1.06v1.1h-1.06zM100 102h1.06v1.1h-1.06zM101 69h1.06v1.1h-1.06zM101 102h1.06v1.1h-1.06z"/><path fill="#ed8287" d="M-1 4h1.06v1.1h-1.06zM-1 9h1.06v1.1h-1.06zM-1 15h1.06v2.1h-1.06zM-1 29h1.06v4.1h-1.06zM-1 93h1.06v1.1h-1.06zM0 4h1.06v1.1h-1.06zM0 9h1.06v1.1h-1.06zM0 15h1.06v2.1h-1.06zM0 29h1.06v4.1h-1.06zM0 93h1.06v1.1h-1.06zM1 70h1.06v1.1h-1.06zM2 37h1.06v1.1h-1.06zM2 61h1.06v1.1h-1.06zM2 71h1.06v1.1h-1.06zM2 73h1.06v1.1h-1.06zM2 99h1.06v1.1h-1.06zM2 101h1.06v1.1h-1.06zM2 106h1.06v3.1h-1.06zM3 20h1.06v1.1h-1.06zM3 26h1.06v1.1h-1.06zM3 32h1.06v1.1h-1.06zM3 44h1.06v1.1h-1.06zM3 57h1.06v1.1h-1.06zM3 61h1.06v1.1h-1.06zM3 67h1.06v1.1h-1.06zM3 81h1.06v1.1h-1.06zM3 85h1.06v1.1h-1.06zM4 24h1.06v1.1h-1.06zM4 26h1.06v1.1h-1.06zM4 39h1.06v2.1h-1.06zM4 51h1.06v1.1h-1.06zM4 54h1.06v1.1h-1.06zM4 57h1.06v2.1h-1.06zM4 73h1.06v1.1h-1.06zM4 84h1.06v1.1h-1.06zM4 89h1.06v1.1h-1.06zM4 102h1.06v1.1h-1.06zM4 106h1.06v1.1h-1.06zM5 20h1.06v2.1h-1.06zM5 26h1.06v2.1h-1.06zM5 51h1.06v1.1h-1.06zM5 65h1.06v1.1h-1.06zM5 87h1.06v2.1h-1.06zM5 95h1.06v1.1h-1.06zM5 102h1.06v1.1h-1.06zM6 8h1.06v1.1h-1.06zM6 21h1.06v1.1h-1.06zM6 27h1.06v1.1h-1.06zM6 57h1.06v1.1h-1.06zM6 69h1.06v2.1h-1.06zM6 74h1.06v1.1h-1.06zM6 77h1.06v1.1h-1.06zM6 82h1.06v1.1h-1.06zM6 106h1.06v1.1h-1.06zM7 7h1.06v1.1h-1.06zM7 17h1.06v1.1h-1.06zM8 4h1.06v1.1h-1.06zM8 21h1.06v1.1h-1.06zM8 39h1.06v1.1h-1.06zM8 42h1.06v1.1h-1.06zM8 61h1.06v1.1h-1.06zM8 63h1.06v1.1h-1.06zM8 94h1.06v1.1h-1.06zM9 4h1.06v1.1h-1.06zM9 6h1.06v1.1h-1.06zM9 19h1.06v1.1h-1.06zM9 24h1.06v1.1h-1.06zM9 44h1.06v1.1h-1.06zM9 53h1.06v1.1h-1.06zM9 59h1.06v1.1h-1.06zM9 85h1.06v1.1h-1.06zM10 28h1.06v1.1h-1.06zM10 35h1.06v1.1h-1.06zM10 43h1.06v1.1h-1.06zM10 48h1.06v1.1h-1.06zM11 4h1.06v1.1h-1.06zM11 7h1.06v1.1h-1.06zM11 17h1.06v1.1h-1.06zM11 20h1.06v1.1h-1.06zM11 39h1.06v1.1h-1.06zM11 49h1.06v1.1h-1.06zM11 65h1.06v1.1h-1.06zM11 67h1.06v1.1h-1.06zM11 69h1.06v3.1h-1.06zM11 78h1.06v1.1h-1.06zM11 95h1.06v1.1h-1.06zM11 97h1.06v1.1h-1.06zM11 100h1.06v1.1h-1.06zM11 102h1.06v1.1h-1.06zM12 24h1.06v1.1h-1.06zM12 29h1.06v2.1h-1.06zM12 50h1.06v1.1h-1.06zM13 24h1.06v1.1h-1.06zM13 26h1.06v1.1h-1.06zM13 28h1.06v1.1h-1.06zM13 31h1.06v1.1h-1.06zM13 38h1.06v1.1h-1.06zM13 44h1.06v1.1h-1.06zM13 49h1.06v2.1h-1.06zM13 55h1.06v1.1h-1.06zM13 71h1.06v1.1h-1.06zM13 105h1.06v1.1h-1.06zM14 30h1.06v1.1h-1.06zM14 32h1.06v1.1h-1.06zM14 46h1.06v1.1h-1.06zM14 54h1.06v2.1h-1.06zM14 65h1.06v1.1h-1.06zM14 69h1.06v2.1h-1.06zM14 78h1.06v2.1h-1.06zM14 92h1.06v1.1h-1.06zM15 34h1.06v1.1h-1.06zM15 61h1.06v1.1h-1.06zM15 88h1.06v1.1h-1.06zM16 6h1.06v1.1h-1.06zM16 8h1.06v1.1h-1.06zM16 78h1.06v1.1h-1.06zM16 86h1.06v1.1h-1.06zM16 93h1.06v2.1h-1.06zM16 107h1.06v2.1h-1.06zM17 5h1.06v1.1h-1.06zM17 38h1.06v1.1h-1.06zM17 45h1.06v1.1h-1.06zM17 72h1.06v2.1h-1.06zM17 79h1.06v1.1h-1.06zM17 87h1.06v1.1h-1.06zM17 92h1.06v1.1h-1.06zM17 94h1.06v1.1h-1.06zM17 98h1.06v1.1h-1.06zM17 100h1.06v1.1h-1.06zM17 102h1.06v1.1h-1.06zM17 106h1.06v1.1h-1.06zM18 7h1.06v1.1h-1.06zM18 27h1.06v1.1h-1.06zM18 50h1.06v1.1h-1.06zM18 66h1.06v1.1h-1.06zM18 69h1.06v1.1h-1.06zM19 48h1.06v1.1h-1.06zM19 70h1.06v1.1h-1.06zM19 72h1.06v1.1h-1.06zM19 91h1.06v1.1h-1.06zM19 96h1.06v1.1h-1.06zM20 12h1.06v1.1h-1.06zM20 15h1.06v1.1h-1.06zM20 21h1.06v1.1h-1.06zM20 24h1.06v1.1h-1.06zM20 28h1.06v1.1h-1.06zM20 32h1.06v1.1h-1.06zM20 35h1.06v1.1h-1.06zM20 48h1.06v1.1h-1.06zM20 59h1.06v1.1h-1.06zM20 62h1.06v1.1h-1.06zM20 68h1.06v1.1h-1.06zM20 76h1.06v1.1h-1.06zM20 79h1.06v1.1h-1.06zM20 94h1.06v1.1h-1.06zM20 96h1.06v1.1h-1.06zM21 7h1.06v1.1h-1.06zM21 19h1.06v1.1h-1.06zM21 21h1.06v1.1h-1.06zM21 24h1.06v1.1h-1.06zM21 30h1.06v1.1h-1.06zM21 32h1.06v1.1h-1.06zM21 34h1.06v1.1h-1.06zM21 43h1.06v1.1h-1.06zM21 45h1.06v1.1h-1.06zM22 94h1.06v1.1h-1.06zM22 100h1.06v1.1h-1.06zM23 14h1.06v1.1h-1.06zM23 24h1.06v1.1h-1.06zM23 40h1.06v1.1h-1.06zM23 56h1.06v1.1h-1.06zM23 64h1.06v1.1h-1.06zM23 66h1.06v1.1h-1.06zM23 77h1.06v1.1h-1.06zM23 80h1.06v2.1h-1.06zM23 94h1.06v1.1h-1.06zM23 97h1.06v2.1h-1.06zM25 25h1.06v1.1h-1.06zM25 52h1.06v1.1h-1.06zM25 81h1.06v1.1h-1.06zM27 7h1.06v1.1h-1.06zM27 52h1.06v1.1h-1.06zM30 6h1.06v1.1h-1.06zM30 15h1.06v1.1h-1.06zM31 87h1.06v1.1h-1.06zM33 41h1.06v1.1h-1.06zM34 96h1.06v1.1h-1.06zM35 71h1.06v1.1h-1.06zM35 99h1.06v1.1h-1.06zM38 9h1.06v1.1h-1.06zM38 34h1.06v2.1h-1.06zM38 39h1.06v1.1h-1.06zM38 49h1.06v1.1h-1.06zM38 61h1.06v1.1h-1.06zM38 88h1.06v1.1h-1.06zM41 57h1.06v1.1h-1.06zM41 80h1.06v1.1h-1.06zM41 105h1.06v1.1h-1.06zM42 34h1.06v1.1h-1.06zM42 61h1.06v1.1h-1.06zM42 72h1.06v1.1h-1.06zM42 98h1.06v1.1h-1.06zM43 61h1.06v1.1h-1.06zM43 77h1.06v1.1h-1.06zM43 89h1.06v1.1h-1.06zM43 102h1.06v1.1h-1.06zM45 98h1.06v1.1h-1.06zM45 105h1.06v1.1h-1.06zM46 68h1.06v1.1h-1.06zM46 93h1.06v1.1h-1.06zM49 26h1.06v1.1h-1.06zM52 66h1.06v1.1h-1.06zM53 105h1.06v1.1h-1.06zM54 68h1.06v1.1h-1.06zM55 3h1.06v1.1h-1.06zM55 10h1.06v1.1h-1.06zM55 30h1.06v1.1h-1.06zM55 42h1.06v1.1h-1.06zM57 5h1.06v1.1h-1.06zM57 26h1.06v1.1h-1.06zM59 21h1.06v1.1h-1.06zM59 60h1.06v2.1h-1.06zM59 64h1.06v1.1h-1.06zM59 74h1.06v1.1h-1.06zM59 102h1.06v1.1h-1.06zM59 105h1.06v1.1h-1.06zM60 69h1.06v1.1h-1.06zM62 5h1.06v1.1h-1.06zM62 13h1.06v1.1h-1.06zM62 19h1.06v1.1h-1.06zM62 25h1.06v1.1h-1.06zM62 47h1.06v1.1h-1.06zM62 78h1.06v1.1h-1.06zM62 88h1.06v1.1h-1.06zM62 101h1.06v1.1h-1.06zM63 96h1.06v1.1h-1.06zM64 8h1.06v1.1h-1.06zM64 52h1.06v1.1h-1.06zM64 67h1.06v1.1h-1.06zM65 52h1.06v1.1h-1.06zM65 57h1.06v1.1h-1.06zM65 62h1.06v1.1h-1.06zM65 76h1.06v3.1h-1.06zM65 105h1.06v1.1h-1.06zM66 2h1.06v1.1h-1.06zM66 6h1.06v1.1h-1.06zM66 21h1.06v1.1h-1.06zM66 37h1.06v1.1h-1.06zM66 52h1.06v1.1h-1.06zM66 94h1.06v1.1h-1.06zM66 99h1.06v1.1h-1.06zM67 66h1.06v1.1h-1.06zM67 102h1.06v1.1h-1.06zM69 78h1.06v1.1h-1.06zM70 24h1.06v1.1h-1.06zM71 18h1.06v1.1h-1.06zM71 27h1.06v3.1h-1.06zM72 10h1.06v1.1h-1.06zM72 17h1.06v1.1h-1.06zM72 33h1.06v1.1h-1.06zM72 42h1.06v1.1h-1.06zM72 75h1.06v1.1h-1.06zM72 81h1.06v1.1h-1.06zM72 98h1.06v1.1h-1.06zM73 57h1.06v1.1h-1.06zM73 75h1.06v2.1h-1.06zM73 86h1.06v1.1h-1.06zM73 92h1.06v1.1h-1.06zM73 94h1.06v1.1h-1.06zM73 96h1.06v1.1h-1.06zM75 10h1.06v1.1h-1.06zM75 44h1.06v1.1h-1.06zM75 73h1.06v1.1h-1.06zM75 80h1.06v1.1h-1.06zM76 66h1.06v1.1h-1.06zM76 85h1.06v1.1h-1.06zM77 10h1.06v1.1h-1.06zM77 31h1.06v1.1h-1.06zM77 88h1.06v1.1h-1.06zM80 69h1.06v1.1h-1.06zM80 77h1.06v1.1h-1.06zM80 80h1.06v1.1h-1.06zM80 83h1.06v1.1h-1.06zM83 69h1.06v1.1h-1.06zM85 29h1.06v1.1h-1.06zM85 33h1.06v1.1h-1.06zM85 45h1.06v1.1h-1.06zM85 50h1.06v1.1h-1.06zM85 78h1.06v1.1h-1.06zM85 94h1.06v1.1h-1.06zM85 96h1.06v1.1h-1.06zM85 101h1.06v1.1h-1.06zM85 105h1.06v1.1h-1.06zM86 7h1.06v1.1h-1.06zM86 33h1.06v1.1h-1.06zM86 44h1.06v1.1h-1.06zM87 11h1.06v1.1h-1.06zM87 19h1.06v1.1h-1.06zM87 26h1.06v1.1h-1.06zM87 28h1.06v1.1h-1.06zM87 30h1.06v1.1h-1.06zM87 40h1.06v1.1h-1.06zM88 6h1.06v1.1h-1.06zM88 41h1.06v1.1h-1.06zM88 49h1.06v1.1h-1.06zM88 54h1.06v1.1h-1.06zM88 57h1.06v1.1h-1.06zM88 72h1.06v1.1h-1.06zM88 75h1.06v1.1h-1.06zM88 99h1.06v2.1h-1.06zM89 38h1.06v1.1h-1.06zM89 41h1.06v1.1h-1.06zM89 57h1.06v1.1h-1.06zM89 78h1.06v1.1h-1.06zM89 80h1.06v2.1h-1.06zM89 94h1.06v1.1h-1.06zM89 101h1.06v1.1h-1.06zM90 14h1.06v1.1h-1.06zM90 16h1.06v1.1h-1.06zM90 18h1.06v1.1h-1.06zM90 24h1.06v1.1h-1.06zM90 28h1.06v1.1h-1.06zM90 46h1.06v1.1h-1.06zM90 52h1.06v1.1h-1.06zM90 59h1.06v1.1h-1.06zM90 92h1.06v1.1h-1.06zM90 104h1.06v1.1h-1.06zM91 3h1.06v1.1h-1.06zM91 9h1.06v1.1h-1.06zM91 14h1.06v1.1h-1.06zM91 18h1.06v1.1h-1.06zM91 33h1.06v1.1h-1.06zM91 36h1.06v1.1h-1.06zM91 52h1.06v1.1h-1.06zM91 55h1.06v1.1h-1.06zM91 66h1.06v1.1h-1.06zM93 61h1.06v1.1h-1.06zM94 26h1.06v1.1h-1.06zM95 14h1.06v1.1h-1.06zM95 32h1.06v1.1h-1.06zM95 37h1.06v2.1h-1.06zM95 47h1.06v1.1h-1.06zM95 49h1.06v1.1h-1.06zM95 55h1.06v1.1h-1.06zM95 69h1.06v1.1h-1.06zM95 100h1.06v1.1h-1.06zM96 52h1.06v1.1h-1.06zM96 80h1.06v1.1h-1.06zM97 34h1.06v1.1h-1.06zM97 48h1.06v1.1h-1.06zM97 92h1.06v1.1h-1.06zM98 55h1.06v2.1h-1.06zM98 60h1.06v1.1h-1.06zM98 64h1.06v1.1h-1.06zM98 72h1.06v1.1h-1.06zM98 86h1.06v1.1h-1.06zM98 92h1.06v1.1h-1.06zM98 105h1.06v1.1h-1.06zM99 80h1.06v1.1h-1.06zM99 102h1.06v1.1h-1.06zM100 76h1.06v1.1h-1.06zM100 94h1.06v1.1h-1.06zM101 76h1.06v1.1h-1.06zM101 94h1.06v1.1h-1.06z"/><path fill="#eb6a6f" d="M-1 6h1.06v2.1h-1.06zM-1 13h1.06v1.1h-1.06zM-1 34h1.06v1.1h-1.06zM-1 37h1.06v1.1h-1.06zM-1 40h1.06v1.1h-1.06zM-1 48h1.06v1.1h-1.06zM-1 58h1.06v1.1h-1.06zM0 6h1.06v2.1h-1.06zM0 13h1.06v1.1h-1.06zM0 34h1.06v1.1h-1.06zM0 37h1.06v1.1h-1.06zM0 40h1.06v1.1h-1.06zM0 48h1.06v1.1h-1.06zM0 58h1.06v1.1h-1.06zM1 77h1.06v1.1h-1.06zM2 36h1.06v1.1h-1.06zM2 60h1.06v1.1h-1.06zM2 65h1.06v1.1h-1.06zM2 103h1.06v1.1h-1.06zM3 6h1.06v1.1h-1.06zM3 34h1.06v1.1h-1.06zM3 42h1.06v1.1h-1.06zM3 59h1.06v1.1h-1.06zM3 77h1.06v1.1h-1.06zM3 83h1.06v2.1h-1.06zM4 11h1.06v1.1h-1.06zM4 22h1.06v1.1h-1.06zM4 25h1.06v1.1h-1.06zM4 35h1.06v1.1h-1.06zM4 55h1.06v1.1h-1.06zM4 59h1.06v1.1h-1.06zM4 69h1.06v1.1h-1.06zM4 79h1.06v2.1h-1.06zM5 7h1.06v1.1h-1.06zM5 29h1.06v1.1h-1.06zM5 99h1.06v1.1h-1.06zM5 103h1.06v1.1h-1.06zM6 9h1.06v1.1h-1.06zM6 103h1.06v1.1h-1.06zM8 10h1.06v1.1h-1.06zM8 23h1.06v2.1h-1.06zM8 27h1.06v1.1h-1.06zM8 92h1.06v1.1h-1.06zM8 99h1.06v1.1h-1.06zM8 102h1.06v1.1h-1.06zM9 9h1.06v1.1h-1.06zM9 11h1.06v1.1h-1.06zM9 13h1.06v1.1h-1.06zM9 21h1.06v2.1h-1.06zM9 26h1.06v1.1h-1.06zM9 38h1.06v1.1h-1.06zM9 50h1.06v1.1h-1.06zM9 82h1.06v1.1h-1.06zM9 84h1.06v1.1h-1.06zM10 10h1.06v1.1h-1.06zM10 53h1.06v1.1h-1.06zM11 21h1.06v1.1h-1.06zM11 40h1.06v1.1h-1.06zM11 47h1.06v1.1h-1.06zM11 106h1.06v1.1h-1.06zM12 4h1.06v1.1h-1.06zM12 35h1.06v1.1h-1.06zM12 41h1.06v1.1h-1.06zM12 48h1.06v1.1h-1.06zM12 65h1.06v1.1h-1.06zM12 87h1.06v1.1h-1.06zM13 11h1.06v1.1h-1.06zM13 25h1.06v1.1h-1.06zM13 63h1.06v1.1h-1.06zM13 86h1.06v1.1h-1.06zM14 4h1.06v1.1h-1.06zM14 22h1.06v1.1h-1.06zM14 36h1.06v1.1h-1.06zM14 44h1.06v1.1h-1.06zM14 47h1.06v1.1h-1.06zM14 58h1.06v1.1h-1.06zM14 100h1.06v1.1h-1.06zM14 102h1.06v1.1h-1.06zM15 56h1.06v1.1h-1.06zM15 89h1.06v1.1h-1.06zM15 95h1.06v1.1h-1.06zM16 34h1.06v1.1h-1.06zM16 44h1.06v1.1h-1.06zM16 59h1.06v1.1h-1.06zM16 61h1.06v1.1h-1.06zM16 63h1.06v1.1h-1.06zM16 75h1.06v1.1h-1.06zM16 77h1.06v1.1h-1.06zM17 9h1.06v1.1h-1.06zM17 11h1.06v1.1h-1.06zM17 17h1.06v2.1h-1.06zM17 24h1.06v1.1h-1.06zM17 29h1.06v1.1h-1.06zM17 33h1.06v2.1h-1.06zM17 42h1.06v1.1h-1.06zM17 47h1.06v3.1h-1.06zM17 63h1.06v2.1h-1.06zM17 69h1.06v1.1h-1.06zM17 71h1.06v1.1h-1.06zM17 74h1.06v3.1h-1.06zM17 96h1.06v1.1h-1.06zM18 9h1.06v1.1h-1.06zM18 34h1.06v1.1h-1.06zM18 42h1.06v1.1h-1.06zM18 54h1.06v1.1h-1.06zM18 77h1.06v1.1h-1.06zM18 82h1.06v1.1h-1.06zM18 105h1.06v2.1h-1.06zM19 40h1.06v1.1h-1.06zM19 49h1.06v1.1h-1.06zM19 51h1.06v1.1h-1.06zM19 69h1.06v1.1h-1.06zM19 78h1.06v1.1h-1.06zM19 94h1.06v1.1h-1.06zM20 6h1.06v1.1h-1.06zM20 10h1.06v1.1h-1.06zM20 23h1.06v1.1h-1.06zM20 29h1.06v1.1h-1.06zM20 33h1.06v1.1h-1.06zM20 37h1.06v3.1h-1.06zM20 41h1.06v1.1h-1.06zM20 47h1.06v1.1h-1.06zM20 51h1.06v1.1h-1.06zM20 69h1.06v1.1h-1.06zM20 90h1.06v1.1h-1.06zM20 100h1.06v2.1h-1.06zM20 106h1.06v1.1h-1.06zM21 6h1.06v1.1h-1.06zM21 22h1.06v1.1h-1.06zM21 29h1.06v1.1h-1.06zM22 58h1.06v1.1h-1.06zM22 64h1.06v1.1h-1.06zM22 74h1.06v1.1h-1.06zM22 96h1.06v1.1h-1.06zM23 7h1.06v1.1h-1.06zM23 34h1.06v2.1h-1.06zM23 54h1.06v1.1h-1.06zM23 78h1.06v1.1h-1.06zM23 83h1.06v1.1h-1.06zM27 72h1.06v1.1h-1.06zM29 78h1.06v1.1h-1.06zM30 11h1.06v2.1h-1.06zM30 14h1.06v1.1h-1.06zM31 57h1.06v1.1h-1.06zM31 96h1.06v1.1h-1.06zM33 52h1.06v1.1h-1.06zM34 62h1.06v1.1h-1.06zM34 75h1.06v1.1h-1.06zM38 10h1.06v1.1h-1.06zM38 33h1.06v1.1h-1.06zM38 42h1.06v1.1h-1.06zM38 77h1.06v1.1h-1.06zM38 83h1.06v1.1h-1.06zM38 101h1.06v1.1h-1.06zM39 12h1.06v1.1h-1.06zM39 44h1.06v1.1h-1.06zM42 78h1.06v1.1h-1.06zM42 84h1.06v1.1h-1.06zM42 102h1.06v1.1h-1.06zM43 55h1.06v1.1h-1.06zM43 75h1.06v1.1h-1.06zM43 94h1.06v1.1h-1.06zM45 69h1.06v1.1h-1.06zM46 2h1.06v1.1h-1.06zM46 55h1.06v1.1h-1.06zM46 69h1.06v1.1h-1.06zM47 14h1.06v1.1h-1.06zM52 101h1.06v1.1h-1.06zM53 83h1.06v1.1h-1.06zM54 98h1.06v1.1h-1.06zM55 8h1.06v1.1h-1.06zM55 25h1.06v1.1h-1.06zM57 6h1.06v1.1h-1.06zM57 34h1.06v1.1h-1.06zM57 38h1.06v1.1h-1.06zM57 40h1.06v1.1h-1.06zM57 44h1.06v1.1h-1.06zM59 10h1.06v1.1h-1.06zM59 27h1.06v1.1h-1.06zM59 65h1.06v2.1h-1.06zM59 69h1.06v1.1h-1.06zM59 80h1.06v1.1h-1.06zM59 82h1.06v1.1h-1.06zM59 85h1.06v1.1h-1.06zM60 64h1.06v1.1h-1.06zM60 70h1.06v1.1h-1.06zM60 89h1.06v1.1h-1.06zM60 96h1.06v1.1h-1.06zM62 8h1.06v1.1h-1.06zM62 20h1.06v1.1h-1.06zM62 94h1.06v1.1h-1.06zM63 98h1.06v1.1h-1.06zM63 105h1.06v1.1h-1.06zM64 1h1.06v1.1h-1.06zM66 17h1.06v1.1h-1.06zM66 35h1.06v1.1h-1.06zM66 39h1.06v1.1h-1.06zM66 47h1.06v1.1h-1.06zM66 76h1.06v1.1h-1.06zM69 2h1.06v1.1h-1.06zM70 62h1.06v1.1h-1.06zM70 83h1.06v1.1h-1.06zM70 102h1.06v1.1h-1.06zM71 13h1.06v1.1h-1.06zM71 19h1.06v1.1h-1.06zM71 26h1.06v1.1h-1.06zM71 44h1.06v1.1h-1.06zM72 18h1.06v2.1h-1.06zM72 24h1.06v1.1h-1.06zM72 32h1.06v1.1h-1.06zM72 40h1.06v1.1h-1.06zM72 72h1.06v1.1h-1.06zM72 88h1.06v1.1h-1.06zM73 56h1.06v1.1h-1.06zM73 58h1.06v1.1h-1.06zM73 81h1.06v1.1h-1.06zM73 103h1.06v1.1h-1.06zM74 57h1.06v1.1h-1.06zM76 55h1.06v1.1h-1.06zM76 83h1.06v1.1h-1.06zM77 94h1.06v1.1h-1.06zM79 2h1.06v1.1h-1.06zM79 16h1.06v1.1h-1.06zM80 78h1.06v1.1h-1.06zM80 82h1.06v1.1h-1.06zM83 74h1.06v1.1h-1.06zM85 8h1.06v1.1h-1.06zM85 17h1.06v1.1h-1.06zM85 35h1.06v1.1h-1.06zM85 44h1.06v1.1h-1.06zM85 48h1.06v1.1h-1.06zM86 18h1.06v1.1h-1.06zM86 92h1.06v1.1h-1.06zM87 1h1.06v1.1h-1.06zM87 17h1.06v1.1h-1.06zM87 47h1.06v1.1h-1.06zM88 -1h1.06v2.1h-1.06zM88 14h1.06v1.1h-1.06zM88 19h1.06v1.1h-1.06zM88 24h1.06v1.1h-1.06zM88 28h1.06v1.1h-1.06zM88 30h1.06v1.1h-1.06zM88 42h1.06v1.1h-1.06zM88 46h1.06v1.1h-1.06zM88 56h1.06v1.1h-1.06zM88 104h1.06v1.1h-1.06zM89 69h1.06v1.1h-1.06zM90 44h1.06v1.1h-1.06zM90 105h1.06v1.1h-1.06zM93 44h1.06v1.1h-1.06zM94 2h1.06v1.1h-1.06zM95 34h1.06v1.1h-1.06zM95 64h1.06v1.1h-1.06zM95 72h1.06v1.1h-1.06zM95 80h1.06v1.1h-1.06zM95 94h1.06v1.1h-1.06zM95 98h1.06v1.1h-1.06zM96 16h1.06v1.1h-1.06zM96 21h1.06v1.1h-1.06zM97 20h1.06v1.1h-1.06zM97 23h1.06v1.1h-1.06zM97 42h1.06v1.1h-1.06zM97 57h1.06v1.1h-1.06zM97 76h1.06v1.1h-1.06zM98 65h1.06v1.1h-1.06zM98 76h1.06v1.1h-1.06zM98 79h1.06v1.1h-1.06zM99 10h1.06v1.1h-1.06zM99 31h1.06v1.1h-1.06zM99 38h1.06v1.1h-1.06zM99 62h1.06v1.1h-1.06zM100 5h1.06v1.1h-1.06zM100 19h1.06v1.1h-1.06zM100 32h1.06v1.1h-1.06zM100 101h1.06v1.1h-1.06zM101 5h1.06v1.1h-1.06zM101 19h1.06v1.1h-1.06zM101 32h1.06v1.1h-1.06zM101 101h1.06v1.1h-1.06z"/><path fill="#e95157" d="M-1 8h1.06v1.1h-1.06zM0 8h1.06v1.1h-1.06zM2 6h1.06v1.1h-1.06zM2 18h1.06v1.1h-1.06zM2 30h1.06v1.1h-1.06zM2 44h1.06v1.1h-1.06zM2 46h1.06v1.1h-1.06zM2 69h1.06v1.1h-1.06zM2 72h1.06v1.1h-1.06zM2 83h1.06v1.1h-1.06zM2 90h1.06v1.1h-1.06zM3 12h1.06v1.1h-1.06zM3 47h1.06v1.1h-1.06zM3 87h1.06v1.1h-1.06zM3 100h1.06v1.1h-1.06zM4 36h1.06v1.1h-1.06zM4 62h1.06v1.1h-1.06zM4 92h1.06v1.1h-1.06zM4 95h1.06v1.1h-1.06zM5 8h1.06v1.1h-1.06zM5 56h1.06v1.1h-1.06zM5 58h1.06v1.1h-1.06zM5 60h1.06v1.1h-1.06zM5 64h1.06v1.1h-1.06zM5 77h1.06v1.1h-1.06zM6 24h1.06v1.1h-1.06zM6 58h1.06v1.1h-1.06zM6 101h1.06v1.1h-1.06zM6 105h1.06v1.1h-1.06zM7 5h1.06v1.1h-1.06zM7 13h1.06v1.1h-1.06zM8 8h1.06v1.1h-1.06zM8 25h1.06v1.1h-1.06zM8 48h1.06v1.1h-1.06zM8 58h1.06v1.1h-1.06zM8 67h1.06v1.1h-1.06zM8 72h1.06v2.1h-1.06zM8 76h1.06v1.1h-1.06zM8 90h1.06v2.1h-1.06zM8 93h1.06v1.1h-1.06zM8 98h1.06v1.1h-1.06zM8 101h1.06v1.1h-1.06zM8 106h1.06v1.1h-1.06zM9 8h1.06v1.1h-1.06zM9 15h1.06v1.1h-1.06zM9 29h1.06v1.1h-1.06zM9 31h1.06v1.1h-1.06zM9 51h1.06v1.1h-1.06zM9 56h1.06v1.1h-1.06zM9 60h1.06v1.1h-1.06zM9 101h1.06v1.1h-1.06zM10 49h1.06v1.1h-1.06zM10 101h1.06v1.1h-1.06zM10 105h1.06v1.1h-1.06zM11 6h1.06v1.1h-1.06zM11 11h1.06v1.1h-1.06zM11 16h1.06v1.1h-1.06zM11 32h1.06v1.1h-1.06zM11 36h1.06v1.1h-1.06zM11 38h1.06v1.1h-1.06zM11 103h1.06v1.1h-1.06zM12 6h1.06v2.1h-1.06zM12 42h1.06v1.1h-1.06zM12 52h1.06v1.1h-1.06zM12 59h1.06v1.1h-1.06zM12 63h1.06v1.1h-1.06zM12 66h1.06v1.1h-1.06zM12 83h1.06v1.1h-1.06zM12 103h1.06v1.1h-1.06zM13 10h1.06v1.1h-1.06zM13 41h1.06v1.1h-1.06zM13 52h1.06v1.1h-1.06zM13 91h1.06v1.1h-1.06zM13 93h1.06v1.1h-1.06zM14 11h1.06v1.1h-1.06zM14 35h1.06v1.1h-1.06zM14 40h1.06v1.1h-1.06zM15 57h1.06v1.1h-1.06zM15 60h1.06v1.1h-1.06zM15 70h1.06v1.1h-1.06zM16 15h1.06v1.1h-1.06zM16 17h1.06v1.1h-1.06zM16 41h1.06v1.1h-1.06zM16 51h1.06v2.1h-1.06zM16 62h1.06v1.1h-1.06zM16 68h1.06v1.1h-1.06zM16 83h1.06v1.1h-1.06zM16 87h1.06v1.1h-1.06zM16 95h1.06v1.1h-1.06zM16 99h1.06v1.1h-1.06zM17 12h1.06v1.1h-1.06zM17 15h1.06v1.1h-1.06zM17 37h1.06v1.1h-1.06zM17 59h1.06v1.1h-1.06zM17 81h1.06v1.1h-1.06zM17 83h1.06v1.1h-1.06zM18 62h1.06v1.1h-1.06zM18 68h1.06v1.1h-1.06zM18 88h1.06v1.1h-1.06zM18 97h1.06v1.1h-1.06zM19 5h1.06v1.1h-1.06zM19 17h1.06v1.1h-1.06zM19 19h1.06v2.1h-1.06zM19 28h1.06v2.1h-1.06zM19 33h1.06v1.1h-1.06zM19 59h1.06v1.1h-1.06zM19 65h1.06v1.1h-1.06zM19 67h1.06v2.1h-1.06zM19 80h1.06v1.1h-1.06zM19 100h1.06v1.1h-1.06zM19 105h1.06v2.1h-1.06zM20 14h1.06v1.1h-1.06zM20 16h1.06v1.1h-1.06zM20 25h1.06v1.1h-1.06zM20 27h1.06v1.1h-1.06zM20 43h1.06v1.1h-1.06zM20 45h1.06v1.1h-1.06zM20 49h1.06v1.1h-1.06zM20 65h1.06v1.1h-1.06zM20 74h1.06v1.1h-1.06zM20 88h1.06v1.1h-1.06zM21 13h1.06v1.1h-1.06zM21 20h1.06v1.1h-1.06zM21 53h1.06v1.1h-1.06zM21 88h1.06v1.1h-1.06zM23 9h1.06v1.1h-1.06zM23 29h1.06v1.1h-1.06zM23 42h1.06v1.1h-1.06zM31 75h1.06v1.1h-1.06zM33 39h1.06v1.1h-1.06zM33 47h1.06v1.1h-1.06zM34 94h1.06v1.1h-1.06zM37 44h1.06v1.1h-1.06zM38 3h1.06v1.1h-1.06zM38 27h1.06v1.1h-1.06zM38 40h1.06v1.1h-1.06zM38 44h1.06v2.1h-1.06zM38 47h1.06v1.1h-1.06zM38 51h1.06v1.1h-1.06zM38 55h1.06v3.1h-1.06zM38 59h1.06v1.1h-1.06zM38 62h1.06v1.1h-1.06zM38 74h1.06v1.1h-1.06zM38 85h1.06v1.1h-1.06zM38 94h1.06v1.1h-1.06zM43 72h1.06v1.1h-1.06zM43 79h1.06v1.1h-1.06zM43 86h1.06v2.1h-1.06zM43 101h1.06v1.1h-1.06zM45 72h1.06v1.1h-1.06zM46 56h1.06v1.1h-1.06zM54 43h1.06v2.1h-1.06zM57 20h1.06v1.1h-1.06zM57 22h1.06v1.1h-1.06zM57 31h1.06v1.1h-1.06zM59 31h1.06v1.1h-1.06zM59 62h1.06v1.1h-1.06zM59 67h1.06v1.1h-1.06zM59 81h1.06v1.1h-1.06zM59 99h1.06v1.1h-1.06zM60 56h1.06v2.1h-1.06zM61 98h1.06v1.1h-1.06zM62 -1h1.06v2.1h-1.06zM62 18h1.06v1.1h-1.06zM62 22h1.06v1.1h-1.06zM62 26h1.06v2.1h-1.06zM62 30h1.06v1.1h-1.06zM62 32h1.06v2.1h-1.06zM62 77h1.06v1.1h-1.06zM62 81h1.06v1.1h-1.06zM63 78h1.06v1.1h-1.06zM64 93h1.06v1.1h-1.06zM65 69h1.06v1.1h-1.06zM65 82h1.06v1.1h-1.06zM66 23h1.06v1.1h-1.06zM66 25h1.06v1.1h-1.06zM66 27h1.06v1.1h-1.06zM66 46h1.06v1.1h-1.06zM67 57h1.06v1.1h-1.06zM72 5h1.06v1.1h-1.06zM72 8h1.06v1.1h-1.06zM72 20h1.06v1.1h-1.06zM72 22h1.06v1.1h-1.06zM72 26h1.06v1.1h-1.06zM72 30h1.06v1.1h-1.06zM72 55h1.06v1.1h-1.06zM72 64h1.06v1.1h-1.06zM72 84h1.06v1.1h-1.06zM72 102h1.06v1.1h-1.06zM73 66h1.06v1.1h-1.06zM73 73h1.06v1.1h-1.06zM73 85h1.06v1.1h-1.06zM77 1h1.06v1.1h-1.06zM85 20h1.06v1.1h-1.06zM85 39h1.06v1.1h-1.06zM85 43h1.06v1.1h-1.06zM85 46h1.06v1.1h-1.06zM87 7h1.06v1.1h-1.06zM87 13h1.06v1.1h-1.06zM87 15h1.06v1.1h-1.06zM87 101h1.06v1.1h-1.06zM88 7h1.06v1.1h-1.06zM88 15h1.06v1.1h-1.06zM88 23h1.06v1.1h-1.06zM88 32h1.06v1.1h-1.06zM88 35h1.06v1.1h-1.06zM88 47h1.06v1.1h-1.06zM88 55h1.06v1.1h-1.06zM88 71h1.06v1.1h-1.06zM88 78h1.06v1.1h-1.06zM88 102h1.06v1.1h-1.06zM90 7h1.06v1.1h-1.06zM90 13h1.06v1.1h-1.06zM90 17h1.06v1.1h-1.06zM91 44h1.06v1.1h-1.06zM91 80h1.06v1.1h-1.06zM95 31h1.06v1.1h-1.06zM95 62h1.06v1.1h-1.06zM95 75h1.06v1.1h-1.06zM95 85h1.06v1.1h-1.06zM97 78h1.06v1.1h-1.06zM98 61h1.06v2.1h-1.06zM98 73h1.06v2.1h-1.06zM98 80h1.06v1.1h-1.06zM98 82h1.06v1.1h-1.06zM98 98h1.06v2.1h-1.06zM98 102h1.06v1.1h-1.06zM99 56h1.06v1.1h-1.06zM99 78h1.06v1.1h-1.06z"/><path fill="#e6373e" d="M-1 42h1.06v1.1h-1.06zM0 42h1.06v1.1h-1.06zM2 5h1.06v1.1h-1.06zM2 15h1.06v1.1h-1.06zM2 32h1.06v1.1h-1.06zM2 38h1.06v1.1h-1.06zM2 47h1.06v1.1h-1.06zM2 55h1.06v3.1h-1.06zM2 62h1.06v1.1h-1.06zM2 70h1.06v1.1h-1.06zM2 78h1.06v1.1h-1.06zM2 85h1.06v1.1h-1.06zM2 100h1.06v1.1h-1.06zM2 102h1.06v1.1h-1.06zM2 105h1.06v1.1h-1.06zM4 45h1.06v1.1h-1.06zM4 63h1.06v1.1h-1.06zM4 66h1.06v1.1h-1.06zM4 81h1.06v1.1h-1.06zM4 86h1.06v1.1h-1.06zM4 94h1.06v1.1h-1.06zM5 14h1.06v1.1h-1.06zM5 18h1.06v2.1h-1.06zM5 44h1.06v3.1h-1.06zM5 57h1.06v1.1h-1.06zM5 71h1.06v1.1h-1.06zM6 13h1.06v1.1h-1.06zM8 54h1.06v1.1h-1.06zM8 64h1.06v1.1h-1.06zM8 74h1.06v1.1h-1.06zM8 80h1.06v1.1h-1.06zM8 97h1.06v1.1h-1.06zM9 39h1.06v1.1h-1.06zM9 45h1.06v1.1h-1.06zM9 58h1.06v1.1h-1.06zM9 64h1.06v1.1h-1.06zM9 68h1.06v1.1h-1.06zM11 48h1.06v1.1h-1.06zM11 94h1.06v1.1h-1.06zM12 5h1.06v1.1h-1.06zM12 38h1.06v2.1h-1.06zM12 44h1.06v1.1h-1.06zM12 47h1.06v1.1h-1.06zM12 51h1.06v1.1h-1.06zM13 35h1.06v1.1h-1.06zM13 78h1.06v1.1h-1.06zM13 87h1.06v1.1h-1.06zM13 89h1.06v1.1h-1.06zM14 5h1.06v1.1h-1.06zM14 20h1.06v1.1h-1.06zM14 27h1.06v1.1h-1.06zM14 49h1.06v1.1h-1.06zM14 51h1.06v1.1h-1.06zM16 10h1.06v2.1h-1.06zM16 16h1.06v1.1h-1.06zM16 21h1.06v1.1h-1.06zM16 40h1.06v1.1h-1.06zM16 42h1.06v1.1h-1.06zM16 47h1.06v1.1h-1.06zM16 60h1.06v1.1h-1.06zM16 66h1.06v1.1h-1.06zM16 70h1.06v1.1h-1.06zM16 88h1.06v1.1h-1.06zM17 14h1.06v1.1h-1.06zM17 53h1.06v1.1h-1.06zM17 62h1.06v1.1h-1.06zM17 88h1.06v1.1h-1.06zM17 97h1.06v1.1h-1.06zM17 103h1.06v2.1h-1.06zM18 13h1.06v1.1h-1.06zM18 53h1.06v1.1h-1.06zM18 56h1.06v1.1h-1.06zM19 6h1.06v1.1h-1.06zM19 21h1.06v1.1h-1.06zM19 23h1.06v1.1h-1.06zM19 30h1.06v1.1h-1.06zM19 36h1.06v1.1h-1.06zM19 53h1.06v1.1h-1.06zM19 57h1.06v1.1h-1.06zM19 92h1.06v2.1h-1.06zM19 95h1.06v1.1h-1.06zM20 19h1.06v1.1h-1.06zM20 22h1.06v1.1h-1.06zM20 36h1.06v1.1h-1.06zM20 57h1.06v2.1h-1.06zM20 81h1.06v1.1h-1.06zM20 105h1.06v1.1h-1.06zM21 10h1.06v1.1h-1.06zM21 16h1.06v1.1h-1.06zM21 39h1.06v1.1h-1.06zM22 66h1.06v1.1h-1.06zM23 3h1.06v1.1h-1.06zM38 14h1.06v1.1h-1.06zM38 28h1.06v1.1h-1.06zM38 38h1.06v1.1h-1.06zM38 53h1.06v1.1h-1.06zM38 72h1.06v1.1h-1.06zM43 78h1.06v1.1h-1.06zM43 81h1.06v1.1h-1.06zM43 83h1.06v1.1h-1.06zM43 92h1.06v1.1h-1.06zM43 103h1.06v1.1h-1.06zM53 78h1.06v1.1h-1.06zM55 33h1.06v1.1h-1.06zM55 37h1.06v1.1h-1.06zM57 27h1.06v1.1h-1.06zM58 2h1.06v1.1h-1.06zM59 1h1.06v1.1h-1.06zM59 14h1.06v1.1h-1.06zM59 34h1.06v1.1h-1.06zM59 70h1.06v1.1h-1.06zM59 76h1.06v1.1h-1.06zM59 78h1.06v1.1h-1.06zM59 84h1.06v1.1h-1.06zM60 72h1.06v1.1h-1.06zM60 99h1.06v1.1h-1.06zM62 34h1.06v1.1h-1.06zM63 8h1.06v1.1h-1.06zM64 44h1.06v1.1h-1.06zM65 42h1.06v1.1h-1.06zM66 12h1.06v1.1h-1.06zM66 15h1.06v1.1h-1.06zM66 20h1.06v1.1h-1.06zM66 22h1.06v1.1h-1.06zM66 24h1.06v1.1h-1.06zM66 30h1.06v1.1h-1.06zM66 33h1.06v1.1h-1.06zM66 40h1.06v1.1h-1.06zM71 23h1.06v1.1h-1.06zM71 34h1.06v1.1h-1.06zM72 27h1.06v1.1h-1.06zM72 56h1.06v1.1h-1.06zM72 85h1.06v1.1h-1.06zM72 92h1.06v1.1h-1.06zM73 83h1.06v1.1h-1.06zM74 78h1.06v1.1h-1.06zM85 13h1.06v1.1h-1.06zM85 18h1.06v1.1h-1.06zM85 51h1.06v1.1h-1.06zM85 53h1.06v1.1h-1.06zM88 5h1.06v1.1h-1.06zM88 8h1.06v1.1h-1.06zM88 31h1.06v1.1h-1.06zM88 33h1.06v1.1h-1.06zM88 44h1.06v2.1h-1.06zM88 51h1.06v2.1h-1.06zM88 96h1.06v1.1h-1.06zM88 105h1.06v1.1h-1.06zM89 66h1.06v1.1h-1.06zM91 29h1.06v1.1h-1.06zM92 1h1.06v1.1h-1.06zM95 33h1.06v1.1h-1.06zM95 83h1.06v1.1h-1.06zM96 44h1.06v1.1h-1.06zM97 26h1.06v1.1h-1.06zM98 54h1.06v1.1h-1.06zM98 57h1.06v1.1h-1.06zM98 81h1.06v1.1h-1.06zM98 83h1.06v1.1h-1.06zM99 26h1.06v1.1h-1.06z"/><path fill="#e41c24" d="M-1 14h1.06v1.1h-1.06zM-1 28h1.06v1.1h-1.06zM-1 39h1.06v1.1h-1.06zM0 14h1.06v1.1h-1.06zM0 28h1.06v1.1h-1.06zM0 39h1.06v1.1h-1.06zM2 3h1.06v2.1h-1.06zM2 7h1.06v8.1h-1.06zM2 16h1.06v2.1h-1.06zM2 19h1.06v1.1h-1.06zM2 21h1.06v9.1h-1.06zM2 33h1.06v3.1h-1.06zM2 39h1.06v1.1h-1.06zM2 41h1.06v2.1h-1.06zM2 45h1.06v1.1h-1.06zM2 49h1.06v1.1h-1.06zM2 51h1.06v1.1h-1.06zM2 53h1.06v1.1h-1.06zM2 74h1.06v4.1h-1.06zM2 79h1.06v4.1h-1.06zM2 84h1.06v1.1h-1.06zM2 86h1.06v4.1h-1.06zM2 95h1.06v1.1h-1.06zM2 97h1.06v1.1h-1.06zM3 24h1.06v1.1h-1.06zM3 28h1.06v1.1h-1.06zM3 55h1.06v2.1h-1.06zM3 71h1.06v1.1h-1.06zM3 82h1.06v1.1h-1.06zM3 106h1.06v1.1h-1.06zM4 43h1.06v1.1h-1.06zM4 60h1.06v1.1h-1.06zM4 74h1.06v1.1h-1.06zM4 82h1.06v2.1h-1.06zM4 87h1.06v2.1h-1.06zM4 101h1.06v1.1h-1.06zM5 11h1.06v1.1h-1.06zM5 13h1.06v1.1h-1.06zM5 25h1.06v1.1h-1.06zM5 32h1.06v1.1h-1.06zM5 34h1.06v1.1h-1.06zM5 82h1.06v2.1h-1.06zM6 55h1.06v1.1h-1.06zM6 59h1.06v1.1h-1.06zM8 13h1.06v1.1h-1.06zM8 33h1.06v1.1h-1.06zM8 55h1.06v3.1h-1.06zM8 59h1.06v2.1h-1.06zM8 65h1.06v2.1h-1.06zM8 69h1.06v2.1h-1.06zM8 75h1.06v1.1h-1.06zM8 77h1.06v3.1h-1.06zM8 81h1.06v9.1h-1.06zM8 95h1.06v2.1h-1.06zM8 100h1.06v1.1h-1.06zM8 103h1.06v3.1h-1.06zM8 107h1.06v2.1h-1.06zM9 77h1.06v1.1h-1.06zM9 88h1.06v1.1h-1.06zM10 45h1.06v1.1h-1.06zM11 5h1.06v1.1h-1.06zM11 9h1.06v1.1h-1.06zM11 12h1.06v1.1h-1.06zM11 14h1.06v2.1h-1.06zM11 44h1.06v1.1h-1.06zM11 53h1.06v1.1h-1.06zM11 56h1.06v1.1h-1.06zM11 58h1.06v1.1h-1.06zM11 63h1.06v1.1h-1.06zM12 11h1.06v1.1h-1.06zM12 15h1.06v1.1h-1.06zM12 36h1.06v2.1h-1.06zM12 45h1.06v1.1h-1.06zM13 4h1.06v1.1h-1.06zM13 33h1.06v1.1h-1.06zM13 39h1.06v1.1h-1.06zM13 54h1.06v1.1h-1.06zM13 56h1.06v7.1h-1.06zM13 65h1.06v2.1h-1.06zM13 68h1.06v3.1h-1.06zM13 72h1.06v6.1h-1.06zM13 79h1.06v7.1h-1.06zM13 88h1.06v1.1h-1.06zM13 90h1.06v1.1h-1.06zM13 92h1.06v1.1h-1.06zM13 96h1.06v3.1h-1.06zM13 100h1.06v5.1h-1.06zM13 106h1.06v3.1h-1.06zM14 3h1.06v1.1h-1.06zM14 6h1.06v5.1h-1.06zM14 13h1.06v7.1h-1.06zM14 21h1.06v1.1h-1.06zM14 23h1.06v4.1h-1.06zM14 28h1.06v2.1h-1.06zM14 31h1.06v1.1h-1.06zM14 33h1.06v2.1h-1.06zM14 37h1.06v1.1h-1.06zM14 39h1.06v1.1h-1.06zM14 41h1.06v3.1h-1.06zM14 45h1.06v1.1h-1.06zM14 48h1.06v1.1h-1.06zM14 50h1.06v1.1h-1.06zM14 52h1.06v2.1h-1.06zM14 104h1.06v1.1h-1.06zM15 105h1.06v1.1h-1.06zM16 3h1.06v3.1h-1.06zM16 7h1.06v1.1h-1.06zM16 9h1.06v1.1h-1.06zM16 12h1.06v1.1h-1.06zM16 14h1.06v1.1h-1.06zM16 18h1.06v3.1h-1.06zM16 22h1.06v12.1h-1.06zM16 35h1.06v5.1h-1.06zM16 45h1.06v1.1h-1.06zM16 48h1.06v3.1h-1.06zM16 53h1.06v1.1h-1.06zM16 55h1.06v1.1h-1.06zM16 81h1.06v1.1h-1.06zM16 98h1.06v1.1h-1.06zM16 100h1.06v1.1h-1.06zM16 102h1.06v2.1h-1.06zM16 106h1.06v1.1h-1.06zM17 3h1.06v2.1h-1.06zM17 6h1.06v1.1h-1.06zM17 8h1.06v1.1h-1.06zM17 10h1.06v1.1h-1.06zM17 13h1.06v1.1h-1.06zM17 19h1.06v2.1h-1.06zM17 25h1.06v4.1h-1.06zM17 32h1.06v1.1h-1.06zM17 35h1.06v2.1h-1.06zM17 39h1.06v2.1h-1.06zM17 43h1.06v1.1h-1.06zM17 50h1.06v3.1h-1.06zM17 54h1.06v1.1h-1.06zM17 57h1.06v1.1h-1.06zM17 66h1.06v1.1h-1.06zM17 82h1.06v1.1h-1.06zM17 84h1.06v2.1h-1.06zM17 95h1.06v1.1h-1.06zM18 74h1.06v1.1h-1.06zM19 3h1.06v2.1h-1.06zM19 7h1.06v10.1h-1.06zM19 18h1.06v1.1h-1.06zM19 22h1.06v1.1h-1.06zM19 24h1.06v4.1h-1.06zM19 32h1.06v1.1h-1.06zM19 34h1.06v2.1h-1.06zM19 37h1.06v3.1h-1.06zM19 41h1.06v5.1h-1.06zM19 47h1.06v1.1h-1.06zM19 50h1.06v1.1h-1.06zM19 54h1.06v3.1h-1.06zM19 58h1.06v1.1h-1.06zM19 60h1.06v2.1h-1.06zM19 63h1.06v1.1h-1.06zM19 66h1.06v1.1h-1.06zM19 71h1.06v1.1h-1.06zM19 74h1.06v4.1h-1.06zM19 79h1.06v1.1h-1.06zM19 81h1.06v8.1h-1.06zM19 97h1.06v2.1h-1.06zM19 101h1.06v4.1h-1.06zM20 5h1.06v1.1h-1.06zM20 9h1.06v1.1h-1.06zM20 11h1.06v1.1h-1.06zM20 13h1.06v1.1h-1.06zM20 40h1.06v1.1h-1.06zM20 42h1.06v1.1h-1.06zM20 50h1.06v1.1h-1.06zM20 53h1.06v1.1h-1.06zM20 56h1.06v1.1h-1.06zM20 61h1.06v1.1h-1.06zM20 63h1.06v1.1h-1.06zM20 72h1.06v2.1h-1.06zM20 75h1.06v1.1h-1.06zM20 77h1.06v2.1h-1.06zM20 80h1.06v1.1h-1.06zM20 82h1.06v4.1h-1.06zM20 87h1.06v1.1h-1.06zM20 89h1.06v1.1h-1.06zM20 99h1.06v1.1h-1.06zM20 103h1.06v1.1h-1.06zM21 5h1.06v1.1h-1.06zM21 15h1.06v1.1h-1.06zM23 26h1.06v1.1h-1.06zM38 6h1.06v1.1h-1.06zM38 8h1.06v1.1h-1.06zM38 18h1.06v5.1h-1.06zM38 24h1.06v3.1h-1.06zM38 29h1.06v4.1h-1.06zM38 46h1.06v1.1h-1.06zM38 52h1.06v1.1h-1.06zM38 60h1.06v1.1h-1.06zM38 64h1.06v1.1h-1.06zM38 66h1.06v1.1h-1.06zM38 75h1.06v1.1h-1.06zM38 78h1.06v1.1h-1.06zM38 81h1.06v2.1h-1.06zM38 93h1.06v1.1h-1.06zM43 73h1.06v1.1h-1.06zM43 76h1.06v1.1h-1.06zM43 82h1.06v1.1h-1.06zM43 91h1.06v1.1h-1.06zM43 105h1.06v1.1h-1.06zM45 -1h1.06v2.1h-1.06zM45 78h1.06v1.1h-1.06zM47 2h1.06v1.1h-1.06zM52 2h1.06v1.1h-1.06zM53 1h1.06v1.1h-1.06zM55 18h1.06v7.1h-1.06zM55 26h1.06v4.1h-1.06zM55 31h1.06v2.1h-1.06zM55 34h1.06v1.1h-1.06zM59 55h1.06v1.1h-1.06zM59 57h1.06v1.1h-1.06zM59 68h1.06v1.1h-1.06zM59 101h1.06v1.1h-1.06zM62 29h1.06v1.1h-1.06zM62 31h1.06v1.1h-1.06zM62 44h1.06v1.1h-1.06zM66 3h1.06v3.1h-1.06zM66 7h1.06v2.1h-1.06zM66 10h1.06v1.1h-1.06zM66 13h1.06v2.1h-1.06zM66 16h1.06v1.1h-1.06zM66 18h1.06v2.1h-1.06zM66 26h1.06v1.1h-1.06zM66 28h1.06v2.1h-1.06zM66 31h1.06v2.1h-1.06zM66 34h1.06v1.1h-1.06zM66 41h1.06v1.1h-1.06zM66 44h1.06v2.1h-1.06zM66 53h1.06v1.1h-1.06zM71 24h1.06v1.1h-1.06zM72 34h1.06v1.1h-1.06zM72 78h1.06v1.1h-1.06zM73 61h1.06v1.1h-1.06zM73 78h1.06v1.1h-1.06zM73 80h1.06v1.1h-1.06zM73 99h1.06v1.1h-1.06zM74 1h1.06v1.1h-1.06zM85 10h1.06v1.1h-1.06zM85 16h1.06v1.1h-1.06zM85 19h1.06v1.1h-1.06zM85 21h1.06v8.1h-1.06zM85 30h1.06v3.1h-1.06zM85 34h1.06v1.1h-1.06zM85 37h1.06v1.1h-1.06zM85 42h1.06v1.1h-1.06zM85 47h1.06v1.1h-1.06zM85 49h1.06v1.1h-1.06zM85 52h1.06v1.1h-1.06zM85 62h1.06v1.1h-1.06zM88 3h1.06v1.1h-1.06zM88 13h1.06v1.1h-1.06zM88 17h1.06v2.1h-1.06zM88 20h1.06v1.1h-1.06zM88 26h1.06v1.1h-1.06zM88 29h1.06v1.1h-1.06zM88 34h1.06v1.1h-1.06zM88 37h1.06v3.1h-1.06zM88 92h1.06v1.1h-1.06zM88 98h1.06v1.1h-1.06zM90 8h1.06v1.1h-1.06zM91 19h1.06v10.1h-1.06zM91 30h1.06v3.1h-1.06zM91 34h1.06v1.1h-1.06zM95 78h1.06v1.1h-1.06zM96 10h1.06v1.1h-1.06zM97 2h1.06v1.1h-1.06zM98 66h1.06v1.1h-1.06zM98 69h1.06v1.1h-1.06zM98 75h1.06v1.1h-1.06zM98 78h1.06v1.1h-1.06zM98 88h1.06v1.1h-1.06zM99 -1h1.06v2.1h-1.06zM99 44h1.06v1.1h-1.06zM99 83h1.06v1.1h-1.06z"/></g></g></g>
<text x="103" y="29.9" font-size="13" text-anchor="start" font-weight="normal" font-style="normal" fill="#111" >HBsAg+ (n=24)</text>
<text x="262.5" y="29.9" font-size="13" text-anchor="start" font-weight="normal" font-style="normal" fill="#111" >HBsAg− (n=77)</text>
<line x1="107" y1="36.6" x2="185.4" y2="36.6" stroke="#c8102e" stroke-width="2.2" />
<line x1="187.4" y1="36.6" x2="433.4" y2="36.6" stroke="#11528c" stroke-width="2.2" />
<line x1="444.6" y1="35.3" x2="444.6" y2="76" stroke="#000" stroke-width="1.2" />
<path d="M438.8 40 V45.8 H444.6" fill="none" stroke="#000" stroke-width="1.6"/>
<line x1="439.0" y1="55.4" x2="439.0" y2="212.2" stroke="#e8141c" stroke-width="2.0" />
<text x="449.3" y="43.2" font-size="11" text-anchor="start" font-weight="normal" font-style="italic" fill="#111" >MME(CD10)</text>
<text x="449.3" y="53.870000000000005" font-size="11" text-anchor="start" font-weight="normal" font-style="italic" fill="#111" >BACH1</text>
<text x="449.3" y="64.54" font-size="11" text-anchor="start" font-weight="normal" font-style="italic" fill="#111" >SERPINA9</text>
<text x="449.3" y="75.21000000000001" font-size="11" text-anchor="start" font-weight="normal" font-style="italic" fill="#111" >NEIL1</text>
<text x="449.3" y="110.0" font-size="11" text-anchor="start" font-weight="normal" font-style="italic" fill="#111" >IRF4</text>
<text x="449.3" y="120.73" font-size="11" text-anchor="start" font-weight="normal" font-style="italic" fill="#111" >PIM2</text>
<text x="449.3" y="131.46" font-size="11" text-anchor="start" font-weight="normal" font-style="italic" fill="#111" >CCNE1</text>
<text x="449.3" y="142.19" font-size="11" text-anchor="start" font-weight="normal" font-style="italic" fill="#111" >BID</text>
<text x="449.3" y="152.92000000000002" font-size="11" text-anchor="start" font-weight="normal" font-style="italic" fill="#111" >TLR2</text>
<text x="449.3" y="163.65" font-size="11" text-anchor="start" font-weight="normal" font-style="italic" fill="#111" >ETV6</text>
<text x="449.3" y="174.38" font-size="11" text-anchor="start" font-weight="normal" font-style="italic" fill="#111" >NFKBIE</text>
<text x="449.3" y="185.11" font-size="11" text-anchor="start" font-weight="normal" font-style="italic" fill="#111" >TP63</text>
<text x="449.3" y="195.84" font-size="11" text-anchor="start" font-weight="normal" font-style="italic" fill="#111" >PTPN1</text>
<text x="285.3" y="231.0" font-size="12.2" text-anchor="start" font-weight="normal" font-style="normal" fill="#111" >Gene expression</text>
<defs><linearGradient id="lg" x1="0" x2="1" y1="0" y2="0"><stop offset="0" stop-color="#e8242a"/><stop offset="0.5" stop-color="#f7f2f2"/><stop offset="1" stop-color="#2d3f9e"/></linearGradient></defs>
<rect x="386.30" y="224.20" width="52.90" height="4.40" fill="url(#lg)" />
<text x="387.2" y="240.8" font-size="11" text-anchor="middle" font-weight="normal" font-style="normal" fill="#111" >2</text>
<text x="412.7" y="240.8" font-size="11" text-anchor="middle" font-weight="normal" font-style="normal" fill="#111" >0</text>
<text x="436.0" y="240.8" font-size="11" text-anchor="middle" font-weight="normal" font-style="normal" fill="#111" >−2</text>
<line x1="57.9" y1="282.7" x2="57.9" y2="504.3" stroke="#000" stroke-width="1.4" />
<line x1="53.1" y1="296.6" x2="57.9" y2="296.6" stroke="#000" stroke-width="1.3" />
<text x="50.0" y="300.40000000000003" font-size="10.5" text-anchor="end" font-weight="normal" font-style="normal" fill="#111" >0.5</text>
<line x1="53.1" y1="343.3" x2="57.9" y2="343.3" stroke="#000" stroke-width="1.3" />
<text x="50.0" y="347.1" font-size="10.5" text-anchor="end" font-weight="normal" font-style="normal" fill="#111" >0.3</text>
<line x1="53.1" y1="389.4" x2="57.9" y2="389.4" stroke="#000" stroke-width="1.3" />
<text x="50.0" y="393.2" font-size="10.5" text-anchor="end" font-weight="normal" font-style="normal" fill="#111" >0.1</text>
<line x1="53.1" y1="435.5" x2="57.9" y2="435.5" stroke="#000" stroke-width="1.3" />
<text x="50.0" y="439.3" font-size="10.5" text-anchor="end" font-weight="normal" font-style="normal" fill="#111" >−0.1</text>
<line x1="53.1" y1="481.8" x2="57.9" y2="481.8" stroke="#000" stroke-width="1.3" />
<text x="50.0" y="485.6" font-size="10.5" text-anchor="end" font-weight="normal" font-style="normal" fill="#111" >−0.3</text>
<line x1="57.2" y1="412.3" x2="446.4" y2="412.3" stroke="#000" stroke-width="1.5" />
<line x1="57.2" y1="482.0" x2="446.4" y2="482.0" stroke="#000" stroke-width="1.6" />
<line x1="108.2" y1="293.5" x2="108.2" y2="480.5" stroke="#000" stroke-width="1.2" stroke-dasharray="1.2 1.2"/>
<line x1="236.0" y1="293.5" x2="236.0" y2="480.5" stroke="#000" stroke-width="1.2" stroke-dasharray="1.2 1.2"/>
<line x1="343.2" y1="293.5" x2="343.2" y2="480.5" stroke="#000" stroke-width="1.2" stroke-dasharray="1.2 1.2"/>
<line x1="394.4" y1="293.5" x2="394.4" y2="480.5" stroke="#000" stroke-width="1.2" stroke-dasharray="1.2 1.2"/>
<line x1="446.4" y1="293.5" x2="446.4" y2="480.5" stroke="#000" stroke-width="1.2" stroke-dasharray="1.2 1.2"/>
<rect x="217.70" y="281.70" width="13.20" height="7.40" fill="#c8102e" />
<text x="235.0" y="289.0" font-size="10.7" text-anchor="start" font-weight="normal" font-style="normal" fill="#111" >HBsAg+</text>
<rect x="302.30" y="281.70" width="13.20" height="7.40" fill="#11528c" />
<text x="320.6" y="289.0" font-size="10.7" text-anchor="start" font-weight="normal" font-style="normal" fill="#111" >HBsAg−</text>
<rect x="61.50" y="412.30" width="5.80" height="22.60" fill="#11528c" />
<line x1="64.4" y1="434.9" x2="64.4" y2="447.5" stroke="#11528c" stroke-width="1.2" />
<line x1="62.2" y1="447.5" x2="66.60000000000001" y2="447.5" stroke="#11528c" stroke-width="1.5" />
<rect x="71.00" y="312.70" width="5.80" height="99.60" fill="#c8102e" />
<line x1="73.9" y1="312.7" x2="73.9" y2="292.6" stroke="#c8102e" stroke-width="1.2" />
<line x1="71.7" y1="292.6" x2="76.10000000000001" y2="292.6" stroke="#c8102e" stroke-width="1.5" />
<text x="0" y="0" font-size="10.7" text-anchor="end" fill="#111" transform="translate(72.40 487.3) rotate(-90)">ABC.DLBCL</text>
<rect x="87.45" y="409.70" width="5.80" height="2.60" fill="#11528c" />
<line x1="90.35000000000001" y1="409.7" x2="90.35000000000001" y2="394.6" stroke="#11528c" stroke-width="1.2" />
<line x1="88.15" y1="394.6" x2="92.55000000000001" y2="394.6" stroke="#11528c" stroke-width="1.5" />
<rect x="96.95" y="412.30" width="5.80" height="34.30" fill="#c8102e" />
<line x1="99.85000000000001" y1="446.6" x2="99.85000000000001" y2="468.8" stroke="#c8102e" stroke-width="1.2" />
<line x1="97.65" y1="468.8" x2="102.05000000000001" y2="468.8" stroke="#c8102e" stroke-width="1.5" />
<text x="0" y="0" font-size="10.7" text-anchor="end" fill="#111" transform="translate(101.75 487.3) rotate(-90)">GCB.DLBCL</text>
<rect x="113.40" y="412.30" width="5.80" height="31.70" fill="#11528c" />
<line x1="116.30000000000001" y1="444.0" x2="116.30000000000001" y2="457.7" stroke="#11528c" stroke-width="1.2" />
<line x1="114.10000000000001" y1="457.7" x2="118.50000000000001" y2="457.7" stroke="#11528c" stroke-width="1.5" />
<rect x="122.90" y="333.10" width="5.80" height="79.20" fill="#c8102e" />
<line x1="125.80000000000001" y1="333.1" x2="125.80000000000001" y2="313.5" stroke="#c8102e" stroke-width="1.2" />
<line x1="123.60000000000001" y1="313.5" x2="128.0" y2="313.5" stroke="#c8102e" stroke-width="1.5" />
<text x="0" y="0" font-size="10.7" text-anchor="end" fill="#111" transform="translate(127.60 487.3) rotate(-90)">IRF4Up.7</text>
<rect x="139.35" y="412.30" width="5.80" height="32.50" fill="#11528c" />
<line x1="142.25" y1="444.8" x2="142.25" y2="458.2" stroke="#11528c" stroke-width="1.2" />
<line x1="140.05" y1="458.2" x2="144.45" y2="458.2" stroke="#11528c" stroke-width="1.5" />
<rect x="148.85" y="357.20" width="5.80" height="55.10" fill="#c8102e" />
<line x1="151.75" y1="357.2" x2="151.75" y2="331.7" stroke="#c8102e" stroke-width="1.2" />
<line x1="149.55" y1="331.7" x2="153.95" y2="331.7" stroke="#c8102e" stroke-width="1.5" />
<text x="0" y="0" font-size="10.7" text-anchor="end" fill="#111" transform="translate(152.55 487.3) rotate(-90)">BCL6Dn.1</text>
<rect x="165.30" y="412.30" width="5.80" height="4.40" fill="#11528c" />
<line x1="168.20000000000002" y1="416.7" x2="168.20000000000002" y2="428.8" stroke="#11528c" stroke-width="1.2" />
<line x1="166.00000000000003" y1="428.8" x2="170.4" y2="428.8" stroke="#11528c" stroke-width="1.5" />
<rect x="174.80" y="377.30" width="5.80" height="35.00" fill="#c8102e" />
<line x1="177.70000000000002" y1="377.3" x2="177.70000000000002" y2="361.7" stroke="#c8102e" stroke-width="1.2" />
<line x1="175.50000000000003" y1="361.7" x2="179.9" y2="361.7" stroke="#c8102e" stroke-width="1.5" />
<text x="0" y="0" font-size="10.7" text-anchor="end" fill="#111" transform="translate(177.00 487.3) rotate(-90)">TCF3Up.1</text>
<rect x="191.25" y="412.30" width="5.80" height="10.30" fill="#11528c" />
<line x1="194.15" y1="422.6" x2="194.15" y2="435.5" stroke="#11528c" stroke-width="1.2" />
<line x1="191.95000000000002" y1="435.5" x2="196.35" y2="435.5" stroke="#11528c" stroke-width="1.5" />
<rect x="200.75" y="350.50" width="5.80" height="61.80" fill="#c8102e" />
<line x1="203.65" y1="350.5" x2="203.65" y2="328.8" stroke="#c8102e" stroke-width="1.2" />
<line x1="201.45000000000002" y1="328.8" x2="205.85" y2="328.8" stroke="#c8102e" stroke-width="1.5" />
<text x="0" y="0" font-size="10.7" text-anchor="end" fill="#111" transform="translate(202.25 487.3) rotate(-90)">PC.1</text>
<rect x="217.20" y="412.30" width="5.80" height="19.90" fill="#11528c" />
<line x1="220.1" y1="432.2" x2="220.1" y2="445.6" stroke="#11528c" stroke-width="1.2" />
<line x1="217.9" y1="445.6" x2="222.29999999999998" y2="445.6" stroke="#11528c" stroke-width="1.5" />
<rect x="226.70" y="404.90" width="5.80" height="7.40" fill="#c8102e" />
<line x1="229.6" y1="404.9" x2="229.6" y2="383.5" stroke="#c8102e" stroke-width="1.2" />
<line x1="227.4" y1="383.5" x2="231.79999999999998" y2="383.5" stroke="#c8102e" stroke-width="1.5" />
<text x="0" y="0" font-size="10.7" text-anchor="end" fill="#111" transform="translate(230.80 487.3) rotate(-90)">Blimp.1</text>
<rect x="243.15" y="412.30" width="5.80" height="13.80" fill="#11528c" />
<line x1="246.05" y1="426.1" x2="246.05" y2="438.9" stroke="#11528c" stroke-width="1.2" />
<line x1="243.85000000000002" y1="438.9" x2="248.25" y2="438.9" stroke="#11528c" stroke-width="1.5" />
<rect x="252.65" y="377.30" width="5.80" height="35.00" fill="#c8102e" />
<line x1="255.55" y1="377.3" x2="255.55" y2="359.1" stroke="#c8102e" stroke-width="1.2" />
<line x1="253.35000000000002" y1="359.1" x2="257.75" y2="359.1" stroke="#c8102e" stroke-width="1.5" />
<text x="0" y="0" font-size="10.7" text-anchor="end" fill="#111" transform="translate(254.15 487.3) rotate(-90)">NotchUp.6</text>
<rect x="269.10" y="412.30" width="5.80" height="21.00" fill="#11528c" />
<line x1="272.0" y1="433.3" x2="272.0" y2="448.0" stroke="#11528c" stroke-width="1.2" />
<line x1="269.8" y1="448.0" x2="274.2" y2="448.0" stroke="#11528c" stroke-width="1.5" />
<rect x="278.60" y="319.40" width="5.80" height="92.90" fill="#c8102e" />
<line x1="281.5" y1="319.4" x2="281.5" y2="298.8" stroke="#c8102e" stroke-width="1.2" />
<line x1="279.3" y1="298.8" x2="283.7" y2="298.8" stroke="#c8102e" stroke-width="1.5" />
<text x="0" y="0" font-size="10.7" text-anchor="end" fill="#111" transform="translate(283.10 487.3) rotate(-90)">MYCUp.2</text>
<rect x="295.05" y="412.30" width="5.80" height="19.70" fill="#11528c" />
<line x1="297.94999999999993" y1="432.0" x2="297.94999999999993" y2="444.6" stroke="#11528c" stroke-width="1.2" />
<line x1="295.74999999999994" y1="444.6" x2="300.1499999999999" y2="444.6" stroke="#11528c" stroke-width="1.5" />
<rect x="304.55" y="347.00" width="5.80" height="65.30" fill="#c8102e" />
<line x1="307.44999999999993" y1="347.0" x2="307.44999999999993" y2="329.0" stroke="#c8102e" stroke-width="1.2" />
<line x1="305.24999999999994" y1="329.0" x2="309.6499999999999" y2="329.0" stroke="#c8102e" stroke-width="1.5" />
<text x="0" y="0" font-size="10.7" text-anchor="end" fill="#111" transform="translate(307.85 487.3) rotate(-90)">MYD88Up.1</text>
<rect x="321.00" y="412.30" width="5.80" height="23.20" fill="#11528c" />
<line x1="323.9" y1="435.5" x2="323.9" y2="448.9" stroke="#11528c" stroke-width="1.2" />
<line x1="321.7" y1="448.9" x2="326.09999999999997" y2="448.9" stroke="#11528c" stroke-width="1.5" />
<rect x="330.50" y="343.50" width="5.80" height="68.80" fill="#c8102e" />
<line x1="333.4" y1="343.5" x2="333.4" y2="323.4" stroke="#c8102e" stroke-width="1.2" />
<line x1="331.2" y1="323.4" x2="335.59999999999997" y2="323.4" stroke="#c8102e" stroke-width="1.5" />
<text x="0" y="0" font-size="10.7" text-anchor="end" fill="#111" transform="translate(333.40 487.3) rotate(-90)">NFkB.10</text>
<rect x="346.95" y="412.30" width="5.80" height="21.30" fill="#11528c" />
<line x1="349.84999999999997" y1="433.6" x2="349.84999999999997" y2="446.7" stroke="#11528c" stroke-width="1.2" />
<line x1="347.65" y1="446.7" x2="352.04999999999995" y2="446.7" stroke="#11528c" stroke-width="1.5" />
<rect x="356.45" y="348.30" width="5.80" height="64.00" fill="#c8102e" />
<line x1="359.34999999999997" y1="348.3" x2="359.34999999999997" y2="325.0" stroke="#c8102e" stroke-width="1.2" />
<line x1="357.15" y1="325.0" x2="361.54999999999995" y2="325.0" stroke="#c8102e" stroke-width="1.5" />
<text x="0" y="0" font-size="10.7" text-anchor="end" fill="#111" transform="translate(359.35 487.3) rotate(-90)">IFN.1</text>
<rect x="372.90" y="412.30" width="5.80" height="13.20" fill="#11528c" />
<line x1="375.79999999999995" y1="425.5" x2="375.79999999999995" y2="440.8" stroke="#11528c" stroke-width="1.2" />
<line x1="373.59999999999997" y1="440.8" x2="377.99999999999994" y2="440.8" stroke="#11528c" stroke-width="1.5" />
<rect x="382.40" y="382.70" width="5.80" height="29.60" fill="#c8102e" />
<line x1="385.29999999999995" y1="382.7" x2="385.29999999999995" y2="345.7" stroke="#c8102e" stroke-width="1.2" />
<line x1="383.09999999999997" y1="345.7" x2="387.49999999999994" y2="345.7" stroke="#c8102e" stroke-width="1.5" />
<text x="0" y="0" font-size="10.7" text-anchor="end" fill="#111" transform="translate(384.70 487.3) rotate(-90)">MHC</text>
<rect x="398.85" y="412.30" width="5.80" height="23.20" fill="#11528c" />
<line x1="401.74999999999994" y1="435.5" x2="401.74999999999994" y2="449.7" stroke="#11528c" stroke-width="1.2" />
<line x1="399.54999999999995" y1="449.7" x2="403.94999999999993" y2="449.7" stroke="#11528c" stroke-width="1.5" />
<rect x="408.35" y="345.90" width="5.80" height="66.40" fill="#c8102e" />
<line x1="411.24999999999994" y1="345.9" x2="411.24999999999994" y2="325.0" stroke="#c8102e" stroke-width="1.2" />
<line x1="409.04999999999995" y1="325.0" x2="413.44999999999993" y2="325.0" stroke="#c8102e" stroke-width="1.5" />
<text x="0" y="0" font-size="10.7" text-anchor="end" fill="#111" transform="translate(414.25 487.3) rotate(-90)">Prolif.10</text>
<rect x="424.80" y="412.30" width="5.80" height="33.30" fill="#11528c" />
<line x1="427.7" y1="445.6" x2="427.7" y2="461.5" stroke="#11528c" stroke-width="1.2" />
<line x1="425.5" y1="461.5" x2="429.9" y2="461.5" stroke="#11528c" stroke-width="1.5" />
<rect x="434.30" y="378.40" width="5.80" height="33.90" fill="#c8102e" />
<line x1="437.2" y1="378.4" x2="437.2" y2="351.0" stroke="#c8102e" stroke-width="1.2" />
<line x1="435.0" y1="351.0" x2="439.4" y2="351.0" stroke="#c8102e" stroke-width="1.5" />
<text x="0" y="0" font-size="10.7" text-anchor="end" fill="#111" transform="translate(439.60 487.3) rotate(-90)">Quiesce.2</text>
<text x="0" y="0" font-size="14.5" text-anchor="middle" fill="#111" stroke="#111" stroke-width="0.3" transform="translate(20.8 393.6) rotate(-90) scale(0.6 1)">Signatures</text>
<line x1="57.8" y1="551.3" x2="110.7" y2="551.3" stroke="#000" stroke-width="1.3" />
<text x="84.2" y="563.8" font-size="10.4" text-anchor="middle" font-weight="normal" font-style="normal" fill="#111" >Subtype</text>
<line x1="125.4" y1="551.3" x2="225.8" y2="551.3" stroke="#000" stroke-width="1.3" />
<text x="175.3" y="566.6" font-size="10.4" text-anchor="middle" font-weight="normal" font-style="normal" fill="#111" >B cell differentiation</text>
<line x1="239.7" y1="551.3" x2="332.0" y2="551.3" stroke="#000" stroke-width="1.3" />
<text x="286.0" y="566.6" font-size="10.4" text-anchor="middle" font-weight="normal" font-style="normal" fill="#111" >Oncogenic</text>
<text x="286.0" y="580.0" font-size="10.4" text-anchor="middle" font-weight="normal" font-style="normal" fill="#111" >signaling</text>
<line x1="345.0" y1="551.3" x2="390.0" y2="551.3" stroke="#000" stroke-width="1.3" />
<text x="367.9" y="566.6" font-size="10.4" text-anchor="middle" font-weight="normal" font-style="normal" fill="#111" >Antigen</text>
<text x="367.9" y="580.0" font-size="10.4" text-anchor="middle" font-weight="normal" font-style="normal" fill="#111" >presentation</text>
<line x1="402.0" y1="551.3" x2="444.3" y2="551.3" stroke="#000" stroke-width="1.3" />
<text x="423.1" y="566.6" font-size="10.4" text-anchor="middle" font-weight="normal" font-style="normal" fill="#111" >Proliferation</text>
<line x1="55.1" y1="635.2" x2="55.1" y2="796.2" stroke="#000" stroke-width="1.3" />
<line x1="54.5" y1="795.6" x2="158.2" y2="795.6" stroke="#000" stroke-width="1.3" />
<line x1="50.9" y1="640.4" x2="55.1" y2="640.4" stroke="#000" stroke-width="1.2" />
<text x="47.5" y="644.3" font-size="11" text-anchor="end" font-weight="normal" font-style="normal" fill="#111" >40</text>
<line x1="50.9" y1="679.2" x2="55.1" y2="679.2" stroke="#000" stroke-width="1.2" />
<text x="47.5" y="683.1" font-size="11" text-anchor="end" font-weight="normal" font-style="normal" fill="#111" >20</text>
<line x1="50.9" y1="718.0" x2="55.1" y2="718.0" stroke="#000" stroke-width="1.2" />
<text x="47.5" y="721.9" font-size="11" text-anchor="end" font-weight="normal" font-style="normal" fill="#111" >0</text>
<line x1="50.9" y1="756.8" x2="55.1" y2="756.8" stroke="#000" stroke-width="1.2" />
<text x="47.5" y="760.6999999999999" font-size="11" text-anchor="end" font-weight="normal" font-style="normal" fill="#111" >−20</text>
<line x1="50.9" y1="795.6" x2="55.1" y2="795.6" stroke="#000" stroke-width="1.2" />
<text x="47.5" y="799.5" font-size="11" text-anchor="end" font-weight="normal" font-style="normal" fill="#111" >−40</text>
<line x1="84.1" y1="795.6" x2="84.1" y2="799.8000000000001" stroke="#000" stroke-width="1.2" />
<line x1="128.9" y1="795.6" x2="128.9" y2="799.8000000000001" stroke="#000" stroke-width="1.2" />
<text x="107.4" y="626.4" font-size="13" text-anchor="middle" font-weight="normal" font-style="normal" fill="#111" >ABC</text>
<text x="105.6" y="646.9" font-size="11" text-anchor="middle" font-weight="normal" font-style="normal" fill="#111" >p&lt;.001</text>
<path d="M79.4 655.2 V651.3 H133.6 V655.2" fill="none" stroke="#222" stroke-width="1.4"/>
<text x="84.1" y="810.9" font-size="11" text-anchor="middle" font-weight="normal" font-style="normal" fill="#111" >HBsAg+</text>
<text x="128.9" y="810.9" font-size="11" text-anchor="middle" font-weight="normal" font-style="normal" fill="#111" >HBsAg−</text>
<text x="0" y="0" font-size="14.5" text-anchor="middle" fill="#111" stroke="#111" stroke-width="0.3" transform="translate(21.1 715.1) rotate(-90) scale(0.6 1)">Scores</text>
<line x1="70.4" y1="706.9" x2="99.8" y2="706.9" stroke="#000" stroke-width="1.4" />
<line x1="114.5" y1="719.5" x2="144.8" y2="719.5" stroke="#000" stroke-width="1.4" />
<circle cx="82.5" cy="675.3" r="2.1" fill="#c8102e"/>
<circle cx="87.0" cy="676.6" r="2.1" fill="#c8102e"/>
<circle cx="83.0" cy="692.2" r="2.1" fill="#c8102e"/>
<circle cx="86.5" cy="691.3" r="2.1" fill="#c8102e"/>
<circle cx="78.7" cy="698.2" r="2.1" fill="#c8102e"/>
<circle cx="82.5" cy="699.1" r="2.1" fill="#c8102e"/>
<circle cx="86.0" cy="700.8" r="2.1" fill="#c8102e"/>
<circle cx="89.8" cy="702.2" r="2.1" fill="#c8102e"/>
<circle cx="93.7" cy="704.8" r="2.1" fill="#c8102e"/>
<circle cx="72.1" cy="705.8" r="2.1" fill="#c8102e"/>
<circle cx="75.6" cy="706.2" r="2.1" fill="#c8102e"/>
<circle cx="86.3" cy="706.2" r="2.1" fill="#c8102e"/>
<circle cx="97.2" cy="707.4" r="2.1" fill="#c8102e"/>
<circle cx="76.8" cy="710.3" r="2.1" fill="#c8102e"/>
<circle cx="83.0" cy="712.1" r="2.1" fill="#c8102e"/>
<circle cx="86.8" cy="711.7" r="2.1" fill="#c8102e"/>
<circle cx="90.8" cy="710.9" r="2.1" fill="#c8102e"/>
<circle cx="93.7" cy="710.9" r="2.1" fill="#c8102e"/>
<circle cx="90.3" cy="715.7" r="2.1" fill="#c8102e"/>
<circle cx="83.4" cy="719.0" r="2.1" fill="#c8102e"/>
<circle cx="87.2" cy="719.0" r="2.1" fill="#c8102e"/>
<circle cx="90.6" cy="722.1" r="2.1" fill="#c8102e"/>
<circle cx="84.7" cy="732.5" r="2.1" fill="#c8102e"/>
<circle cx="80.0" cy="707.5" r="2.1" fill="#c8102e"/>
<circle cx="129.2" cy="696.8" r="2.1" fill="#11528c"/>
<circle cx="127.3" cy="699.5" r="2.1" fill="#11528c"/>
<circle cx="131.8" cy="699.6" r="2.1" fill="#11528c"/>
<circle cx="125.0" cy="702.8" r="2.1" fill="#11528c"/>
<circle cx="133.3" cy="703.1" r="2.1" fill="#11528c"/>
<circle cx="124.2" cy="705.6" r="2.1" fill="#11528c"/>
<circle cx="133.5" cy="706.1" r="2.1" fill="#11528c"/>
<circle cx="126.7" cy="708.1" r="2.1" fill="#11528c"/>
<circle cx="132.3" cy="709.1" r="2.1" fill="#11528c"/>
<circle cx="118.7" cy="711.1" r="2.1" fill="#11528c"/>
<circle cx="122.1" cy="710.5" r="2.1" fill="#11528c"/>
<circle cx="127.0" cy="710.5" r="2.1" fill="#11528c"/>
<circle cx="130.7" cy="710.7" r="2.1" fill="#11528c"/>
<circle cx="135.0" cy="711.0" r="2.1" fill="#11528c"/>
<circle cx="139.4" cy="711.4" r="2.1" fill="#11528c"/>
<circle cx="116.5" cy="713.7" r="2.1" fill="#11528c"/>
<circle cx="120.5" cy="713.7" r="2.1" fill="#11528c"/>
<circle cx="124.5" cy="713.3" r="2.1" fill="#11528c"/>
<circle cx="129.0" cy="714.0" r="2.1" fill="#11528c"/>
<circle cx="132.9" cy="713.7" r="2.1" fill="#11528c"/>
<circle cx="136.3" cy="713.2" r="2.1" fill="#11528c"/>
<circle cx="140.3" cy="713.0" r="2.1" fill="#11528c"/>
<circle cx="115.8" cy="716.1" r="2.1" fill="#11528c"/>
<circle cx="119.9" cy="716.1" r="2.1" fill="#11528c"/>
<circle cx="124.0" cy="716.6" r="2.1" fill="#11528c"/>
<circle cx="127.0" cy="715.9" r="2.1" fill="#11528c"/>
<circle cx="132.0" cy="716.2" r="2.1" fill="#11528c"/>
<circle cx="136.0" cy="716.1" r="2.1" fill="#11528c"/>
<circle cx="139.0" cy="716.3" r="2.1" fill="#11528c"/>
<circle cx="142.8" cy="715.9" r="2.1" fill="#11528c"/>
<circle cx="115.5" cy="718.6" r="2.1" fill="#11528c"/>
<circle cx="120.5" cy="719.1" r="2.1" fill="#11528c"/>
<circle cx="123.6" cy="718.5" r="2.1" fill="#11528c"/>
<circle cx="127.6" cy="718.3" r="2.1" fill="#11528c"/>
<circle cx="132.3" cy="718.4" r="2.1" fill="#11528c"/>
<circle cx="136.1" cy="718.7" r="2.1" fill="#11528c"/>
<circle cx="139.7" cy="719.1" r="2.1" fill="#11528c"/>
<circle cx="115.1" cy="721.6" r="2.1" fill="#11528c"/>
<circle cx="119.1" cy="721.3" r="2.1" fill="#11528c"/>
<circle cx="123.2" cy="721.1" r="2.1" fill="#11528c"/>
<circle cx="128.0" cy="721.7" r="2.1" fill="#11528c"/>
<circle cx="131.3" cy="721.8" r="2.1" fill="#11528c"/>
<circle cx="135.2" cy="721.3" r="2.1" fill="#11528c"/>
<circle cx="139.9" cy="721.6" r="2.1" fill="#11528c"/>
<circle cx="142.4" cy="721.9" r="2.1" fill="#11528c"/>
<circle cx="116.2" cy="723.7" r="2.1" fill="#11528c"/>
<circle cx="121.3" cy="723.8" r="2.1" fill="#11528c"/>
<circle cx="125.3" cy="723.5" r="2.1" fill="#11528c"/>
<circle cx="129.5" cy="724.1" r="2.1" fill="#11528c"/>
<circle cx="134.2" cy="724.1" r="2.1" fill="#11528c"/>
<circle cx="138.9" cy="723.9" r="2.1" fill="#11528c"/>
<circle cx="123.5" cy="726.6" r="2.1" fill="#11528c"/>
<circle cx="127.1" cy="727.0" r="2.1" fill="#11528c"/>
<circle cx="130.7" cy="726.2" r="2.1" fill="#11528c"/>
<circle cx="134.4" cy="726.9" r="2.1" fill="#11528c"/>
<circle cx="124.2" cy="728.9" r="2.1" fill="#11528c"/>
<circle cx="128.8" cy="729.7" r="2.1" fill="#11528c"/>
<circle cx="132.2" cy="729.7" r="2.1" fill="#11528c"/>
<circle cx="125.9" cy="731.9" r="2.1" fill="#11528c"/>
<circle cx="129.4" cy="731.4" r="2.1" fill="#11528c"/>
<circle cx="132.5" cy="732.3" r="2.1" fill="#11528c"/>
<circle cx="125.2" cy="734.6" r="2.1" fill="#11528c"/>
<circle cx="129.2" cy="734.8" r="2.1" fill="#11528c"/>
<circle cx="133.1" cy="734.2" r="2.1" fill="#11528c"/>
<circle cx="126.1" cy="737.2" r="2.1" fill="#11528c"/>
<circle cx="131.0" cy="736.7" r="2.1" fill="#11528c"/>
<circle cx="127.1" cy="740.0" r="2.1" fill="#11528c"/>
<circle cx="131.1" cy="739.4" r="2.1" fill="#11528c"/>
<circle cx="128.5" cy="741.9" r="2.1" fill="#11528c"/>
<circle cx="130.5" cy="741.9" r="2.1" fill="#11528c"/>
<circle cx="129.5" cy="744.9" r="2.1" fill="#11528c"/>
<circle cx="129.9" cy="753.6" r="2.1" fill="#11528c"/>
<circle cx="128.3" cy="756.3" r="2.1" fill="#11528c"/>
<circle cx="129.4" cy="759.8" r="2.1" fill="#11528c"/>
<circle cx="130.6" cy="767.9" r="2.1" fill="#11528c"/>
<circle cx="128.9" cy="771.7" r="2.1" fill="#11528c"/>
<line x1="232.3" y1="635.2" x2="232.3" y2="796.2" stroke="#000" stroke-width="1.3" />
<line x1="231.70000000000002" y1="795.6" x2="335.6" y2="795.6" stroke="#000" stroke-width="1.3" />
<line x1="228.10000000000002" y1="640.4" x2="232.3" y2="640.4" stroke="#000" stroke-width="1.2" />
<text x="224.70000000000002" y="644.3" font-size="11" text-anchor="end" font-weight="normal" font-style="normal" fill="#111" >20</text>
<line x1="228.10000000000002" y1="671.4" x2="232.3" y2="671.4" stroke="#000" stroke-width="1.2" />
<text x="224.70000000000002" y="675.3" font-size="11" text-anchor="end" font-weight="normal" font-style="normal" fill="#111" >10</text>
<line x1="228.10000000000002" y1="702.3" x2="232.3" y2="702.3" stroke="#000" stroke-width="1.2" />
<text x="224.70000000000002" y="706.1999999999999" font-size="11" text-anchor="end" font-weight="normal" font-style="normal" fill="#111" >0</text>
<line x1="228.10000000000002" y1="733.4" x2="232.3" y2="733.4" stroke="#000" stroke-width="1.2" />
<text x="224.70000000000002" y="737.3" font-size="11" text-anchor="end" font-weight="normal" font-style="normal" fill="#111" >−10</text>
<line x1="228.10000000000002" y1="764.5" x2="232.3" y2="764.5" stroke="#000" stroke-width="1.2" />
<text x="224.70000000000002" y="768.4" font-size="11" text-anchor="end" font-weight="normal" font-style="normal" fill="#111" >−20</text>
<line x1="228.10000000000002" y1="795.6" x2="232.3" y2="795.6" stroke="#000" stroke-width="1.2" />
<text x="224.70000000000002" y="799.5" font-size="11" text-anchor="end" font-weight="normal" font-style="normal" fill="#111" >−30</text>
<line x1="261.5" y1="795.6" x2="261.5" y2="799.8000000000001" stroke="#000" stroke-width="1.2" />
<line x1="306.3" y1="795.6" x2="306.3" y2="799.8000000000001" stroke="#000" stroke-width="1.2" />
<text x="284.3" y="626.4" font-size="13" text-anchor="middle" font-weight="normal" font-style="normal" fill="#111" >GCB</text>
<text x="283.3" y="646.9" font-size="11" text-anchor="middle" font-weight="normal" font-style="normal" fill="#111" >p=.049</text>
<path d="M256.5 655.2 V651.3 H310.0 V655.2" fill="none" stroke="#222" stroke-width="1.4"/>
<text x="261.5" y="810.9" font-size="11" text-anchor="middle" font-weight="normal" font-style="normal" fill="#111" >HBsAg+</text>
<text x="306.3" y="810.9" font-size="11" text-anchor="middle" font-weight="normal" font-style="normal" fill="#111" >HBsAg−</text>
<text x="0" y="0" font-size="14.5" text-anchor="middle" fill="#111" stroke="#111" stroke-width="0.3" transform="translate(198.0 715.1) rotate(-90) scale(0.6 1)">Scores</text>
<line x1="246.9" y1="701.9" x2="276.9" y2="701.9" stroke="#000" stroke-width="1.4" />
<line x1="291.1" y1="696.0" x2="321.3" y2="696.0" stroke="#000" stroke-width="1.4" />
<circle cx="258.2" cy="683.4" r="2.1" fill="#c8102e"/>
<circle cx="262.0" cy="685.4" r="2.1" fill="#c8102e"/>
<circle cx="265.6" cy="684.2" r="2.1" fill="#c8102e"/>
<circle cx="253.0" cy="692.9" r="2.1" fill="#c8102e"/>
<circle cx="249.5" cy="697.2" r="2.1" fill="#c8102e"/>
<circle cx="259.9" cy="696.9" r="2.1" fill="#c8102e"/>
<circle cx="267.2" cy="695.8" r="2.1" fill="#c8102e"/>
<circle cx="271.2" cy="698.4" r="2.1" fill="#c8102e"/>
<circle cx="274.6" cy="698.9" r="2.1" fill="#c8102e"/>
<circle cx="256.8" cy="699.8" r="2.1" fill="#c8102e"/>
<circle cx="263.4" cy="699.8" r="2.1" fill="#c8102e"/>
<circle cx="259.9" cy="702.1" r="2.1" fill="#c8102e"/>
<circle cx="267.7" cy="701.5" r="2.1" fill="#c8102e"/>
<circle cx="256.4" cy="708.1" r="2.1" fill="#c8102e"/>
<circle cx="260.2" cy="710.5" r="2.1" fill="#c8102e"/>
<circle cx="267.2" cy="706.4" r="2.1" fill="#c8102e"/>
<circle cx="259.9" cy="718.5" r="2.1" fill="#c8102e"/>
<circle cx="267.2" cy="718.0" r="2.1" fill="#c8102e"/>
<circle cx="256.1" cy="721.8" r="2.1" fill="#c8102e"/>
<circle cx="263.4" cy="722.0" r="2.1" fill="#c8102e"/>
<circle cx="263.7" cy="726.6" r="2.1" fill="#c8102e"/>
<circle cx="259.9" cy="730.1" r="2.1" fill="#c8102e"/>
<circle cx="259.9" cy="741.0" r="2.1" fill="#c8102e"/>
<circle cx="263.9" cy="739.6" r="2.1" fill="#c8102e"/>
<circle cx="306.2" cy="664.9" r="2.1" fill="#11528c"/>
<circle cx="301.7" cy="671.1" r="2.1" fill="#11528c"/>
<circle cx="303.9" cy="671.4" r="2.1" fill="#11528c"/>
<circle cx="308.0" cy="671.8" r="2.1" fill="#11528c"/>
<circle cx="311.5" cy="671.6" r="2.1" fill="#11528c"/>
<circle cx="305.4" cy="675.6" r="2.1" fill="#11528c"/>
<circle cx="307.6" cy="675.3" r="2.1" fill="#11528c"/>
<circle cx="303.3" cy="679.4" r="2.1" fill="#11528c"/>
<circle cx="308.6" cy="679.4" r="2.1" fill="#11528c"/>
<circle cx="306.3" cy="681.7" r="2.1" fill="#11528c"/>
<circle cx="304.3" cy="683.7" r="2.1" fill="#11528c"/>
<circle cx="309.0" cy="683.3" r="2.1" fill="#11528c"/>
<circle cx="303.0" cy="687.3" r="2.1" fill="#11528c"/>
<circle cx="309.8" cy="686.4" r="2.1" fill="#11528c"/>
<circle cx="318.0" cy="687.3" r="2.1" fill="#11528c"/>
<circle cx="294.1" cy="689.1" r="2.1" fill="#11528c"/>
<circle cx="298.1" cy="689.0" r="2.1" fill="#11528c"/>
<circle cx="302.6" cy="688.8" r="2.1" fill="#11528c"/>
<circle cx="306.7" cy="688.7" r="2.1" fill="#11528c"/>
<circle cx="310.1" cy="689.5" r="2.1" fill="#11528c"/>
<circle cx="314.4" cy="689.1" r="2.1" fill="#11528c"/>
<circle cx="318.9" cy="689.2" r="2.1" fill="#11528c"/>
<circle cx="293.4" cy="691.1" r="2.1" fill="#11528c"/>
<circle cx="297.7" cy="692.1" r="2.1" fill="#11528c"/>
<circle cx="302.0" cy="691.8" r="2.1" fill="#11528c"/>
<circle cx="305.3" cy="691.4" r="2.1" fill="#11528c"/>
<circle cx="309.7" cy="691.8" r="2.1" fill="#11528c"/>
<circle cx="313.1" cy="691.3" r="2.1" fill="#11528c"/>
<circle cx="317.3" cy="691.6" r="2.1" fill="#11528c"/>
<circle cx="292.8" cy="694.0" r="2.1" fill="#11528c"/>
<circle cx="296.0" cy="694.4" r="2.1" fill="#11528c"/>
<circle cx="300.4" cy="694.0" r="2.1" fill="#11528c"/>
<circle cx="304.2" cy="693.9" r="2.1" fill="#11528c"/>
<circle cx="308.4" cy="694.3" r="2.1" fill="#11528c"/>
<circle cx="312.1" cy="694.1" r="2.1" fill="#11528c"/>
<circle cx="316.1" cy="694.2" r="2.1" fill="#11528c"/>
<circle cx="295.0" cy="696.2" r="2.1" fill="#11528c"/>
<circle cx="299.3" cy="696.6" r="2.1" fill="#11528c"/>
<circle cx="303.0" cy="696.4" r="2.1" fill="#11528c"/>
<circle cx="307.2" cy="696.2" r="2.1" fill="#11528c"/>
<circle cx="311.5" cy="696.9" r="2.1" fill="#11528c"/>
<circle cx="315.5" cy="696.9" r="2.1" fill="#11528c"/>
<circle cx="299.1" cy="699.3" r="2.1" fill="#11528c"/>
<circle cx="303.4" cy="698.5" r="2.1" fill="#11528c"/>
<circle cx="307.8" cy="699.3" r="2.1" fill="#11528c"/>
<circle cx="311.0" cy="698.5" r="2.1" fill="#11528c"/>
<circle cx="299.3" cy="701.0" r="2.1" fill="#11528c"/>
<circle cx="302.7" cy="700.7" r="2.1" fill="#11528c"/>
<circle cx="306.5" cy="701.3" r="2.1" fill="#11528c"/>
<circle cx="311.5" cy="701.7" r="2.1" fill="#11528c"/>
<circle cx="314.0" cy="700.7" r="2.1" fill="#11528c"/>
<circle cx="300.3" cy="703.9" r="2.1" fill="#11528c"/>
<circle cx="304.9" cy="703.8" r="2.1" fill="#11528c"/>
<circle cx="308.2" cy="703.6" r="2.1" fill="#11528c"/>
<circle cx="312.5" cy="703.7" r="2.1" fill="#11528c"/>
<circle cx="302.2" cy="706.5" r="2.1" fill="#11528c"/>
<circle cx="306.9" cy="705.6" r="2.1" fill="#11528c"/>
<circle cx="310.3" cy="706.4" r="2.1" fill="#11528c"/>
<circle cx="302.3" cy="708.9" r="2.1" fill="#11528c"/>
<circle cx="306.5" cy="708.6" r="2.1" fill="#11528c"/>
<circle cx="310.2" cy="708.1" r="2.1" fill="#11528c"/>
<circle cx="303.3" cy="710.5" r="2.1" fill="#11528c"/>
<circle cx="308.2" cy="711.0" r="2.1" fill="#11528c"/>
<circle cx="303.1" cy="713.6" r="2.1" fill="#11528c"/>
<circle cx="308.4" cy="712.9" r="2.1" fill="#11528c"/>
<circle cx="303.9" cy="716.1" r="2.1" fill="#11528c"/>
<circle cx="308.6" cy="715.7" r="2.1" fill="#11528c"/>
<circle cx="304.5" cy="718.5" r="2.1" fill="#11528c"/>
<circle cx="308.3" cy="717.9" r="2.1" fill="#11528c"/>
<circle cx="306.0" cy="720.5" r="2.1" fill="#11528c"/>
<circle cx="305.3" cy="726.1" r="2.1" fill="#11528c"/>
<circle cx="307.8" cy="725.9" r="2.1" fill="#11528c"/>
<circle cx="304.3" cy="728.6" r="2.1" fill="#11528c"/>
<circle cx="307.5" cy="728.7" r="2.1" fill="#11528c"/>
<circle cx="303.9" cy="731.3" r="2.1" fill="#11528c"/>
<circle cx="307.9" cy="731.5" r="2.1" fill="#11528c"/>
<circle cx="305.0" cy="733.8" r="2.1" fill="#11528c"/>
<circle cx="308.4" cy="733.1" r="2.1" fill="#11528c"/>
<circle cx="306.0" cy="735.9" r="2.1" fill="#11528c"/>
<circle cx="306.5" cy="741.8" r="2.1" fill="#11528c"/>
<circle cx="306.3" cy="760.0" r="2.1" fill="#11528c"/>
<circle cx="306.2" cy="769.4" r="2.1" fill="#11528c"/>
<circle cx="306.4" cy="776.3" r="2.1" fill="#11528c"/>
<line x1="405.6" y1="635.2" x2="405.6" y2="796.2" stroke="#000" stroke-width="1.3" />
<line x1="405.0" y1="795.6" x2="509.3" y2="795.6" stroke="#000" stroke-width="1.3" />
<line x1="401.40000000000003" y1="640.4" x2="405.6" y2="640.4" stroke="#000" stroke-width="1.2" />
<text x="398.0" y="644.3" font-size="11" text-anchor="end" font-weight="normal" font-style="normal" fill="#111" >40</text>
<line x1="401.40000000000003" y1="671.4" x2="405.6" y2="671.4" stroke="#000" stroke-width="1.2" />
<text x="398.0" y="675.3" font-size="11" text-anchor="end" font-weight="normal" font-style="normal" fill="#111" >20</text>
<line x1="401.40000000000003" y1="702.3" x2="405.6" y2="702.3" stroke="#000" stroke-width="1.2" />
<text x="398.0" y="706.1999999999999" font-size="11" text-anchor="end" font-weight="normal" font-style="normal" fill="#111" >0</text>
<line x1="401.40000000000003" y1="733.4" x2="405.6" y2="733.4" stroke="#000" stroke-width="1.2" />
<text x="398.0" y="737.3" font-size="11" text-anchor="end" font-weight="normal" font-style="normal" fill="#111" >−20</text>
<line x1="401.40000000000003" y1="764.5" x2="405.6" y2="764.5" stroke="#000" stroke-width="1.2" />
<text x="398.0" y="768.4" font-size="11" text-anchor="end" font-weight="normal" font-style="normal" fill="#111" >−40</text>
<line x1="401.40000000000003" y1="795.6" x2="405.6" y2="795.6" stroke="#000" stroke-width="1.2" />
<text x="398.0" y="799.5" font-size="11" text-anchor="end" font-weight="normal" font-style="normal" fill="#111" >−60</text>
<line x1="434.9" y1="795.6" x2="434.9" y2="799.8000000000001" stroke="#000" stroke-width="1.2" />
<line x1="479.0" y1="795.6" x2="479.0" y2="799.8000000000001" stroke="#000" stroke-width="1.2" />
<text x="456.9" y="626.4" font-size="13" text-anchor="middle" font-weight="normal" font-style="normal" fill="#111" >Subtype score</text>
<text x="455.3" y="646.9" font-size="11" text-anchor="middle" font-weight="normal" font-style="normal" fill="#111" >p=.028</text>
<path d="M428.5 655.2 V651.3 H483.0 V655.2" fill="none" stroke="#222" stroke-width="1.4"/>
<text x="434.9" y="810.9" font-size="11" text-anchor="middle" font-weight="normal" font-style="normal" fill="#111" >HBsAg+</text>
<text x="479.0" y="810.9" font-size="11" text-anchor="middle" font-weight="normal" font-style="normal" fill="#111" >HBsAg−</text>
<text x="0" y="0" font-size="14.5" text-anchor="middle" fill="#111" stroke="#111" stroke-width="0.3" transform="translate(371.1 715.1) rotate(-90) scale(0.6 1)">Scores</text>
<line x1="419.8" y1="695.0" x2="449.6" y2="695.0" stroke="#000" stroke-width="1.4" />
<line x1="464.3" y1="701.1" x2="494.1" y2="701.1" stroke="#000" stroke-width="1.4" />
<circle cx="434.4" cy="659.5" r="2.1" fill="#c8102e"/>
<circle cx="427.1" cy="681.5" r="2.1" fill="#c8102e"/>
<circle cx="436.6" cy="684.1" r="2.1" fill="#c8102e"/>
<circle cx="441.8" cy="682.4" r="2.1" fill="#c8102e"/>
<circle cx="447.0" cy="685.0" r="2.1" fill="#c8102e"/>
<circle cx="421.9" cy="691.0" r="2.1" fill="#c8102e"/>
<circle cx="427.1" cy="688.4" r="2.1" fill="#c8102e"/>
<circle cx="432.0" cy="691.0" r="2.1" fill="#c8102e"/>
<circle cx="441.8" cy="687.6" r="2.1" fill="#c8102e"/>
<circle cx="441.8" cy="692.4" r="2.1" fill="#c8102e"/>
<circle cx="447.0" cy="692.1" r="2.1" fill="#c8102e"/>
<circle cx="427.1" cy="695.0" r="2.1" fill="#c8102e"/>
<circle cx="432.0" cy="696.4" r="2.1" fill="#c8102e"/>
<circle cx="437.0" cy="695.5" r="2.1" fill="#c8102e"/>
<circle cx="421.9" cy="700.7" r="2.1" fill="#c8102e"/>
<circle cx="432.0" cy="702.8" r="2.1" fill="#c8102e"/>
<circle cx="437.0" cy="702.3" r="2.1" fill="#c8102e"/>
<circle cx="441.8" cy="698.8" r="2.1" fill="#c8102e"/>
<circle cx="427.1" cy="705.0" r="2.1" fill="#c8102e"/>
<circle cx="441.8" cy="704.5" r="2.1" fill="#c8102e"/>
<circle cx="427.1" cy="710.2" r="2.1" fill="#c8102e"/>
<circle cx="437.0" cy="712.8" r="2.1" fill="#c8102e"/>
<circle cx="441.8" cy="711.4" r="2.1" fill="#c8102e"/>
<circle cx="427.1" cy="716.1" r="2.1" fill="#c8102e"/>
<circle cx="477.7" cy="677.2" r="2.1" fill="#11528c"/>
<circle cx="480.1" cy="679.6" r="2.1" fill="#11528c"/>
<circle cx="473.2" cy="684.2" r="2.1" fill="#11528c"/>
<circle cx="478.8" cy="684.2" r="2.1" fill="#11528c"/>
<circle cx="475.8" cy="686.6" r="2.1" fill="#11528c"/>
<circle cx="479.0" cy="686.7" r="2.1" fill="#11528c"/>
<circle cx="483.3" cy="686.9" r="2.1" fill="#11528c"/>
<circle cx="474.4" cy="689.6" r="2.1" fill="#11528c"/>
<circle cx="477.5" cy="689.3" r="2.1" fill="#11528c"/>
<circle cx="481.6" cy="689.9" r="2.1" fill="#11528c"/>
<circle cx="485.3" cy="689.8" r="2.1" fill="#11528c"/>
<circle cx="466.9" cy="692.3" r="2.1" fill="#11528c"/>
<circle cx="470.5" cy="692.3" r="2.1" fill="#11528c"/>
<circle cx="473.7" cy="692.4" r="2.1" fill="#11528c"/>
<circle cx="478.0" cy="692.3" r="2.1" fill="#11528c"/>
<circle cx="482.1" cy="691.9" r="2.1" fill="#11528c"/>
<circle cx="485.9" cy="691.9" r="2.1" fill="#11528c"/>
<circle cx="489.8" cy="691.6" r="2.1" fill="#11528c"/>
<circle cx="465.4" cy="694.7" r="2.1" fill="#11528c"/>
<circle cx="469.5" cy="694.6" r="2.1" fill="#11528c"/>
<circle cx="473.1" cy="694.7" r="2.1" fill="#11528c"/>
<circle cx="476.6" cy="694.6" r="2.1" fill="#11528c"/>
<circle cx="480.9" cy="694.0" r="2.1" fill="#11528c"/>
<circle cx="484.7" cy="694.4" r="2.1" fill="#11528c"/>
<circle cx="489.2" cy="694.4" r="2.1" fill="#11528c"/>
<circle cx="492.9" cy="694.3" r="2.1" fill="#11528c"/>
<circle cx="470.1" cy="696.8" r="2.1" fill="#11528c"/>
<circle cx="474.2" cy="696.5" r="2.1" fill="#11528c"/>
<circle cx="478.2" cy="696.7" r="2.1" fill="#11528c"/>
<circle cx="482.0" cy="697.0" r="2.1" fill="#11528c"/>
<circle cx="486.5" cy="696.7" r="2.1" fill="#11528c"/>
<circle cx="469.7" cy="699.7" r="2.1" fill="#11528c"/>
<circle cx="473.0" cy="698.8" r="2.1" fill="#11528c"/>
<circle cx="477.8" cy="699.6" r="2.1" fill="#11528c"/>
<circle cx="481.7" cy="698.8" r="2.1" fill="#11528c"/>
<circle cx="485.4" cy="699.6" r="2.1" fill="#11528c"/>
<circle cx="488.4" cy="699.5" r="2.1" fill="#11528c"/>
<circle cx="469.7" cy="702.0" r="2.1" fill="#11528c"/>
<circle cx="473.9" cy="701.8" r="2.1" fill="#11528c"/>
<circle cx="477.6" cy="702.1" r="2.1" fill="#11528c"/>
<circle cx="482.1" cy="701.8" r="2.1" fill="#11528c"/>
<circle cx="485.7" cy="701.7" r="2.1" fill="#11528c"/>
<circle cx="471.1" cy="704.1" r="2.1" fill="#11528c"/>
<circle cx="474.8" cy="704.3" r="2.1" fill="#11528c"/>
<circle cx="478.8" cy="703.8" r="2.1" fill="#11528c"/>
<circle cx="482.6" cy="704.2" r="2.1" fill="#11528c"/>
<circle cx="486.1" cy="703.7" r="2.1" fill="#11528c"/>
<circle cx="470.5" cy="706.6" r="2.1" fill="#11528c"/>
<circle cx="475.1" cy="706.4" r="2.1" fill="#11528c"/>
<circle cx="478.5" cy="706.3" r="2.1" fill="#11528c"/>
<circle cx="482.8" cy="706.0" r="2.1" fill="#11528c"/>
<circle cx="486.5" cy="706.9" r="2.1" fill="#11528c"/>
<circle cx="471.6" cy="708.6" r="2.1" fill="#11528c"/>
<circle cx="475.7" cy="708.9" r="2.1" fill="#11528c"/>
<circle cx="479.5" cy="708.8" r="2.1" fill="#11528c"/>
<circle cx="484.4" cy="709.2" r="2.1" fill="#11528c"/>
<circle cx="472.5" cy="711.0" r="2.1" fill="#11528c"/>
<circle cx="477.0" cy="711.7" r="2.1" fill="#11528c"/>
<circle cx="481.0" cy="711.2" r="2.1" fill="#11528c"/>
<circle cx="485.2" cy="711.0" r="2.1" fill="#11528c"/>
<circle cx="474.5" cy="713.6" r="2.1" fill="#11528c"/>
<circle cx="479.5" cy="713.9" r="2.1" fill="#11528c"/>
<circle cx="482.7" cy="713.8" r="2.1" fill="#11528c"/>
<circle cx="474.9" cy="715.7" r="2.1" fill="#11528c"/>
<circle cx="478.6" cy="715.8" r="2.1" fill="#11528c"/>
<circle cx="481.7" cy="715.8" r="2.1" fill="#11528c"/>
<circle cx="474.7" cy="718.2" r="2.1" fill="#11528c"/>
<circle cx="478.5" cy="718.3" r="2.1" fill="#11528c"/>
<circle cx="474.3" cy="721.3" r="2.1" fill="#11528c"/>
<circle cx="478.6" cy="720.5" r="2.1" fill="#11528c"/>
<circle cx="477.8" cy="723.2" r="2.1" fill="#11528c"/>
<circle cx="481.5" cy="723.6" r="2.1" fill="#11528c"/>
<circle cx="478.7" cy="728.6" r="2.1" fill="#11528c"/>
<circle cx="477.8" cy="733.3" r="2.1" fill="#11528c"/>
<circle cx="480.1" cy="735.7" r="2.1" fill="#11528c"/>
<circle cx="479.5" cy="742.3" r="2.1" fill="#11528c"/>
<circle cx="480.9" cy="744.6" r="2.1" fill="#11528c"/>
<circle cx="477.1" cy="746.7" r="2.1" fill="#11528c"/>
<circle cx="479.0" cy="774.6" r="2.1" fill="#11528c"/>
</svg></body></html>
